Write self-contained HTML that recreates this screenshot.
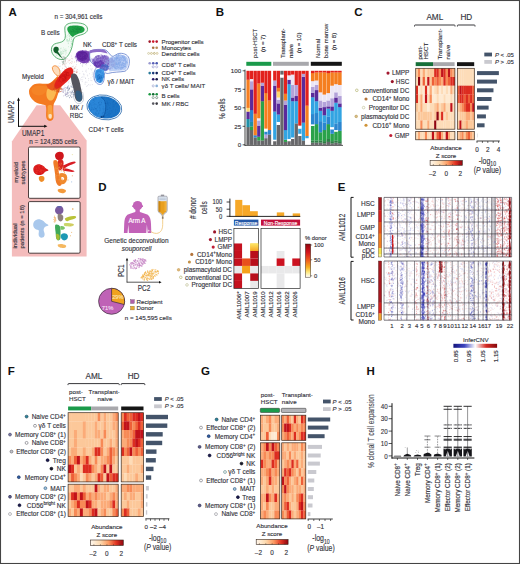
<!DOCTYPE html>
<html lang="en"><head><meta charset="utf-8"><title>Figure</title>
<style>
html,body{margin:0;padding:0;background:#fff;}
body{width:520px;height:564px;overflow:hidden;}
svg{display:block;font-family:"Liberation Sans", sans-serif;}
</style></head><body>
<svg width="520" height="564" viewBox="0 0 520 564">
<rect x="0.00" y="0.00" width="520.00" height="564.00" fill="#fff"/>
<path d="M36.6 105.2 L60.2 105.2 L86.6 140.6 L86.6 256.4 L11.9 256.4 L11.9 141.6 Z" fill="#f4bcbc"/>
<g>
<path d="M74.2 78.3h.01M74.5 68.1h.01M65.0 69.6h.01M92.6 76.6h.01M92.1 74.8h.01M84.0 74.3h.01M60.2 79.5h.01M85.4 78.0h.01M63.1 59.4h.01M65.7 66.7h.01M82.7 71.4h.01M85.5 64.5h.01M82.7 76.9h.01M70.9 87.2h.01M85.1 84.4h.01M69.4 63.6h.01M72.7 70.7h.01M87.3 75.0h.01M71.9 61.3h.01M71.4 84.7h.01M66.5 74.9h.01M83.1 57.5h.01M78.6 85.6h.01M57.7 69.3h.01M76.5 62.4h.01M85.5 71.2h.01M61.3 79.7h.01M86.9 82.3h.01M95.4 75.6h.01M79.5 58.4h.01M86.7 64.9h.01M72.3 58.9h.01M65.0 66.1h.01M89.5 57.2h.01M60.3 74.4h.01M95.1 77.6h.01M64.8 57.7h.01M83.1 63.4h.01M64.4 81.7h.01M92.8 73.7h.01M81.7 77.4h.01M96.0 77.7h.01M85.5 78.5h.01M62.1 82.6h.01M90.9 77.9h.01M58.3 66.8h.01M86.6 56.8h.01M75.5 83.4h.01M64.9 85.1h.01M86.2 70.2h.01M82.7 79.8h.01M79.6 84.5h.01M68.4 67.1h.01M92.2 72.3h.01M66.7 81.9h.01M95.5 67.7h.01M60.8 70.6h.01M75.7 68.3h.01M93.7 62.6h.01M91.9 60.6h.01M67.2 79.1h.01M91.9 80.7h.01M83.3 73.8h.01M80.3 79.0h.01M75.3 75.5h.01M86.6 72.0h.01M88.7 78.5h.01M98.3 74.7h.01M71.6 67.4h.01M77.8 82.6h.01M72.9 76.8h.01M90.8 57.4h.01M63.0 74.7h.01M84.0 75.0h.01M71.8 79.7h.01M82.2 65.6h.01M99.2 74.5h.01M69.7 70.8h.01M74.5 71.2h.01M56.6 68.9h.01M90.0 60.6h.01M77.1 82.9h.01M87.6 85.7h.01M59.0 68.8h.01M73.0 79.5h.01M86.2 55.5h.01M89.9 59.1h.01M85.9 57.9h.01M80.3 84.8h.01M75.7 74.4h.01M89.5 73.7h.01M76.9 87.0h.01M92.2 68.8h.01M98.2 65.1h.01M90.8 69.0h.01M79.9 80.4h.01M81.3 79.7h.01M63.2 60.0h.01M86.2 61.5h.01M66.7 58.8h.01M93.4 79.4h.01M94.4 63.5h.01M78.0 59.6h.01M86.5 86.4h.01M68.2 86.0h.01M91.6 70.0h.01M60.6 82.2h.01M76.6 64.7h.01M84.0 77.0h.01M94.3 62.9h.01M90.1 85.0h.01M95.7 70.2h.01M68.4 82.8h.01M79.8 73.6h.01M95.4 69.4h.01M57.0 69.1h.01M59.2 78.8h.01M82.7 64.7h.01M77.9 81.7h.01M79.0 85.8h.01M77.2 83.6h.01M92.3 84.6h.01M69.0 81.7h.01M59.9 63.4h.01M59.5 80.2h.01M62.0 71.9h.01M75.0 71.6h.01M69.2 74.8h.01M97.7 72.4h.01M85.1 82.9h.01M75.5 58.7h.01M70.7 83.5h.01M59.7 66.6h.01M90.9 80.3h.01M78.1 81.5h.01M80.2 59.3h.01M60.2 66.1h.01M90.5 65.7h.01M66.1 63.7h.01M59.7 70.9h.01M62.6 75.9h.01M56.9 74.4h.01M71.5 56.0h.01M88.5 68.7h.01M58.1 65.6h.01M82.4 66.4h.01M88.6 80.3h.01M87.7 75.9h.01M94.1 78.5h.01M82.4 55.3h.01M88.5 84.6h.01M73.6 66.2h.01M94.0 60.1h.01M82.1 89.2h.01M65.7 79.5h.01M98.0 71.0h.01M85.6 82.0h.01M65.3 71.0h.01M82.2 81.6h.01M77.5 69.5h.01" stroke="#8a8ab0" stroke-width="0.50" stroke-linecap="round" fill="none" opacity="0.55"/>
<path d="M65.0 65.8h.01M74.6 68.7h.01M65.9 63.0h.01M77.3 71.9h.01M71.9 58.4h.01M73.3 71.2h.01M76.8 70.2h.01M69.6 71.6h.01M63.3 72.5h.01M71.7 63.4h.01M74.5 75.7h.01M64.0 64.4h.01M71.6 69.3h.01M68.0 62.0h.01M77.0 72.3h.01M65.2 61.3h.01M76.4 72.6h.01M76.8 71.8h.01M65.5 69.7h.01M62.7 64.8h.01M69.7 71.6h.01M66.1 67.2h.01M72.5 70.6h.01M73.4 69.4h.01M68.3 73.1h.01M70.3 62.6h.01M66.6 68.0h.01M69.4 69.1h.01M70.0 69.2h.01M69.4 60.6h.01M72.0 74.4h.01M72.4 66.7h.01M72.2 62.0h.01M62.7 68.3h.01M65.5 72.4h.01M67.0 58.8h.01M66.0 75.6h.01M68.3 60.3h.01M66.1 71.3h.01M72.7 69.2h.01M76.2 71.7h.01M69.9 72.0h.01M76.3 72.6h.01M74.5 62.0h.01M69.2 72.8h.01M68.6 74.5h.01M72.9 73.6h.01M69.3 77.8h.01M75.8 66.7h.01M70.3 77.8h.01M68.3 73.6h.01M74.9 68.0h.01M64.4 69.1h.01M71.7 74.8h.01M74.1 68.2h.01M74.3 71.4h.01M71.2 68.4h.01M68.7 72.5h.01M65.0 64.3h.01M70.0 59.9h.01" stroke="#c05040" stroke-width="0.50" stroke-linecap="round" fill="none" opacity="0.6"/>
<path d="M64.8 28 C65 24 70 22.6 75 22.8 C80 23 86 23.2 87.4 28 C88.4 32 84.5 34 80.5 35 C76.5 36 74 37 73.3 40 C72.5 43.5 72.5 46.5 71 50 C69.5 54 66 59.5 62 59.6 C57 59.6 51.5 55 51.4 49.8 C51.3 46 53.5 44 56.5 43.3 C60 42.5 64 42 65 38.5 C66 35 64.6 31.5 64.8 28 Z" fill="#f4fbf5" stroke="#2a9a48" stroke-width="0.75"/>
<path d="M69.2 32.7h.01M68.2 42.9h.01M71.5 39.7h.01M69.5 33.7h.01M73.5 42.0h.01M72.5 36.0h.01M69.6 32.8h.01M71.9 44.4h.01M66.3 39.8h.01M71.2 33.2h.01M66.7 36.2h.01M68.6 33.9h.01M70.1 41.4h.01M71.6 43.6h.01M72.9 44.5h.01M67.0 37.7h.01M67.7 35.3h.01M69.8 40.0h.01M71.0 33.4h.01M67.1 39.9h.01M69.4 38.3h.01M69.8 36.0h.01M71.8 41.9h.01M69.8 36.4h.01M69.7 32.1h.01M67.5 40.2h.01M66.7 40.9h.01M70.3 33.8h.01M69.3 38.3h.01M71.2 43.2h.01M69.9 35.6h.01M69.6 39.6h.01M71.9 41.5h.01M68.4 34.1h.01M69.0 36.1h.01M67.3 39.4h.01M68.7 40.6h.01M71.4 37.8h.01M73.8 38.9h.01M72.7 40.6h.01M71.7 32.9h.01M68.0 41.3h.01M71.0 47.5h.01M70.7 45.9h.01M71.8 44.5h.01M71.4 39.1h.01M71.2 34.8h.01M72.5 35.6h.01M70.4 47.5h.01M69.4 40.1h.01M72.8 40.1h.01M67.9 41.3h.01M71.5 43.6h.01M68.5 46.7h.01M73.5 40.1h.01M70.7 37.7h.01M73.0 37.0h.01M71.8 37.5h.01M68.3 43.6h.01M73.1 40.0h.01" stroke="#7fcf96" stroke-width="0.60" stroke-linecap="round" fill="none" opacity="0.6"/>
<path d="M58.5 54.5h.01M60.8 53.1h.01M65.4 54.7h.01M59.7 56.7h.01M61.0 54.6h.01M58.4 51.9h.01M56.9 55.5h.01M65.0 49.0h.01M57.1 48.5h.01M65.1 50.7h.01M60.7 50.9h.01M60.6 48.7h.01M61.1 48.0h.01M60.7 53.1h.01M62.9 51.2h.01M57.5 52.5h.01M59.5 56.1h.01M64.0 51.6h.01M59.2 49.7h.01M57.5 50.9h.01M62.2 53.7h.01M62.5 56.6h.01M58.2 52.0h.01M66.0 49.2h.01M58.9 52.6h.01M61.6 53.4h.01M60.0 53.3h.01M61.2 54.5h.01M55.9 50.0h.01M61.0 48.8h.01M57.3 53.9h.01M58.5 54.0h.01M63.9 53.0h.01M63.1 51.6h.01M56.2 51.9h.01M62.8 50.2h.01M60.6 54.5h.01M57.8 54.0h.01M66.3 50.7h.01M61.6 51.5h.01M66.0 52.8h.01M64.3 49.9h.01M60.9 52.0h.01M56.5 55.0h.01M63.5 47.9h.01M63.9 51.6h.01M62.8 53.2h.01M56.1 51.4h.01M65.8 50.5h.01M57.8 48.5h.01M56.7 53.0h.01M66.1 53.1h.01M61.6 56.8h.01M59.0 49.8h.01M63.1 53.8h.01M57.7 48.8h.01M62.2 52.9h.01M56.5 51.4h.01M58.8 53.5h.01M60.5 51.7h.01M59.7 55.2h.01M65.7 51.0h.01M64.1 49.7h.01M61.3 54.5h.01M65.9 51.0h.01M60.7 52.7h.01M56.1 52.0h.01M58.3 53.2h.01M58.1 47.8h.01M61.2 52.9h.01" stroke="#8fd4a2" stroke-width="0.60" stroke-linecap="round" fill="none" opacity="0.55"/>
<path d="M67.3 28.5 C67.6 25.8 72 25.4 76 25.6 C80 25.8 84.2 26.4 84.6 29.2 C84.8 32 81.5 32.8 79 33.6 C76.5 34.5 74.5 35.5 73 37 C71.5 36.5 70 34.5 69 33 C67.8 31.5 67.1 30 67.3 28.5 Z" fill="#1fa045"/>
<path d="M73.6 31.2h.01M74.7 28.3h.01M77.8 27.0h.01M72.8 29.5h.01M79.8 29.2h.01M77.4 28.2h.01M77.1 32.1h.01M74.1 32.3h.01M73.0 29.5h.01M76.8 31.4h.01M72.5 27.0h.01M78.7 31.0h.01M77.6 32.4h.01M77.0 30.0h.01M80.1 30.2h.01M81.3 27.8h.01M75.2 26.5h.01M79.7 28.8h.01M78.7 32.2h.01M76.0 29.0h.01M73.8 27.9h.01M73.2 30.7h.01M76.2 29.6h.01M75.2 31.2h.01M78.4 29.2h.01M79.1 29.2h.01M72.1 31.6h.01M78.0 27.7h.01M80.6 30.1h.01M71.3 31.6h.01M77.5 31.2h.01M77.0 29.2h.01M70.7 30.9h.01M76.1 28.9h.01M77.7 29.7h.01M79.1 28.8h.01M75.9 26.7h.01M74.1 30.8h.01M81.3 28.9h.01M75.5 32.0h.01" stroke="#14853a" stroke-width="0.80" stroke-linecap="round" fill="none" opacity="0.8"/>
<path d="M53.8 48 C54.5 46.4 57.4 46.2 58.4 47.8 C59.2 49.4 58.6 50.8 57.8 51.6 C59.2 53.5 61 56 62.6 58.8 C60.8 57.2 58.6 55 57 53.4 C55.2 53.4 53.6 52 53.4 50.2 C53.3 49.2 53.4 48.6 53.8 48 Z" fill="#14602c"/>
<path d="M63.0 62.4h.01M65.4 60.6h.01M65.0 58.9h.01M63.8 60.3h.01M63.7 63.2h.01M65.6 59.5h.01M62.7 61.8h.01M62.1 61.7h.01M64.3 59.8h.01M64.1 57.2h.01M64.4 57.3h.01M62.5 59.1h.01M62.9 62.7h.01M63.6 59.4h.01M64.1 63.8h.01M63.5 61.5h.01M65.1 61.1h.01M62.5 64.0h.01M65.1 57.8h.01M63.4 61.7h.01M64.8 62.1h.01M63.1 57.9h.01M63.6 63.1h.01M62.2 58.2h.01M63.5 56.8h.01" stroke="#506a58" stroke-width="0.50" stroke-linecap="round" fill="none" opacity="0.7"/>
<path d="M75.9 56 C75.2 52 79 50.2 83.5 50.4 C88 50.6 91 52 91.3 55.5 C91.6 59 89.5 62 86 63 C81.5 64 76.6 61 75.9 56 Z" fill="#7b45b5"/>
<path d="M76.8 55.5 C76.6 52.5 80 51 83.5 51.4 C86.5 51.8 88.2 53.5 87.8 56.5 C87.4 59.5 84.5 61.3 81.5 60.8 C78.8 60.2 77 58.2 76.8 55.5 Z" fill="#5a2098"/>
<path d="M82.0 54.9h.01M86.0 53.8h.01M78.8 55.3h.01M83.2 53.9h.01M83.6 60.5h.01M88.1 62.4h.01M79.2 55.1h.01M76.8 61.2h.01M79.4 56.8h.01M86.0 51.7h.01M86.2 56.9h.01M75.9 58.0h.01M87.9 51.4h.01M88.0 58.0h.01M86.2 59.1h.01M89.9 56.1h.01M88.2 55.2h.01M87.3 53.5h.01M83.0 63.2h.01M86.1 56.2h.01M78.0 53.9h.01M84.5 61.2h.01M85.9 59.5h.01M83.3 62.4h.01M81.3 54.4h.01M88.4 57.3h.01M81.9 54.3h.01M82.0 59.9h.01M85.3 52.0h.01M86.0 57.9h.01M78.5 60.2h.01M81.9 55.4h.01M87.2 62.0h.01M79.7 59.0h.01M80.6 63.4h.01M81.1 61.9h.01M80.1 60.5h.01M89.1 51.7h.01M81.0 59.3h.01M83.0 53.9h.01M91.6 57.2h.01M76.7 59.9h.01M76.9 60.7h.01M80.2 57.7h.01M89.8 57.5h.01M78.4 51.8h.01M89.2 59.9h.01M79.3 60.6h.01M86.3 60.0h.01M75.4 56.1h.01M88.1 60.1h.01M86.3 50.5h.01M84.5 59.4h.01M91.4 54.6h.01M81.5 57.2h.01M88.2 55.0h.01M89.0 53.9h.01M85.0 54.5h.01M84.4 53.8h.01M77.0 60.6h.01M85.2 54.4h.01M84.6 61.3h.01M78.3 56.5h.01M86.5 59.4h.01M82.2 50.5h.01M89.7 58.3h.01M83.6 55.6h.01M85.0 55.0h.01M78.4 54.0h.01M80.2 54.2h.01M77.8 59.6h.01M77.3 59.6h.01M78.2 58.5h.01M90.1 57.8h.01M79.4 57.2h.01M84.1 50.8h.01M80.0 57.8h.01M80.8 57.4h.01M87.4 60.3h.01M88.2 59.5h.01M81.8 56.9h.01M81.9 55.5h.01M82.7 50.9h.01M81.5 56.9h.01M78.3 56.9h.01M86.5 56.2h.01M88.8 51.5h.01M82.6 50.7h.01M86.4 63.5h.01M75.2 57.3h.01M86.5 55.6h.01M85.5 50.4h.01M88.1 58.7h.01M83.6 54.2h.01M87.0 54.8h.01M84.8 54.6h.01M75.3 56.9h.01M84.6 60.5h.01M78.7 56.9h.01M87.0 57.7h.01M87.9 62.7h.01M80.1 51.0h.01M87.2 62.4h.01M88.1 60.4h.01M80.2 53.8h.01M87.9 53.3h.01M76.5 53.8h.01M90.2 61.3h.01M79.8 53.8h.01M84.8 53.6h.01M89.9 56.7h.01M78.8 61.7h.01M80.2 58.0h.01M83.4 55.5h.01M85.3 53.8h.01M78.1 51.7h.01M77.6 54.1h.01M83.4 57.3h.01M86.7 57.6h.01M79.3 53.9h.01M75.5 56.5h.01M86.2 59.5h.01M82.8 56.1h.01M88.6 57.1h.01M87.5 59.6h.01M84.5 62.3h.01M80.2 55.3h.01M79.3 53.6h.01M88.9 62.1h.01M83.6 59.7h.01" stroke="#6a35a8" stroke-width="0.64" stroke-linecap="round" fill="none" opacity="0.8"/>
<path d="M90.3 51 C94 49.2 101 49 105 49.8 C108 50.5 109.5 55 112 56.3 C114.5 57 116 53.5 120 53.3 C124.5 53.2 128.8 55 129.3 60 C129.8 65 128 70 125 71.2 C120 72.3 113 71.8 108.5 73.4 C106.5 74 105.5 72.5 104.6 72.8 C104.2 76 104.8 80.5 102.5 83.4 C100.5 85.5 96.5 84.3 95 81 C93.5 77.5 93.6 72.5 95 69.8 C96 68 97.2 67.5 96.3 66 C94.5 64.5 91.5 63.5 90.5 61 C89.5 58 89.2 53.5 90.3 51 Z" fill="#fbfbff" stroke="#5a78c8" stroke-width="0.75"/>
<path d="M91.5 58 C93 60 97 58.6 100 57 C103 55.6 106 54 108.5 56.5 C110.5 59 110.5 64 109.5 68 C108.5 71 105 72 101.5 70 C98 68.5 97.5 66.5 95.5 65 C93 63.5 91 61 91.5 58 Z" fill="#a594dc"/>
<path d="M109 58 C111 57.5 114.5 58 117 55.5 C120 54 125 54.5 127.4 57.5 C129 61 128.4 67 125.5 69.8 C121 71.2 113 70.8 109.5 71.4 C108.5 68 108.4 62 109 58 Z" fill="#bccff4"/>
<ellipse cx="95" cy="55.2" rx="3.8" ry="2.4" fill="#fff"/>
<path d="M89.5 50.6 C93 49.2 100 49 104.5 49.9 C106 50.6 107 52 107.6 53.6 C104 52.2 100.5 51.8 97 52 C94 52.2 91.5 52.8 89.5 53.6 Z" fill="#8f6cc8"/>
<path d="M106.6 64.4h.01M106.2 57.3h.01M97.4 63.4h.01M107.8 61.9h.01M96.3 60.0h.01M97.5 58.1h.01M107.7 59.4h.01M101.1 67.7h.01M107.0 62.8h.01M97.6 63.3h.01M108.0 63.6h.01M107.3 61.9h.01M104.0 60.6h.01M103.1 66.3h.01M94.2 61.3h.01M102.4 59.0h.01M99.3 64.8h.01M108.6 63.3h.01M102.5 56.1h.01M108.8 61.7h.01M100.8 57.1h.01M100.7 57.1h.01M101.4 63.6h.01M101.2 62.8h.01M97.2 66.3h.01M98.4 55.9h.01M100.0 58.2h.01M95.7 60.1h.01M102.5 56.9h.01M100.3 66.7h.01M104.9 60.8h.01M101.8 61.0h.01M100.7 64.7h.01M100.7 55.2h.01M100.9 57.8h.01M104.6 59.0h.01M101.6 67.7h.01M96.2 57.5h.01M96.7 56.0h.01M93.4 62.6h.01M98.5 55.8h.01M94.3 63.6h.01M96.7 60.0h.01M102.6 66.5h.01M108.2 64.4h.01M101.9 62.3h.01M107.4 65.4h.01M99.2 63.5h.01M102.7 61.7h.01M98.6 56.7h.01M98.6 56.2h.01M107.0 63.5h.01M96.0 65.9h.01M104.4 55.9h.01M108.2 63.9h.01M108.1 58.3h.01M104.0 63.3h.01M102.2 62.3h.01M105.4 56.7h.01M95.9 57.1h.01M97.9 58.9h.01M103.2 62.7h.01M101.2 58.6h.01M98.7 65.3h.01M105.3 61.9h.01M99.5 66.9h.01M97.7 64.2h.01M106.9 60.5h.01M105.0 57.4h.01M106.4 62.3h.01M94.1 63.7h.01M96.9 66.0h.01M97.2 60.8h.01M102.7 60.0h.01M102.5 59.1h.01M104.8 61.5h.01M101.6 55.1h.01M107.0 61.6h.01M93.4 61.8h.01M103.4 65.7h.01M96.6 66.4h.01M100.5 67.8h.01M100.2 64.4h.01M99.1 57.1h.01M106.2 64.8h.01M107.6 64.3h.01M98.5 56.0h.01M97.5 58.7h.01M96.7 63.9h.01M102.9 60.3h.01M102.0 60.8h.01M102.2 64.7h.01M105.9 58.8h.01M95.2 65.7h.01M101.6 65.9h.01M93.8 60.4h.01M101.1 56.3h.01M98.2 64.5h.01M105.4 66.4h.01M97.2 56.7h.01M103.7 65.3h.01M101.9 56.6h.01M105.1 64.6h.01M104.1 59.4h.01M102.7 64.8h.01M98.7 55.8h.01M102.9 63.6h.01M101.1 65.2h.01M97.6 61.1h.01M99.3 64.0h.01M108.2 60.6h.01M107.7 65.3h.01M105.2 63.9h.01M108.5 60.9h.01M100.4 57.2h.01M103.3 66.4h.01M104.0 63.3h.01M99.8 62.3h.01M94.9 64.9h.01M98.9 57.2h.01M97.1 58.2h.01M105.2 65.4h.01M95.0 64.7h.01M105.7 59.2h.01M94.4 59.0h.01M97.4 63.0h.01M99.6 55.5h.01M102.1 56.1h.01M105.2 57.2h.01M97.4 58.1h.01M98.4 66.3h.01M105.5 63.9h.01M102.5 56.1h.01M98.1 59.1h.01M95.9 63.5h.01M97.1 58.6h.01M97.3 55.9h.01M103.8 66.3h.01M101.9 57.5h.01M92.6 61.9h.01M107.1 62.6h.01M105.0 66.4h.01M106.7 59.8h.01M106.2 64.4h.01M94.0 60.1h.01M94.2 61.1h.01M103.9 57.4h.01M94.0 64.9h.01M102.7 66.7h.01M95.2 65.0h.01M107.1 66.0h.01M99.8 62.7h.01M100.2 65.6h.01M106.5 61.9h.01M94.8 64.1h.01M98.4 64.2h.01M102.2 67.0h.01M106.7 59.8h.01M102.5 67.2h.01M98.0 63.4h.01M106.2 65.7h.01M103.5 56.7h.01M94.7 62.4h.01M102.3 67.8h.01M96.9 65.6h.01M104.2 56.2h.01M96.5 62.2h.01M98.1 60.8h.01M103.5 58.2h.01M103.6 58.8h.01M98.0 63.8h.01M97.7 62.8h.01M108.2 61.6h.01M100.2 64.7h.01M99.1 65.8h.01M94.9 63.8h.01M98.2 58.2h.01M108.1 58.9h.01M108.2 63.6h.01M107.2 58.3h.01M105.9 66.1h.01M100.3 60.9h.01M109.3 62.0h.01M98.6 58.8h.01M103.6 63.0h.01M101.8 67.2h.01M99.1 63.6h.01M107.2 58.2h.01M105.0 66.8h.01M95.2 57.9h.01M97.1 56.1h.01M102.8 55.7h.01M103.3 66.6h.01M93.8 60.4h.01M93.6 63.8h.01M96.9 60.4h.01M101.3 63.9h.01M98.9 61.6h.01M97.8 62.0h.01M95.0 61.7h.01M93.3 60.0h.01M108.8 61.7h.01M94.8 62.5h.01M97.0 56.4h.01M97.1 64.5h.01M103.3 61.1h.01M96.6 57.6h.01M107.5 62.4h.01M97.6 55.8h.01M96.9 67.1h.01M95.1 61.2h.01M102.3 60.8h.01M99.7 56.5h.01M96.8 66.6h.01M97.1 64.8h.01M93.6 60.6h.01M102.4 65.7h.01M95.4 63.8h.01M103.1 58.4h.01M103.5 57.9h.01M96.6 61.4h.01M92.6 61.2h.01M96.7 56.7h.01M98.7 64.7h.01M99.0 66.2h.01M96.0 57.2h.01M108.0 62.9h.01M105.7 58.3h.01M105.4 62.6h.01M104.7 61.6h.01M106.8 59.1h.01M96.9 56.7h.01M106.6 58.8h.01M96.0 58.1h.01M98.8 56.8h.01M99.4 58.8h.01M98.1 57.7h.01M101.2 59.4h.01M101.7 62.6h.01M102.2 55.4h.01M98.1 58.2h.01M104.3 56.3h.01M97.0 60.2h.01M99.2 65.5h.01M98.7 65.4h.01M95.8 56.6h.01M107.0 63.1h.01M103.8 62.0h.01M103.4 56.9h.01M106.0 59.4h.01M106.3 61.9h.01M94.1 58.1h.01M106.8 61.0h.01M98.7 62.6h.01M98.6 59.1h.01M101.6 62.2h.01M108.0 61.7h.01M107.0 65.9h.01M107.7 64.7h.01M101.8 62.1h.01M100.2 58.4h.01M100.6 58.7h.01M108.1 63.3h.01M99.2 55.6h.01M100.7 59.6h.01M96.1 57.5h.01M93.0 63.0h.01M100.8 67.9h.01M100.8 60.8h.01M107.8 62.0h.01M102.0 59.8h.01M98.3 66.6h.01M105.0 66.7h.01M98.9 61.6h.01M96.7 65.1h.01M94.5 63.5h.01M105.7 66.1h.01M96.5 65.5h.01M97.2 58.4h.01M95.3 65.3h.01M108.1 59.5h.01M96.8 60.1h.01M108.8 63.9h.01M98.8 55.8h.01M97.7 65.9h.01M108.7 60.7h.01M97.2 59.4h.01M93.8 64.2h.01M96.0 65.3h.01M94.5 57.8h.01M102.6 58.3h.01M105.4 61.5h.01M95.2 63.8h.01M104.2 55.9h.01M108.5 63.1h.01M104.0 55.9h.01M97.0 60.0h.01M105.5 56.8h.01M97.8 55.8h.01M99.6 63.1h.01M93.8 59.6h.01M103.3 66.9h.01M104.7 60.2h.01M95.5 58.2h.01M97.2 62.1h.01M100.8 67.1h.01M102.5 57.2h.01M107.5 64.6h.01M101.6 58.4h.01M93.9 58.5h.01M105.6 58.4h.01M94.5 62.2h.01M102.4 64.1h.01M104.0 66.4h.01M96.8 65.2h.01M96.0 64.2h.01M102.1 62.6h.01M106.2 61.4h.01M106.3 64.7h.01M101.8 59.0h.01M96.9 59.3h.01M99.8 61.4h.01M109.3 62.9h.01M105.0 58.1h.01M97.0 60.1h.01M102.0 57.3h.01M108.0 59.6h.01M104.5 55.7h.01M101.0 62.8h.01M102.1 64.1h.01M102.7 62.2h.01M93.6 59.4h.01M93.0 63.1h.01M102.8 60.6h.01M96.6 59.1h.01M107.1 65.9h.01M100.7 66.4h.01M95.7 56.6h.01M98.4 57.9h.01M97.8 62.3h.01M109.3 60.1h.01M101.3 62.8h.01M100.8 65.4h.01M107.6 58.0h.01M102.0 60.3h.01M102.6 56.2h.01M95.9 56.4h.01M104.0 62.3h.01M101.3 55.2h.01M98.9 58.3h.01M94.8 58.4h.01M104.8 63.8h.01M100.9 63.8h.01M97.5 61.8h.01M101.2 64.0h.01M100.6 60.8h.01M100.2 58.7h.01M109.0 62.9h.01M102.5 67.7h.01M106.4 56.9h.01M104.6 64.8h.01M107.7 65.1h.01M104.7 57.2h.01M96.3 62.6h.01M103.6 57.5h.01M98.8 59.7h.01M101.4 63.0h.01M99.6 56.8h.01M105.9 66.3h.01M100.4 65.6h.01M103.5 64.3h.01M103.6 58.3h.01M103.9 65.5h.01M97.6 67.1h.01M107.3 65.7h.01M108.5 63.7h.01M99.1 58.9h.01M96.5 62.0h.01M100.8 64.4h.01M95.4 66.4h.01M109.2 61.4h.01M104.7 63.5h.01M102.6 60.6h.01M100.3 58.0h.01M102.1 61.4h.01M102.7 57.9h.01M101.2 61.7h.01M104.0 57.4h.01M103.2 65.4h.01M104.4 59.9h.01M98.2 60.5h.01M104.2 66.7h.01M100.1 58.7h.01M103.2 62.4h.01M96.4 58.6h.01M100.4 64.4h.01M95.6 58.0h.01M103.4 56.9h.01M101.6 63.1h.01M100.4 57.4h.01M100.6 60.0h.01M102.8 58.0h.01M105.3 56.4h.01M99.9 61.5h.01M106.0 59.1h.01M104.0 59.1h.01M104.0 67.0h.01M98.7 63.4h.01M96.5 65.1h.01M107.1 61.6h.01M95.2 63.1h.01M106.2 65.3h.01M104.2 56.0h.01M97.9 66.4h.01M95.6 65.3h.01M108.4 63.8h.01M106.7 60.2h.01M94.8 61.1h.01M99.8 61.3h.01M104.9 60.9h.01" stroke="#7a5ac0" stroke-width="0.66" stroke-linecap="round" fill="none" opacity="0.85"/>
<path d="M99.7 65.1h.01M99.0 67.3h.01M100.5 64.2h.01M98.3 62.5h.01M102.8 64.3h.01M95.8 62.8h.01M98.5 62.9h.01M101.9 61.8h.01M100.7 64.4h.01M95.5 64.1h.01M98.7 65.2h.01M97.5 64.7h.01M95.1 62.2h.01M101.3 66.2h.01M99.0 62.5h.01M101.2 60.9h.01M96.5 65.5h.01M100.9 61.8h.01M95.2 66.1h.01M99.5 61.9h.01M99.2 66.1h.01M94.4 65.4h.01M100.6 60.8h.01M100.8 61.0h.01M102.4 64.9h.01M103.7 63.1h.01M99.0 66.3h.01M97.0 62.4h.01M97.7 63.8h.01M95.8 65.0h.01M100.9 64.2h.01M103.3 63.4h.01M102.7 62.9h.01M100.7 60.8h.01M99.7 63.6h.01M97.4 62.6h.01M97.9 62.3h.01M94.4 63.1h.01M97.2 62.8h.01M95.7 63.7h.01M101.6 63.4h.01M97.6 66.7h.01M101.8 65.9h.01M102.4 63.3h.01M98.6 66.4h.01M97.1 63.7h.01M100.3 64.9h.01M98.1 66.2h.01M98.4 65.7h.01M102.1 65.4h.01M101.1 61.6h.01M95.4 62.8h.01M100.3 66.9h.01M95.4 64.6h.01M96.4 62.4h.01M98.1 65.6h.01M99.6 66.5h.01M96.2 65.8h.01M102.0 64.2h.01M100.6 62.7h.01M95.7 63.1h.01M97.9 67.5h.01M97.8 67.0h.01M99.7 64.8h.01M101.3 62.3h.01M101.9 64.9h.01M95.0 65.1h.01M100.8 65.1h.01M103.2 63.2h.01M100.6 65.7h.01M96.5 66.4h.01M95.6 61.8h.01M100.6 61.7h.01M98.7 60.9h.01M99.2 61.5h.01M99.9 61.0h.01M100.5 63.3h.01M99.2 63.8h.01M99.4 61.3h.01M94.1 64.0h.01M96.1 63.0h.01M100.0 60.7h.01M96.6 62.6h.01M95.8 64.7h.01M98.5 62.1h.01M96.1 65.7h.01M96.9 65.4h.01M100.1 60.8h.01M95.7 64.0h.01M100.1 65.8h.01M101.3 66.2h.01M97.7 63.5h.01M101.5 63.0h.01M101.5 61.3h.01M101.2 63.6h.01M94.7 65.5h.01M100.1 64.1h.01M95.8 63.0h.01M102.9 62.5h.01M94.1 63.1h.01M95.4 63.7h.01M97.8 61.9h.01M96.6 66.2h.01M96.1 66.8h.01M97.4 61.7h.01M101.5 65.3h.01M96.0 65.6h.01M94.8 62.5h.01M102.4 63.4h.01M95.3 65.0h.01M101.9 63.9h.01M94.6 63.4h.01M100.3 65.8h.01M103.5 63.6h.01M97.3 63.9h.01M102.3 62.2h.01M101.1 60.8h.01M101.5 62.5h.01M100.5 65.6h.01M95.5 63.8h.01M99.8 65.4h.01M96.3 62.0h.01M96.0 66.9h.01M98.3 63.4h.01M95.2 65.7h.01M97.5 66.8h.01M101.8 64.0h.01M101.1 61.7h.01M97.9 62.6h.01M95.3 64.0h.01M98.6 66.9h.01M94.1 63.3h.01M96.1 63.0h.01M100.4 65.0h.01M99.1 62.8h.01M100.7 64.9h.01M94.5 63.5h.01M95.6 61.9h.01M99.5 64.2h.01M99.4 62.0h.01M98.4 61.9h.01M100.3 65.6h.01M102.9 66.0h.01M96.4 62.9h.01M96.0 64.7h.01M103.4 65.1h.01M94.7 62.2h.01M95.3 65.0h.01M99.0 64.8h.01M103.2 62.6h.01M97.1 67.1h.01M100.1 62.2h.01M95.1 61.9h.01M94.1 64.1h.01M99.1 66.2h.01M98.5 62.3h.01M97.3 67.1h.01M94.6 64.3h.01M99.1 65.5h.01M97.6 65.2h.01" stroke="#6438b0" stroke-width="0.66" stroke-linecap="round" fill="none" opacity="0.9"/>
<path d="M123.5 61.3h.01M116.3 61.0h.01M113.8 61.0h.01M117.2 63.1h.01M124.5 66.8h.01M116.5 65.0h.01M120.6 65.7h.01M119.1 63.4h.01M116.5 58.2h.01M123.0 67.2h.01M122.7 64.1h.01M120.5 59.7h.01M111.7 64.4h.01M120.1 59.2h.01M114.6 67.1h.01M113.0 67.1h.01M121.2 69.1h.01M114.9 61.9h.01M116.1 62.8h.01M117.8 58.3h.01M124.3 58.6h.01M116.2 64.7h.01M116.0 59.8h.01M121.1 60.1h.01M112.8 61.5h.01M118.0 68.5h.01M113.8 66.0h.01M114.7 60.3h.01M117.1 63.4h.01M122.5 68.2h.01M116.0 67.5h.01M123.9 65.6h.01M115.1 66.1h.01M118.4 63.8h.01M117.5 65.3h.01M124.1 66.5h.01M117.9 66.7h.01M125.3 58.4h.01M124.8 57.3h.01M122.0 64.9h.01M125.9 63.1h.01M116.4 58.2h.01M113.1 65.2h.01M117.7 58.5h.01M121.9 58.3h.01M116.5 59.7h.01M125.1 66.7h.01M118.3 55.7h.01M120.6 62.4h.01M121.0 64.8h.01M117.3 66.4h.01M123.6 63.0h.01M116.7 59.6h.01M122.4 57.2h.01M118.1 58.3h.01M112.5 64.5h.01M118.8 62.2h.01M122.8 56.3h.01M118.6 63.5h.01M123.0 57.4h.01M123.0 63.1h.01M124.8 66.3h.01M121.0 68.9h.01M119.0 59.8h.01M117.2 57.6h.01M118.9 55.2h.01M118.5 64.2h.01M124.2 60.4h.01M125.4 59.4h.01M118.4 55.2h.01M115.0 58.4h.01M125.7 64.1h.01M113.5 64.3h.01M121.7 60.8h.01M119.1 60.4h.01M116.8 55.6h.01M118.6 67.5h.01M125.7 60.9h.01M114.9 61.0h.01M123.7 63.6h.01M115.8 63.8h.01M117.8 64.6h.01M117.1 56.1h.01M119.3 65.7h.01M113.4 61.5h.01M123.6 60.3h.01M116.6 68.7h.01M123.0 66.4h.01M115.2 67.9h.01M111.9 60.0h.01M122.4 67.4h.01M114.3 59.0h.01M119.8 55.2h.01M122.4 64.7h.01M116.5 64.6h.01M123.2 63.5h.01M121.3 67.9h.01M116.3 62.8h.01M116.4 66.6h.01M116.7 64.3h.01M119.8 62.3h.01M126.4 61.7h.01M125.2 65.2h.01M125.3 61.3h.01M123.6 65.3h.01M115.6 63.3h.01M118.3 61.8h.01M125.0 59.1h.01M113.3 56.8h.01M116.6 58.9h.01M119.1 64.8h.01M126.4 63.1h.01M121.5 58.5h.01M121.7 67.5h.01M123.6 56.0h.01M122.7 67.8h.01M122.5 56.3h.01M117.3 64.9h.01M121.2 58.2h.01M114.7 66.1h.01M113.7 67.0h.01M119.1 63.5h.01M112.8 59.6h.01M122.0 56.3h.01M125.8 57.9h.01M113.0 62.2h.01M121.6 65.4h.01M116.9 61.0h.01M117.7 59.2h.01M111.2 64.6h.01M120.4 62.8h.01M115.6 63.2h.01M118.9 61.6h.01M123.2 56.2h.01M120.3 57.2h.01M117.6 68.0h.01M113.5 61.6h.01M116.0 66.2h.01M115.1 56.1h.01M121.8 60.3h.01M117.4 66.8h.01M114.4 60.3h.01M119.8 64.1h.01M116.4 66.6h.01M127.0 60.7h.01M124.6 56.5h.01M125.5 60.6h.01M119.8 60.3h.01M116.0 56.8h.01M117.1 67.4h.01M124.6 60.5h.01M116.2 58.7h.01M114.6 67.9h.01M122.6 62.6h.01M116.5 57.5h.01M124.9 65.1h.01M114.5 66.1h.01M113.6 64.7h.01M114.1 60.1h.01M121.7 64.1h.01M123.8 58.5h.01M125.0 66.5h.01M118.9 64.3h.01M114.8 61.3h.01M112.7 62.4h.01M119.9 67.6h.01M123.6 65.5h.01M117.0 60.9h.01M117.1 63.1h.01M111.7 64.6h.01M112.2 60.0h.01M119.1 59.5h.01M126.2 61.6h.01M125.2 66.1h.01M116.3 63.9h.01M125.2 60.6h.01M119.5 59.3h.01M119.3 60.2h.01M119.4 66.6h.01M125.5 62.6h.01M120.1 66.0h.01M117.5 57.3h.01M124.1 58.2h.01M123.4 57.9h.01M125.9 58.5h.01M122.6 67.6h.01M115.0 67.5h.01M115.7 55.8h.01M122.7 65.2h.01M118.3 54.7h.01M118.7 60.5h.01M116.9 60.6h.01M111.7 60.0h.01M125.2 66.7h.01M117.1 58.6h.01M121.0 66.7h.01M122.4 57.1h.01M119.9 62.7h.01M124.8 66.3h.01M121.5 67.1h.01M117.2 68.0h.01M116.6 63.9h.01M123.4 58.1h.01M116.2 55.7h.01M119.9 61.7h.01M117.2 64.4h.01M111.1 61.9h.01M119.5 60.7h.01M122.2 68.2h.01M116.7 57.8h.01M115.7 62.5h.01M122.0 58.1h.01M123.6 57.8h.01M123.3 64.0h.01M120.7 68.9h.01M117.5 61.2h.01M121.5 65.9h.01M112.7 63.1h.01M115.1 64.9h.01M125.5 62.2h.01M118.4 62.9h.01M110.8 63.9h.01M122.1 62.8h.01M116.9 58.6h.01M118.1 67.2h.01M118.5 67.6h.01M110.8 60.7h.01M120.6 61.9h.01M112.1 59.6h.01M124.2 57.3h.01M114.5 57.6h.01M116.1 65.0h.01M121.2 55.3h.01M125.5 59.7h.01M116.5 68.2h.01M118.6 56.7h.01M115.7 58.7h.01M113.9 60.5h.01M123.6 63.6h.01M115.2 68.7h.01M113.9 62.5h.01M119.2 65.6h.01M117.2 64.2h.01M126.9 62.3h.01M113.6 63.5h.01M114.8 60.3h.01M120.1 63.7h.01M117.5 65.9h.01M118.1 56.5h.01M123.6 60.3h.01M124.7 59.3h.01M122.1 63.5h.01M111.6 58.4h.01M114.3 67.2h.01M111.9 65.0h.01M124.4 64.2h.01M122.6 59.7h.01M118.9 63.1h.01M121.3 65.3h.01M117.9 58.6h.01M115.9 64.0h.01M112.7 57.8h.01M116.7 59.3h.01M118.2 54.7h.01M117.1 60.7h.01M121.9 55.5h.01M117.3 64.3h.01M121.4 67.1h.01M123.8 57.8h.01M122.5 60.4h.01M115.6 67.8h.01M115.8 58.2h.01M116.9 58.1h.01M124.1 63.7h.01M125.5 63.7h.01M116.0 66.5h.01M115.5 59.8h.01M118.0 62.2h.01M124.7 59.5h.01M121.0 61.9h.01M113.5 57.8h.01M117.8 64.0h.01M120.8 64.4h.01M119.3 59.8h.01M121.2 57.5h.01M112.7 60.6h.01M112.5 59.9h.01M115.1 59.4h.01M118.8 58.2h.01M117.2 55.6h.01M119.8 57.9h.01M120.2 54.7h.01M114.7 63.1h.01M110.8 60.9h.01M119.5 62.5h.01M112.2 62.9h.01M119.8 57.5h.01M123.1 61.8h.01M119.1 59.8h.01M122.1 62.5h.01M124.6 64.0h.01M115.6 60.9h.01M123.8 60.3h.01M121.1 64.5h.01M118.4 54.8h.01M119.8 63.1h.01M119.7 58.4h.01M125.0 61.4h.01M115.7 58.7h.01M120.8 57.2h.01M115.4 68.4h.01M124.7 66.0h.01M125.3 64.4h.01M112.6 66.0h.01M124.9 64.1h.01M112.1 65.9h.01M125.3 60.0h.01M119.7 65.7h.01M118.6 66.9h.01M119.4 65.4h.01M119.4 56.0h.01M116.5 69.1h.01M120.3 67.5h.01M123.4 67.8h.01M122.0 59.2h.01M119.1 55.2h.01M118.0 66.2h.01M111.0 62.6h.01M122.7 67.3h.01M114.3 59.1h.01M112.0 58.6h.01M121.0 68.8h.01M114.2 67.1h.01M121.4 59.6h.01M124.6 56.4h.01M118.6 63.1h.01M125.4 66.8h.01M127.1 62.4h.01M123.3 67.2h.01M121.9 63.8h.01M118.0 59.9h.01M114.7 68.1h.01M117.3 55.1h.01M120.5 61.8h.01M119.7 68.6h.01M118.4 60.6h.01M114.9 61.9h.01M116.5 63.0h.01M127.4 62.9h.01M115.8 68.4h.01M123.3 65.6h.01M122.7 65.7h.01M122.0 67.6h.01M123.4 67.2h.01M116.2 62.0h.01M115.4 66.2h.01M123.4 59.8h.01M120.8 69.2h.01M124.4 57.7h.01M118.5 65.1h.01M118.8 64.0h.01M124.8 63.4h.01M113.7 65.1h.01M118.4 62.6h.01M116.4 56.4h.01M112.9 60.5h.01M115.9 55.1h.01M124.1 57.5h.01M115.1 64.5h.01M111.7 65.6h.01M115.0 65.0h.01M116.3 63.5h.01M119.6 62.0h.01M112.6 57.5h.01M118.8 67.9h.01M116.0 64.6h.01M119.9 64.4h.01M123.2 56.5h.01M120.6 61.1h.01M117.3 58.0h.01M115.2 57.6h.01M115.6 68.8h.01M126.3 62.0h.01M122.7 57.7h.01M111.9 57.9h.01M119.7 67.9h.01M118.8 57.4h.01M117.7 57.4h.01M112.4 61.0h.01M116.9 58.2h.01M114.7 58.0h.01M120.1 67.8h.01M118.2 69.1h.01M111.9 63.1h.01M113.2 61.3h.01M119.6 64.8h.01M124.5 59.6h.01M112.9 61.2h.01M120.6 58.6h.01M122.6 68.0h.01M112.4 63.5h.01M122.8 55.7h.01M120.2 60.8h.01M113.3 66.6h.01M120.2 59.6h.01M121.4 65.1h.01M123.1 64.7h.01M121.0 56.9h.01M116.6 62.7h.01M112.3 66.6h.01M117.1 57.3h.01M111.5 62.9h.01M119.2 59.1h.01M116.8 57.9h.01M114.9 61.5h.01M115.6 65.2h.01M118.2 62.7h.01M121.0 67.4h.01M122.4 63.1h.01M118.1 58.1h.01" stroke="#86aaea" stroke-width="0.64" stroke-linecap="round" fill="none" opacity="0.85"/>
<path d="M108.9 66.1h.01M110.8 61.9h.01M107.0 59.3h.01M111.0 67.2h.01M111.0 58.9h.01M109.3 64.4h.01M107.2 64.8h.01M109.4 60.3h.01M106.6 66.1h.01M111.1 60.2h.01M107.1 66.5h.01M111.9 62.3h.01M114.2 62.6h.01M107.2 67.0h.01M109.4 64.9h.01M110.1 59.8h.01M106.5 62.8h.01M113.5 60.5h.01M113.8 64.2h.01M106.7 64.5h.01M111.7 60.2h.01M105.3 64.4h.01M106.7 65.1h.01M105.5 63.1h.01M107.9 59.0h.01M109.2 64.2h.01M108.4 59.5h.01M110.5 58.3h.01M111.7 65.4h.01M114.0 66.0h.01M111.2 64.6h.01M110.1 59.0h.01M113.9 65.2h.01M109.2 59.5h.01M113.9 65.2h.01M106.7 65.8h.01M114.5 63.4h.01M111.3 61.9h.01M108.2 67.2h.01M115.0 63.7h.01M109.6 66.5h.01M109.0 66.3h.01M112.4 60.0h.01M106.8 63.2h.01M112.6 64.5h.01M113.0 59.5h.01M111.6 61.1h.01M110.3 64.8h.01M107.0 62.7h.01M106.6 64.4h.01M107.4 61.7h.01M110.7 61.0h.01M113.3 61.3h.01M112.7 64.6h.01M106.9 62.7h.01M107.4 62.1h.01M109.3 68.8h.01M108.9 68.4h.01M111.2 59.1h.01M105.4 65.1h.01M105.6 65.4h.01M113.1 64.9h.01M109.3 62.5h.01M110.9 62.3h.01M108.3 62.1h.01M113.3 61.4h.01M111.1 59.5h.01M108.1 59.1h.01M109.4 66.1h.01M111.0 61.6h.01M112.0 62.2h.01M111.2 64.6h.01M111.0 57.8h.01M106.5 66.0h.01M109.8 69.2h.01M109.2 61.3h.01M113.9 65.2h.01M114.4 64.9h.01M109.3 66.3h.01M107.5 61.8h.01M108.2 62.6h.01M112.4 61.7h.01M111.1 61.5h.01M111.5 57.8h.01M109.3 64.2h.01M107.1 66.8h.01M110.6 67.9h.01M112.8 65.8h.01M109.6 59.6h.01M109.3 61.7h.01M110.8 61.7h.01M114.4 60.7h.01M113.4 61.9h.01M109.3 66.9h.01M110.0 59.3h.01M111.4 62.7h.01M105.4 64.0h.01M107.0 61.0h.01M111.6 64.7h.01M109.4 69.1h.01M111.3 61.1h.01M110.8 63.0h.01M106.0 60.1h.01M107.3 68.3h.01M109.4 62.4h.01M108.3 67.0h.01M110.1 68.7h.01M111.9 68.3h.01M109.6 65.0h.01M108.6 62.8h.01M105.8 61.8h.01M107.2 61.2h.01M113.5 64.4h.01M113.3 66.3h.01M112.6 66.9h.01M108.2 66.4h.01M108.9 61.4h.01M112.3 68.6h.01M107.7 68.3h.01M112.4 60.5h.01M110.9 65.0h.01M111.2 62.1h.01M106.3 63.6h.01M112.5 66.3h.01M111.9 67.3h.01M107.0 63.3h.01M111.0 67.1h.01M110.5 65.5h.01M110.3 69.1h.01M105.3 63.4h.01M114.8 64.1h.01M105.6 63.9h.01M106.2 61.4h.01M110.6 68.7h.01M111.5 66.0h.01M113.1 64.2h.01M107.3 63.1h.01M111.1 62.4h.01M107.9 62.1h.01M106.3 60.5h.01M109.7 62.0h.01M110.1 68.1h.01M111.0 63.4h.01M106.9 60.1h.01M111.2 60.3h.01M111.3 59.7h.01M110.5 63.2h.01M113.0 62.1h.01M108.8 64.5h.01M110.1 68.6h.01M109.2 61.4h.01M109.0 65.4h.01M110.7 66.2h.01M107.6 68.7h.01M114.4 63.4h.01M106.5 64.0h.01M110.9 57.9h.01M110.0 58.7h.01M111.2 68.0h.01M112.5 59.1h.01M113.5 66.3h.01M108.8 65.5h.01M114.0 62.4h.01M109.9 61.3h.01M112.3 58.4h.01M113.6 60.6h.01M112.2 58.8h.01M107.2 61.4h.01M112.0 58.8h.01M111.9 61.1h.01" stroke="#94a4e4" stroke-width="0.64" stroke-linecap="round" fill="none" opacity="0.8"/>
<path d="M107.3 66.9h.01M105.8 67.1h.01M108.0 66.9h.01M104.5 70.7h.01M104.7 69.0h.01M102.6 67.9h.01M100.7 67.7h.01M103.2 64.8h.01M101.7 69.4h.01M105.4 64.7h.01M107.9 66.4h.01M103.5 68.1h.01M102.4 64.9h.01M102.9 69.8h.01M106.3 64.8h.01M107.3 67.6h.01M105.8 67.6h.01M105.5 65.4h.01M102.4 66.1h.01M103.6 68.9h.01M102.3 70.1h.01M102.9 66.2h.01M106.3 68.5h.01M103.7 65.3h.01M102.6 64.8h.01M106.9 69.5h.01M108.0 68.3h.01M105.3 69.2h.01M106.8 66.9h.01M105.1 70.8h.01M101.6 65.4h.01M102.3 69.0h.01M107.2 66.8h.01M106.2 67.4h.01M105.3 66.3h.01M104.4 67.5h.01M106.3 70.5h.01M101.0 68.4h.01M104.5 69.6h.01M106.9 69.0h.01M106.4 65.6h.01M101.7 69.9h.01M107.1 65.7h.01M107.3 68.8h.01M100.8 68.7h.01M102.4 69.7h.01M102.8 65.9h.01M101.2 67.1h.01M106.9 66.1h.01M101.9 70.1h.01M107.9 68.6h.01M103.3 65.1h.01M101.2 68.5h.01M107.1 65.6h.01M104.5 66.8h.01M103.8 68.7h.01M108.1 66.5h.01M106.4 69.6h.01M103.7 67.1h.01M101.8 69.4h.01M103.2 66.1h.01M104.7 65.6h.01M102.0 66.9h.01M107.7 67.1h.01M105.6 64.8h.01M101.6 69.8h.01M103.7 64.7h.01M104.2 68.9h.01M101.3 66.1h.01M105.1 65.5h.01M106.3 69.4h.01M105.7 66.5h.01M104.4 66.1h.01M104.1 68.2h.01M103.8 69.6h.01M108.3 66.8h.01M105.4 69.3h.01M106.2 67.0h.01M103.4 69.6h.01M106.1 68.6h.01M102.5 68.8h.01M106.5 67.1h.01M105.6 70.7h.01M101.0 68.5h.01M102.2 65.2h.01M103.9 68.8h.01M104.6 65.1h.01M101.4 66.5h.01M104.5 65.7h.01M102.0 70.0h.01" stroke="#3c62c4" stroke-width="0.66" stroke-linecap="round" fill="none" opacity="0.85"/>
<path d="M95.6 70.5 C97.5 68.6 102 68.6 104 70.2 C104.6 73 104.3 78 102.4 81.8 C100.6 84 97.4 83 96 80.2 C94.8 77.5 94.6 73 95.6 70.5 Z" fill="#4a9fe8"/>
<path d="M97.4 75.4h.01M98.1 73.6h.01M99.7 74.7h.01M101.1 71.7h.01M97.1 81.0h.01M99.4 79.2h.01M102.4 78.0h.01M99.7 70.6h.01M96.4 79.0h.01M101.4 78.3h.01M97.1 71.0h.01M97.3 72.0h.01M100.0 72.0h.01M103.0 73.9h.01M98.2 79.4h.01M100.5 72.4h.01M101.1 81.6h.01M96.6 75.1h.01M97.7 70.6h.01M101.2 78.8h.01M102.1 77.7h.01M95.7 75.9h.01M98.0 71.7h.01M97.0 78.8h.01M99.0 81.9h.01M100.5 70.2h.01M101.6 80.3h.01M99.7 71.4h.01M102.8 72.3h.01M99.4 70.1h.01M97.3 71.1h.01M102.0 80.0h.01M98.7 71.1h.01M99.4 77.7h.01M96.6 72.4h.01M99.3 79.0h.01M99.8 78.0h.01M97.7 70.3h.01M100.4 72.3h.01M99.2 74.3h.01M100.9 72.9h.01M102.9 76.1h.01M101.0 78.6h.01M102.2 77.6h.01M96.0 74.0h.01M103.3 77.5h.01M101.1 78.0h.01M97.9 73.2h.01M98.1 80.3h.01M100.4 81.7h.01M100.6 81.8h.01M100.7 71.6h.01M103.2 77.1h.01M102.5 76.8h.01M98.7 76.8h.01M97.2 72.0h.01M97.3 73.9h.01M96.4 75.6h.01M100.2 82.0h.01M103.4 75.8h.01M101.9 75.1h.01M100.7 75.9h.01M98.1 76.3h.01M96.3 77.5h.01M98.9 71.8h.01M98.6 78.4h.01M97.8 78.0h.01M100.8 81.2h.01M96.8 75.6h.01M100.7 81.2h.01M100.3 79.2h.01M96.3 74.0h.01M103.2 75.1h.01M103.4 74.0h.01M99.0 70.6h.01M101.4 77.1h.01M103.5 76.5h.01M99.0 70.9h.01M99.4 79.9h.01M101.3 80.4h.01M101.9 75.8h.01M101.3 76.7h.01M97.2 80.9h.01M100.6 71.9h.01M100.7 77.3h.01M101.7 80.7h.01M95.5 77.2h.01M102.8 72.9h.01M95.8 76.9h.01M100.6 77.5h.01M96.8 74.2h.01M100.1 79.2h.01M103.6 76.8h.01M98.6 69.9h.01M102.4 75.5h.01M99.3 72.0h.01M101.1 70.5h.01M99.9 76.5h.01M100.3 80.8h.01M99.3 76.4h.01M101.4 71.0h.01M98.7 76.3h.01M102.0 72.9h.01M101.8 77.6h.01M96.8 71.7h.01M96.3 76.5h.01M100.2 79.1h.01M101.8 73.8h.01M102.2 79.0h.01M100.9 78.1h.01M96.5 77.3h.01M97.3 71.9h.01M98.6 76.6h.01M99.4 74.5h.01M97.0 76.8h.01M97.9 71.1h.01M99.8 81.2h.01M98.6 71.8h.01M102.1 80.8h.01M98.7 75.1h.01M99.9 82.4h.01M100.0 80.0h.01M100.5 70.3h.01M97.2 71.8h.01M100.8 76.5h.01M103.3 75.1h.01M100.5 76.3h.01M99.8 82.3h.01M100.3 81.2h.01M102.6 73.8h.01" stroke="#2f86dc" stroke-width="0.64" stroke-linecap="round" fill="none" opacity="0.9"/>
<path d="M100.6 77.1h.01M99.7 78.4h.01M99.5 76.9h.01M101.6 77.5h.01M100.4 80.9h.01M100.4 80.1h.01M101.2 79.9h.01M101.3 75.9h.01M101.8 78.0h.01M97.4 76.9h.01M97.5 78.0h.01M97.6 76.2h.01M100.0 78.4h.01M98.2 77.5h.01M99.3 78.2h.01M99.5 77.5h.01M100.6 75.2h.01M98.7 78.3h.01M98.8 76.7h.01M98.8 78.5h.01M101.3 77.6h.01M99.0 78.9h.01M99.2 74.8h.01M100.0 77.1h.01M98.6 79.4h.01M99.6 76.7h.01M97.6 75.9h.01M99.5 77.7h.01M100.3 78.5h.01M98.8 75.5h.01M97.8 77.7h.01M97.9 79.5h.01M98.1 75.3h.01M99.3 74.9h.01M101.5 76.3h.01M99.4 77.4h.01M98.5 75.1h.01M97.4 79.4h.01M100.5 81.1h.01M97.5 79.1h.01" stroke="#1a6ac0" stroke-width="0.64" stroke-linecap="round" fill="none" opacity="0.9"/>
<path d="M31 87 C32.5 84.6 36 83.4 40 83.6 C44 83.8 47.5 84.2 50 83 C53 81.2 55 78.5 57.5 76 L63 84 C61 87 58.5 91.5 57.5 95.5 C56.6 99 55 101.5 53.8 104 C53 107 53.3 112 53.6 116 C53.8 119 52.5 120.8 50 121 C47.5 120.8 46.3 119 46.1 116 C46 112.5 46.8 108 45.6 105.2 C44 104.2 38.5 104.2 34.5 101.4 C30.5 98.5 28.8 94.5 29 91 C29.2 89.4 30 88 31 87 Z" fill="#f47a20"/>
<path d="M31.5 90 C31.8 87 35.5 85.6 40 85.8 C44 86 47 86.5 49.5 85.8 C48.5 89.5 46 93 42.2 94.8 C37.5 96.5 31.6 94.5 31.5 90 Z" fill="#f58426"/>
<path d="M47.5 89 C50 87 54 86.6 56 88.5 C57 91 55.5 95 54 98 C52.8 100.5 50.5 101.2 48.8 100 C47 98.5 46.2 96 46.4 93.5 C46.5 91.8 46.8 90 47.5 89 Z" fill="#fbb950"/>
<path d="M46 84.6 C49.5 84.4 52.5 82.5 55 79.5 L59 85.5 C56 87.5 52 87.4 48.5 86.6 Z" fill="#e8601a"/>
<path d="M47.6 106 C48.6 104.8 51.6 104.8 52.2 106.2 C52.4 110 52.6 114 52.4 117.4 C52 119.6 48.4 119.6 47.6 117.6 C47.2 114 47.8 109.5 47.6 106 Z" fill="#f9a03c"/>
<path d="M48.6 114.5 C49.4 113.6 51.4 113.8 51.8 115 C52 116.8 51.6 118.4 50.2 118.8 C48.8 118.6 48.2 116.4 48.6 114.5 Z" fill="#fde0c0"/>
<path d="M52.4 67.4 C53 65.4 55.8 65.2 57.6 66.8 C59.4 68.6 60.4 71.5 60 74.6 C59.4 76.4 57.4 76.2 56 74.8 C54.2 73 52 70 52.4 67.4 Z" fill="#fddcbc" stroke="#f08228" stroke-width="0.8"/>
<path d="M46.5 85 C50 84.6 53 82.4 55.6 79.4 L61.5 85.6 C59 88.6 55.5 90.6 52 90.4 C49.5 90 47 88 46.5 85 Z" fill="#ea5a1c"/>
<path d="M70.2 67.2 C72.8 67.8 74 70.6 73 73.4 C71.6 77 68.4 80.4 64.8 83.4 C62.2 85.6 59.6 88.2 57.2 88.8 C54.8 89 53.8 86.6 54.6 84 C55.8 80.2 58.4 76.6 61.2 73.4 C63.8 70.4 67 67.4 70.2 67.2 Z" fill="#e3211c"/>
<path d="M65.4 78.4h.01M63.6 79.8h.01M67.7 75.2h.01M67.7 72.7h.01M66.9 72.1h.01M64.3 72.3h.01M62.7 75.6h.01M65.7 78.6h.01M66.5 74.8h.01M65.9 71.8h.01M64.0 81.0h.01M62.3 73.9h.01M63.2 74.2h.01M68.9 74.8h.01M64.4 80.4h.01M63.0 80.8h.01M65.7 74.8h.01M59.7 80.6h.01M58.8 81.1h.01M61.5 82.3h.01M59.9 76.5h.01M66.5 75.7h.01M65.3 80.4h.01M66.6 74.6h.01M60.5 75.6h.01M67.0 77.0h.01M60.5 76.7h.01M61.7 74.9h.01M65.3 78.2h.01M68.4 73.2h.01M65.9 77.6h.01M67.4 72.6h.01M59.5 79.3h.01M59.4 79.2h.01M64.2 78.0h.01M64.7 76.6h.01M63.6 78.9h.01M67.8 75.5h.01M67.6 72.5h.01M65.6 79.8h.01M65.4 77.0h.01M64.5 79.6h.01M61.2 76.7h.01M63.0 76.4h.01M66.0 73.7h.01M64.0 76.2h.01M64.0 74.8h.01M64.9 72.5h.01M61.6 77.1h.01M66.2 74.9h.01M65.0 74.8h.01M60.3 77.5h.01M62.0 77.2h.01M65.6 76.6h.01M66.8 73.7h.01M60.3 77.6h.01M64.9 77.4h.01M68.7 72.6h.01M69.1 75.4h.01M62.9 81.4h.01M68.5 75.8h.01M65.5 78.5h.01M62.3 78.5h.01M66.4 79.2h.01M64.9 79.2h.01M63.0 75.6h.01M65.9 77.3h.01M62.8 80.3h.01M60.5 77.8h.01M64.3 75.8h.01M59.7 77.4h.01M64.5 77.3h.01M62.8 78.9h.01M60.6 81.6h.01M65.9 76.0h.01M62.1 79.2h.01M66.1 78.2h.01M65.4 76.5h.01M63.2 80.5h.01M66.6 72.8h.01M66.6 75.4h.01M61.9 75.3h.01M65.4 71.8h.01M64.3 75.3h.01M66.7 73.0h.01M65.2 77.9h.01M64.6 74.6h.01M66.8 75.4h.01M66.1 73.2h.01M63.1 76.5h.01" stroke="#c81414" stroke-width="0.80" stroke-linecap="round" fill="none" opacity="0.9"/>
<path d="M55.6 89.6h.01M59.0 91.7h.01M57.0 89.9h.01M61.1 88.8h.01M58.2 89.3h.01M56.2 86.9h.01M61.0 89.4h.01M57.8 86.4h.01M58.3 91.5h.01M55.1 87.3h.01M60.5 91.5h.01M61.6 88.0h.01M59.7 87.3h.01M59.6 88.1h.01M58.5 91.7h.01M59.0 88.4h.01M58.2 89.6h.01M56.4 89.5h.01M59.4 91.8h.01M54.2 87.3h.01M55.0 90.7h.01M62.4 89.3h.01M58.3 91.4h.01M53.6 88.8h.01M53.5 89.2h.01M56.5 87.9h.01M59.0 87.6h.01M61.0 89.0h.01M58.7 92.4h.01M56.7 91.0h.01M56.0 91.4h.01M60.7 89.3h.01M60.1 91.7h.01M61.5 89.0h.01M57.9 91.4h.01M54.5 87.9h.01M59.4 90.3h.01M61.2 91.4h.01M59.0 90.0h.01M54.6 88.6h.01M58.8 88.5h.01M58.2 90.4h.01M55.4 87.8h.01M54.4 90.8h.01M55.8 86.2h.01M60.2 88.5h.01M60.7 88.2h.01M62.1 90.1h.01M58.5 89.3h.01M57.4 90.8h.01" stroke="#c8481c" stroke-width="0.60" stroke-linecap="round" fill="none" opacity="0.8"/>
<path d="M71.2 75 C72.4 73 75.4 73.2 77 75.4 C79 78.5 80 82.5 80.6 86.5 C81.4 90.5 82.8 95 82.4 98.8 C81.8 102 78 102.6 76 100 C74.4 97.5 74.6 93.5 73.8 90 C72.8 86 70.2 79 71.2 75 Z" fill="#55555e"/>
<path d="M76 91 C77.8 89.6 81 91 81.8 94 C82.6 97 82.4 100 80.6 101.4 C78.6 102.2 76.6 100.6 76 98 C75.4 95.5 75.2 93 76 91 Z" fill="#345d80"/>
<path d="M73.6 92 C73 96 74 101 76.6 103 C79.4 104.6 82.8 103 83.4 100 C83.8 97 83.2 94 82.6 92" fill="none" stroke="#8a9ab0" stroke-width="0.45"/>
<path d="M75.0 90.7h.01M66.5 94.3h.01M72.9 87.3h.01M67.8 88.2h.01M72.0 94.1h.01M67.7 87.8h.01M71.6 86.2h.01M72.3 91.3h.01M74.6 94.8h.01M67.9 90.8h.01M69.0 88.9h.01M70.3 95.9h.01M65.5 91.2h.01M74.2 94.5h.01M67.3 88.9h.01M67.7 86.9h.01M73.8 92.3h.01M68.0 87.1h.01M68.6 89.8h.01M74.7 90.5h.01M70.4 96.2h.01M72.4 91.2h.01M65.5 95.4h.01M72.1 90.2h.01M69.7 88.1h.01M67.5 87.1h.01M71.8 94.2h.01M70.6 95.3h.01M72.0 92.5h.01M67.0 94.3h.01M73.7 94.3h.01M73.9 90.3h.01M67.2 96.3h.01M67.9 93.0h.01M69.3 92.1h.01M69.0 89.7h.01M66.3 96.7h.01M70.5 86.1h.01M67.3 88.0h.01M68.5 85.9h.01M71.6 97.4h.01M69.1 95.1h.01M71.9 87.5h.01M73.0 87.1h.01M67.9 90.5h.01M74.0 92.4h.01M69.6 88.6h.01M70.3 92.2h.01M72.1 96.8h.01M72.6 92.1h.01M69.6 97.5h.01M70.8 91.9h.01M74.0 96.1h.01M72.1 91.5h.01M68.0 96.0h.01M68.5 95.8h.01M67.2 92.4h.01M71.5 92.6h.01M70.9 93.7h.01M66.7 88.2h.01M69.6 97.8h.01M69.6 88.2h.01M67.6 92.1h.01M73.7 89.9h.01M72.0 92.8h.01M68.8 88.2h.01M69.5 89.0h.01M71.4 86.4h.01M73.5 94.8h.01M71.7 97.1h.01" stroke="#5a6a90" stroke-width="0.56" stroke-linecap="round" fill="none" opacity="0.7"/>
<path d="M66.2 87.8h.01M65.1 93.5h.01M63.4 88.8h.01M66.1 93.7h.01M63.9 91.2h.01M63.7 90.2h.01M64.9 95.2h.01M61.7 91.1h.01M68.3 92.8h.01M65.4 94.7h.01M62.9 88.8h.01M62.1 88.9h.01M65.6 94.7h.01M63.9 89.8h.01M66.0 94.0h.01M65.5 87.5h.01M64.2 87.2h.01M65.6 89.3h.01M63.6 95.9h.01M67.9 93.3h.01M65.8 92.6h.01M63.5 91.8h.01M68.4 90.1h.01M63.3 92.5h.01M67.1 94.4h.01M62.6 91.6h.01M64.4 88.4h.01M65.2 90.4h.01M67.3 93.3h.01M63.0 92.3h.01" stroke="#7060a0" stroke-width="0.56" stroke-linecap="round" fill="none" opacity="0.6"/>
<ellipse cx="104.3" cy="107.4" rx="17.6" ry="12.3" fill="#fff" stroke="#1f62a8" stroke-width="0.75" transform="rotate(10 104.3 107.4)"/>
<ellipse cx="104.3" cy="107.4" rx="16.3" ry="11.0" fill="#1b74c6" transform="rotate(10 104.3 107.4)"/>
<path d="M89.2 104.5 C89.4 99 95 95.8 100.5 96.8 C104.5 97.6 106 101 106 106.5 C106 112 104.5 117 100.5 117.6 C94.5 118 89 111.5 89.2 104.5 Z" fill="#2a86d8"/>
<path d="M100.8 97.4 C103.6 98 105.6 101 105.8 106 C106 111.5 104.6 115.6 102 117.6" fill="none" stroke="#0f58a6" stroke-width="0.9"/>
<path d="M101.5 102.6h.01M98.8 113.0h.01M102.6 98.2h.01M96.4 111.1h.01M118.3 105.4h.01M101.0 104.5h.01M92.2 107.6h.01M103.4 109.2h.01M119.0 108.7h.01M110.6 113.7h.01M98.8 102.6h.01M115.7 113.1h.01M106.8 101.0h.01M112.0 112.1h.01M115.8 115.1h.01M111.8 110.5h.01M105.6 103.8h.01M107.2 109.6h.01M108.9 114.7h.01M108.1 104.3h.01M109.1 116.3h.01M95.9 108.7h.01M109.1 111.8h.01M109.5 107.7h.01M102.0 116.0h.01M116.6 103.3h.01M89.3 106.6h.01M98.4 103.0h.01M91.4 107.1h.01M104.4 103.7h.01M107.9 117.6h.01M114.1 115.0h.01M99.5 111.0h.01M102.8 114.3h.01M110.2 108.2h.01M110.4 103.8h.01M109.1 116.2h.01M100.1 110.5h.01M91.5 109.8h.01M112.9 102.9h.01M117.5 110.3h.01M94.0 99.5h.01M112.9 107.1h.01M113.6 101.3h.01M102.3 113.4h.01M97.2 110.6h.01M100.2 109.1h.01M104.7 117.3h.01M93.3 109.9h.01M115.4 103.4h.01M103.1 117.2h.01M111.0 98.7h.01M104.0 98.4h.01M108.1 103.2h.01M99.9 101.3h.01M107.8 104.8h.01M96.0 104.5h.01M109.1 102.7h.01M113.5 101.0h.01M108.9 105.5h.01M117.1 106.2h.01M100.1 99.1h.01M117.4 112.5h.01M94.8 103.7h.01M95.8 113.8h.01M108.8 98.6h.01M105.3 113.5h.01M103.8 110.6h.01M102.9 108.7h.01M107.2 103.1h.01M107.7 109.2h.01M104.7 102.8h.01M94.6 107.3h.01M110.7 98.8h.01M98.5 114.1h.01M113.3 104.5h.01M115.8 104.1h.01M97.4 115.3h.01M100.1 105.2h.01M93.3 100.5h.01M93.9 104.8h.01M91.1 110.0h.01M101.5 102.8h.01M97.5 111.0h.01M117.0 107.3h.01M113.5 116.0h.01M115.5 111.1h.01M91.9 108.9h.01M99.9 108.0h.01M90.8 103.7h.01M107.5 101.9h.01M105.1 116.4h.01M107.4 103.3h.01M116.8 102.6h.01M95.3 108.5h.01M102.3 97.3h.01M105.9 113.2h.01M96.8 114.0h.01M107.5 115.1h.01M91.8 105.2h.01M112.3 116.8h.01M115.7 109.4h.01M106.8 103.5h.01M114.6 105.0h.01M106.8 98.1h.01M93.5 113.2h.01M104.7 109.0h.01M89.8 104.8h.01M117.4 103.7h.01M89.7 104.2h.01M99.2 105.1h.01M96.1 99.1h.01M93.2 109.2h.01M102.9 112.6h.01M94.1 109.2h.01M99.6 107.2h.01M113.2 109.1h.01M103.0 98.3h.01M104.0 112.6h.01M98.0 105.9h.01M93.7 99.6h.01M106.5 115.4h.01M103.4 98.3h.01M102.7 98.6h.01M100.7 116.3h.01M107.6 106.9h.01M114.2 106.7h.01M107.5 109.4h.01M109.3 100.0h.01M109.9 113.9h.01M95.8 98.0h.01M96.1 113.8h.01M103.7 112.0h.01M108.5 113.8h.01M98.8 102.6h.01M107.4 112.1h.01M109.7 110.7h.01M98.8 113.3h.01M107.5 114.6h.01M89.7 108.7h.01M89.4 105.7h.01M97.5 107.1h.01M99.8 104.5h.01M105.9 110.1h.01M101.4 97.1h.01M96.2 109.6h.01M95.8 108.7h.01M101.8 100.9h.01M111.2 116.5h.01M103.3 106.9h.01M113.1 101.7h.01M95.8 112.5h.01M113.3 105.8h.01M96.3 108.4h.01M93.1 102.6h.01M104.6 97.3h.01M109.1 113.2h.01M113.6 101.5h.01M94.5 101.1h.01M94.9 114.4h.01" stroke="#155fae" stroke-width="0.60" stroke-linecap="round" fill="none" opacity="0.5"/>
<path d="M101.3 116.4h.01M102.8 116.9h.01M103.9 116.1h.01M103.6 116.7h.01M101.1 116.7h.01M101.3 117.3h.01M101.6 117.2h.01M103.9 116.3h.01M101.4 116.7h.01M101.3 117.1h.01M102.7 116.1h.01M101.6 117.1h.01" stroke="#0a3a78" stroke-width="0.60" stroke-linecap="round" fill="none" opacity="0.9"/>
</g>
<text x="78.50" y="19.00" font-size="6.3" text-anchor="middle" fill="#34343c" stroke="#34343c" stroke-width="0.14">n = 304,961 cells</text>
<text x="41.00" y="34.80" font-size="6.3" fill="#34343c" stroke="#34343c" stroke-width="0.14">B cells</text>
<text x="83.00" y="47.20" font-size="6.3" fill="#34343c" stroke="#34343c" stroke-width="0.14">NK</text>
<text x="102.00" y="47.20" font-size="6.3" fill="#34343c" stroke="#34343c" stroke-width="0.14">CD8<tspan dy="-2.3" font-size="4.6">+</tspan><tspan dy="2.3"> T cells</tspan></text>
<text x="22.00" y="79.20" font-size="6.3" fill="#34343c" stroke="#34343c" stroke-width="0.14">Myeloid</text>
<text x="107.50" y="83.60" font-size="6.3" fill="#34343c" stroke="#34343c" stroke-width="0.14">γδ / MAIT</text>
<text x="76.50" y="109.80" font-size="6.3" text-anchor="middle" fill="#34343c" stroke="#34343c" stroke-width="0.14">MK /</text>
<text x="76.50" y="118.10" font-size="6.3" text-anchor="middle" fill="#34343c" stroke="#34343c" stroke-width="0.14">RBC</text>
<text x="88.60" y="132.40" font-size="6.3" fill="#34343c" stroke="#34343c" stroke-width="0.14">CD4<tspan dy="-2.3" font-size="4.6">+</tspan><tspan dy="2.3"> T cells</tspan></text>
<line x1="18.50" y1="126.80" x2="18.50" y2="99.60" stroke="#111" stroke-width="1.0"/>
<path d="M18.5 97.6 L17.0 100.8 L20.0 100.8 Z" fill="#111"/>
<line x1="18.00" y1="126.30" x2="45.40" y2="126.30" stroke="#111" stroke-width="1.0"/>
<path d="M47.4 126.3 L44.2 124.8 L44.2 127.8 Z" fill="#111"/>
<text x="0.00" y="0.00" font-size="8.8" text-anchor="middle" fill="#34343c" stroke="#34343c" stroke-width="0.14" transform="translate(14.40 112.00) rotate(-90) scale(0.73 1)">UMAP2</text>
<text x="0.00" y="0.00" font-size="8.8" fill="#34343c" stroke="#34343c" stroke-width="0.14" transform="translate(21.90 136.10) scale(0.74 1)">UMAP1</text>
<text x="53.20" y="143.60" font-size="6.3" text-anchor="middle" fill="#34343c" stroke="#34343c" stroke-width="0.14">n = 124,855 cells</text>
<rect x="28.50" y="147.00" width="51.60" height="51.30" fill="#fff" stroke="#3a2c2c" stroke-width="0.9" rx="1.2"/>
<rect x="28.50" y="201.60" width="51.60" height="51.60" fill="#fff" stroke="#3a2c2c" stroke-width="0.9" rx="1.2"/>
<text x="0.00" y="0.00" font-size="6.0" text-anchor="middle" fill="#34343c" stroke="#34343c" stroke-width="0.14" transform="translate(18.00 172.50) rotate(-90)">myeloid</text>
<text x="0.00" y="0.00" font-size="6.0" text-anchor="middle" fill="#34343c" stroke="#34343c" stroke-width="0.14" transform="translate(24.80 172.50) rotate(-90)">subtypes</text>
<text x="0.00" y="0.00" font-size="6.0" fill="#34343c" stroke="#34343c" stroke-width="0.14" transform="translate(16.80 248.50) rotate(-90)">individual</text>
<text x="0.00" y="0.00" font-size="6.0" fill="#34343c" stroke="#34343c" stroke-width="0.14" transform="translate(23.80 248.50) rotate(-90)">patients (n = 18)</text>
<path d="M33.3 169.5 C33.3 166 36.8 164 40.2 164.4 C43.2 164.8 44.6 167.4 46.4 168.8 C47.6 169.4 48.6 169.6 48.4 170.6 C47 171.4 45.4 171.4 44.4 172.4 C43 174.6 39.8 175.6 37 174.8 C34.6 174 33.3 171.8 33.3 169.5 Z" fill="#d8191c"/>
<path d="M36.1 172.8h.01M36.7 168.9h.01M37.0 173.0h.01M41.9 172.7h.01M41.9 169.8h.01M44.1 171.0h.01M41.1 171.2h.01M42.1 170.3h.01M39.0 165.7h.01M44.0 167.2h.01M34.5 168.1h.01M44.0 171.8h.01M37.3 170.3h.01M39.4 165.3h.01M38.2 170.4h.01M42.8 166.7h.01M35.0 167.0h.01M40.8 169.8h.01M40.1 170.0h.01M38.4 166.0h.01M41.2 170.7h.01M41.3 172.7h.01M37.0 165.6h.01M36.0 172.9h.01M36.3 170.6h.01M39.4 171.7h.01M44.9 168.8h.01M38.9 167.7h.01M40.4 171.1h.01M36.7 172.6h.01M43.2 170.7h.01M39.1 168.8h.01M35.0 171.0h.01M36.2 168.1h.01M42.6 167.1h.01M37.7 171.9h.01M44.3 168.0h.01M43.0 167.8h.01M40.9 171.0h.01M36.1 172.0h.01" stroke="#ee3a2a" stroke-width="0.90" stroke-linecap="round" fill="none" opacity="0.8"/>
<path d="M38.9 177.2 C39.6 175.6 42.8 175.4 44.2 177 C45 179.2 44 181.6 41.8 182 C39.6 181.8 38.4 179.2 38.9 177.2 Z" fill="#ef8c26"/>
<path d="M55.2 154.6 C56 151.6 60.4 150.8 62.6 152.6 C64.4 154.6 64.2 157.6 62.4 159.4 C60.4 160.8 57 160.4 55.8 158.4 C55 157.2 54.9 155.8 55.2 154.6 Z" fill="#cf161c"/>
<path d="M58.6 159.4 C60.4 158.8 62.8 159.6 63.4 161.6 C64 164 63.2 167.4 61.6 169.6 C60 171.2 58.2 170.2 57.8 168 C57.4 165 57.6 161.4 58.6 159.4 Z" fill="#d92620"/>
<path d="M62.8 165.6 C65.4 164.4 68.6 163 71.6 162 C73.4 161.4 75.4 161.2 75.8 162.2 C75 163.6 72.6 164.2 70.4 165 C68.4 165.8 66.2 167.2 64.6 168.2 C66.6 168.4 69 169 71 169.8 C72.8 170.4 74.4 170.6 74.6 171.6 C73 172.4 70.6 172 68.4 171.6 C66.2 171.2 64 171 62.6 170.2 Z" fill="#d81c24"/>
<path d="M53.6 160.6 C55 159.4 57.4 160.2 58 162.4 C58.8 165.6 58.4 169 58.8 172.4 C59.2 175.4 60.6 178 61.6 181 C62.4 183.6 61.6 185.8 59.6 186 C57.4 185.8 56 183.2 55.6 180 C55.2 176 55 172 54.2 168 C53.8 165.4 52.8 162.6 53.6 160.6 Z" fill="#ef7b28"/>
<path d="M59.4 173.6 C61.8 172.4 65.4 173.2 66.8 175.4 C67.8 177.8 67 181 65 183.2 C63 185 60.4 184.4 59.8 182 C59.2 179.4 58.8 176 59.4 173.6 Z" fill="#f08a2e"/>
<path d="M61.2 177.4 C62.4 176.6 64 177.2 64.2 178.6 C64 180 62.6 180.6 61.6 179.8 Z" fill="#fff"/>
<path d="M57.8 189.6 C59.4 188.4 63.4 188.6 65.6 190 C66.6 191.6 65 193.2 62.2 193.2 C59.4 193.2 57.2 191.6 57.8 189.6 Z" fill="#f39a3c"/>
<path d="M64.5 172.3h.01M60.8 165.0h.01M64.5 172.3h.01M56.5 176.2h.01M56.1 168.4h.01M55.9 177.3h.01M64.6 169.3h.01M57.9 168.3h.01M58.1 175.6h.01M63.7 166.9h.01M61.1 163.2h.01M64.1 171.5h.01M58.2 179.9h.01M59.7 179.8h.01M62.5 179.8h.01M57.4 172.4h.01M61.3 170.7h.01M63.9 168.3h.01M62.6 179.0h.01M55.7 167.8h.01M57.2 168.6h.01M61.3 170.8h.01M60.3 168.8h.01M59.7 175.3h.01M62.3 167.2h.01M59.6 167.0h.01M59.5 164.0h.01M62.9 176.0h.01M59.6 167.4h.01M58.5 167.7h.01M56.7 179.0h.01M64.7 168.5h.01M56.6 175.4h.01M61.6 163.9h.01M55.5 174.5h.01M56.0 177.7h.01M58.3 172.6h.01M60.0 168.2h.01M59.5 169.9h.01M63.7 171.5h.01" stroke="#f6a04a" stroke-width="0.80" stroke-linecap="round" fill="none" opacity="0.8"/>
<path d="M72.3 175.8h.01M68.0 180.0h.01" stroke="#e89040" stroke-width="1.00" stroke-linecap="round" fill="none" opacity="0.9"/>
<path d="M72.4 154.6h.01" stroke="#ece4b0" stroke-width="1.40" stroke-linecap="round" fill="none" opacity="0.9"/>
<path d="M71.7 181.9h.01" stroke="#80a8d8" stroke-width="0.90" stroke-linecap="round" fill="none" opacity="0.9"/>
<path d="M33.2 224.4 C33.4 221 36.8 219 40.2 219.4 C43.2 219.8 44.6 222.4 46.4 223.8 C47.6 224.4 48.6 224.6 48.4 225.6 C47 226.4 45.4 226.4 44.4 227.4 C43.2 229 43.6 230.6 44.2 232.2 C45.2 234.6 44.6 237 42.6 237.6 C40.2 238 38.6 236.6 38.6 234.2 C38.6 232.6 39.4 231 38.4 230 C35.4 229.6 33 227.4 33.2 224.4 Z" fill="#a9c8ec"/>
<path d="M55.2 209.2 C56 206 60.4 205.2 62.4 207 C64 209 63.8 212 62 213.6 C59.8 214.8 56.6 214.4 55.6 212.4 C55 211.4 54.9 210.2 55.2 209.2 Z" fill="#7a5a9e"/>
<path d="M56.6 206.8 C58 205.6 60.6 205.6 62 206.8 C60.6 208 58 208 56.6 206.8 Z" fill="#5f62ac"/>
<path d="M57.8 214 C59.8 213.4 62.6 214.2 63.2 216.6 C63.6 219 62.6 221.4 60.6 221.6 C58.6 221.2 57.6 219 57.6 217 Z" fill="#8e807c"/>
<path d="M54.8 217.8h.01M54.2 217.4h.01M54.8 222.1h.01M55.7 219.5h.01M55.9 220.6h.01M55.0 218.6h.01M53.9 219.5h.01M54.6 216.2h.01M54.1 221.7h.01M55.0 220.2h.01M55.0 217.9h.01M55.2 221.2h.01M54.5 220.2h.01M55.7 218.0h.01" stroke="#f0a040" stroke-width="0.90" stroke-linecap="round" fill="none" opacity="0.9"/>
<path d="M64.8 218.6 C67.2 216.6 71 215.8 74.4 216 C76.6 216.2 76.8 217.6 75 218.6 C72.4 219.6 69.8 219.8 68 221 C66.6 221.6 65 220.6 64.8 218.6 Z" fill="#b9c338"/>
<path d="M63.8 223.6 C66.4 222.8 70.4 223 73.6 224 C74.6 225 73.4 226.2 71 226.4 C68.4 226.6 65.4 226.4 64 225.6 Z" fill="#cbd66a"/>
<path d="M70.5 225.4h.01M72.0 224.4h.01" stroke="#f0a848" stroke-width="1.00" stroke-linecap="round" fill="none" opacity="0.9"/>
<path d="M55.2 225 C56.8 224 59.4 224.8 60.2 227 C60.8 230 60.4 233 60.6 236 C60.8 238.6 60 240.4 58.2 240.4 C56.4 240 55.8 237.6 55.8 235 C55.8 231.4 54.6 228 55.2 225 Z" fill="#3fa95a"/>
<path d="M56.2 234 C57.6 233.4 59.4 234.4 59.6 236.4 C59.8 238.6 59 240.2 57.6 240.2 C56.2 239.6 55.8 236.4 56.2 234 Z" fill="#a4ba34"/>
<path d="M60.2 226.4 C62 225.4 64.4 226.2 65 228 C64.6 229.8 62.2 230.2 60.6 229.4 Z" fill="#7cc466"/>
<path d="M61.2 234.6 C63.2 232.6 66.8 233 67.8 235.6 C68.4 238.2 66.6 240.4 64 240.4 C61.6 240.2 60.2 237.4 61.2 234.6 Z" fill="#1c98b4"/>
<path d="M57.8 244.6 C59.6 243.4 63.6 243.8 66 245.4 C66.8 247 65 248 62.4 248 C59.6 248 57.2 246.6 57.8 244.6 Z" fill="#f5b860"/>
<path d="M70.6 235.8h.01M71.7 232.4h.01" stroke="#e8a040" stroke-width="0.90" stroke-linecap="round" fill="none" opacity="0.9"/>
<path d="M72.8 209.0h.01" stroke="#e0922e" stroke-width="1.40" stroke-linecap="round" fill="none" opacity="0.9"/>
<circle cx="149.70" cy="41.60" r="1.30" fill="#a01828"/>
<circle cx="153.20" cy="41.60" r="1.30" fill="#cf1a2c"/>
<circle cx="156.70" cy="41.60" r="1.30" fill="#b8142a"/>
<text x="161.60" y="43.80" font-size="6.1" fill="#34343c" stroke="#34343c" stroke-width="0.14">Progenitor cells</text>
<circle cx="153.20" cy="47.80" r="1.30" fill="#a87040"/>
<circle cx="156.70" cy="47.80" r="1.30" fill="#b98a54"/>
<text x="161.60" y="50.00" font-size="6.1" fill="#34343c" stroke="#34343c" stroke-width="0.14">Monocytes</text>
<circle cx="148.60" cy="53.40" r="0.95" fill="#fff" stroke="#c8c090" stroke-width="0.7"/>
<circle cx="151.40" cy="53.40" r="0.95" fill="#fff" stroke="#c0b070" stroke-width="0.7"/>
<circle cx="154.30" cy="53.40" r="0.95" fill="#fff" stroke="#b0a060" stroke-width="0.7"/>
<circle cx="157.10" cy="53.40" r="0.95" fill="#fff" stroke="#c8b880" stroke-width="0.7"/>
<text x="161.60" y="55.60" font-size="6.1" fill="#34343c" stroke="#34343c" stroke-width="0.14">Dendritic cells</text>
<circle cx="149.70" cy="63.30" r="1.30" fill="#9a9ad0"/>
<circle cx="153.20" cy="63.30" r="1.30" fill="#5a60b8"/>
<circle cx="156.70" cy="63.30" r="1.30" fill="#4a58b0"/>
<circle cx="153.20" cy="66.80" r="1.05" fill="#fff" stroke="#9a9ad0" stroke-width="0.7"/>
<circle cx="156.70" cy="66.80" r="1.05" fill="#fff" stroke="#a8a8d8" stroke-width="0.7"/>
<text x="161.60" y="67.40" font-size="6.1" fill="#34343c" stroke="#34343c" stroke-width="0.14">CD8<tspan dy="-2.3" font-size="4.6">+</tspan><tspan dy="2.3"> T cells</tspan></text>
<circle cx="149.70" cy="73.10" r="1.30" fill="#2a7a9a"/>
<circle cx="153.20" cy="73.10" r="1.30" fill="#1a3a7a"/>
<circle cx="156.70" cy="73.10" r="1.30" fill="#10205a"/>
<text x="161.60" y="75.30" font-size="6.1" fill="#34343c" stroke="#34343c" stroke-width="0.14">CD4<tspan dy="-2.3" font-size="4.6">+</tspan><tspan dy="2.3"> T cells</tspan></text>
<circle cx="153.20" cy="79.20" r="1.30" fill="#2a1a6a"/>
<circle cx="156.70" cy="79.20" r="1.30" fill="#1a1a4a"/>
<text x="161.60" y="81.40" font-size="6.1" fill="#34343c" stroke="#34343c" stroke-width="0.14">NK cells</text>
<circle cx="153.20" cy="85.90" r="1.05" fill="#fff" stroke="#a0a8d0" stroke-width="0.7"/>
<circle cx="156.70" cy="85.90" r="1.30" fill="#8ab0d8"/>
<text x="161.60" y="88.10" font-size="6.1" fill="#34343c" stroke="#34343c" stroke-width="0.14">γδ T cells/ MAIT</text>
<circle cx="149.70" cy="94.20" r="1.30" fill="#1a9a40"/>
<circle cx="153.20" cy="94.20" r="1.30" fill="#106a30"/>
<circle cx="156.70" cy="94.20" r="1.30" fill="#1a9040"/>
<circle cx="153.20" cy="97.60" r="1.05" fill="#fff" stroke="#6a8a78" stroke-width="0.7"/>
<circle cx="156.70" cy="97.60" r="1.05" fill="#fff" stroke="#5a7a68" stroke-width="0.7"/>
<text x="161.60" y="97.80" font-size="6.1" fill="#34343c" stroke="#34343c" stroke-width="0.14">B cells</text>
<circle cx="153.20" cy="103.60" r="1.30" fill="#5a5a62"/>
<circle cx="156.70" cy="103.60" r="1.30" fill="#3a3a42"/>
<text x="161.60" y="105.80" font-size="6.1" fill="#34343c" stroke="#34343c" stroke-width="0.14">MK / RBC</text>
<rect x="246.45" y="127.04" width="3.27" height="17.86" fill="#67676a"/>
<rect x="246.45" y="118.90" width="3.27" height="8.24" fill="#1f8fa8"/>
<rect x="246.45" y="111.50" width="3.27" height="7.50" fill="#5b2a9a"/>
<rect x="246.45" y="107.80" width="3.27" height="3.80" fill="#fdd66e"/>
<rect x="246.45" y="79.68" width="3.27" height="28.22" fill="#f57e20"/>
<rect x="246.45" y="70.80" width="3.27" height="8.98" fill="#e2211c"/>
<rect x="250.02" y="130.00" width="3.27" height="14.90" fill="#67676a"/>
<rect x="250.02" y="126.30" width="3.27" height="3.80" fill="#2aa24a"/>
<rect x="250.02" y="121.86" width="3.27" height="4.54" fill="#1f8fa8"/>
<rect x="250.02" y="110.02" width="3.27" height="11.94" fill="#2b86cf"/>
<rect x="250.02" y="89.30" width="3.27" height="20.82" fill="#5b2a9a"/>
<rect x="250.02" y="81.16" width="3.27" height="8.24" fill="#b3a2d9"/>
<rect x="250.02" y="78.94" width="3.27" height="2.32" fill="#ebe6f5"/>
<rect x="250.02" y="70.80" width="3.27" height="8.24" fill="#e2211c"/>
<rect x="253.59" y="137.40" width="3.27" height="7.50" fill="#67676a"/>
<rect x="253.59" y="135.18" width="3.27" height="2.32" fill="#2b86cf"/>
<rect x="253.59" y="113.72" width="3.27" height="21.56" fill="#f57e20"/>
<rect x="253.59" y="70.80" width="3.27" height="43.02" fill="#e2211c"/>
<rect x="257.16" y="140.36" width="3.27" height="4.54" fill="#67676a"/>
<rect x="257.16" y="136.66" width="3.27" height="3.80" fill="#2aa24a"/>
<rect x="257.16" y="125.56" width="3.27" height="11.20" fill="#5b2a9a"/>
<rect x="257.16" y="120.38" width="3.27" height="5.28" fill="#b3a2d9"/>
<rect x="257.16" y="118.16" width="3.27" height="2.32" fill="#ebe6f5"/>
<rect x="257.16" y="83.38" width="3.27" height="34.88" fill="#f57e20"/>
<rect x="257.16" y="70.80" width="3.27" height="12.68" fill="#e2211c"/>
<rect x="260.74" y="140.36" width="3.27" height="4.54" fill="#67676a"/>
<rect x="260.74" y="101.14" width="3.27" height="39.32" fill="#2aa24a"/>
<rect x="260.74" y="85.60" width="3.27" height="15.64" fill="#5b2a9a"/>
<rect x="260.74" y="82.64" width="3.27" height="3.06" fill="#b3a2d9"/>
<rect x="260.74" y="70.80" width="3.27" height="11.94" fill="#e2211c"/>
<rect x="264.31" y="138.14" width="3.27" height="6.76" fill="#67676a"/>
<rect x="264.31" y="134.44" width="3.27" height="3.80" fill="#b3a2d9"/>
<rect x="264.31" y="131.48" width="3.27" height="3.06" fill="#2b86cf"/>
<rect x="264.31" y="128.52" width="3.27" height="3.06" fill="#ffffff"/>
<rect x="264.31" y="93.00" width="3.27" height="35.62" fill="#f57e20"/>
<rect x="264.31" y="70.80" width="3.27" height="22.30" fill="#e2211c"/>
<rect x="267.88" y="134.44" width="3.27" height="10.46" fill="#67676a"/>
<rect x="267.88" y="130.00" width="3.27" height="4.54" fill="#2b86cf"/>
<rect x="267.88" y="100.40" width="3.27" height="29.70" fill="#f57e20"/>
<rect x="267.88" y="70.80" width="3.27" height="29.70" fill="#e2211c"/>
<rect x="273.15" y="141.10" width="3.28" height="3.80" fill="#67676a"/>
<rect x="273.15" y="139.62" width="3.28" height="1.58" fill="#ffffff"/>
<rect x="273.15" y="111.50" width="3.28" height="28.22" fill="#32a4e2"/>
<rect x="273.15" y="85.60" width="3.28" height="26.00" fill="#5b2a9a"/>
<rect x="273.15" y="80.42" width="3.28" height="5.28" fill="#b3a2d9"/>
<rect x="273.15" y="70.80" width="3.28" height="9.72" fill="#e2211c"/>
<rect x="276.73" y="124.82" width="3.28" height="20.08" fill="#67676a"/>
<rect x="276.73" y="121.86" width="3.28" height="3.06" fill="#ffffff"/>
<rect x="276.73" y="114.46" width="3.28" height="7.50" fill="#32a4e2"/>
<rect x="276.73" y="103.36" width="3.28" height="11.20" fill="#5b2a9a"/>
<rect x="276.73" y="99.66" width="3.28" height="3.80" fill="#b3a2d9"/>
<rect x="276.73" y="97.44" width="3.28" height="2.32" fill="#ebe6f5"/>
<rect x="276.73" y="91.52" width="3.28" height="6.02" fill="#fdd66e"/>
<rect x="276.73" y="87.82" width="3.28" height="3.80" fill="#f57e20"/>
<rect x="276.73" y="70.80" width="3.28" height="17.12" fill="#e2211c"/>
<rect x="280.31" y="77.46" width="3.28" height="67.44" fill="#67676a"/>
<rect x="280.31" y="74.50" width="3.28" height="3.06" fill="#ffffff"/>
<rect x="280.31" y="70.80" width="3.28" height="3.80" fill="#67676a"/>
<rect x="283.89" y="141.84" width="3.28" height="3.06" fill="#67676a"/>
<rect x="283.89" y="139.62" width="3.28" height="2.32" fill="#2aa24a"/>
<rect x="283.89" y="130.00" width="3.28" height="9.72" fill="#32a4e2"/>
<rect x="283.89" y="104.84" width="3.28" height="25.26" fill="#5b2a9a"/>
<rect x="283.89" y="100.40" width="3.28" height="4.54" fill="#b3a2d9"/>
<rect x="283.89" y="93.74" width="3.28" height="6.76" fill="#f57e20"/>
<rect x="283.89" y="70.80" width="3.28" height="23.04" fill="#e2211c"/>
<rect x="287.47" y="141.10" width="3.28" height="3.80" fill="#67676a"/>
<rect x="287.47" y="138.88" width="3.28" height="2.32" fill="#ffffff"/>
<rect x="287.47" y="84.12" width="3.28" height="54.86" fill="#32a4e2"/>
<rect x="287.47" y="79.68" width="3.28" height="4.54" fill="#5b2a9a"/>
<rect x="287.47" y="75.24" width="3.28" height="4.54" fill="#ebe6f5"/>
<rect x="287.47" y="70.80" width="3.28" height="4.54" fill="#e2211c"/>
<rect x="291.05" y="138.88" width="3.28" height="6.02" fill="#67676a"/>
<rect x="291.05" y="137.40" width="3.28" height="1.58" fill="#ffffff"/>
<rect x="291.05" y="101.14" width="3.28" height="36.36" fill="#32a4e2"/>
<rect x="291.05" y="97.44" width="3.28" height="3.80" fill="#5b2a9a"/>
<rect x="291.05" y="84.86" width="3.28" height="12.68" fill="#b3a2d9"/>
<rect x="291.05" y="74.50" width="3.28" height="10.46" fill="#ebe6f5"/>
<rect x="291.05" y="70.80" width="3.28" height="3.80" fill="#e2211c"/>
<rect x="294.63" y="123.34" width="3.28" height="21.56" fill="#67676a"/>
<rect x="294.63" y="101.14" width="3.28" height="22.30" fill="#32a4e2"/>
<rect x="294.63" y="95.96" width="3.28" height="5.28" fill="#5b2a9a"/>
<rect x="294.63" y="84.86" width="3.28" height="11.20" fill="#b3a2d9"/>
<rect x="294.63" y="70.80" width="3.28" height="14.16" fill="#e2211c"/>
<rect x="298.21" y="135.92" width="3.28" height="8.98" fill="#67676a"/>
<rect x="298.21" y="133.70" width="3.28" height="2.32" fill="#ffffff"/>
<rect x="298.21" y="128.52" width="3.28" height="5.28" fill="#32a4e2"/>
<rect x="298.21" y="125.56" width="3.28" height="3.06" fill="#ffffff"/>
<rect x="298.21" y="70.80" width="3.28" height="54.86" fill="#e2211c"/>
<rect x="301.79" y="140.36" width="3.28" height="4.54" fill="#67676a"/>
<rect x="301.79" y="122.60" width="3.28" height="17.86" fill="#32a4e2"/>
<rect x="301.79" y="76.72" width="3.28" height="45.98" fill="#5b2a9a"/>
<rect x="301.79" y="73.76" width="3.28" height="3.06" fill="#b3a2d9"/>
<rect x="301.79" y="70.80" width="3.28" height="3.06" fill="#e2211c"/>
<rect x="305.37" y="138.14" width="3.28" height="6.76" fill="#ffffff"/>
<rect x="305.37" y="135.92" width="3.28" height="2.32" fill="#32a4e2"/>
<rect x="305.37" y="105.58" width="3.28" height="30.44" fill="#f57e20"/>
<rect x="305.37" y="70.80" width="3.28" height="34.88" fill="#e2211c"/>
<rect x="310.95" y="142.60" width="3.58" height="2.30" fill="#67676a"/>
<rect x="310.95" y="140.40" width="3.58" height="2.30" fill="#2f7e46"/>
<rect x="310.95" y="125.75" width="3.58" height="14.75" fill="#2aa24a"/>
<rect x="310.95" y="124.29" width="3.58" height="1.57" fill="#ffffff"/>
<rect x="310.95" y="114.03" width="3.58" height="10.36" fill="#2b86cf"/>
<rect x="310.95" y="97.18" width="3.58" height="16.95" fill="#32a4e2"/>
<rect x="310.95" y="92.78" width="3.58" height="4.50" fill="#5b2a9a"/>
<rect x="310.95" y="86.92" width="3.58" height="5.96" fill="#b3a2d9"/>
<rect x="310.95" y="81.06" width="3.58" height="5.96" fill="#ebe6f5"/>
<rect x="310.95" y="73.00" width="3.58" height="8.16" fill="#f57e20"/>
<rect x="310.95" y="70.80" width="3.58" height="2.30" fill="#e2211c"/>
<rect x="314.82" y="142.58" width="3.58" height="2.32" fill="#67676a"/>
<rect x="314.82" y="140.36" width="3.58" height="2.32" fill="#2f7e46"/>
<rect x="314.82" y="124.08" width="3.58" height="16.38" fill="#2aa24a"/>
<rect x="314.82" y="112.98" width="3.58" height="11.20" fill="#2b86cf"/>
<rect x="314.82" y="101.14" width="3.58" height="11.94" fill="#32a4e2"/>
<rect x="314.82" y="90.04" width="3.58" height="11.20" fill="#5b2a9a"/>
<rect x="314.82" y="84.86" width="3.58" height="5.28" fill="#b3a2d9"/>
<rect x="314.82" y="80.42" width="3.58" height="4.54" fill="#ebe6f5"/>
<rect x="314.82" y="72.28" width="3.58" height="8.24" fill="#f57e20"/>
<rect x="314.82" y="70.80" width="3.58" height="1.58" fill="#e2211c"/>
<rect x="318.70" y="142.58" width="3.58" height="2.32" fill="#67676a"/>
<rect x="318.70" y="140.36" width="3.58" height="2.32" fill="#2f7e46"/>
<rect x="318.70" y="132.22" width="3.58" height="8.24" fill="#2aa24a"/>
<rect x="318.70" y="121.12" width="3.58" height="11.20" fill="#2b86cf"/>
<rect x="318.70" y="110.76" width="3.58" height="10.46" fill="#32a4e2"/>
<rect x="318.70" y="107.80" width="3.58" height="3.06" fill="#5b2a9a"/>
<rect x="318.70" y="100.40" width="3.58" height="7.50" fill="#b3a2d9"/>
<rect x="318.70" y="92.26" width="3.58" height="8.24" fill="#ebe6f5"/>
<rect x="318.70" y="72.28" width="3.58" height="20.08" fill="#f57e20"/>
<rect x="318.70" y="70.80" width="3.58" height="1.58" fill="#e2211c"/>
<rect x="322.57" y="143.32" width="3.58" height="1.58" fill="#67676a"/>
<rect x="322.57" y="141.10" width="3.58" height="2.32" fill="#2f7e46"/>
<rect x="322.57" y="130.00" width="3.58" height="11.20" fill="#2aa24a"/>
<rect x="322.57" y="122.60" width="3.58" height="7.50" fill="#2b86cf"/>
<rect x="322.57" y="115.20" width="3.58" height="7.50" fill="#32a4e2"/>
<rect x="322.57" y="107.06" width="3.58" height="8.24" fill="#5b2a9a"/>
<rect x="322.57" y="101.88" width="3.58" height="5.28" fill="#b3a2d9"/>
<rect x="322.57" y="94.48" width="3.58" height="7.50" fill="#ebe6f5"/>
<rect x="322.57" y="72.28" width="3.58" height="22.30" fill="#f57e20"/>
<rect x="322.57" y="70.80" width="3.58" height="1.58" fill="#e2211c"/>
<rect x="326.45" y="141.84" width="3.58" height="3.06" fill="#67676a"/>
<rect x="326.45" y="138.88" width="3.58" height="3.06" fill="#2f7e46"/>
<rect x="326.45" y="124.08" width="3.58" height="14.90" fill="#2aa24a"/>
<rect x="326.45" y="116.68" width="3.58" height="7.50" fill="#2b86cf"/>
<rect x="326.45" y="108.54" width="3.58" height="8.24" fill="#32a4e2"/>
<rect x="326.45" y="106.32" width="3.58" height="2.32" fill="#5b2a9a"/>
<rect x="326.45" y="100.40" width="3.58" height="6.02" fill="#b3a2d9"/>
<rect x="326.45" y="93.00" width="3.58" height="7.50" fill="#ebe6f5"/>
<rect x="326.45" y="73.02" width="3.58" height="20.08" fill="#f57e20"/>
<rect x="326.45" y="70.80" width="3.58" height="2.32" fill="#e2211c"/>
<rect x="330.32" y="143.32" width="3.58" height="1.58" fill="#67676a"/>
<rect x="330.32" y="141.10" width="3.58" height="2.32" fill="#2f7e46"/>
<rect x="330.32" y="133.70" width="3.58" height="7.50" fill="#2aa24a"/>
<rect x="330.32" y="129.26" width="3.58" height="4.54" fill="#2b86cf"/>
<rect x="330.32" y="127.04" width="3.58" height="2.32" fill="#ffffff"/>
<rect x="330.32" y="110.76" width="3.58" height="16.38" fill="#32a4e2"/>
<rect x="330.32" y="106.32" width="3.58" height="4.54" fill="#5b2a9a"/>
<rect x="330.32" y="98.18" width="3.58" height="8.24" fill="#b3a2d9"/>
<rect x="330.32" y="85.60" width="3.58" height="12.68" fill="#ebe6f5"/>
<rect x="330.32" y="72.28" width="3.58" height="13.42" fill="#f57e20"/>
<rect x="330.32" y="70.80" width="3.58" height="1.58" fill="#e2211c"/>
<rect x="334.20" y="142.58" width="3.58" height="2.32" fill="#67676a"/>
<rect x="334.20" y="140.36" width="3.58" height="2.32" fill="#2f7e46"/>
<rect x="334.20" y="131.48" width="3.58" height="8.98" fill="#2aa24a"/>
<rect x="334.20" y="130.00" width="3.58" height="1.58" fill="#ffffff"/>
<rect x="334.20" y="123.34" width="3.58" height="6.76" fill="#2b86cf"/>
<rect x="334.20" y="102.62" width="3.58" height="20.82" fill="#32a4e2"/>
<rect x="334.20" y="97.44" width="3.58" height="5.28" fill="#5b2a9a"/>
<rect x="334.20" y="92.26" width="3.58" height="5.28" fill="#b3a2d9"/>
<rect x="334.20" y="84.12" width="3.58" height="8.24" fill="#ebe6f5"/>
<rect x="334.20" y="72.28" width="3.58" height="11.94" fill="#f57e20"/>
<rect x="334.20" y="70.80" width="3.58" height="1.58" fill="#e2211c"/>
<rect x="338.07" y="143.32" width="3.58" height="1.58" fill="#67676a"/>
<rect x="338.07" y="141.10" width="3.58" height="2.32" fill="#2f7e46"/>
<rect x="338.07" y="130.74" width="3.58" height="10.46" fill="#2aa24a"/>
<rect x="338.07" y="121.86" width="3.58" height="8.98" fill="#2b86cf"/>
<rect x="338.07" y="107.06" width="3.58" height="14.90" fill="#32a4e2"/>
<rect x="338.07" y="103.36" width="3.58" height="3.80" fill="#5b2a9a"/>
<rect x="338.07" y="95.96" width="3.58" height="7.50" fill="#b3a2d9"/>
<rect x="338.07" y="84.86" width="3.58" height="11.20" fill="#ebe6f5"/>
<rect x="338.07" y="72.28" width="3.58" height="12.68" fill="#f57e20"/>
<rect x="338.07" y="70.80" width="3.58" height="1.58" fill="#e2211c"/>
<rect x="246.30" y="61.80" width="25.00" height="4.00" fill="#1a9a4a"/>
<rect x="273.00" y="61.80" width="35.80" height="4.00" fill="#a8a8ac"/>
<rect x="310.80" y="61.80" width="31.00" height="4.00" fill="#151515"/>
<line x1="245.00" y1="69.60" x2="245.00" y2="145.60" stroke="#111" stroke-width="0.8"/>
<line x1="244.60" y1="145.40" x2="343.00" y2="145.40" stroke="#111" stroke-width="0.7"/>
<line x1="242.60" y1="144.80" x2="245.00" y2="144.80" stroke="#111" stroke-width="0.7"/>
<text x="241.20" y="147.00" font-size="6.2" text-anchor="end" fill="#34343c" stroke="#34343c" stroke-width="0.14">0</text>
<line x1="242.60" y1="126.30" x2="245.00" y2="126.30" stroke="#111" stroke-width="0.7"/>
<text x="241.20" y="128.50" font-size="6.2" text-anchor="end" fill="#34343c" stroke="#34343c" stroke-width="0.14">25</text>
<line x1="242.60" y1="107.80" x2="245.00" y2="107.80" stroke="#111" stroke-width="0.7"/>
<text x="241.20" y="110.00" font-size="6.2" text-anchor="end" fill="#34343c" stroke="#34343c" stroke-width="0.14">50</text>
<line x1="242.60" y1="89.30" x2="245.00" y2="89.30" stroke="#111" stroke-width="0.7"/>
<text x="241.20" y="91.50" font-size="6.2" text-anchor="end" fill="#34343c" stroke="#34343c" stroke-width="0.14">75</text>
<line x1="242.60" y1="70.80" x2="245.00" y2="70.80" stroke="#111" stroke-width="0.7"/>
<text x="241.20" y="73.00" font-size="6.2" text-anchor="end" fill="#34343c" stroke="#34343c" stroke-width="0.14">100</text>
<text x="0.00" y="0.00" font-size="8.4" text-anchor="middle" fill="#34343c" stroke="#34343c" stroke-width="0.14" transform="translate(225.00 108.80) rotate(-90) scale(0.79 1)">% cells</text>
<text x="0.00" y="0.00" font-size="5.9" fill="#34343c" stroke="#34343c" stroke-width="0.14" transform="translate(257.00 58.00) rotate(-90)">post-HSCT</text>
<text x="0.00" y="0.00" font-size="5.9" text-anchor="middle" fill="#34343c" stroke="#34343c" stroke-width="0.14" transform="translate(265.20 43.30) rotate(-90)">(n = 7)</text>
<text x="0.00" y="0.00" font-size="5.9" fill="#34343c" stroke="#34343c" stroke-width="0.14" transform="translate(285.00 58.00) rotate(-90)">Transplant-</text>
<text x="0.00" y="0.00" font-size="5.9" fill="#34343c" stroke="#34343c" stroke-width="0.14" transform="translate(293.20 58.00) rotate(-90)">naive</text>
<text x="0.00" y="0.00" font-size="5.9" text-anchor="middle" fill="#34343c" stroke="#34343c" stroke-width="0.14" transform="translate(301.20 42.80) rotate(-90)">(n = 10)</text>
<text x="0.00" y="0.00" font-size="5.9" fill="#34343c" stroke="#34343c" stroke-width="0.14" transform="translate(319.60 58.00) rotate(-90)">Normal</text>
<text x="0.00" y="0.00" font-size="5.9" fill="#34343c" stroke="#34343c" stroke-width="0.14" transform="translate(327.80 58.00) rotate(-90)">bone marrow</text>
<text x="0.00" y="0.00" font-size="5.9" text-anchor="middle" fill="#34343c" stroke="#34343c" stroke-width="0.14" transform="translate(336.40 41.50) rotate(-90)">(n = 8)</text>
<text x="434.80" y="19.60" font-size="8.2" text-anchor="middle" fill="#34343c" stroke="#34343c" stroke-width="0.14">AML</text>
<text x="466.30" y="19.60" font-size="8.2" text-anchor="middle" fill="#34343c" stroke="#34343c" stroke-width="0.14">HD</text>
<path d="M414.5 26.5 L414.5 25.7 Q414.5 25.0 415.2 25.0 L454.3 25.0 Q455.0 25.0 455.0 25.7 L455.0 26.5" fill="none" stroke="#2c2c30" stroke-width="0.95"/>
<path d="M457.4 26.5 L457.4 25.7 Q457.4 25.0 458.1 25.0 L474.3 25.0 Q475.0 25.0 475.0 25.7 L475.0 26.5" fill="none" stroke="#2c2c30" stroke-width="0.95"/>
<text x="0.00" y="0.00" font-size="6.2" fill="#34343c" stroke="#34343c" stroke-width="0.14" transform="translate(421.80 59.60) rotate(-90)">post-</text>
<text x="0.00" y="0.00" font-size="6.2" fill="#34343c" stroke="#34343c" stroke-width="0.14" transform="translate(428.40 59.60) rotate(-90)">HSCT</text>
<text x="0.00" y="0.00" font-size="6.2" fill="#34343c" stroke="#34343c" stroke-width="0.14" transform="translate(441.80 59.60) rotate(-90)">Transplant-</text>
<text x="0.00" y="0.00" font-size="6.2" fill="#34343c" stroke="#34343c" stroke-width="0.14" transform="translate(449.50 59.60) rotate(-90)">naive</text>
<rect x="415.70" y="62.20" width="17.30" height="3.90" fill="#16703a"/>
<rect x="433.00" y="62.20" width="21.60" height="3.90" fill="#a8a8ac"/>
<rect x="457.00" y="62.20" width="17.20" height="3.90" fill="#151515"/>
<rect x="415.70" y="68.30" width="2.46" height="8.85" fill="#fcc89a"/>
<rect x="418.01" y="68.30" width="2.46" height="8.85" fill="#f78a56"/>
<rect x="420.31" y="68.30" width="2.46" height="8.85" fill="#fddcb8"/>
<rect x="422.62" y="68.30" width="2.46" height="8.85" fill="#fbab78"/>
<rect x="424.92" y="68.30" width="2.46" height="8.85" fill="#fddcb8"/>
<rect x="427.23" y="68.30" width="2.46" height="8.85" fill="#fcc89a"/>
<rect x="429.54" y="68.30" width="2.46" height="8.85" fill="#fcc89a"/>
<rect x="431.84" y="68.30" width="2.46" height="8.85" fill="#fcc89a"/>
<rect x="434.15" y="68.30" width="2.46" height="8.85" fill="#dc2c20"/>
<rect x="436.45" y="68.30" width="2.46" height="8.85" fill="#dc2c20"/>
<rect x="438.76" y="68.30" width="2.46" height="8.85" fill="#f78a56"/>
<rect x="441.06" y="68.30" width="2.46" height="8.85" fill="#c1121a"/>
<rect x="443.37" y="68.30" width="2.46" height="8.85" fill="#dc2c20"/>
<rect x="445.68" y="68.30" width="2.46" height="8.85" fill="#f78a56"/>
<rect x="447.98" y="68.30" width="2.46" height="8.85" fill="#c1121a"/>
<rect x="450.29" y="68.30" width="2.46" height="8.85" fill="#f78a56"/>
<rect x="452.59" y="68.30" width="2.46" height="8.85" fill="#fbab78"/>
<rect x="415.70" y="77.00" width="2.46" height="8.85" fill="#fddcb8"/>
<rect x="418.01" y="77.00" width="2.46" height="8.85" fill="#8f0510"/>
<rect x="420.31" y="77.00" width="2.46" height="8.85" fill="#fddcb8"/>
<rect x="422.62" y="77.00" width="2.46" height="8.85" fill="#ee5f38"/>
<rect x="424.92" y="77.00" width="2.46" height="8.85" fill="#fddcb8"/>
<rect x="427.23" y="77.00" width="2.46" height="8.85" fill="#c1121a"/>
<rect x="429.54" y="77.00" width="2.46" height="8.85" fill="#fcc89a"/>
<rect x="431.84" y="77.00" width="2.46" height="8.85" fill="#ee5f38"/>
<rect x="434.15" y="77.00" width="2.46" height="8.85" fill="#f78a56"/>
<rect x="436.45" y="77.00" width="2.46" height="8.85" fill="#ee5f38"/>
<rect x="438.76" y="77.00" width="2.46" height="8.85" fill="#f78a56"/>
<rect x="441.06" y="77.00" width="2.46" height="8.85" fill="#fbab78"/>
<rect x="443.37" y="77.00" width="2.46" height="8.85" fill="#dc2c20"/>
<rect x="445.68" y="77.00" width="2.46" height="8.85" fill="#f78a56"/>
<rect x="447.98" y="77.00" width="2.46" height="8.85" fill="#ee5f38"/>
<rect x="450.29" y="77.00" width="2.46" height="8.85" fill="#dc2c20"/>
<rect x="452.59" y="77.00" width="2.46" height="8.85" fill="#dc2c20"/>
<rect x="415.70" y="85.70" width="2.46" height="8.85" fill="#dc2c20"/>
<rect x="418.01" y="85.70" width="2.46" height="8.85" fill="#feead2"/>
<rect x="420.31" y="85.70" width="2.46" height="8.85" fill="#fddcb8"/>
<rect x="422.62" y="85.70" width="2.46" height="8.85" fill="#feead2"/>
<rect x="424.92" y="85.70" width="2.46" height="8.85" fill="#dc2c20"/>
<rect x="427.23" y="85.70" width="2.46" height="8.85" fill="#feead2"/>
<rect x="429.54" y="85.70" width="2.46" height="8.85" fill="#fbab78"/>
<rect x="431.84" y="85.70" width="2.46" height="8.85" fill="#feead2"/>
<rect x="434.15" y="85.70" width="2.46" height="8.85" fill="#fddcb8"/>
<rect x="436.45" y="85.70" width="2.46" height="8.85" fill="#fcc89a"/>
<rect x="438.76" y="85.70" width="2.46" height="8.85" fill="#feead2"/>
<rect x="441.06" y="85.70" width="2.46" height="8.85" fill="#fddcb8"/>
<rect x="443.37" y="85.70" width="2.46" height="8.85" fill="#feead2"/>
<rect x="445.68" y="85.70" width="2.46" height="8.85" fill="#fddcb8"/>
<rect x="447.98" y="85.70" width="2.46" height="8.85" fill="#feead2"/>
<rect x="450.29" y="85.70" width="2.46" height="8.85" fill="#fbab78"/>
<rect x="452.59" y="85.70" width="2.46" height="8.85" fill="#fddcb8"/>
<rect x="415.70" y="94.40" width="2.46" height="8.85" fill="#dc2c20"/>
<rect x="418.01" y="94.40" width="2.46" height="8.85" fill="#fddcb8"/>
<rect x="420.31" y="94.40" width="2.46" height="8.85" fill="#fbab78"/>
<rect x="422.62" y="94.40" width="2.46" height="8.85" fill="#feead2"/>
<rect x="424.92" y="94.40" width="2.46" height="8.85" fill="#c1121a"/>
<rect x="427.23" y="94.40" width="2.46" height="8.85" fill="#fddcb8"/>
<rect x="429.54" y="94.40" width="2.46" height="8.85" fill="#f78a56"/>
<rect x="431.84" y="94.40" width="2.46" height="8.85" fill="#feead2"/>
<rect x="434.15" y="94.40" width="2.46" height="8.85" fill="#feead2"/>
<rect x="436.45" y="94.40" width="2.46" height="8.85" fill="#fddcb8"/>
<rect x="438.76" y="94.40" width="2.46" height="8.85" fill="#feead2"/>
<rect x="441.06" y="94.40" width="2.46" height="8.85" fill="#feead2"/>
<rect x="443.37" y="94.40" width="2.46" height="8.85" fill="#fddcb8"/>
<rect x="445.68" y="94.40" width="2.46" height="8.85" fill="#feead2"/>
<rect x="447.98" y="94.40" width="2.46" height="8.85" fill="#feead2"/>
<rect x="450.29" y="94.40" width="2.46" height="8.85" fill="#fddcb8"/>
<rect x="452.59" y="94.40" width="2.46" height="8.85" fill="#feead2"/>
<rect x="415.70" y="103.10" width="2.46" height="8.85" fill="#fcc89a"/>
<rect x="418.01" y="103.10" width="2.46" height="8.85" fill="#fddcb8"/>
<rect x="420.31" y="103.10" width="2.46" height="8.85" fill="#fbab78"/>
<rect x="422.62" y="103.10" width="2.46" height="8.85" fill="#fddcb8"/>
<rect x="424.92" y="103.10" width="2.46" height="8.85" fill="#fddcb8"/>
<rect x="427.23" y="103.10" width="2.46" height="8.85" fill="#feead2"/>
<rect x="429.54" y="103.10" width="2.46" height="8.85" fill="#fddcb8"/>
<rect x="431.84" y="103.10" width="2.46" height="8.85" fill="#fddcb8"/>
<rect x="434.15" y="103.10" width="2.46" height="8.85" fill="#fcc89a"/>
<rect x="436.45" y="103.10" width="2.46" height="8.85" fill="#fbab78"/>
<rect x="438.76" y="103.10" width="2.46" height="8.85" fill="#fddcb8"/>
<rect x="441.06" y="103.10" width="2.46" height="8.85" fill="#fcc89a"/>
<rect x="443.37" y="103.10" width="2.46" height="8.85" fill="#fbab78"/>
<rect x="445.68" y="103.10" width="2.46" height="8.85" fill="#fddcb8"/>
<rect x="447.98" y="103.10" width="2.46" height="8.85" fill="#fddcb8"/>
<rect x="450.29" y="103.10" width="2.46" height="8.85" fill="#c1121a"/>
<rect x="452.59" y="103.10" width="2.46" height="8.85" fill="#fddcb8"/>
<rect x="415.70" y="111.80" width="2.46" height="8.85" fill="#fddcb8"/>
<rect x="418.01" y="111.80" width="2.46" height="8.85" fill="#fcc89a"/>
<rect x="420.31" y="111.80" width="2.46" height="8.85" fill="#fcc89a"/>
<rect x="422.62" y="111.80" width="2.46" height="8.85" fill="#fcc89a"/>
<rect x="424.92" y="111.80" width="2.46" height="8.85" fill="#fcc89a"/>
<rect x="427.23" y="111.80" width="2.46" height="8.85" fill="#fcc89a"/>
<rect x="429.54" y="111.80" width="2.46" height="8.85" fill="#fcc89a"/>
<rect x="431.84" y="111.80" width="2.46" height="8.85" fill="#fddcb8"/>
<rect x="434.15" y="111.80" width="2.46" height="8.85" fill="#fcc89a"/>
<rect x="436.45" y="111.80" width="2.46" height="8.85" fill="#8f0510"/>
<rect x="438.76" y="111.80" width="2.46" height="8.85" fill="#fcc89a"/>
<rect x="441.06" y="111.80" width="2.46" height="8.85" fill="#dc2c20"/>
<rect x="443.37" y="111.80" width="2.46" height="8.85" fill="#fddcb8"/>
<rect x="445.68" y="111.80" width="2.46" height="8.85" fill="#fcc89a"/>
<rect x="447.98" y="111.80" width="2.46" height="8.85" fill="#fddcb8"/>
<rect x="450.29" y="111.80" width="2.46" height="8.85" fill="#fddcb8"/>
<rect x="452.59" y="111.80" width="2.46" height="8.85" fill="#fddcb8"/>
<rect x="415.70" y="120.50" width="2.46" height="8.85" fill="#fddcb8"/>
<rect x="418.01" y="120.50" width="2.46" height="8.85" fill="#fddcb8"/>
<rect x="420.31" y="120.50" width="2.46" height="8.85" fill="#f78a56"/>
<rect x="422.62" y="120.50" width="2.46" height="8.85" fill="#fddcb8"/>
<rect x="424.92" y="120.50" width="2.46" height="8.85" fill="#fddcb8"/>
<rect x="427.23" y="120.50" width="2.46" height="8.85" fill="#fbab78"/>
<rect x="429.54" y="120.50" width="2.46" height="8.85" fill="#fddcb8"/>
<rect x="431.84" y="120.50" width="2.46" height="8.85" fill="#fddcb8"/>
<rect x="434.15" y="120.50" width="2.46" height="8.85" fill="#8f0510"/>
<rect x="436.45" y="120.50" width="2.46" height="8.85" fill="#fddcb8"/>
<rect x="438.76" y="120.50" width="2.46" height="8.85" fill="#fddcb8"/>
<rect x="441.06" y="120.50" width="2.46" height="8.85" fill="#fddcb8"/>
<rect x="443.37" y="120.50" width="2.46" height="8.85" fill="#fddcb8"/>
<rect x="445.68" y="120.50" width="2.46" height="8.85" fill="#fddcb8"/>
<rect x="447.98" y="120.50" width="2.46" height="8.85" fill="#fddcb8"/>
<rect x="450.29" y="120.50" width="2.46" height="8.85" fill="#fddcb8"/>
<rect x="452.59" y="120.50" width="2.46" height="8.85" fill="#fddcb8"/>
<rect x="415.70" y="68.30" width="39.20" height="60.90" fill="none" stroke="#3a2a20" stroke-width="0.7"/>
<rect x="415.70" y="131.40" width="2.46" height="8.55" fill="#fddcb8"/>
<rect x="418.01" y="131.40" width="2.46" height="8.55" fill="#fbab78"/>
<rect x="420.31" y="131.40" width="2.46" height="8.55" fill="#fddcb8"/>
<rect x="422.62" y="131.40" width="2.46" height="8.55" fill="#fddcb8"/>
<rect x="424.92" y="131.40" width="2.46" height="8.55" fill="#f78a56"/>
<rect x="427.23" y="131.40" width="2.46" height="8.55" fill="#fddcb8"/>
<rect x="429.54" y="131.40" width="2.46" height="8.55" fill="#fddcb8"/>
<rect x="431.84" y="131.40" width="2.46" height="8.55" fill="#c1121a"/>
<rect x="434.15" y="131.40" width="2.46" height="8.55" fill="#fcc89a"/>
<rect x="436.45" y="131.40" width="2.46" height="8.55" fill="#ee5f38"/>
<rect x="438.76" y="131.40" width="2.46" height="8.55" fill="#dc2c20"/>
<rect x="441.06" y="131.40" width="2.46" height="8.55" fill="#fbab78"/>
<rect x="443.37" y="131.40" width="2.46" height="8.55" fill="#fddcb8"/>
<rect x="445.68" y="131.40" width="2.46" height="8.55" fill="#c1121a"/>
<rect x="447.98" y="131.40" width="2.46" height="8.55" fill="#fbab78"/>
<rect x="450.29" y="131.40" width="2.46" height="8.55" fill="#fddcb8"/>
<rect x="452.59" y="131.40" width="2.46" height="8.55" fill="#fddcb8"/>
<rect x="415.70" y="131.40" width="39.20" height="8.40" fill="none" stroke="#3a2a20" stroke-width="0.7"/>
<rect x="457.30" y="68.30" width="2.27" height="8.85" fill="#fddcb8"/>
<rect x="459.43" y="68.30" width="2.27" height="8.85" fill="#fddcb8"/>
<rect x="461.55" y="68.30" width="2.27" height="8.85" fill="#fddcb8"/>
<rect x="463.68" y="68.30" width="2.27" height="8.85" fill="#fddcb8"/>
<rect x="465.80" y="68.30" width="2.27" height="8.85" fill="#fddcb8"/>
<rect x="467.93" y="68.30" width="2.27" height="8.85" fill="#fddcb8"/>
<rect x="470.05" y="68.30" width="2.27" height="8.85" fill="#fddcb8"/>
<rect x="472.18" y="68.30" width="2.27" height="8.85" fill="#fddcb8"/>
<rect x="457.30" y="77.00" width="2.27" height="8.85" fill="#fddcb8"/>
<rect x="459.43" y="77.00" width="2.27" height="8.85" fill="#fddcb8"/>
<rect x="461.55" y="77.00" width="2.27" height="8.85" fill="#fddcb8"/>
<rect x="463.68" y="77.00" width="2.27" height="8.85" fill="#fddcb8"/>
<rect x="465.80" y="77.00" width="2.27" height="8.85" fill="#fddcb8"/>
<rect x="467.93" y="77.00" width="2.27" height="8.85" fill="#fddcb8"/>
<rect x="470.05" y="77.00" width="2.27" height="8.85" fill="#fddcb8"/>
<rect x="472.18" y="77.00" width="2.27" height="8.85" fill="#fddcb8"/>
<rect x="457.30" y="85.70" width="2.27" height="8.85" fill="#ee5f38"/>
<rect x="459.43" y="85.70" width="2.27" height="8.85" fill="#c1121a"/>
<rect x="461.55" y="85.70" width="2.27" height="8.85" fill="#dc2c20"/>
<rect x="463.68" y="85.70" width="2.27" height="8.85" fill="#dc2c20"/>
<rect x="465.80" y="85.70" width="2.27" height="8.85" fill="#dc2c20"/>
<rect x="467.93" y="85.70" width="2.27" height="8.85" fill="#dc2c20"/>
<rect x="470.05" y="85.70" width="2.27" height="8.85" fill="#dc2c20"/>
<rect x="472.18" y="85.70" width="2.27" height="8.85" fill="#ee5f38"/>
<rect x="457.30" y="94.40" width="2.27" height="8.85" fill="#ee5f38"/>
<rect x="459.43" y="94.40" width="2.27" height="8.85" fill="#dc2c20"/>
<rect x="461.55" y="94.40" width="2.27" height="8.85" fill="#dc2c20"/>
<rect x="463.68" y="94.40" width="2.27" height="8.85" fill="#ee5f38"/>
<rect x="465.80" y="94.40" width="2.27" height="8.85" fill="#dc2c20"/>
<rect x="467.93" y="94.40" width="2.27" height="8.85" fill="#ee5f38"/>
<rect x="470.05" y="94.40" width="2.27" height="8.85" fill="#dc2c20"/>
<rect x="472.18" y="94.40" width="2.27" height="8.85" fill="#ee5f38"/>
<rect x="457.30" y="103.10" width="2.27" height="8.85" fill="#fcc89a"/>
<rect x="459.43" y="103.10" width="2.27" height="8.85" fill="#fbab78"/>
<rect x="461.55" y="103.10" width="2.27" height="8.85" fill="#f78a56"/>
<rect x="463.68" y="103.10" width="2.27" height="8.85" fill="#ee5f38"/>
<rect x="465.80" y="103.10" width="2.27" height="8.85" fill="#dc2c20"/>
<rect x="467.93" y="103.10" width="2.27" height="8.85" fill="#dc2c20"/>
<rect x="470.05" y="103.10" width="2.27" height="8.85" fill="#f78a56"/>
<rect x="472.18" y="103.10" width="2.27" height="8.85" fill="#c1121a"/>
<rect x="457.30" y="111.80" width="2.27" height="8.85" fill="#fddcb8"/>
<rect x="459.43" y="111.80" width="2.27" height="8.85" fill="#fcc89a"/>
<rect x="461.55" y="111.80" width="2.27" height="8.85" fill="#fcc89a"/>
<rect x="463.68" y="111.80" width="2.27" height="8.85" fill="#fcc89a"/>
<rect x="465.80" y="111.80" width="2.27" height="8.85" fill="#fbab78"/>
<rect x="467.93" y="111.80" width="2.27" height="8.85" fill="#fbab78"/>
<rect x="470.05" y="111.80" width="2.27" height="8.85" fill="#fcc89a"/>
<rect x="472.18" y="111.80" width="2.27" height="8.85" fill="#fbab78"/>
<rect x="457.30" y="120.50" width="2.27" height="8.85" fill="#fcc89a"/>
<rect x="459.43" y="120.50" width="2.27" height="8.85" fill="#c1121a"/>
<rect x="461.55" y="120.50" width="2.27" height="8.85" fill="#fcc89a"/>
<rect x="463.68" y="120.50" width="2.27" height="8.85" fill="#fcc89a"/>
<rect x="465.80" y="120.50" width="2.27" height="8.85" fill="#fbab78"/>
<rect x="467.93" y="120.50" width="2.27" height="8.85" fill="#fcc89a"/>
<rect x="470.05" y="120.50" width="2.27" height="8.85" fill="#fcc89a"/>
<rect x="472.18" y="120.50" width="2.27" height="8.85" fill="#fcc89a"/>
<rect x="457.30" y="68.30" width="17.00" height="60.90" fill="none" stroke="#3a2a20" stroke-width="0.7"/>
<rect x="457.30" y="131.40" width="2.27" height="8.55" fill="#fcc89a"/>
<rect x="459.43" y="131.40" width="2.27" height="8.55" fill="#fbab78"/>
<rect x="461.55" y="131.40" width="2.27" height="8.55" fill="#f78a56"/>
<rect x="463.68" y="131.40" width="2.27" height="8.55" fill="#fcc89a"/>
<rect x="465.80" y="131.40" width="2.27" height="8.55" fill="#f78a56"/>
<rect x="467.93" y="131.40" width="2.27" height="8.55" fill="#ee5f38"/>
<rect x="470.05" y="131.40" width="2.27" height="8.55" fill="#fbab78"/>
<rect x="472.18" y="131.40" width="2.27" height="8.55" fill="#fcc89a"/>
<rect x="457.30" y="131.40" width="17.00" height="8.40" fill="none" stroke="#3a2a20" stroke-width="0.7"/>
<text x="409.30" y="75.40" font-size="6.4" text-anchor="end" fill="#34343c" stroke="#34343c" stroke-width="0.14">LMPP</text>
<circle cx="388.00" cy="73.10" r="1.55" fill="#a3182f"/>
<text x="409.30" y="83.90" font-size="6.4" text-anchor="end" fill="#34343c" stroke="#34343c" stroke-width="0.14">HSC</text>
<circle cx="392.30" cy="81.60" r="1.55" fill="#9a1428"/>
<text x="409.30" y="92.60" font-size="6.4" text-anchor="end" fill="#34343c" stroke="#34343c" stroke-width="0.14">conventional DC</text>
<circle cx="356.80" cy="90.30" r="1.30" fill="#fff" stroke="#a8a85a" stroke-width="0.6"/>
<text x="409.30" y="101.30" font-size="6.4" text-anchor="end" fill="#34343c" stroke="#34343c" stroke-width="0.14">CD14<tspan dy="-2.3" font-size="4.6">+</tspan><tspan dy="2.3"> Mono</tspan></text>
<circle cx="366.00" cy="99.00" r="1.55" fill="#b5743a"/>
<text x="409.30" y="109.90" font-size="6.4" text-anchor="end" fill="#34343c" stroke="#34343c" stroke-width="0.14">Progenitor DC</text>
<circle cx="363.60" cy="107.60" r="1.30" fill="#fff" stroke="#b8b88a" stroke-width="0.6"/>
<text x="409.30" y="118.70" font-size="6.4" text-anchor="end" fill="#34343c" stroke="#34343c" stroke-width="0.14">plasmacytoid DC</text>
<circle cx="356.20" cy="116.40" r="1.30" fill="#d8c088" stroke="#b89a58" stroke-width="0.6"/>
<text x="409.30" y="127.60" font-size="6.4" text-anchor="end" fill="#34343c" stroke="#34343c" stroke-width="0.14">CD16<tspan dy="-2.3" font-size="4.6">+</tspan><tspan dy="2.3"> Mono</tspan></text>
<circle cx="366.00" cy="125.30" r="1.55" fill="#cf9338"/>
<text x="409.30" y="137.80" font-size="6.4" text-anchor="end" fill="#34343c" stroke="#34343c" stroke-width="0.14">GMP</text>
<circle cx="390.80" cy="135.50" r="1.55" fill="#c01f36"/>
<rect x="477.00" y="71.10" width="21.87" height="4.00" fill="#44546a"/>
<rect x="477.00" y="79.60" width="19.98" height="4.00" fill="#44546a"/>
<rect x="477.00" y="88.30" width="16.47" height="4.00" fill="#44546a"/>
<rect x="477.00" y="97.00" width="14.58" height="4.00" fill="#44546a"/>
<rect x="477.00" y="105.60" width="11.61" height="4.00" fill="#44546a"/>
<rect x="477.00" y="114.40" width="8.91" height="4.00" fill="#44546a"/>
<rect x="477.00" y="123.30" width="7.56" height="4.00" fill="#44546a"/>
<rect x="477.00" y="133.50" width="0.50" height="4.00" fill="#c9c9cf"/>
<line x1="476.60" y1="141.00" x2="499.80" y2="141.00" stroke="#111" stroke-width="0.8"/>
<line x1="477.00" y1="141.00" x2="477.00" y2="143.00" stroke="#111" stroke-width="0.6"/>
<line x1="482.40" y1="141.00" x2="482.40" y2="143.00" stroke="#111" stroke-width="0.6"/>
<line x1="487.80" y1="141.00" x2="487.80" y2="143.00" stroke="#111" stroke-width="0.6"/>
<line x1="493.20" y1="141.00" x2="493.20" y2="143.00" stroke="#111" stroke-width="0.6"/>
<line x1="498.60" y1="141.00" x2="498.60" y2="143.00" stroke="#111" stroke-width="0.6"/>
<text x="477.00" y="152.30" font-size="6.4" text-anchor="middle" fill="#34343c" stroke="#34343c" stroke-width="0.14">0</text>
<text x="487.80" y="152.30" font-size="6.4" text-anchor="middle" fill="#34343c" stroke="#34343c" stroke-width="0.14">2</text>
<text x="498.60" y="152.30" font-size="6.4" text-anchor="middle" fill="#34343c" stroke="#34343c" stroke-width="0.14">4</text>
<text x="0.00" y="0.00" font-size="9.2" text-anchor="middle" fill="#34343c" stroke="#34343c" stroke-width="0.14" transform="translate(487.40 164.00) scale(0.76 1)">-log<tspan dy="2.2" font-size="6.8">10</tspan></text>
<text x="0.00" y="0.00" font-size="9.0" text-anchor="middle" fill="#34343c" stroke="#34343c" stroke-width="0.14" transform="translate(487.40 172.80) scale(0.76 1)">(<tspan font-style="italic">P</tspan> value)</text>
<rect x="484.30" y="52.60" width="7.70" height="3.80" fill="#44546a"/>
<rect x="484.30" y="60.00" width="7.70" height="3.80" fill="#c9c9cf"/>
<text x="495.00" y="56.60" font-size="5.9" fill="#34343c" stroke="#34343c" stroke-width="0.14"><tspan font-style="italic">P</tspan> &lt; .05</text>
<text x="495.00" y="64.00" font-size="5.9" fill="#34343c" stroke="#34343c" stroke-width="0.14"><tspan font-style="italic">P</tspan> &gt; .05</text>
<text x="446.00" y="150.00" font-size="6.2" text-anchor="middle" fill="#34343c" stroke="#34343c" stroke-width="0.14">Abundance</text>
<text x="446.00" y="157.90" font-size="6.2" text-anchor="middle" fill="#34343c" stroke="#34343c" stroke-width="0.14">Z score</text>
<defs><linearGradient id="zg430" x1="0" x2="1" y1="0" y2="0"><stop offset="0" stop-color="#fff7ec"/><stop offset="0.3" stop-color="#fdd9ae"/><stop offset="0.55" stop-color="#fc9a62"/><stop offset="0.78" stop-color="#e23523"/><stop offset="1" stop-color="#8f0510"/></linearGradient></defs>
<rect x="430.10" y="160.50" width="32.20" height="4.80" fill="url(#zg430)" stroke="#3a2a20" stroke-width="0.6"/>
<line x1="433.32" y1="164.10" x2="433.32" y2="165.30" stroke="#3a2a20" stroke-width="0.5"/>
<line x1="439.76" y1="164.10" x2="439.76" y2="165.30" stroke="#3a2a20" stroke-width="0.5"/>
<line x1="446.20" y1="164.10" x2="446.20" y2="165.30" stroke="#3a2a20" stroke-width="0.5"/>
<line x1="452.64" y1="164.10" x2="452.64" y2="165.30" stroke="#3a2a20" stroke-width="0.5"/>
<line x1="459.08" y1="164.10" x2="459.08" y2="165.30" stroke="#3a2a20" stroke-width="0.5"/>
<text x="432.60" y="176.00" font-size="6.4" text-anchor="middle" fill="#34343c" stroke="#34343c" stroke-width="0.14">–2</text>
<text x="446.40" y="176.00" font-size="6.4" text-anchor="middle" fill="#34343c" stroke="#34343c" stroke-width="0.14">0</text>
<text x="460.20" y="176.00" font-size="6.4" text-anchor="middle" fill="#34343c" stroke="#34343c" stroke-width="0.14">2</text>
<circle cx="137.60" cy="205.70" r="4.75" fill="#c262b8"/>
<circle cx="133.00" cy="206.20" r="0.90" fill="#c262b8"/>
<circle cx="142.20" cy="206.20" r="0.90" fill="#c262b8"/>
<path d="M135.5 209.4 L139.7 209.4 L139.9 212.0 C141.5 212.9 145.6 213.4 147.8 214.8 C150.2 216.6 150.8 220 151.0 224 L151.3 232.9 L147.7 232.9 L146.9 224.4 L146.3 232.9 L128.9 232.9 L128.3 224.4 L127.5 232.9 L123.9 232.9 L124.2 224 C124.4 220 125.0 216.6 127.4 214.8 C129.6 213.4 133.7 212.9 135.3 212.0 Z" fill="#c262b8"/>
<text x="137.00" y="222.60" font-size="6.3" text-anchor="middle" fill="#fff" stroke="#fff" stroke-width="0.14">Arm A</text>
<rect x="160.80" y="194.60" width="3.40" height="1.80" fill="#9a9aa2"/>
<path d="M158.0 197.2 Q158.0 196.2 159 196.2 L166.2 196.2 Q167.2 196.2 167.2 197.2 L167.2 210.4 Q167.2 212.6 164.4 213.6 L163.4 215.4 L161.8 215.4 L160.8 213.6 Q158.0 212.6 158.0 210.4 Z" fill="#dfe7f2" stroke="#7a7a86" stroke-width="0.55"/>
<path d="M158.6 201.2 L166.6 201.2 L166.6 210.2 Q166.6 212.2 164.2 213.0 L163.2 214.8 L162.0 214.8 L161.0 213.0 Q158.6 212.2 158.6 210.2 Z" fill="#e9a01f"/>
<rect x="158.60" y="201.20" width="1.80" height="10.40" fill="#c98612"/>
<rect x="164.60" y="201.20" width="1.20" height="10.00" fill="#f3b540"/>
<line x1="159.40" y1="198.20" x2="165.80" y2="198.20" stroke="#8a9ab0" stroke-width="0.4"/>
<line x1="159.40" y1="199.60" x2="165.80" y2="199.60" stroke="#8a9ab0" stroke-width="0.4"/>
<path d="M162.7 215.4 L162.7 224.5 C162.7 229 161 233.2 156.4 233.4 C153.8 233.4 152 232.4 150.6 231.2" fill="none" stroke="#efc06a" stroke-width="0.75"/>
<rect x="161.90" y="216.40" width="1.60" height="2.40" fill="#8a7a6a"/>
<circle cx="148.60" cy="230.60" r="0.90" fill="#e8c8e0"/>
<text x="136.40" y="243.30" font-size="6.5" text-anchor="middle" fill="#34343c" stroke="#34343c" stroke-width="0.14">Genetic deconvolution</text>
<text x="136.60" y="251.00" font-size="6.5" text-anchor="middle" font-style="italic" fill="#34343c" stroke="#34343c" stroke-width="0.14">souporcell</text>
<line x1="127.00" y1="282.40" x2="127.00" y2="259.60" stroke="#111" stroke-width="0.7"/>
<path d="M127 257.8 L125.8 260.4 L128.2 260.4 Z" fill="#111"/>
<line x1="126.70" y1="282.20" x2="159.80" y2="282.20" stroke="#111" stroke-width="0.7"/>
<path d="M161.6 282.2 L159 281 L159 283.4 Z" fill="#111"/>
<text x="0.00" y="0.00" font-size="9.0" text-anchor="middle" fill="#34343c" stroke="#34343c" stroke-width="0.14" transform="translate(124.00 270.80) rotate(-90) scale(0.72 1)">PC1</text>
<text x="0.00" y="0.00" font-size="9.0" text-anchor="middle" fill="#34343c" stroke="#34343c" stroke-width="0.14" transform="translate(144.00 291.40) scale(0.72 1)">PC2</text>
<path d="M132.0 266.9h.01M142.1 260.2h.01M131.1 266.0h.01M141.1 265.4h.01M131.4 262.9h.01M141.9 263.4h.01M144.8 263.1h.01M136.7 263.0h.01M145.6 259.9h.01M132.8 262.3h.01M138.3 263.8h.01M135.5 264.2h.01M139.9 265.0h.01M143.4 261.9h.01M131.0 267.9h.01M130.8 265.8h.01M130.8 266.3h.01M133.6 265.9h.01M145.9 260.2h.01M140.2 259.1h.01M136.8 266.1h.01M137.5 264.9h.01M137.1 260.7h.01M139.7 260.2h.01M144.6 259.6h.01M141.4 262.1h.01M141.8 260.1h.01M142.7 261.2h.01M144.1 262.7h.01M137.5 261.1h.01M142.2 263.2h.01M144.4 259.9h.01M141.2 263.8h.01M139.5 263.6h.01M137.9 261.5h.01M132.0 264.6h.01M141.6 266.0h.01M143.2 264.3h.01M142.4 263.8h.01M139.5 265.4h.01M144.7 260.0h.01M136.5 268.4h.01M139.9 265.7h.01M140.6 259.3h.01M145.3 263.4h.01M139.4 265.3h.01M137.3 260.9h.01M137.4 265.0h.01M143.7 263.2h.01M139.2 266.8h.01M134.5 267.2h.01M142.9 260.6h.01M129.9 264.6h.01M139.6 264.6h.01M143.1 259.0h.01M138.4 265.5h.01M135.4 259.7h.01M141.9 266.5h.01M141.5 259.4h.01M135.5 265.2h.01M146.0 261.4h.01M139.5 267.0h.01M138.8 267.6h.01M133.4 263.8h.01M142.1 265.6h.01M141.6 263.0h.01M129.8 265.0h.01M133.7 263.4h.01M140.5 261.3h.01M142.0 262.1h.01M135.8 264.7h.01M140.8 265.0h.01M134.6 264.0h.01M133.7 268.7h.01M144.2 260.5h.01M134.1 261.5h.01M138.8 263.8h.01M145.7 260.9h.01M133.5 260.6h.01M144.4 261.4h.01M130.7 266.8h.01M135.6 268.9h.01M143.7 262.8h.01M135.3 259.8h.01M135.6 260.3h.01M138.2 258.8h.01M134.6 268.1h.01M143.0 258.7h.01M131.9 268.1h.01M140.8 259.5h.01M133.2 263.2h.01M131.3 264.2h.01M144.1 262.9h.01M145.4 260.3h.01M135.8 261.2h.01M135.7 260.6h.01M131.0 267.9h.01M144.6 263.0h.01M144.2 261.7h.01M133.7 265.4h.01M134.6 261.5h.01M130.5 263.3h.01M137.7 264.1h.01M136.8 267.8h.01M139.3 264.9h.01M142.5 259.4h.01M130.8 268.0h.01M135.7 268.0h.01M140.4 265.6h.01M138.8 258.7h.01M140.7 260.3h.01M133.0 264.0h.01M142.4 264.3h.01M140.3 258.6h.01M134.0 260.3h.01M137.7 265.6h.01M133.7 266.0h.01M139.9 265.8h.01M132.6 263.1h.01M136.0 268.4h.01M143.1 261.0h.01M139.1 263.4h.01M138.5 262.5h.01M134.7 261.1h.01M136.3 268.2h.01M140.7 262.6h.01M136.4 264.3h.01M138.8 261.0h.01M139.0 263.9h.01M132.9 263.1h.01M132.0 262.9h.01M138.9 258.5h.01M135.4 262.4h.01M134.2 265.3h.01M143.4 261.5h.01M136.1 262.2h.01M137.9 266.4h.01M134.5 261.5h.01M131.2 263.3h.01M132.7 268.3h.01M139.4 262.1h.01M143.5 259.5h.01M142.3 264.2h.01M130.8 263.0h.01M134.0 267.7h.01M142.0 258.8h.01M142.5 260.5h.01M134.8 262.9h.01M134.8 260.3h.01M132.0 262.6h.01" stroke="#c27ac0" stroke-width="1.0" stroke-linecap="round" fill="none" opacity="0.7"/>
<path d="M153.2 278.3h.01M158.1 271.0h.01M141.5 277.2h.01M147.5 280.3h.01M152.0 271.6h.01M155.3 274.4h.01M141.7 276.8h.01M148.1 275.7h.01M150.0 273.6h.01M150.0 272.8h.01M146.9 280.0h.01M152.3 275.5h.01M141.9 277.6h.01M152.3 270.3h.01M155.1 271.6h.01M151.9 273.6h.01M152.0 277.7h.01M149.2 279.4h.01M144.5 274.2h.01M152.2 270.7h.01M148.5 278.4h.01M153.0 269.6h.01M153.3 278.1h.01M155.7 271.8h.01M145.7 275.5h.01M143.2 276.8h.01M148.2 275.0h.01M155.6 271.9h.01M144.1 279.9h.01M143.4 276.1h.01M148.3 274.3h.01M143.8 276.5h.01M157.4 270.6h.01M150.1 278.3h.01M154.5 275.5h.01M151.4 269.8h.01M144.8 277.4h.01M153.4 277.3h.01M152.2 273.1h.01M149.6 274.2h.01M151.9 276.4h.01M146.7 273.4h.01M146.4 279.5h.01M156.6 274.9h.01M155.1 275.4h.01M150.4 277.0h.01M143.6 276.8h.01M146.3 278.6h.01M146.0 276.1h.01M153.0 277.6h.01M144.4 274.2h.01M152.6 270.5h.01M151.6 272.2h.01M147.5 271.2h.01M153.1 271.9h.01M147.8 280.3h.01M153.1 278.7h.01M151.7 272.9h.01M151.6 278.6h.01M150.0 276.5h.01M151.5 271.3h.01M149.8 273.2h.01M144.4 279.5h.01M153.7 273.6h.01M144.5 272.5h.01M152.4 273.5h.01M141.8 278.0h.01M142.2 277.9h.01M150.9 275.7h.01M151.2 275.0h.01M143.1 276.4h.01M146.2 275.5h.01M151.9 276.2h.01M152.9 269.4h.01M151.8 273.4h.01M158.3 273.4h.01M142.4 278.9h.01M147.9 278.8h.01M143.7 277.0h.01M148.7 275.0h.01M145.6 272.1h.01M153.2 276.7h.01M148.1 272.3h.01M151.5 276.2h.01M148.5 275.4h.01M154.9 270.0h.01M145.7 272.0h.01M144.9 274.5h.01M143.7 275.2h.01M157.4 271.4h.01M150.9 279.4h.01M147.8 271.2h.01M150.8 271.5h.01M155.2 269.8h.01M145.5 272.4h.01M149.0 272.0h.01M148.7 274.0h.01M147.3 278.9h.01M155.0 273.1h.01M144.0 274.1h.01M152.3 278.9h.01M146.1 273.8h.01M144.9 273.6h.01M143.9 276.6h.01M156.7 272.1h.01M145.8 272.2h.01M150.9 274.4h.01M142.8 274.8h.01M150.5 277.9h.01M153.6 274.1h.01M148.0 276.8h.01M151.2 279.3h.01M143.2 276.4h.01M155.9 271.7h.01M156.7 272.0h.01M150.0 273.5h.01M142.4 275.3h.01M158.3 272.9h.01M153.9 276.3h.01M153.7 276.5h.01M147.7 275.0h.01M154.7 271.9h.01M142.6 277.1h.01M147.1 278.0h.01M144.7 273.7h.01M149.5 279.3h.01M149.5 275.6h.01M150.0 275.9h.01M155.2 276.5h.01M144.2 280.3h.01M149.2 274.0h.01M158.1 271.2h.01M157.9 273.9h.01M144.6 278.5h.01M153.8 272.9h.01M140.8 277.8h.01M147.4 272.4h.01M157.4 271.3h.01M146.8 275.0h.01M144.5 274.6h.01M150.6 275.7h.01M146.4 276.0h.01M143.3 279.0h.01M145.5 277.4h.01M144.0 275.6h.01M149.5 271.3h.01M158.3 271.5h.01M148.3 273.0h.01M157.1 275.2h.01M149.7 271.0h.01M147.4 278.0h.01M145.7 273.0h.01M142.9 275.4h.01M148.9 273.0h.01M151.4 279.4h.01M156.0 270.0h.01M151.8 274.4h.01M150.0 278.2h.01M147.2 274.8h.01M147.2 275.6h.01M156.6 274.4h.01M142.4 276.6h.01M146.2 278.9h.01M151.9 277.0h.01M147.7 271.0h.01M152.6 274.6h.01M150.8 270.7h.01M149.3 272.8h.01M146.0 277.6h.01M150.6 271.7h.01" stroke="#f2ae3a" stroke-width="1.0" stroke-linecap="round" fill="none" opacity="0.7"/>
<circle cx="111.60" cy="301.30" r="13.00" fill="#bf62b6" stroke="#3a2a3a" stroke-width="0.7"/>
<path d="M111.6 301.3 L111.6 288.3 A13.0 13.0 0 0 1 124.19 304.53 Z" fill="#f0a21f" stroke="#3a2a3a" stroke-width="0.7"/>
<text x="117.80" y="299.00" font-size="5.6" text-anchor="middle" fill="#fbe3b0" stroke="#fbe3b0" stroke-width="0.14">29%</text>
<text x="107.60" y="309.80" font-size="5.8" text-anchor="middle" fill="#f3dff0" stroke="#f3dff0" stroke-width="0.14">71%</text>
<rect x="130.60" y="299.80" width="3.60" height="3.60" fill="#b060a8" stroke="#6a3a6a" stroke-width="0.4"/>
<rect x="130.60" y="306.30" width="3.60" height="3.60" fill="#e9a935" stroke="#8a6a2a" stroke-width="0.4"/>
<text x="136.60" y="303.60" font-size="6.2" fill="#34343c" stroke="#34343c" stroke-width="0.14">Recipient</text>
<text x="136.60" y="310.20" font-size="6.2" fill="#34343c" stroke="#34343c" stroke-width="0.14">Donor</text>
<text x="124.80" y="320.40" font-size="6.2" fill="#34343c" stroke="#34343c" stroke-width="0.14">n = 145,595 cells</text>
<rect x="235.20" y="199.90" width="7.10" height="16.50" fill="#f6a828"/>
<rect x="242.30" y="205.20" width="7.70" height="11.20" fill="#f6a828"/>
<rect x="250.00" y="211.20" width="7.80" height="5.20" fill="#f6a828"/>
<rect x="276.80" y="212.40" width="7.40" height="4.00" fill="#f6a828"/>
<rect x="292.70" y="213.40" width="7.40" height="3.00" fill="#f6a828"/>
<line x1="229.90" y1="198.60" x2="229.90" y2="216.80" stroke="#111" stroke-width="0.9"/>
<line x1="229.50" y1="216.40" x2="300.30" y2="216.40" stroke="#111" stroke-width="0.9"/>
<line x1="226.60" y1="202.00" x2="229.90" y2="202.00" stroke="#111" stroke-width="0.8"/>
<text x="0.00" y="0.00" font-size="6.8" text-anchor="end" fill="#34343c" stroke="#34343c" stroke-width="0.14" transform="translate(222.20 204.40) scale(0.86 1)">100</text>
<line x1="226.60" y1="209.20" x2="229.90" y2="209.20" stroke="#111" stroke-width="0.8"/>
<text x="0.00" y="0.00" font-size="6.8" text-anchor="end" fill="#34343c" stroke="#34343c" stroke-width="0.14" transform="translate(222.20 211.60) scale(0.86 1)">50</text>
<line x1="226.60" y1="216.30" x2="229.90" y2="216.30" stroke="#111" stroke-width="0.8"/>
<text x="0.00" y="0.00" font-size="6.8" text-anchor="end" fill="#34343c" stroke="#34343c" stroke-width="0.14" transform="translate(222.20 218.70) scale(0.86 1)">0</text>
<text x="0.00" y="0.00" font-size="8.6" text-anchor="middle" fill="#34343c" stroke="#34343c" stroke-width="0.14" transform="translate(196.40 208.00) rotate(-90) scale(0.76 1)"># donor</text>
<text x="0.00" y="0.00" font-size="8.6" text-anchor="middle" fill="#34343c" stroke="#34343c" stroke-width="0.14" transform="translate(206.60 207.80) rotate(-90) scale(0.76 1)">cells</text>
<rect x="233.90" y="219.60" width="24.50" height="6.00" fill="#2458a8"/>
<rect x="261.00" y="219.60" width="39.10" height="6.00" fill="#c4103c"/>
<text x="246.10" y="224.60" font-size="5.0" text-anchor="middle" fill="#fff" stroke="#fff" stroke-width="0.14">Response</text>
<text x="280.50" y="224.60" font-size="5.0" text-anchor="middle" fill="#fff" stroke="#fff" stroke-width="0.14">Non-Response</text>
<rect x="233.90" y="228.50" width="24.50" height="59.90" fill="#fff"/>
<rect x="233.90" y="243.47" width="8.17" height="7.49" fill="#c5121f"/>
<rect x="250.23" y="243.47" width="8.17" height="7.49" fill="#fac63a"/>
<rect x="233.90" y="250.96" width="8.17" height="7.49" fill="#c5121f"/>
<rect x="250.23" y="250.96" width="8.17" height="7.49" fill="#b80f1c"/>
<rect x="233.90" y="258.45" width="8.17" height="7.49" fill="#c5121f"/>
<rect x="242.07" y="258.45" width="8.17" height="7.49" fill="#e8501c"/>
<rect x="250.23" y="258.45" width="8.17" height="7.49" fill="#b80f1c"/>
<rect x="233.90" y="265.94" width="8.17" height="7.49" fill="#e9e9ea"/>
<rect x="242.07" y="265.94" width="8.17" height="7.49" fill="#f5a11a"/>
<rect x="250.23" y="265.94" width="8.17" height="7.49" fill="#e9e9ea"/>
<rect x="233.90" y="273.42" width="8.17" height="7.49" fill="#c5121f"/>
<rect x="250.23" y="273.42" width="8.17" height="7.49" fill="#b80f1c"/>
<rect x="233.90" y="280.91" width="8.17" height="7.49" fill="#c5121f"/>
<rect x="250.23" y="280.91" width="8.17" height="7.49" fill="#e9e9ea"/>
<rect x="233.90" y="228.50" width="24.50" height="59.90" fill="none" stroke="#2a2a2a" stroke-width="0.7"/>
<rect x="261.00" y="228.50" width="39.10" height="59.90" fill="#fff"/>
<rect x="276.64" y="250.96" width="7.82" height="7.49" fill="#e9e9ea"/>
<rect x="276.64" y="258.45" width="7.82" height="7.49" fill="#cc1220"/>
<rect x="292.28" y="258.45" width="7.82" height="7.49" fill="#cc1220"/>
<rect x="261.00" y="265.94" width="7.82" height="7.49" fill="#e9e9ea"/>
<rect x="268.82" y="265.94" width="7.82" height="7.49" fill="#e9e9ea"/>
<rect x="276.64" y="265.94" width="7.82" height="7.49" fill="#e9e9ea"/>
<rect x="284.46" y="265.94" width="7.82" height="7.49" fill="#e9e9ea"/>
<rect x="292.28" y="265.94" width="7.82" height="7.49" fill="#e9e9ea"/>
<rect x="276.64" y="273.42" width="7.82" height="7.49" fill="#e9e9ea"/>
<rect x="276.64" y="280.91" width="7.82" height="7.49" fill="#e9e9ea"/>
<rect x="261.00" y="228.50" width="39.10" height="59.90" fill="none" stroke="#2a2a2a" stroke-width="0.7"/>
<defs><linearGradient id="gy3" x1="0" x2="0" y1="0" y2="1"><stop offset="0" stop-color="#fde866"/><stop offset="1" stop-color="#f6a524"/></linearGradient></defs>
<rect x="250.20" y="243.50" width="8.20" height="7.50" fill="url(#gy3)"/>
<text x="232.00" y="234.20" font-size="6.4" text-anchor="end" fill="#34343c" stroke="#34343c" stroke-width="0.14">HSC</text>
<circle cx="214.60" cy="231.90" r="1.55" fill="#9a1428"/>
<text x="232.00" y="241.90" font-size="6.4" text-anchor="end" fill="#34343c" stroke="#34343c" stroke-width="0.14">LMPP</text>
<circle cx="210.40" cy="239.60" r="1.55" fill="#a3182f"/>
<text x="232.00" y="249.40" font-size="6.4" text-anchor="end" fill="#34343c" stroke="#34343c" stroke-width="0.14">GMP</text>
<circle cx="213.20" cy="247.10" r="1.55" fill="#c01f36"/>
<text x="232.00" y="256.70" font-size="6.4" text-anchor="end" fill="#34343c" stroke="#34343c" stroke-width="0.14">CD14<tspan dy="-2.3" font-size="4.6">+</tspan><tspan dy="2.3">Mono</tspan></text>
<circle cx="191.80" cy="254.40" r="1.55" fill="#b5743a"/>
<text x="232.00" y="264.30" font-size="6.4" text-anchor="end" fill="#34343c" stroke="#34343c" stroke-width="0.14">CD16<tspan dy="-2.3" font-size="4.6">+</tspan><tspan dy="2.3"> Mono</tspan></text>
<circle cx="189.40" cy="262.00" r="1.55" fill="#c49148"/>
<text x="232.00" y="272.10" font-size="6.4" text-anchor="end" fill="#34343c" stroke="#34343c" stroke-width="0.14">plasmacytoid DC</text>
<circle cx="178.60" cy="269.80" r="1.30" fill="#e0b878" stroke="#c49a50" stroke-width="0.6"/>
<text x="232.00" y="279.60" font-size="6.4" text-anchor="end" fill="#34343c" stroke="#34343c" stroke-width="0.14">conventional DC</text>
<circle cx="180.80" cy="277.30" r="1.30" fill="#fff" stroke="#a8a85a" stroke-width="0.6"/>
<text x="232.00" y="287.20" font-size="6.4" text-anchor="end" fill="#34343c" stroke="#34343c" stroke-width="0.14">Progenitor DC</text>
<circle cx="187.00" cy="284.90" r="1.30" fill="#fff" stroke="#b8b88a" stroke-width="0.6"/>
<text x="0.00" y="0.00" font-size="6.1" text-anchor="end" fill="#34343c" stroke="#34343c" stroke-width="0.14" transform="translate(241.40 291.40) rotate(-90)">AML1006*</text>
<text x="0.00" y="0.00" font-size="6.1" text-anchor="end" fill="#34343c" stroke="#34343c" stroke-width="0.14" transform="translate(248.90 291.40) rotate(-90)">AML1007</text>
<text x="0.00" y="0.00" font-size="6.1" text-anchor="end" fill="#34343c" stroke="#34343c" stroke-width="0.14" transform="translate(256.70 291.40) rotate(-90)">AML1019</text>
<text x="0.00" y="0.00" font-size="6.1" text-anchor="end" fill="#34343c" stroke="#34343c" stroke-width="0.14" transform="translate(265.20 291.40) rotate(-90)">AML1010</text>
<text x="0.00" y="0.00" font-size="6.1" text-anchor="end" fill="#34343c" stroke="#34343c" stroke-width="0.14" transform="translate(273.00 291.40) rotate(-90)">AML1012</text>
<text x="0.00" y="0.00" font-size="6.1" text-anchor="end" fill="#34343c" stroke="#34343c" stroke-width="0.14" transform="translate(281.00 291.40) rotate(-90)">AML1016</text>
<text x="0.00" y="0.00" font-size="6.1" text-anchor="end" fill="#34343c" stroke="#34343c" stroke-width="0.14" transform="translate(289.00 291.40) rotate(-90)">AML1022</text>
<text x="0.00" y="0.00" font-size="6.1" text-anchor="end" fill="#34343c" stroke="#34343c" stroke-width="0.14" transform="translate(296.90 291.40) rotate(-90)">AML1026</text>
<defs><linearGradient id="dg" x1="0" x2="0" y1="0" y2="1"><stop offset="0" stop-color="#8f0510"/><stop offset="0.25" stop-color="#d4141c"/><stop offset="0.5" stop-color="#f0601c"/><stop offset="0.7" stop-color="#f8b020"/><stop offset="0.85" stop-color="#fde880"/><stop offset="1" stop-color="#ffffff"/></linearGradient></defs>
<rect x="305.40" y="244.00" width="5.30" height="33.20" fill="url(#dg)" stroke="#3a2a20" stroke-width="0.5"/>
<line x1="310.70" y1="245.00" x2="312.20" y2="245.00" stroke="#111" stroke-width="0.5"/>
<text x="314.00" y="247.20" font-size="5.8" fill="#34343c" stroke="#34343c" stroke-width="0.14">100</text>
<line x1="310.70" y1="259.80" x2="312.20" y2="259.80" stroke="#111" stroke-width="0.5"/>
<text x="314.00" y="262.00" font-size="5.8" fill="#34343c" stroke="#34343c" stroke-width="0.14">50</text>
<line x1="310.70" y1="275.80" x2="312.20" y2="275.80" stroke="#111" stroke-width="0.5"/>
<text x="314.00" y="278.00" font-size="5.8" fill="#34343c" stroke="#34343c" stroke-width="0.14">0</text>
<text x="305.00" y="239.60" font-size="5.8" fill="#34343c" stroke="#34343c" stroke-width="0.14">% donor</text>
<rect x="384.00" y="197.40" width="127.60" height="59.60" fill="#fff"/>
<rect x="491.70" y="197.40" width="3.50" height="59.60" fill="#cfcfd4"/>
<path d="M463.5 241.6v1.4M504.3 241.5v1.5M387.7 225.2v1.5M466.8 251.1v0.5M443.9 212.1v1.1M457.2 198.2v0.7M419.7 252.0v1.3M404.4 244.9v0.6M462.8 205.0v0.4M495.2 209.9v0.7M509.4 249.4v0.7M506.7 229.5v1.2M410.1 253.5v1.2M507.3 250.7v0.8M430.1 207.3v0.6M392.3 215.4v1.1M384.4 237.8v0.8M423.6 246.2v1.0M424.3 226.1v1.2M391.3 255.5v0.4M479.7 247.8v0.4M484.5 219.2v1.1M385.2 200.2v0.6M505.9 209.1v1.3M502.6 253.5v0.8M429.3 228.7v1.3M397.8 242.0v1.4M493.7 199.6v1.5M395.6 217.7v1.1M501.1 217.7v1.5M453.6 216.0v0.8M406.6 202.1v0.6M471.9 256.8v0.2M390.2 256.2v0.8M435.8 211.5v1.1M489.4 224.6v0.9M391.1 252.0v0.4M447.0 247.4v0.6M477.4 254.0v1.2M484.6 203.8v0.9M403.0 247.7v0.8M441.8 257.0v0.0M508.5 224.4v1.0M477.1 226.0v0.7M435.5 206.1v0.9M510.1 254.6v1.2M447.7 217.6v0.5M418.7 244.0v1.4M430.1 244.2v1.3M472.6 237.0v1.3M430.4 239.4v0.7M446.0 243.3v1.2M421.5 253.8v1.2M458.1 198.1v1.1M416.0 237.4v1.0M488.2 236.0v1.4M428.4 235.8v1.3M489.7 218.3v1.4M495.0 238.4v1.6M506.1 228.3v1.0M405.2 247.3v1.5M444.9 238.6v1.3M477.2 207.6v1.3M458.1 237.1v0.9M463.6 243.6v1.2M475.9 199.0v0.6M440.3 236.1v0.7M471.5 235.0v0.5M444.2 210.9v0.5M401.0 216.3v0.6M408.7 199.5v1.0M432.5 233.9v1.1M414.3 251.2v0.4M435.7 214.0v0.9M398.7 246.9v0.8M388.6 234.0v0.5M453.6 217.6v1.1M506.3 246.2v0.9M487.7 235.7v0.8M402.1 232.9v1.1M506.1 255.1v1.1M428.8 250.7v0.4M397.8 231.1v1.1M402.0 234.9v1.5M432.0 223.1v0.7M421.2 255.4v0.9M506.6 251.9v1.1M417.2 255.9v1.0M437.0 216.4v1.6M446.7 214.5v1.0M399.6 234.5v0.9M421.4 244.0v1.4M385.7 229.1v0.7M503.3 244.0v0.7M418.2 206.6v1.6M421.4 233.6v1.0M466.3 233.4v1.3M399.1 242.7v0.8M452.1 217.4v0.8M451.6 225.1v0.8M479.1 232.6v0.4M416.2 224.6v1.5M497.3 229.9v0.4M483.3 222.9v1.1M474.4 235.1v1.0M500.3 220.4v0.9M492.7 209.1v0.8M489.9 201.3v1.4M472.6 223.2v0.7M483.6 251.7v0.6M445.0 230.1v1.0M426.2 206.6v1.1M487.6 201.5v0.7M488.6 244.6v1.2M387.3 240.5v1.6M511.4 239.2v0.5M491.4 210.5v1.2M505.5 239.9v0.6M421.3 252.1v0.6M461.9 222.1v0.6M463.4 200.0v0.5M432.4 201.7v0.5M457.4 241.6v1.5M401.1 223.1v0.8M460.6 226.6v1.5M431.7 200.7v1.2M403.3 235.0v1.0M500.2 230.5v1.1M417.6 230.3v0.7M479.8 228.2v0.6M413.9 219.5v1.3M406.9 239.9v1.2M394.9 237.2v0.5M399.9 232.8v0.7M495.9 226.0v0.8M485.6 199.2v1.3M390.8 206.4v1.5M470.9 210.7v0.5M508.1 237.0v1.4M401.8 234.6v0.8M414.0 217.3v1.1M428.5 220.4v0.6M490.0 236.0v1.4M439.3 248.2v1.0M459.6 231.6v1.3M434.5 203.2v0.4M409.8 199.8v1.5M445.4 242.7v0.4M444.0 250.4v1.1M438.7 225.1v0.5M403.7 206.9v0.8M433.2 249.9v0.6M416.4 213.9v0.6M420.6 211.4v1.0M388.1 252.5v0.8M503.7 238.4v1.2M444.2 253.7v0.5M469.3 214.7v1.2M477.1 207.1v0.6M387.2 211.1v0.5M435.2 255.4v0.8M423.8 225.3v0.7M477.4 240.2v0.6M414.7 237.5v1.5M466.4 223.1v1.6M384.8 201.0v1.3M436.3 200.1v1.1M510.3 228.3v0.8M396.0 201.6v1.5M446.7 253.2v0.5M415.1 200.4v0.9M391.7 212.6v0.9M423.0 200.5v0.4M508.0 208.1v1.0M435.3 229.1v0.5M424.1 203.8v1.1M501.6 233.1v1.4M411.4 198.4v1.0M446.1 231.5v0.9M463.8 240.6v1.5M423.3 224.2v1.4M412.6 204.3v0.8M395.2 243.4v1.4M423.9 205.1v0.5M415.2 202.4v0.9M457.6 212.0v0.5M473.4 200.3v0.6M420.5 219.7v0.5M437.7 216.1v1.3M455.0 250.8v1.2M480.9 231.7v0.9M488.2 236.5v1.5M476.9 239.2v0.7M487.6 220.2v0.6M392.4 207.5v0.7M470.2 214.4v0.5M481.5 230.6v0.4M390.5 205.2v0.8M493.7 254.0v1.1M413.5 223.0v0.8M426.2 198.1v1.1M489.5 240.7v0.5M451.7 207.6v1.3M440.9 253.3v1.4M399.1 216.3v1.5M442.8 223.3v0.9M481.9 253.2v1.0M507.7 232.9v0.5M487.9 222.4v0.5M508.8 199.4v1.1M445.5 250.0v0.9M411.5 213.9v0.6M455.8 218.7v1.3M414.8 218.4v0.7M509.4 247.5v1.4M462.9 221.3v0.6M490.1 226.6v0.4M405.6 203.3v1.3M498.9 209.3v1.4M425.4 238.1v1.4M463.5 245.1v0.9M385.3 227.9v1.1M407.6 220.6v0.8M387.5 216.0v0.9M444.8 239.3v0.9M509.4 246.0v1.5M472.4 237.3v1.0M485.9 219.0v1.1M470.7 228.5v0.7M393.9 202.6v0.8M458.1 242.7v1.3M423.1 252.8v0.7M475.4 201.7v1.3M469.5 254.4v1.5M471.7 247.4v1.3M462.0 209.8v1.0M498.3 211.6v1.6M453.4 220.8v0.4M433.8 208.0v1.2M498.8 251.6v1.1M433.3 203.9v1.2M454.6 240.0v0.8M497.2 210.1v0.8M418.2 234.5v1.5M405.4 235.1v1.3M412.7 201.1v1.1M489.9 249.8v1.3M437.2 222.8v1.0M499.4 215.4v0.7M461.2 255.0v0.6M387.9 204.3v1.1M461.0 208.4v0.6M459.9 235.9v1.2M477.0 201.1v1.0M490.5 254.4v0.8M492.5 235.9v1.5M413.2 238.9v1.4M444.8 203.4v0.6M404.0 202.9v0.6M462.6 203.7v1.3M477.9 246.1v1.4M475.0 252.5v1.5M463.8 254.9v0.5M397.1 201.2v0.6M431.8 224.7v1.2M478.8 202.4v0.9M453.3 219.8v0.5M460.2 219.7v1.2M447.2 254.8v1.5M393.2 242.7v1.3M421.8 204.4v1.0M429.2 241.3v1.5M432.8 214.7v1.0M472.9 244.4v1.1M421.8 217.5v1.4M450.3 200.4v0.9M414.3 237.1v0.5M418.6 203.1v1.0M509.6 229.7v0.9M503.2 202.9v0.8M487.5 197.7v1.3M430.1 198.4v0.7M442.5 220.2v1.0M390.8 210.4v1.6M440.5 225.5v0.5M419.6 254.3v1.2M448.8 200.6v0.9M483.3 223.3v1.1M499.1 235.8v1.2M388.6 198.8v1.3M436.7 249.5v1.4M500.8 220.0v1.6M480.5 250.6v0.6M483.6 222.6v1.6M510.9 210.3v0.9M418.6 225.4v0.7M469.0 204.8v0.6M442.4 201.8v0.9M498.5 250.2v0.6M386.4 246.8v1.6M460.4 205.5v0.7M501.4 253.3v0.4M407.6 223.0v0.7M480.2 219.6v1.3M403.4 228.3v1.6M473.6 202.8v0.5M466.1 219.7v0.8M445.0 232.1v1.6M414.7 231.3v0.7M453.6 241.0v0.6M445.4 239.5v0.4M482.4 222.4v1.0M461.9 244.7v0.5M447.9 199.7v0.9M428.1 198.7v0.8M441.4 236.4v1.5M431.3 229.0v1.3M503.6 254.0v1.6M422.5 207.3v1.5M393.9 224.1v1.3M451.5 220.6v1.5M422.2 230.3v1.4M401.6 218.3v1.0M456.2 209.8v0.9M391.6 202.6v0.8M402.3 255.1v0.7M419.2 244.1v1.3M417.4 246.8v1.2M433.6 234.9v0.7M417.6 249.6v0.9M498.5 207.9v0.6M390.6 241.5v1.1M385.2 200.0v1.4M447.1 249.3v0.4M459.1 204.4v1.3M462.0 233.9v0.7M505.1 204.0v0.5M471.3 202.9v0.5M442.7 236.1v1.5M476.0 201.5v1.2M491.6 204.6v1.3M417.0 215.2v0.4M480.7 228.1v1.5M443.4 206.7v0.7M417.6 253.8v0.6M395.3 218.4v0.5M438.3 234.4v1.2M406.3 205.7v1.0M471.7 224.1v1.1M500.4 206.0v0.7M447.0 229.4v1.5M454.9 236.9v0.9M484.1 247.2v0.8M397.8 212.8v0.8M497.5 213.2v1.2M465.7 254.4v0.5M482.2 217.5v0.5M464.6 247.7v1.1M390.4 255.3v0.9M465.2 240.5v0.7M436.1 217.0v0.5M392.2 240.1v0.9M495.0 201.1v0.8M407.0 253.6v1.3M498.4 227.6v0.5M437.1 210.9v0.4M456.1 214.7v0.5M449.3 253.0v1.5M443.5 203.5v1.3M398.6 229.4v0.5M510.0 229.7v0.9M418.7 230.2v1.6M438.6 209.9v1.0M501.2 220.2v1.2M501.2 216.8v1.4M451.5 205.7v0.5M503.8 225.2v0.9M501.1 231.6v1.0M420.3 241.8v0.7M444.0 242.6v1.1M401.1 209.5v1.2M477.0 203.5v1.6M401.0 207.4v0.5M441.0 234.3v1.4M404.8 239.0v0.5M458.1 212.4v0.8M390.7 240.3v0.5M481.5 217.5v1.1M465.5 226.5v1.4M501.3 214.2v0.8M495.9 205.3v0.9M436.9 255.6v0.6M467.6 242.5v1.3M384.1 253.6v0.8M492.9 236.8v0.9M490.9 237.7v0.8M477.4 227.5v1.3M462.4 244.8v0.6M447.1 197.5v1.3M482.4 247.3v0.5M452.3 225.9v0.5M409.8 255.5v1.4M414.4 246.8v1.2M433.1 235.8v0.7M418.9 198.0v1.2M458.2 241.7v1.0M439.5 215.7v1.3M431.6 233.0v1.3M440.7 238.3v0.5M417.2 247.5v0.6M391.3 198.3v1.3M397.6 224.7v0.9M486.5 225.8v1.0M387.2 244.8v1.3M463.6 247.2v1.1M475.4 248.1v1.1M386.6 250.1v1.6M409.7 201.3v0.8M396.8 219.4v0.5M412.1 197.6v0.9M422.3 240.8v0.9M405.2 254.2v1.5M471.9 210.3v0.9M441.5 221.8v0.4M442.1 243.2v1.2M493.8 238.1v1.3M495.1 252.1v1.4M437.1 236.7v1.2M496.6 239.9v0.9M408.3 216.9v0.7M471.0 243.3v0.6M452.1 247.5v0.8M396.1 233.5v0.8M402.4 214.6v0.4M403.0 222.8v0.5M384.8 230.2v1.5M490.4 216.8v1.5M394.2 206.4v0.4M391.5 233.3v1.3M445.0 245.3v0.9M501.2 233.6v1.0M405.8 222.8v0.9M489.0 211.1v0.8M488.2 201.6v1.0M412.0 237.0v1.1M396.0 240.9v0.9M424.9 248.5v1.3M423.5 237.8v0.5M450.2 202.3v1.2M500.9 235.3v0.4M449.5 225.4v0.9M403.3 214.0v0.9M393.1 237.6v0.7M421.0 202.8v0.8M502.8 214.8v0.5M428.1 253.7v0.5M427.7 209.9v1.2M442.9 203.3v1.4M425.9 238.3v0.9M495.2 200.9v0.7M420.4 213.2v1.4M448.1 218.1v1.0M491.9 231.4v0.9M467.8 234.1v0.9M438.4 205.2v0.9M496.2 215.6v0.8M461.0 232.6v0.6M440.9 241.1v0.4M397.9 242.4v1.5M392.6 202.3v1.2M420.3 236.5v0.4M442.3 207.0v0.8M472.5 227.8v1.4M491.4 234.3v1.4M406.6 225.7v0.8M463.7 204.0v1.5M431.3 244.1v1.5M504.0 220.7v1.4M511.2 205.2v1.3M476.8 224.7v0.7M406.1 221.9v1.5M435.3 212.6v1.1M439.8 234.0v0.9M420.5 199.5v1.4M468.1 211.9v1.0M458.1 227.4v1.5M483.4 215.7v0.8M462.1 207.1v1.5M389.8 227.2v0.7M451.1 200.1v0.7M510.2 244.4v0.7M442.2 199.3v0.5M408.5 256.1v0.8M415.6 201.3v0.5M511.0 241.5v1.5M490.6 244.0v0.7M405.6 213.5v0.5M406.4 240.3v1.0M385.3 215.6v1.4M492.6 240.9v1.3M500.3 230.6v0.9M457.1 214.2v0.4M417.2 224.7v0.5M394.3 212.1v0.8M506.1 226.4v1.4M479.0 232.7v0.8M434.1 216.3v1.2M493.1 244.5v0.8M403.1 197.9v1.1M413.1 197.7v0.8M413.1 209.6v1.2M458.6 214.2v1.3M410.3 252.3v0.5M459.5 239.4v1.3M446.2 249.3v1.2M472.1 202.1v0.6M443.4 229.9v0.5M478.6 218.1v1.0M450.6 247.4v0.8M455.4 233.5v1.2M423.8 214.0v1.0M460.7 235.8v0.6M440.9 230.8v0.6M397.0 252.8v0.4M447.6 215.0v0.4M418.4 207.0v0.9M500.1 202.1v0.8M472.7 234.6v0.4M413.2 214.2v1.5M440.4 212.8v1.0M445.9 206.3v1.2M476.0 225.8v1.0M482.3 254.4v1.1M389.7 227.5v1.2M426.2 238.2v0.8M462.7 234.0v1.2M502.1 239.6v1.3M473.9 211.1v1.1M463.2 201.0v1.3M412.9 226.7v1.0M476.2 243.0v1.0M503.9 223.8v1.1M510.5 216.7v1.3M506.0 202.4v1.3M467.2 229.6v1.3M493.7 206.1v1.0M462.5 239.1v1.6M486.5 246.8v0.5M438.4 251.8v1.5M480.5 217.3v1.3M451.8 237.2v1.2M494.4 240.0v1.6M447.0 226.8v1.2M455.7 200.3v1.6M424.7 227.2v0.5M408.3 252.8v0.7M422.1 245.8v0.7M469.2 231.3v1.5M444.8 217.0v0.7M430.4 197.4v0.5M403.0 216.1v1.3M504.2 218.5v0.7M421.4 234.9v1.0M399.0 228.6v0.7M402.4 244.2v0.5M440.1 243.1v1.1M495.5 216.3v1.5M389.6 250.8v0.9M384.4 212.9v1.6M475.4 241.3v1.4M384.8 215.7v1.0M500.0 251.5v0.6M510.0 230.4v0.8M394.6 222.8v1.0M441.9 215.9v1.5M444.7 215.7v1.3M415.2 222.6v0.5M414.4 256.8v0.2M450.8 237.5v1.2M450.5 219.3v0.6M387.8 204.6v0.9M385.3 237.6v0.8M413.8 216.1v1.0M410.7 248.2v1.0M392.8 202.5v1.5M457.8 214.8v1.3M389.9 250.4v1.5M468.8 200.4v0.9M490.8 232.8v0.7M413.9 201.2v1.0M407.1 224.0v1.5M498.9 226.7v1.3M401.1 253.9v1.4M445.6 250.2v0.8M509.1 216.6v1.5M490.8 253.1v1.3M393.4 214.1v1.2M499.9 238.0v0.4M428.4 218.0v0.6M412.7 228.2v0.8M418.1 222.0v1.5M460.1 242.2v1.5M387.9 249.9v0.5M409.0 241.5v1.3M462.4 225.8v1.3M438.6 209.0v0.7M398.4 199.6v1.5M505.2 218.2v0.9M419.6 244.0v1.0M405.7 250.1v1.5M389.9 224.8v0.7M465.5 218.8v0.8M422.6 233.6v1.0M446.2 238.0v1.0M504.8 223.5v1.4M502.7 234.5v1.1M484.8 239.8v0.6M437.2 206.8v0.4M471.7 217.0v0.7M387.3 198.7v1.2M429.7 223.4v1.2M499.8 239.2v0.7M510.2 208.3v1.1M466.2 214.5v1.5M461.8 239.7v0.6M490.2 214.5v1.1M478.0 216.6v0.7M426.2 255.7v1.2M444.1 230.9v1.2M417.4 201.9v0.5M458.3 233.1v1.6M463.2 248.2v1.6M447.3 222.5v1.0M431.4 242.7v1.1M399.6 254.3v1.0M479.5 230.0v1.1M457.5 204.2v0.6M477.3 218.2v0.6M488.1 242.0v1.3M433.4 205.2v1.3M411.5 237.2v1.2M418.9 197.5v1.1M484.8 232.5v1.6M413.2 241.0v0.9M458.0 215.4v0.7M454.0 233.6v1.5M461.1 227.2v1.2M464.1 221.7v0.7M471.1 220.5v0.4M405.7 218.8v1.2M467.7 226.6v1.4M425.7 218.3v1.3M470.7 222.8v1.5M387.4 229.4v1.4M496.2 208.9v1.4M452.0 253.1v0.8M468.8 235.7v1.6M427.3 220.6v0.5M471.2 201.6v1.4M402.6 208.8v1.5M447.6 242.4v0.8M414.9 219.4v1.6M408.5 251.3v1.5M470.8 213.2v1.3M499.5 232.7v0.7M461.8 254.4v1.1M403.1 209.5v1.2M390.1 197.5v0.8M416.8 226.8v0.5M455.4 237.7v0.8M458.2 228.8v1.3M457.5 235.4v1.1M489.0 203.2v0.5M494.5 247.1v0.4M498.1 233.7v1.4M473.5 219.8v0.5M481.6 239.7v1.0M418.6 219.1v1.5M443.1 209.9v1.6M508.8 207.9v0.6M477.1 220.5v1.0M471.3 213.7v1.1M410.0 210.6v1.1M438.6 250.7v0.6M500.9 213.0v0.8M397.6 216.2v1.6M430.2 247.2v1.6M472.8 208.4v0.9M405.3 212.3v0.8M405.2 237.9v1.0M421.1 212.6v0.6M398.6 223.5v0.5M450.7 212.6v1.3M418.1 248.4v1.5M502.6 211.0v1.5M444.2 250.1v1.0M453.0 212.8v1.3M430.9 250.1v1.2M438.7 199.3v0.7M437.2 219.5v1.1M384.7 225.3v1.5M505.6 238.4v1.2M460.9 257.0v0.0M442.7 226.9v1.5M454.4 233.1v0.8M468.8 226.5v1.5M511.6 256.8v0.2M389.6 201.7v0.8M489.5 230.7v0.7M396.8 212.3v0.6M402.3 241.8v0.6M405.3 234.3v0.6M490.3 236.2v1.5M476.6 240.9v0.7M437.9 220.0v0.9M500.4 223.4v1.4M464.5 202.3v0.7M457.7 244.4v0.7M415.9 219.9v1.0M437.6 252.5v1.1M419.5 217.9v1.0M404.5 220.8v0.5M467.8 249.1v1.5M460.2 220.3v1.1M454.9 207.9v1.0M447.4 209.2v0.9M490.7 235.6v0.8M414.4 235.0v1.1M422.0 225.5v0.9M464.0 249.7v0.8M452.7 230.9v1.2M415.1 212.1v1.5M402.5 238.0v0.7M446.7 224.3v0.7M406.5 254.5v0.4M402.2 241.4v0.8M408.9 243.7v1.6M410.5 239.5v0.9M511.3 233.0v1.5M468.6 205.2v0.9M474.0 206.5v0.5M510.4 252.5v1.2M392.1 239.2v1.6M483.8 240.0v0.9M464.7 252.6v1.0M393.5 206.1v1.5M474.5 253.1v0.6M397.4 238.1v0.9M443.1 211.3v1.3M483.7 240.7v0.9M446.6 221.0v1.0M425.6 225.3v1.6M486.3 205.5v1.2M488.6 217.9v1.5M504.0 201.6v1.2M432.6 225.2v1.1M493.7 235.0v1.5M415.7 244.9v0.9M407.3 245.3v1.1M412.8 250.7v1.0M470.0 256.1v0.8M453.4 230.0v0.7M452.1 255.0v1.2M417.9 238.1v1.1M431.0 237.4v0.9M483.7 220.5v1.4M421.9 207.6v0.8M400.0 249.5v1.6M437.1 211.7v1.5M492.6 212.0v0.8M447.5 205.3v0.7M434.7 204.5v0.6M461.2 215.3v1.5M506.7 237.3v0.7M480.9 217.6v1.4M438.1 238.6v1.3M473.6 242.3v0.8M403.4 219.4v1.6M388.7 214.2v0.8M440.2 249.3v0.6M397.3 198.5v0.8M476.7 224.4v1.2M449.4 218.9v0.9M389.2 254.1v1.3M396.4 209.5v1.3M448.8 242.0v1.3M402.6 246.4v0.6M401.6 241.9v1.4M422.6 220.4v1.3M421.5 223.9v1.6M400.5 253.6v1.5M511.2 212.0v0.6M439.8 207.6v1.5M456.9 247.6v1.0M447.6 254.4v0.6M412.8 248.4v1.1M483.8 256.7v0.3M461.8 242.2v1.0M411.9 216.8v1.5M451.2 199.3v1.2" stroke="#d87878" stroke-width="0.45" fill="none" opacity="0.5"/>
<path d="M510.8 234.7v1.0M442.2 235.0v1.1M446.3 251.2v1.5M483.8 240.6v1.3M409.2 226.6v0.7M410.1 254.0v0.7M488.0 247.1v0.9M387.1 208.0v1.2M474.5 218.5v1.1M404.8 236.6v1.3M483.9 230.9v1.1M384.3 213.3v0.9M393.2 201.8v1.5M471.2 230.9v1.2M494.9 235.2v0.9M434.1 255.2v1.5M403.4 246.2v1.2M427.8 238.8v0.7M479.1 230.7v1.1M391.2 251.2v1.5M481.1 214.9v1.3M398.9 230.0v0.8M444.1 214.7v0.5M439.5 211.6v0.6M426.3 204.8v0.4M508.3 200.7v1.5M437.6 204.6v0.9M448.7 200.7v1.1M384.9 215.2v1.3M491.8 208.0v0.9M504.9 216.2v0.5M415.5 249.0v0.8M468.9 253.3v1.1M409.2 226.1v0.8M445.2 234.1v1.6M471.9 227.7v1.4M448.7 208.9v1.2M418.5 210.1v0.9M445.9 199.3v0.8M506.6 227.8v0.8M442.3 239.0v1.0M435.7 232.0v0.7M471.1 222.7v1.2M428.4 235.5v0.6M445.9 226.7v0.4M400.1 224.8v1.3M487.5 247.7v1.4M507.4 209.1v0.6M401.7 244.6v0.6M424.4 205.7v1.5M410.7 211.4v1.1M473.7 199.7v1.1M451.6 230.4v1.0M485.8 246.4v1.4M426.2 199.9v1.0M387.4 235.3v1.0M479.3 247.1v1.3M472.5 217.2v1.3M465.6 210.5v1.4M444.3 229.1v0.6M490.1 225.6v1.3M491.5 228.3v1.1M443.1 211.6v1.4M501.5 199.5v0.4M444.0 202.2v0.9M427.6 211.8v1.3M458.2 252.3v0.6M432.5 234.2v1.3M438.6 208.5v0.9M456.5 255.1v1.2M491.8 247.1v0.9M448.6 247.1v1.3M435.0 208.6v1.3M421.3 213.2v0.7M471.6 235.9v1.5M459.2 226.2v1.5M401.7 232.5v1.6M426.5 206.5v0.5M387.5 241.0v0.9M488.7 247.2v0.4M423.1 213.1v0.7M387.7 212.6v0.8M441.7 229.1v1.6M397.8 205.4v1.5M420.7 229.5v0.8M498.2 253.1v1.1M396.0 219.5v1.2M456.2 214.1v0.9M391.9 221.5v1.4M433.4 225.2v0.6M474.9 222.2v0.9M482.7 215.1v0.5M465.9 241.4v0.5M428.0 250.2v1.0M436.0 205.2v0.7M458.9 251.9v1.2M507.6 221.7v0.5M427.5 219.2v0.5M394.4 251.7v1.5M401.0 202.3v1.6M405.3 215.4v0.7M410.6 199.3v1.0M483.0 201.6v1.0M400.9 244.3v1.5M495.6 229.2v0.6M475.5 201.6v1.3M422.2 250.6v0.7M478.4 226.9v0.7M446.7 223.1v0.6M453.7 229.1v1.2M427.3 234.0v0.6M450.6 211.7v1.3M408.4 214.7v0.5M422.2 229.7v0.7M399.4 250.6v0.8M411.6 221.2v1.4M479.3 251.2v1.1M426.7 227.3v0.5M471.1 247.4v1.5M490.0 236.0v1.4M421.2 230.9v0.6M503.5 227.9v0.6M509.6 234.4v0.7M491.9 234.7v1.1M496.0 216.2v0.7M456.8 209.5v1.2M444.9 209.3v0.5M404.7 231.7v1.5M485.7 248.0v1.1M486.2 217.1v0.8M499.3 212.8v1.1M456.4 200.5v1.1M485.7 250.4v0.9M498.7 199.7v1.5M470.9 245.7v0.9M459.0 246.6v0.7M407.4 242.3v1.5M413.0 230.0v1.0M423.7 247.6v0.7M483.5 222.0v0.6M506.8 206.2v0.5M387.8 218.3v0.4M403.8 253.5v0.7M475.3 210.1v0.4M384.9 204.7v1.5M442.3 212.3v0.5M465.9 216.2v0.6M439.8 239.8v0.8M455.6 208.6v1.1M389.4 252.4v1.5M457.5 225.6v0.9M479.6 231.9v1.3M440.5 221.2v1.3M407.1 217.8v0.7M410.3 248.9v0.8M478.0 200.3v1.5M443.8 241.7v0.5M461.0 245.8v0.7M395.9 220.2v1.3M481.2 201.2v0.8M500.8 214.6v0.5M494.8 246.3v0.9M472.9 242.2v1.4M408.1 240.9v1.5M484.6 228.5v0.9M509.0 256.6v0.4M448.6 250.6v1.4M448.4 205.3v1.1M401.2 217.4v1.1M448.0 235.8v1.4M505.0 215.9v1.5M425.2 218.2v1.3M508.5 227.6v1.4M489.4 216.2v1.1M503.7 198.6v0.5M495.3 231.1v0.9M485.2 223.9v0.6M428.7 242.7v1.2M447.2 198.1v1.6M394.1 214.0v1.3M503.7 238.4v0.9M479.2 237.2v1.1M484.2 230.3v1.0M417.0 243.7v0.5M396.1 234.9v0.5M495.6 208.9v1.0M417.2 226.1v1.1M409.1 229.8v1.6M403.1 210.4v0.6M397.6 198.1v1.6M506.9 199.7v1.4M457.9 209.8v1.5M398.8 235.6v1.2M473.2 211.5v0.6M464.5 214.9v1.1M478.4 199.3v1.3M508.9 221.4v1.1M426.1 249.9v0.7M396.7 227.4v0.9M456.7 209.6v1.5M452.2 220.6v1.3M388.9 252.3v1.4M416.8 224.4v0.4M485.2 255.4v1.1M508.8 225.5v1.4M491.7 252.6v1.0M448.9 199.5v1.5M395.2 232.0v1.1M406.2 218.3v0.8M385.2 221.2v0.9M475.6 239.1v1.5M495.1 212.7v1.1M472.4 244.4v0.6M426.4 234.0v0.8M500.8 222.1v1.2M392.7 250.9v1.6M507.1 217.7v1.4M509.5 203.8v0.5M468.8 256.3v0.4M490.9 236.7v1.0M402.2 227.6v1.0M409.7 251.0v1.3M405.2 234.4v1.1M503.7 255.9v1.1M390.9 222.5v0.6M479.8 202.3v1.4M462.6 235.7v1.5M494.9 241.0v1.2M453.8 228.3v0.4M409.0 238.5v0.9M441.5 247.8v0.9M476.9 245.3v1.4M413.9 233.6v1.0M458.9 202.5v0.6M415.3 244.1v1.3M432.9 233.5v0.9M452.6 213.3v0.8M506.2 250.1v0.5M399.2 248.9v0.9M465.7 233.3v1.1M499.6 206.6v1.4M417.2 201.9v0.8M449.7 245.2v1.1M507.8 208.7v0.9M457.2 232.6v1.2M448.6 203.4v1.3M485.4 201.6v1.4M384.7 238.2v1.1M421.9 202.7v0.7M463.8 229.2v1.4M405.9 234.4v0.8M389.4 208.6v0.5M404.3 199.7v1.6M429.9 242.5v0.9M449.2 212.4v1.5M411.0 254.6v1.3M494.2 203.2v1.6M467.3 231.9v1.1M440.8 254.2v1.6M505.5 205.8v1.0M473.4 208.3v1.5M480.0 204.6v0.8M470.9 249.9v1.6M419.2 247.2v1.1M430.2 211.7v0.5M388.4 223.0v0.5M410.0 216.6v0.6M409.7 212.7v1.6M438.1 234.2v1.0M506.5 246.6v1.5M495.2 241.4v1.5M426.4 233.6v0.8M502.1 213.4v1.6M414.2 217.7v1.3M457.0 210.2v0.6M495.8 209.8v1.0M490.8 226.4v1.0M404.9 253.2v1.1M469.2 220.8v1.3M432.3 208.0v0.8M481.2 248.9v1.0M468.2 253.1v1.2M508.5 212.5v1.4M479.8 231.4v1.1M405.4 198.4v0.4M497.7 221.1v1.1M440.5 249.8v1.3M431.7 235.5v0.7M504.3 206.9v1.5M452.4 206.2v1.6M409.4 237.8v0.7M401.1 244.6v1.5M497.8 237.5v1.2M404.1 256.9v0.1M465.5 198.9v0.8M450.7 225.6v0.9M432.8 198.5v1.2M429.3 204.1v0.8M469.5 241.7v0.9M398.8 234.7v1.1M445.7 255.2v0.8M450.7 199.2v0.6M408.8 208.5v0.6M397.8 252.2v1.1M446.5 230.9v0.7M494.6 241.3v0.9M386.8 197.4v0.4M476.6 199.2v0.9M450.1 219.5v0.8M503.9 254.3v1.3M452.5 254.1v1.2M413.5 205.8v0.6M397.2 220.6v1.1M410.6 202.3v0.8M442.4 249.8v1.5M488.9 212.9v1.4M419.8 232.3v1.0M413.7 229.6v0.7M485.6 211.4v1.3M408.0 197.9v0.9M496.5 235.3v0.7M448.5 217.1v1.2M420.8 207.4v1.6M389.0 205.5v0.8M426.4 230.4v1.0M403.8 246.9v1.3M407.3 207.5v0.5M449.3 235.3v1.3M414.4 249.0v1.5M444.4 204.5v0.6M475.8 201.4v1.1M475.4 198.6v0.6M414.7 223.5v1.4M485.9 220.6v0.4M453.0 209.0v0.7M502.9 214.6v0.9M469.8 253.0v0.5M459.3 236.9v0.6M397.0 217.3v0.8M473.1 255.1v1.2M438.8 256.8v0.2M440.1 225.4v1.0M397.4 235.8v1.3M444.7 232.2v1.5M463.4 238.5v1.5M477.7 224.7v1.5M504.8 202.2v1.6M405.3 249.8v1.2M483.6 218.0v0.7M406.5 204.6v0.5M405.6 246.3v1.0M493.6 256.2v0.8M406.5 250.8v0.5M449.6 247.8v0.5M418.2 236.2v0.5M494.4 242.0v1.1M483.2 205.7v1.4M452.7 220.3v1.4M442.3 200.0v1.2M388.6 230.9v0.7M436.5 222.4v1.2M465.4 218.4v0.7M483.3 201.3v1.1M476.8 234.9v0.4M394.5 235.7v1.3M464.8 256.1v0.9M438.4 254.4v0.7M398.2 220.7v0.4M456.4 229.2v0.6M461.9 225.4v1.2M484.9 245.0v1.2M396.7 231.6v1.2M408.9 219.5v1.0M418.6 202.3v0.7M436.8 243.5v1.6M491.9 250.6v1.6M449.3 234.3v0.4M476.0 247.2v0.8M461.8 203.1v1.5M438.7 224.7v0.7M495.1 254.2v0.9M450.7 214.5v1.2M463.1 247.8v0.4M448.3 255.2v0.4M463.8 219.8v0.5M422.3 254.8v0.7M444.6 249.0v0.5M386.8 233.3v1.1M388.8 247.4v1.3M460.0 211.9v1.5M412.1 257.0v0.0M500.0 229.9v1.1M504.1 223.5v0.8M507.4 256.7v0.3M493.6 242.8v0.7M413.8 200.9v1.4M394.3 247.3v1.4M509.9 204.1v1.4M394.6 204.0v1.4M401.9 241.3v1.6M445.6 222.6v1.5M465.2 256.1v0.9M440.9 200.1v1.5M480.3 205.7v1.2M418.4 223.6v0.6M394.6 225.3v1.3M474.7 248.1v1.5M479.1 212.3v1.3M477.7 204.3v0.4M500.3 207.7v1.4M504.8 222.4v1.0M393.3 202.0v1.4M463.5 212.8v0.6M393.8 243.0v0.7M390.9 246.5v0.8M405.6 231.1v0.8M451.1 224.7v1.0M418.0 227.3v1.5M410.9 222.4v1.0M441.5 217.8v1.2M503.1 206.3v0.9M509.1 197.5v1.2M430.9 227.5v1.3M416.7 201.3v1.2M510.0 224.5v1.5M449.6 237.9v1.2M481.9 236.2v1.2M474.9 212.4v1.5M461.8 227.3v1.2M428.0 211.7v1.5M411.0 218.7v1.1M447.3 202.9v0.7M481.8 205.6v1.0M398.0 202.0v1.6M440.1 225.3v0.5M404.5 228.1v1.5M503.7 221.2v1.0M412.2 247.1v0.6M423.1 208.8v1.3M494.7 223.7v0.8M501.0 203.3v1.3M424.6 251.5v0.7M495.2 248.1v0.8M410.1 235.1v0.5M457.6 215.8v1.2M397.4 238.5v0.7M457.4 240.5v0.6M425.5 240.0v1.2M497.8 199.1v0.9M428.6 250.1v1.0M425.9 206.9v0.9M427.3 198.7v1.2M497.4 221.6v0.9M496.2 254.3v1.6M479.2 208.3v0.8M427.3 245.2v1.3M488.4 206.6v0.7M510.7 217.7v1.1M438.5 240.2v0.4M487.0 251.6v1.2M428.9 238.7v0.7M482.2 245.0v1.1M480.0 238.7v1.3M499.2 242.7v1.5M474.9 202.4v0.6M500.2 202.7v1.4M475.6 205.7v1.5M475.4 210.3v0.8M470.8 234.6v1.1M492.9 216.4v1.4M507.1 248.1v0.9M415.3 227.2v0.9M469.1 202.7v0.8M395.7 204.7v0.8M453.0 244.6v0.8M497.2 227.0v1.5M426.7 216.7v0.6M484.8 232.7v1.5M447.3 243.0v0.6M502.8 201.8v0.6M510.3 201.6v1.5M510.8 201.2v0.9M485.2 255.2v1.0M499.8 222.7v1.3M392.8 236.5v0.7M476.2 214.2v0.4M441.3 211.2v1.0M384.9 223.2v0.7M430.0 233.8v1.3M445.5 222.9v0.7M461.7 241.6v0.7M400.1 239.3v0.7M480.5 230.5v0.5M427.8 253.0v1.4M467.2 256.8v0.2M484.1 249.4v1.0M498.0 214.4v1.5M509.2 246.2v1.6M471.0 237.9v0.5M476.6 202.6v1.5M486.8 249.6v1.3M419.5 233.3v1.0M495.9 233.0v0.9M475.6 243.8v1.2M431.3 237.1v1.1M397.5 213.6v0.6M449.4 204.1v1.3M459.4 205.6v1.2M484.2 199.4v1.3M444.5 251.0v1.5M462.9 244.8v0.6M478.2 239.1v1.3M441.6 211.4v0.9M405.3 236.8v1.2M463.2 244.3v0.7M461.4 244.9v1.2M406.4 214.4v0.8M423.9 238.2v0.9M410.5 253.9v1.1M500.1 223.1v0.5M393.0 251.8v0.4M393.6 233.0v0.9M389.0 217.7v1.1M405.0 219.7v0.7M448.5 250.3v1.1M480.4 246.1v0.4M396.7 246.2v1.0M437.1 248.8v0.7M445.2 245.1v1.3M392.6 212.9v1.4M462.3 221.0v1.5M451.3 249.9v0.7M462.3 220.0v0.4M468.0 228.1v0.8M424.3 222.2v1.2M507.4 240.8v1.5M422.8 198.9v0.6M491.2 203.4v1.3M510.4 244.3v1.0M410.0 247.5v0.6M384.8 225.9v1.5M511.1 228.0v0.4M443.4 223.5v1.2M432.1 221.6v1.4M485.7 212.3v1.1M389.7 227.4v0.4M464.5 220.5v1.5M448.6 207.3v1.3M433.9 230.5v1.3M435.2 228.9v0.5M423.4 201.7v1.0M445.5 210.0v0.8M385.3 253.9v1.4M423.8 256.4v0.6M449.0 215.7v1.2M489.8 244.4v0.9M495.4 210.3v1.4M509.1 199.9v0.6M470.4 237.6v0.6M386.7 252.7v1.6M500.3 201.2v1.3M440.8 219.4v0.8M474.6 221.1v0.6M388.1 200.3v0.9M476.5 231.7v1.6M497.0 250.7v1.0M449.8 238.8v1.2M406.2 230.0v0.9M447.1 226.5v1.0M461.3 216.0v0.6M511.2 242.2v0.7M489.6 244.2v0.8M420.3 209.1v0.4M415.7 251.7v1.6M464.6 255.5v0.5M453.8 255.2v0.7M386.9 252.9v1.1M503.3 202.3v1.4M458.6 249.0v0.8M387.6 235.1v0.8M404.0 206.6v0.5M461.5 243.7v0.5M408.4 246.5v0.7M459.1 208.6v1.4M458.3 202.7v0.8M469.5 211.6v0.6M434.6 198.7v0.5M398.6 215.3v1.4M498.1 220.9v1.3M489.2 255.5v0.7M473.4 250.8v1.3M389.4 247.1v1.3M460.3 199.8v0.5M385.0 230.4v1.1M396.9 247.2v0.9M401.7 232.3v0.7M411.4 210.0v1.3M396.6 211.5v0.6M469.0 237.8v0.9M403.7 198.6v1.5M460.9 201.0v1.2M490.4 209.5v1.5M405.5 223.6v0.9M506.9 226.0v1.3M476.1 214.2v1.0M442.8 217.2v0.6M404.9 256.3v0.7M404.5 256.6v0.4M480.9 225.3v1.0M438.3 199.4v1.0M416.4 252.2v1.2M419.9 247.3v1.1M465.1 241.3v1.3M411.6 249.1v1.3M480.9 241.7v0.7M509.2 240.7v1.5M420.3 215.7v1.5M511.3 239.0v0.6M420.8 229.7v0.4M427.1 231.2v1.5M472.0 250.6v0.6M495.3 210.4v0.7M467.9 212.0v0.4M473.5 201.2v1.2M397.2 227.6v1.5M437.4 209.6v1.5M501.0 225.7v1.3M415.2 198.6v0.7M460.1 244.1v0.6M402.0 215.1v0.7M428.8 242.1v0.8M479.0 236.3v1.5M459.1 255.4v0.8M453.7 209.3v0.6M428.8 248.3v1.5M442.3 218.4v0.8M456.2 224.8v1.6M471.8 218.9v1.1M443.3 254.6v0.6M486.6 214.3v0.9M389.2 212.3v0.8M417.7 235.2v0.5M423.0 229.8v1.0M458.8 207.7v0.7M482.2 256.4v0.6M394.9 249.9v1.6M435.4 254.8v1.1M499.1 199.9v0.4M491.1 225.2v0.5M482.7 197.5v0.6" stroke="#7878cc" stroke-width="0.45" fill="none" opacity="0.5"/>
<path d="M390.9 228.0v1.1M389.7 232.9v0.7M390.3 211.3v1.3M391.9 252.0v1.2M391.3 232.5v0.9M391.6 220.9v0.4M390.4 204.2v1.6M391.5 243.5v1.6M391.0 240.2v0.7M392.2 232.8v1.3M390.2 212.5v0.7M390.4 216.5v1.0M390.5 200.8v1.6M391.3 218.7v1.5M391.4 208.6v0.7M390.7 197.6v0.7M390.1 207.7v1.0M390.2 235.7v1.3M390.5 202.6v0.6M389.8 240.6v0.9M390.7 243.4v1.3M389.8 222.7v1.5M390.6 246.5v0.8M390.2 218.0v1.1M391.5 214.7v0.5M390.9 236.2v1.0M390.3 219.3v1.1M391.1 206.9v1.0M391.6 227.0v0.9M391.8 216.2v1.4M391.1 254.9v0.8M392.0 222.5v1.2M389.6 250.3v0.7M391.0 227.3v1.0M389.9 208.8v0.7M391.3 212.0v0.9M390.7 253.8v1.1M391.6 216.2v0.5M390.3 231.4v0.5M390.2 233.5v1.4M389.9 218.5v0.9M390.5 212.9v1.3M391.0 227.8v0.8M390.0 255.4v0.4M390.4 245.2v1.6M390.7 232.3v1.3M391.7 224.3v1.4M391.7 239.0v0.6M391.1 198.0v0.8M390.5 208.6v1.1M389.5 249.2v1.3M390.4 211.0v0.7M390.3 231.0v0.8M390.8 234.6v0.7M390.4 238.3v1.5M391.6 252.6v0.6M390.5 220.8v0.7M390.8 218.9v1.1M391.2 242.1v0.9M392.1 241.6v1.4M390.4 218.6v1.3M390.3 237.3v1.2M391.1 200.3v1.3M391.2 253.8v0.9M390.9 252.9v0.9M389.9 215.4v0.7M391.3 236.5v0.8M391.7 250.8v1.3M391.1 205.4v1.0M390.6 246.4v1.6M390.7 236.6v1.3M390.5 237.7v1.4M391.3 241.2v0.6M392.7 238.5v0.7M391.0 207.7v0.5M391.2 256.3v0.6M390.0 218.9v0.7M391.8 240.8v1.0M389.9 213.4v0.9M392.0 233.4v1.0M391.8 249.3v0.6M390.7 212.6v1.2M390.7 227.9v1.4M391.1 219.9v0.8M391.7 237.7v0.8M389.9 202.0v1.2M391.8 226.9v0.9M390.5 205.1v1.3M391.2 216.7v0.7M391.3 239.0v1.1M392.1 198.9v0.9M390.6 241.8v0.9M391.3 247.7v1.0M391.1 200.9v0.8M392.6 219.0v0.5M390.6 253.6v1.5M390.5 199.8v0.6M390.4 211.1v0.8M389.9 256.1v0.9M390.2 255.2v1.2M391.9 222.4v1.5M390.0 251.2v0.5M390.4 203.9v0.5M390.6 240.1v0.8M390.3 226.4v0.8M390.5 252.6v1.3M392.0 253.2v0.9M391.4 205.0v0.5M390.3 230.1v1.2M390.8 223.3v1.1M390.1 228.2v0.7M390.4 213.6v1.2M391.3 200.5v0.9M390.9 253.5v1.5M391.2 201.7v1.4M392.1 201.5v1.5M390.6 217.8v0.5M391.5 218.7v0.7M391.9 247.1v1.3M391.2 229.8v0.5M390.4 224.9v1.5M391.2 209.0v1.0M390.2 201.6v1.5M391.2 250.7v0.7M391.6 248.6v0.8M390.3 200.8v1.6M390.8 210.6v0.8M391.2 247.0v1.6M390.9 204.4v1.6M391.4 225.7v0.6M390.7 234.8v1.0M391.9 243.5v0.9M391.7 233.5v0.5M390.0 216.3v0.7M392.1 239.2v1.2M389.8 205.6v0.4M391.8 214.6v1.6M391.4 203.1v1.1M390.8 245.8v1.4M391.5 225.9v1.0M391.8 242.0v1.5M391.7 246.3v1.4M391.6 202.7v0.7M392.7 229.9v1.3M390.3 240.0v0.9M390.1 200.0v0.7M389.9 221.5v1.1M390.4 248.2v1.1M390.2 203.6v0.8M391.1 255.5v1.0" stroke="#4a4cc0" stroke-width="0.55" fill="none" opacity="0.7"/>
<path d="M392.5 239.0v2.4M392.8 239.3v2.6M392.4 249.3v2.2M392.7 253.8v0.2M392.6 234.8v2.2M392.8 246.5v2.0M392.8 237.0v1.9M392.8 244.2v2.9M392.6 240.7v1.8M392.9 250.0v2.8M392.6 244.5v1.6M392.5 237.4v2.6M392.7 248.8v3.3M392.7 246.2v3.3M392.4 235.0v2.6M392.7 249.1v3.1M392.8 235.4v3.0M392.6 253.7v0.3M392.7 247.8v3.3M392.7 240.4v2.7M392.6 252.4v1.6M392.6 237.9v3.0M392.7 251.5v1.9M392.5 239.4v1.6M392.8 246.4v2.5M392.6 245.1v2.0M392.9 243.2v2.2M392.9 245.0v1.6M392.7 240.8v2.0M392.6 235.3v3.0M392.6 243.7v3.2M392.5 242.4v2.6M392.8 243.7v2.2M392.6 235.6v3.4" stroke="#c8181c" stroke-width="0.7" fill="none" opacity="0.95"/>
<path d="M393.2 197.7v1.5M392.2 200.6v1.5M392.7 216.0v0.4M392.9 217.7v0.6M392.9 200.5v1.2M392.7 212.4v1.3M393.2 218.3v1.4M393.2 218.3v1.2M393.0 209.1v1.1M392.4 217.6v0.6M392.7 203.2v0.5M393.5 217.0v1.6M392.9 209.9v1.1M392.9 213.4v1.1M392.6 206.3v1.0M392.8 221.7v0.3M392.4 212.6v1.2M392.3 200.1v0.7" stroke="#c8181c" stroke-width="0.5" fill="none" opacity="0.6"/>
<path d="M399.2 223.0v0.8M405.1 203.0v0.5M403.8 201.1v0.5M399.7 220.7v1.0M402.5 242.1v1.5M399.7 224.3v0.9M399.1 230.7v1.4M399.4 207.0v0.5M400.9 257.0v0.0M398.5 255.2v0.7M401.3 232.9v1.6M404.9 218.0v1.6M402.5 246.2v0.8M402.9 240.6v1.6M404.7 233.1v0.5M403.6 204.8v1.5M405.6 249.0v0.5M402.6 235.2v1.3M404.8 205.0v0.6M397.5 256.0v1.0M402.6 249.2v0.6M400.3 236.2v0.8M403.8 221.6v1.1M402.2 220.0v1.6M404.5 214.3v1.1M402.6 211.2v0.6M401.1 232.5v1.4M402.2 227.1v1.0M397.8 216.1v1.3M403.0 202.4v1.5M405.0 248.2v1.3M400.3 213.1v0.8M401.0 200.6v0.6M403.3 247.8v0.5M399.0 211.8v1.4M401.5 214.9v1.1M403.7 231.7v1.1M404.3 230.2v1.2M401.1 249.1v1.5M402.3 234.0v1.5M398.5 218.1v0.8M402.5 243.7v1.1M402.3 243.8v0.8M403.2 243.2v1.0M403.9 198.4v1.1M403.7 238.8v0.5M401.9 235.3v1.3M405.6 204.1v0.7M403.2 199.9v0.9M397.9 235.1v1.2M398.4 206.1v0.8M400.1 226.6v1.1M400.3 198.7v0.5M404.8 208.7v1.5M401.1 207.5v1.1M398.1 212.0v1.1M400.6 202.3v1.2M399.6 254.7v0.6M398.9 214.3v1.4M404.9 245.5v0.7M400.9 229.6v1.0M405.4 243.6v1.0M398.7 256.8v0.2M404.5 242.2v1.3M405.5 242.2v1.1M402.1 233.8v0.5M402.7 203.3v1.4M398.4 214.1v1.3M398.8 208.8v1.0M405.5 255.6v0.5" stroke="#2a2ea8" stroke-width="0.45" fill="none" opacity="0.5"/>
<path d="M410.2 244.8v1.2M409.6 247.3v1.0M407.5 219.5v1.4M410.5 231.9v0.5M410.9 217.3v1.6M409.7 200.3v1.0M409.5 237.9v0.9M408.5 210.5v0.5M408.0 230.5v0.8M408.6 203.4v0.6M410.3 233.5v0.6M408.6 211.8v0.5M410.4 223.1v0.6M409.4 223.6v1.6M409.4 221.8v1.1M409.6 217.7v0.4M409.0 250.9v1.6M408.3 233.8v1.3M409.5 233.2v1.3M409.0 244.2v1.1M409.4 246.5v0.7M407.3 256.1v0.9M410.3 202.6v1.0M410.1 206.1v0.9M408.5 216.1v0.5M410.8 197.5v1.5M408.2 201.7v0.5M410.7 229.3v1.2M410.3 249.7v1.6M409.1 219.7v1.1M411.0 244.8v1.4M410.4 233.6v0.8M410.3 234.6v0.4M410.5 216.9v1.4M407.3 204.3v1.0M407.9 211.8v1.2M411.2 254.5v1.3M409.2 209.8v1.4M408.7 251.9v0.6M407.9 243.1v1.4M411.1 227.7v0.9M409.5 216.8v0.5M407.2 244.2v0.4M409.1 232.0v0.8M411.2 220.5v0.7M408.1 199.1v0.9M410.5 227.8v1.0M411.3 202.8v0.6M409.8 204.4v0.8M410.2 229.8v1.0M408.3 200.8v0.9M410.2 236.7v0.4M408.1 255.5v1.5M407.2 216.3v0.8M409.9 237.0v1.0M409.7 199.9v1.3M410.4 221.3v0.8M408.1 200.2v0.7M411.8 207.4v1.4M409.3 198.7v0.6" stroke="#2a2ea8" stroke-width="0.45" fill="none" opacity="0.5"/>
<rect x="420.80" y="197.40" width="3.20" height="59.60" fill="#9a9cdc" opacity="0.4"/>
<path d="M421.9 246.0v2.1M422.7 243.5v1.8M421.0 245.4v1.9M420.7 257.0v0.0M421.3 242.1v1.0M422.7 224.5v1.7M421.2 225.3v2.3M421.2 208.3v2.2M420.9 251.4v2.1M421.5 249.1v1.5M422.6 226.4v1.7M423.2 238.4v2.3M422.8 211.8v1.4M422.4 218.4v0.8M422.5 230.1v1.3M422.9 247.7v0.8M422.1 244.8v1.2M421.5 252.8v1.1M423.4 238.0v2.0M423.9 223.7v2.3M423.7 245.3v2.3M421.4 206.5v2.1M423.0 213.6v1.4M423.4 213.6v1.0M422.0 218.6v1.1M422.5 203.5v0.9M421.6 239.1v2.3M421.9 239.6v2.0M421.2 256.5v0.5M424.5 238.3v1.4M423.8 220.8v1.5M421.2 206.7v2.3M421.9 210.3v2.0M421.0 253.8v2.2M421.9 235.9v0.9M422.4 223.0v1.5M423.7 204.7v1.7M421.7 236.1v1.2M422.0 241.1v1.7M422.2 252.1v2.3M422.2 236.8v1.9M422.6 241.5v1.3M420.9 233.2v1.2M423.2 204.2v1.9M421.7 247.4v1.5M424.3 210.2v0.8M420.9 202.8v1.5M422.0 219.7v1.6M421.5 238.8v1.2M421.7 241.2v1.6M421.2 251.2v2.4M421.7 198.2v1.9M421.0 211.4v1.5M422.0 222.3v1.5M423.0 224.1v0.9M421.9 217.2v1.2M421.9 214.8v1.3M422.6 225.0v1.5M421.5 225.6v1.5M421.3 228.1v1.8M420.7 245.5v2.2M424.4 205.9v1.2M421.0 224.2v2.1M421.1 233.2v0.8M424.3 220.0v2.1M422.0 209.6v1.8M421.7 248.2v1.0M421.6 208.1v1.7M422.3 237.8v1.2M422.1 228.5v1.6M422.2 243.8v1.3M421.4 253.9v1.4M422.7 253.5v1.9M423.0 216.7v1.0M421.8 205.5v1.4M421.0 246.0v1.8M423.5 207.7v1.6M422.0 240.3v2.4M422.1 247.1v1.9M422.8 205.1v1.6M423.2 229.7v1.0M422.0 256.0v1.0M421.6 253.6v1.5M422.1 236.2v2.1M422.7 247.2v1.9M421.3 217.9v1.6M421.2 237.6v1.5M421.9 246.7v2.2M423.0 207.3v1.4M423.6 242.6v0.8M422.9 248.3v1.7M422.2 229.4v2.3M421.0 241.5v1.6M424.1 225.7v2.1M422.9 218.4v1.9M422.5 252.6v1.9M423.3 255.8v1.2M423.8 215.1v2.1M423.2 240.0v1.7M423.1 216.8v1.7M421.6 214.6v1.1M421.7 254.3v2.3M422.7 230.3v2.1M422.7 232.3v2.4M421.8 207.6v2.0M423.1 211.4v1.2M422.8 217.3v2.2M422.0 212.7v1.2M423.8 218.5v1.9M421.0 234.1v2.0M422.0 238.5v1.1M421.9 246.6v0.9M422.7 246.4v1.4M423.3 220.6v1.0M422.0 216.2v0.8M421.6 212.4v1.1M422.8 247.3v1.6M422.7 252.1v1.7M421.1 239.1v1.1M422.4 212.8v1.8M421.7 223.3v2.1M421.4 205.8v1.0M421.5 217.1v2.3M420.9 215.0v1.2M421.6 199.1v0.9M421.3 204.0v1.4M423.8 235.6v1.7M422.5 213.1v1.0M423.2 215.0v1.5M421.9 229.8v2.2M421.6 202.2v2.2M422.2 245.7v1.9M422.7 226.7v1.9M424.1 199.4v1.6M422.7 244.9v1.5M420.7 212.2v2.2M424.0 228.7v2.3M421.2 198.2v2.2M422.5 222.9v1.8M422.9 213.2v1.1M422.9 223.6v2.0M421.3 236.4v2.3M421.9 201.5v1.9M422.6 216.6v0.9M421.1 251.9v1.3M422.1 218.2v2.3M422.1 219.7v1.1M421.8 239.7v1.9M422.0 227.7v1.2M422.3 228.0v1.2M424.0 234.5v2.1M423.1 234.8v0.9M423.0 199.2v1.3M422.3 202.5v1.4M421.9 226.1v2.4M421.3 225.6v2.3M422.0 248.4v1.1M421.4 209.4v2.2M421.7 236.9v2.3M423.1 230.4v2.3M421.9 234.3v1.2M421.1 249.7v1.2M423.5 218.1v1.0M421.6 244.4v1.9M422.6 207.4v1.1M421.8 227.8v2.0M422.0 226.3v1.5M422.6 246.3v2.4M421.6 209.1v0.8M422.2 198.9v1.1M422.3 246.8v2.2M423.2 248.0v1.8M424.5 213.8v1.4M422.1 255.9v1.1M421.9 245.2v0.9M422.9 255.6v1.1M422.6 225.2v2.2M421.1 212.0v1.9M422.5 234.4v1.9M423.8 244.8v1.5M421.4 251.6v1.8M420.9 200.8v1.6M423.4 207.3v2.0M421.5 241.9v1.0M423.0 210.8v0.8M423.2 248.1v2.3M423.0 254.7v0.9M422.1 243.0v1.4M422.2 240.9v1.4M422.3 229.2v0.9M421.4 256.3v0.7M423.0 239.0v2.0M422.3 204.2v1.3M422.2 210.5v1.1M422.0 253.8v2.3M422.8 199.1v1.9M422.0 247.4v1.3M422.7 198.1v1.2M422.5 256.7v0.3M421.8 246.3v2.1M422.4 206.2v2.2M420.9 202.2v1.4M423.7 213.3v2.4M421.7 236.8v0.9M421.5 251.4v0.9M422.1 228.9v1.2M422.0 207.9v2.1M421.9 231.5v1.5M422.6 233.5v1.3M422.4 248.9v1.2M423.9 198.7v1.6M420.9 224.1v1.8M422.5 249.8v1.5M422.2 219.4v1.9M422.1 199.3v0.9M422.7 256.1v0.9M422.1 251.6v1.1M421.4 206.4v1.1M422.1 222.0v1.5M422.4 236.3v2.0M422.7 247.6v2.4M421.8 253.2v1.3M422.2 248.2v1.7M421.7 214.9v1.1M422.8 204.8v2.2M422.2 249.6v0.8M422.3 247.2v1.0M422.7 206.5v1.5M422.0 247.6v1.5M422.4 252.1v2.0M422.2 253.0v1.1M423.0 209.4v1.9M423.1 236.7v2.3M422.3 255.4v1.6M423.4 212.1v2.2M420.9 216.3v2.0M422.7 256.5v0.5M421.6 207.0v1.7M421.9 212.7v2.2M422.4 220.4v2.2M423.1 230.6v1.0M422.9 231.5v1.8M422.4 229.9v1.9M422.0 254.8v2.2M423.3 246.7v1.2M424.5 197.4v0.9M422.0 213.0v2.2M421.1 212.3v1.0M422.5 234.6v2.2M421.7 198.8v1.3M420.9 254.4v2.3M421.3 247.5v1.1M422.1 256.6v0.4M421.7 235.3v2.3M421.5 224.4v1.6M421.3 224.4v1.5M423.8 211.2v2.3M423.8 222.0v1.1M422.1 200.7v1.0M421.4 251.4v1.2M421.4 252.0v2.3M422.7 213.0v1.6M421.0 246.5v1.5M423.1 240.1v1.1M420.7 234.4v0.9M422.5 208.5v1.4M422.6 210.1v1.4M421.8 208.5v2.4M422.5 207.9v2.4M421.3 247.2v1.0M422.9 251.4v1.5M422.9 245.0v1.4M422.7 248.6v2.2M423.1 241.7v2.0M421.3 249.6v2.3M424.6 256.3v0.7M422.9 235.5v2.2M422.4 247.4v1.2M421.9 239.9v1.3M422.7 203.3v1.5M421.7 218.5v1.0M424.6 237.5v2.1M421.9 235.0v1.4M421.7 198.7v2.1M422.4 231.2v1.7M420.9 244.4v1.9M422.8 242.4v2.1M423.2 227.7v1.2M420.6 243.2v1.4M422.6 252.6v0.9M422.5 252.8v1.6M423.1 226.7v1.5M422.0 212.3v1.8M421.7 204.2v2.0M423.1 198.6v2.0M422.3 226.8v2.2M422.5 225.4v0.9M421.3 256.9v0.1M423.3 230.8v0.9M420.7 235.0v1.8" stroke="#3a3eb4" stroke-width="0.55" fill="none" opacity="0.7"/>
<path d="M427.6 221.1v1.2M426.1 252.8v1.0M426.3 217.1v0.7M428.3 222.4v0.4M428.4 248.3v1.3M426.3 251.1v0.6M427.1 254.7v0.7M426.8 205.9v1.0M426.0 227.6v1.5M425.6 212.3v0.4M426.8 231.2v1.5M427.6 246.7v1.1M428.1 239.4v1.3M427.6 199.6v0.7M425.9 253.6v1.5M426.5 241.3v0.9M426.9 207.7v1.1M426.0 231.7v0.7M427.6 237.4v1.3M427.7 200.3v0.4M427.5 221.2v0.8M427.6 209.7v1.3M426.4 224.3v1.0M426.3 220.2v1.2M426.9 201.2v0.4M427.2 246.0v1.1M426.4 229.5v1.1M426.5 213.4v0.5M427.8 239.2v1.1M427.5 205.9v0.9M428.0 255.9v0.9M427.6 231.1v1.1M426.9 224.2v0.7M428.0 223.9v1.1M426.2 251.2v1.0M428.1 243.6v1.5M427.7 253.2v0.9M425.8 203.2v0.5M427.7 211.5v0.6M427.0 209.0v0.5M426.0 243.2v1.4M426.5 220.4v0.8M426.1 222.1v1.5M427.6 231.4v0.8M427.9 227.8v0.6M426.2 219.5v1.0M428.0 198.0v0.6M425.7 214.7v0.8M426.9 249.0v0.6M428.8 207.1v0.7M427.1 200.8v1.5M427.4 220.3v1.2M428.7 241.8v1.0M425.5 226.4v0.6M425.7 200.3v1.6M429.0 209.8v1.3M425.5 220.3v1.1M428.6 207.5v1.0M427.8 233.2v0.4M428.2 203.6v1.5M426.6 200.6v0.7M426.7 253.3v0.7M428.1 200.5v1.0M425.7 208.9v0.4M427.7 199.1v0.6M426.2 217.5v1.3M427.3 219.8v0.9M426.2 219.7v0.8M426.5 243.1v0.5M426.9 256.8v0.2M426.0 209.4v0.6M426.9 201.4v0.7M427.9 240.5v0.4M427.6 243.2v0.8M428.0 218.8v0.4M426.9 245.6v0.8M426.9 237.9v0.5M427.0 205.9v0.4M426.5 219.9v0.4M428.3 256.5v0.5" stroke="#c8181c" stroke-width="0.5" fill="none" opacity="0.6"/>
<path d="M456.6 238.8v0.6M462.6 247.0v1.2M443.4 225.5v1.6M440.9 255.7v1.2M444.0 209.3v1.3M457.5 227.7v0.6M444.2 236.2v1.5M449.0 231.9v1.1M456.5 225.5v0.5M430.5 214.0v1.2M450.5 253.2v1.5M439.2 247.6v1.2M458.5 242.1v1.0M459.2 248.9v0.6M462.8 238.1v0.5M428.2 217.9v1.3M442.6 256.1v0.4M451.8 227.8v1.1M449.1 212.8v0.8M434.4 221.5v1.0M432.6 252.3v1.1M431.0 214.2v0.5M452.1 219.7v0.9M440.7 205.7v1.4M431.8 209.2v1.1M462.2 200.4v1.1M454.4 238.4v1.3M450.2 252.9v1.2M438.0 240.7v0.6M443.7 206.8v0.4M451.2 248.0v0.8M434.7 238.0v1.2M449.7 235.6v0.4M444.3 254.0v0.8M461.9 210.8v0.6M435.4 226.4v1.4M455.8 245.5v1.1M461.6 248.3v0.7M433.0 198.4v0.8M433.9 229.4v0.7M449.8 202.3v0.7M439.4 245.7v1.1M462.7 240.2v1.5M445.5 210.3v0.6M463.1 240.2v1.1M456.9 244.8v0.4M433.2 201.8v0.9M432.8 240.0v0.9M456.0 238.5v0.8M461.5 224.6v0.4M442.6 202.8v0.7M455.1 198.5v1.5M461.0 226.6v1.2M453.6 226.5v0.6M459.8 240.5v0.8M464.5 241.2v0.5M434.0 249.4v1.3M440.6 210.9v0.9M439.1 227.8v0.6M432.8 200.3v1.3M446.8 205.1v0.9M436.2 217.2v1.3M441.2 243.6v1.0M453.2 255.9v1.0M463.7 209.0v1.2M454.3 198.9v1.3M443.3 231.1v1.2M457.5 200.2v1.0M462.5 234.3v0.9M441.9 216.5v0.5M430.6 256.7v0.3M455.4 211.7v1.1M439.0 241.4v1.6M458.9 243.1v1.0M451.7 233.0v0.8M459.6 210.4v0.9M434.5 237.5v0.5M455.3 223.9v1.4M454.7 253.5v1.1M430.7 241.2v0.9M430.8 205.6v0.9M454.3 253.3v0.8M463.5 244.1v0.8M443.2 252.3v0.5M464.6 198.9v1.4M447.4 244.9v1.4M450.1 244.8v1.1M445.2 244.0v0.9M443.9 218.3v1.1M458.4 234.4v0.4M430.4 228.9v1.1M432.1 204.1v0.5M438.7 211.4v1.2M450.5 204.0v0.8M446.2 235.8v0.9M441.8 198.9v0.5M454.3 247.0v1.3M447.6 243.6v0.6M457.4 200.9v1.1M446.0 221.3v1.3M456.4 232.2v1.1M430.2 202.9v0.4M442.8 214.6v0.6M437.4 201.6v0.5M446.7 252.2v1.2M455.5 199.1v1.0M463.7 249.6v0.5M439.3 212.8v0.6M434.0 211.5v0.5M440.5 254.4v1.5M456.7 249.7v0.7M448.6 213.8v0.8M429.6 239.8v0.9M435.6 228.3v0.8M435.5 255.8v1.2M434.2 206.1v1.4M464.7 207.5v1.1M440.3 207.5v1.2M439.0 235.2v1.1M449.5 222.5v0.5M463.4 199.9v0.6M443.1 252.8v1.1M440.2 202.5v0.7M451.3 256.4v0.6M462.0 254.5v0.7M430.5 236.9v0.4M446.9 246.2v0.7M436.4 211.2v1.1M450.6 213.8v1.4M446.5 223.8v0.4M444.9 218.0v0.6M460.1 247.8v0.7M435.4 243.1v1.0M461.7 253.0v1.2M440.4 228.5v1.1M459.4 214.9v0.9M441.4 243.9v0.8M442.4 198.9v1.4M434.0 255.0v0.5M428.5 217.3v0.8M461.5 254.1v0.6M443.9 212.2v1.1M435.7 213.6v1.0M458.3 254.5v1.1M455.2 210.6v0.9M446.2 211.3v0.6M428.5 232.8v1.1M443.7 236.6v1.3M437.6 235.5v1.3M436.7 246.1v0.6M437.2 213.4v1.1M441.3 225.7v1.4M433.4 237.4v0.5M430.1 251.0v0.7M456.4 255.1v1.2M458.9 255.6v1.3M459.0 241.3v1.4M439.9 240.2v1.3M458.7 202.9v0.8M461.9 243.6v1.3M445.2 248.7v0.8M434.0 204.6v1.1M428.9 254.4v0.5M433.8 239.1v0.4M452.9 223.5v1.2M457.7 218.2v1.3M446.7 249.4v0.6M447.1 255.0v1.1M446.8 209.7v0.8M433.7 221.8v1.0" stroke="#c8181c" stroke-width="0.45" fill="none" opacity="0.5"/>
<path d="M449.0 233.1v1.1M449.1 221.2v0.5M449.4 249.2v0.5M449.3 203.5v0.5M449.7 229.8v1.4M449.3 247.4v0.7M448.0 224.3v1.1M449.3 198.9v0.4M448.8 223.9v0.7M449.3 231.3v0.6M449.7 249.3v1.0M450.0 218.6v1.0M449.4 215.9v1.6M448.5 216.2v0.5M449.7 238.7v0.7M449.0 256.7v0.3M450.7 216.2v1.6M448.8 203.3v0.8M448.1 231.1v0.5M449.1 234.2v0.8M449.2 254.0v1.6M448.4 234.4v1.0M448.6 243.0v1.1M449.3 240.6v0.8M448.0 224.2v0.7M449.2 226.0v1.1M448.8 205.8v1.0M448.7 250.3v0.7M449.3 238.1v0.7M448.6 197.5v1.6M449.4 249.2v0.5M448.5 232.2v1.1M449.0 222.0v1.1M449.1 222.2v1.0M449.4 235.6v1.1M449.3 216.1v1.3M449.1 216.7v0.4M449.0 230.9v1.6M449.0 229.3v1.4M448.8 242.9v1.4" stroke="#c8181c" stroke-width="0.5" fill="none" opacity="0.6"/>
<path d="M457.3 229.5v0.5M457.8 246.4v0.5M456.4 215.3v0.5M457.1 226.4v0.4M457.4 207.8v1.0M456.9 228.6v1.5M457.2 240.7v0.8M458.3 238.5v1.6M458.0 225.7v0.4M456.7 215.2v0.7M457.3 241.1v1.3M456.6 223.1v1.2M457.4 228.1v1.4M456.3 239.2v1.1M457.7 218.2v1.5M456.1 224.8v1.2M455.5 200.7v1.4M457.3 206.4v1.5M457.0 214.1v0.5M457.0 236.2v1.2M457.6 224.7v0.6M457.4 222.8v1.6M457.0 236.5v0.8M457.3 232.0v0.4M456.8 227.8v1.5M456.1 251.8v1.5M458.3 201.0v1.3M457.0 253.4v1.6M456.9 253.2v1.1M458.3 234.1v0.9M456.7 244.8v1.2M457.4 218.8v1.2M457.0 207.5v1.4M456.6 205.3v0.6M457.1 239.0v1.5M456.6 229.1v1.0M457.3 243.7v0.8M458.4 229.8v1.4M456.5 228.5v1.4M457.2 242.0v0.6" stroke="#c8181c" stroke-width="0.5" fill="none" opacity="0.6"/>
<path d="M477.7 248.5v1.2M490.3 238.5v0.9M470.2 222.2v1.2M474.3 226.7v0.4M486.5 202.1v1.0M471.8 234.5v0.5M468.4 231.1v1.1M467.1 235.8v1.3M483.3 226.7v0.5M478.5 222.4v0.9M466.4 200.8v1.1M478.6 231.1v0.6M471.3 200.7v1.3M472.0 211.9v1.4M468.3 224.9v1.5M487.5 201.0v0.8M472.2 234.9v1.4M479.2 244.3v0.6M469.6 228.7v1.1M479.0 210.2v1.6M486.0 231.4v1.3M483.9 231.5v0.8M481.9 239.6v0.7M466.0 229.2v0.8M486.9 251.6v0.4M489.7 220.8v1.5M466.9 232.6v1.5M465.9 200.8v1.6M474.4 236.1v1.2M471.7 199.7v0.7M488.4 208.4v0.7M488.8 228.4v1.1M472.5 207.4v1.1M486.2 209.0v1.1M478.8 234.1v0.8M483.9 208.1v1.4M486.5 219.2v0.7M477.3 237.7v1.2M481.3 242.4v1.0M476.5 197.6v0.6M479.2 246.0v1.5M479.5 231.2v0.8M486.1 216.1v1.3M475.2 204.5v1.0M470.8 197.6v1.1M480.0 217.4v1.5M486.9 253.3v0.8M488.1 221.1v0.8M471.7 249.1v0.7M474.9 243.7v0.5M488.7 235.0v1.1M475.8 209.6v1.5M471.0 228.9v0.7M469.5 228.4v1.3M467.8 205.3v1.1M469.3 233.2v0.8M467.4 245.0v0.7M489.1 246.7v1.1M489.3 215.8v1.3M475.4 218.8v0.9M486.8 207.3v1.2M488.3 238.7v1.4M480.5 241.4v0.7M487.4 217.5v1.4M482.0 245.2v1.5M478.2 213.8v0.7M481.6 247.1v0.7M473.6 238.6v1.0M466.6 234.4v0.5M482.6 198.7v0.9M479.4 209.6v0.9M469.4 249.8v1.6M489.9 247.6v1.1M488.4 256.7v0.3M466.5 236.9v0.9M480.9 217.9v1.0M477.7 198.9v1.4M468.2 209.8v1.3M468.6 226.8v1.6M479.7 225.0v0.5M484.2 250.7v1.3M472.0 234.6v1.5M471.2 246.9v1.6M485.7 210.6v1.3M485.9 230.1v0.5M487.2 245.8v0.9M471.6 225.9v1.5M489.2 255.3v1.3M479.6 206.1v0.9M468.9 233.7v1.5M486.5 255.7v0.5M468.4 240.3v0.8M467.1 207.9v0.9M475.5 248.5v1.2M489.5 220.6v1.4M489.8 253.3v1.1M467.0 239.5v1.1M485.3 247.9v1.1M479.6 235.1v1.0M470.8 198.9v1.4M489.2 199.3v1.1M482.5 237.9v1.4M477.7 215.2v1.1M489.7 208.5v0.7M466.4 216.9v1.5M467.4 210.1v0.8M482.0 212.0v1.2M470.1 210.3v1.4M488.1 254.1v0.6M473.3 206.9v0.6M486.2 221.7v0.8M487.4 222.5v1.5M471.8 219.5v1.1M482.9 248.6v1.3M469.0 219.0v1.3M489.8 219.5v1.3M471.0 253.7v0.8M489.4 229.3v1.5M469.9 256.7v0.3M467.4 220.8v0.9M487.4 246.7v0.8M481.6 199.8v0.8M484.1 216.8v0.9M465.2 216.2v1.4M480.5 207.3v1.0M471.0 252.1v0.5M472.1 212.6v1.5M482.7 245.9v1.5M468.1 222.7v0.5M484.4 225.0v1.4" stroke="#2a2ea8" stroke-width="0.45" fill="none" opacity="0.5"/>
<path d="M470.8 240.5v0.6M470.2 210.2v0.7M472.0 233.0v1.2M473.2 212.3v1.2M472.6 255.8v1.0M470.7 202.5v1.4M473.5 238.3v1.3M472.4 230.2v0.8M470.8 216.6v1.2M471.9 201.1v0.4M472.0 219.5v0.9M470.7 218.3v0.7M470.9 231.1v1.5M473.3 239.7v0.8M470.7 205.0v1.1M471.3 249.3v0.5M470.4 231.2v1.4M472.1 231.2v0.7M473.5 246.5v1.6M471.4 232.4v1.5M472.7 236.8v1.6M471.9 242.7v0.7M471.4 216.4v1.1M472.2 224.2v1.3M470.7 230.4v0.6M470.9 209.6v0.5M472.8 205.7v1.2M472.4 247.4v0.9M471.6 252.4v1.2M469.8 213.1v1.5M471.6 213.8v0.6M470.5 217.2v0.6M472.5 227.8v1.4M471.7 230.1v0.5M471.8 240.1v0.9M472.0 239.5v1.5M471.1 210.1v1.4M472.1 244.6v1.5M472.2 211.0v1.0M471.3 244.4v0.9M472.0 225.1v0.8M471.4 243.4v0.8M472.4 229.2v1.6M471.6 207.4v0.8M471.2 247.2v1.2M472.6 234.3v0.9M472.6 243.0v1.0M472.8 234.9v0.5M473.0 216.4v0.4M470.5 204.6v0.6M473.7 252.0v0.9M473.2 251.5v1.3M471.6 201.4v1.3M472.9 210.8v0.9M473.1 222.3v1.3M473.3 207.0v1.2M472.6 216.2v1.6M472.7 221.0v0.9M471.4 206.1v1.5M473.6 254.9v0.7" stroke="#2a2ea8" stroke-width="0.5" fill="none" opacity="0.6"/>
<path d="M500.4 205.1v1.1M497.3 252.3v0.5M500.3 214.6v0.5M496.1 246.3v1.4M496.5 224.6v0.5M497.0 255.4v1.6M499.2 212.9v0.7M501.4 228.5v0.7M499.6 226.3v1.3M501.4 253.2v1.1M502.9 209.3v0.6M497.9 228.3v1.1M498.8 220.3v1.4M500.9 217.6v0.4M497.2 229.8v1.6M496.6 214.0v1.2M497.4 251.0v1.3M498.2 221.4v0.4M497.5 238.4v0.8M498.0 232.2v0.7M496.2 243.1v0.4M498.8 221.5v0.6M497.0 200.6v0.9M498.3 249.2v1.1M498.3 217.3v0.8M499.2 248.5v1.5M496.5 252.1v0.6M502.8 215.7v0.5M498.9 215.2v1.5M499.1 221.9v0.9M501.8 222.7v1.6M501.4 205.0v0.5M497.9 205.9v1.4M497.5 242.0v1.5M499.2 217.9v1.1M503.0 217.9v0.9M500.8 250.8v1.3M497.5 205.9v1.5M496.9 238.4v0.6M502.2 206.9v1.6M499.2 215.0v0.4M498.4 236.1v0.5M496.8 239.5v0.7M500.2 200.0v0.9M497.8 239.9v0.5M498.0 246.0v1.0M498.8 212.9v1.0M496.9 217.2v0.4M501.4 236.2v0.4M497.5 241.1v0.8M498.5 243.4v0.6M500.1 199.5v0.5M497.6 254.4v1.6M500.6 254.0v1.1M496.2 203.2v0.7M498.7 218.9v0.5M500.9 247.3v1.0M500.5 201.9v1.0M501.5 219.7v0.7M500.7 245.5v0.9M499.5 204.7v1.3M497.9 208.3v0.7M498.9 246.3v0.9M497.0 224.8v0.6M499.9 254.7v0.7M502.5 245.9v0.4M496.7 232.2v1.0M498.0 204.6v1.1M502.5 232.1v0.8M498.6 205.8v0.6M499.3 241.8v0.4M502.2 211.3v0.7M502.1 217.1v0.9M496.3 215.0v0.8M497.0 254.8v1.4M498.0 199.5v0.4M502.3 213.0v0.5M499.4 230.1v0.4M500.6 206.9v1.4M501.6 238.8v0.8M502.9 210.8v0.6M501.5 200.3v0.9M499.8 220.1v1.0M499.4 218.2v0.6M502.4 252.0v1.1M498.1 204.5v1.0M496.2 223.5v0.5M502.7 229.8v1.4M498.1 251.2v0.7M501.4 235.0v0.9M500.0 239.5v1.5M497.5 232.1v0.5M497.5 200.9v1.5M502.1 202.2v0.9M498.1 239.5v1.6M497.9 204.6v0.7M498.5 200.3v1.1M501.7 201.4v1.5M502.3 230.4v0.8M498.3 212.6v0.9M501.3 224.5v0.8M497.5 246.1v1.3M501.2 233.9v0.9M502.4 228.1v0.6M497.9 212.2v1.0M500.5 212.6v1.2M501.9 255.8v1.2M496.0 229.9v1.4M496.5 249.0v1.1M502.9 245.0v1.4M500.7 244.0v0.6M501.7 251.3v1.0M497.1 243.9v1.0M498.5 235.1v0.4M500.6 235.1v0.5M497.7 253.1v1.2M502.7 223.2v0.8M497.9 255.9v1.1M496.8 221.9v0.9M498.2 251.0v1.1M499.3 250.4v1.4M502.4 212.3v1.4M498.7 252.9v0.9M497.8 229.1v0.8M500.5 207.9v1.4M497.3 233.0v1.4M497.8 222.8v1.2M500.6 211.0v0.5M502.7 245.6v1.4M498.9 221.4v0.4M500.5 246.1v1.6M501.1 228.2v0.9M498.8 229.5v0.6M501.1 233.0v0.5M499.9 198.3v0.5M496.6 225.2v1.0M496.4 221.1v1.0M500.5 199.7v1.4M501.1 202.6v0.8M498.4 240.8v0.7M500.1 229.2v1.4M500.2 214.1v1.5M502.1 216.0v1.1M501.4 219.6v1.1M496.9 247.0v0.9M502.5 214.5v0.7M498.3 220.1v0.8M500.7 244.0v1.2M502.2 212.1v0.8M502.8 252.3v1.4M498.3 200.5v1.2M501.0 199.2v1.4M497.9 223.4v0.4M496.5 198.0v1.1M498.7 217.8v1.1M502.2 209.0v0.9M497.5 234.9v0.6M498.3 219.5v0.6M498.0 239.4v0.5M500.4 206.1v0.4M499.8 236.3v0.9M497.5 198.4v1.4M496.9 205.3v0.8M498.3 209.0v1.3M498.0 201.6v1.0M497.6 205.4v1.2M497.6 256.9v0.1M497.6 217.8v1.2M497.6 217.9v1.3M502.7 235.6v0.6M497.8 210.4v0.5M501.6 249.4v1.1M498.2 247.3v1.0M501.0 220.1v1.2M496.8 243.2v0.4M498.9 209.7v1.1M501.3 251.7v1.4M501.0 245.4v1.4M497.5 222.7v1.0M502.3 247.3v1.6M499.6 256.8v0.2M497.2 220.5v1.5M498.8 224.5v0.6M498.4 242.8v1.4M496.9 203.7v0.9M496.2 205.0v0.4M501.2 233.8v1.6M498.9 241.5v0.6M496.3 233.9v0.5M498.3 241.9v0.7M500.7 256.1v0.9M497.8 205.9v0.6M499.9 215.3v1.5M500.5 221.8v1.2M502.5 223.1v1.1M502.1 248.9v0.9M497.2 255.8v1.0M502.4 252.1v1.6M499.5 233.1v0.7M499.9 252.5v1.2M496.5 209.2v1.5M498.1 232.6v0.7M502.3 248.0v0.8M501.1 235.6v0.5M498.0 235.3v1.3M499.8 233.4v0.7M497.6 233.7v0.9M496.2 243.1v1.5M502.7 234.7v0.9M500.1 224.9v1.2M499.1 203.6v1.4M498.3 237.9v0.8M497.2 202.4v1.3M498.1 221.4v0.7M499.9 217.5v0.6M501.0 217.1v1.2M499.1 224.5v0.6M502.6 215.7v0.8M501.7 225.0v0.7M498.4 215.1v1.1M502.5 229.6v1.5M497.5 244.2v1.2M500.3 197.4v1.5M496.3 238.0v0.5M496.0 205.3v0.8M497.1 225.0v0.7M498.7 208.5v1.4M501.0 250.0v0.9M498.5 201.5v1.1M500.5 231.4v1.4" stroke="#c8181c" stroke-width="0.5" fill="none" opacity="0.65"/>
<path d="M508.2 238.4v0.9M504.0 231.3v1.5M505.3 256.4v0.6M508.3 218.9v1.4M511.0 205.9v0.5M505.0 230.7v0.9M509.0 245.1v0.4M508.8 235.4v0.7M508.8 202.4v0.8M507.7 203.1v1.2M505.7 239.0v0.5M507.9 204.1v0.9M504.3 223.5v1.3M504.4 216.7v1.3M505.3 213.8v1.1M504.6 198.0v1.3M505.8 212.4v1.4M510.3 220.7v1.0M507.7 246.5v0.6M504.5 248.6v1.2M508.6 216.5v0.6M509.6 244.2v1.4M504.0 249.2v0.9M508.7 238.6v1.3M507.1 210.6v1.3M503.5 243.6v0.8M507.0 223.7v1.3M508.5 208.6v1.5M509.1 215.4v1.5M503.9 227.8v1.5M504.6 248.2v1.5M507.2 245.5v1.2M509.4 235.7v0.8M510.3 202.3v1.5M510.2 222.2v0.7M506.1 211.1v0.7M507.1 232.4v1.3M507.6 229.3v1.2M506.3 247.3v1.6M508.2 208.9v0.9M506.2 254.7v0.8M505.8 209.5v1.2M510.2 235.3v0.6M508.8 255.8v1.2M507.8 214.8v0.7M508.1 227.7v1.1M508.9 206.1v0.9M508.0 256.1v0.9M508.0 228.1v1.1M509.3 235.8v1.3M506.5 232.0v1.2M507.5 218.5v1.1M510.7 246.1v0.7M504.6 237.3v0.8M510.7 198.2v1.4M504.5 241.4v1.2M504.9 225.1v1.6M504.3 229.5v0.8M507.5 200.8v1.3M504.7 238.9v0.6M506.8 245.2v0.8M510.3 237.2v0.8M504.8 218.2v1.3M504.5 236.2v0.9M506.2 247.8v1.2M504.6 252.5v1.2M506.8 239.4v1.3M510.5 219.1v0.5M504.2 229.7v0.8M504.6 211.3v1.3M508.8 205.1v1.0M507.2 211.4v1.2M509.1 245.0v1.2M506.5 216.7v1.5M507.5 252.4v1.5M507.3 199.4v0.6M504.8 227.1v1.1M503.5 200.6v0.5M510.9 256.5v0.5M506.9 228.0v0.6M504.3 243.4v1.3M504.5 203.8v1.3M506.1 253.1v1.3M504.8 228.0v0.4M505.0 220.4v1.3M510.4 247.8v1.1M504.2 217.5v0.8M508.4 238.0v0.4M505.9 229.9v0.9M508.9 255.0v0.7M508.9 200.8v0.8M509.1 232.8v1.0M507.9 235.4v1.3M507.8 220.9v0.8M509.9 250.4v0.7M506.7 240.0v1.4M509.3 232.6v0.9M503.3 207.0v1.3M509.2 235.1v1.5M504.3 202.4v1.4M506.6 232.4v1.0M509.7 213.8v1.1M510.4 233.0v1.4M503.3 234.2v0.9M504.1 255.7v1.3M506.5 215.5v1.1M506.5 203.2v1.5M505.8 198.9v1.2M506.2 211.3v1.2M504.0 198.8v1.3M504.1 217.8v1.3M510.1 248.6v0.8M510.2 229.3v1.2M503.0 226.8v1.2M503.4 201.9v1.0M507.8 223.4v0.9M510.8 210.7v1.4M503.1 231.6v0.8M503.5 227.7v1.0M506.7 236.1v1.5M505.5 233.9v0.8M508.1 252.5v1.2M509.0 200.1v0.7M509.8 228.3v0.6M506.7 255.2v1.3M503.5 253.1v1.6M504.5 230.2v1.4M507.7 250.0v1.4M506.3 209.4v0.7M506.0 226.6v1.0M507.7 234.4v0.8M505.3 243.2v0.6M504.8 253.4v1.5M507.9 243.5v0.9M507.5 238.8v0.7M509.6 211.8v1.5M503.1 240.7v1.1M511.0 212.9v0.7M506.4 198.3v0.7M503.9 228.2v1.3M505.3 235.8v0.6M504.4 237.7v0.5M509.7 243.0v1.4M507.6 242.9v0.8M507.7 205.2v0.8M505.2 249.8v0.8M508.7 212.8v1.6M503.9 245.3v0.9M505.9 229.0v0.8M506.9 210.2v1.2M505.8 202.0v1.2M508.1 238.0v0.9M504.6 218.3v0.8M506.6 253.9v1.0M508.8 234.7v0.4M504.3 210.7v0.7M503.2 208.0v0.9M508.4 205.2v1.0M504.7 222.9v1.3M508.5 218.3v1.5M503.7 219.1v0.5M503.5 219.7v0.8M506.5 255.1v0.9M504.7 221.1v1.5M510.0 223.1v0.9M507.3 237.2v0.5M504.1 226.8v1.1M509.2 248.9v1.4M503.8 249.8v0.6M506.1 254.7v0.7M508.7 256.3v0.4M505.1 221.5v1.3M507.4 246.2v1.1M509.1 221.1v0.5M510.3 204.3v1.2M507.6 224.6v0.8M507.3 249.8v0.5M507.8 253.5v1.3M510.9 207.4v0.9M503.6 251.8v0.9M510.1 250.1v0.7M508.6 221.9v1.2M503.1 253.1v1.4M510.7 230.6v1.4M509.2 197.9v0.6M508.6 252.1v0.4M506.2 254.7v1.1M509.9 231.0v1.0M509.9 255.0v0.7M504.7 217.9v1.1" stroke="#c8181c" stroke-width="0.5" fill="none" opacity="0.6"/>
<path d="M510.1 236.0v1.8M510.0 226.7v2.1M509.1 230.0v2.5M509.4 214.6v1.7M509.1 225.0v2.2M510.1 246.6v1.1M510.2 212.2v1.8M510.0 228.3v1.7M509.4 211.0v1.2M510.4 207.5v2.5M509.3 227.8v2.2M509.3 245.0v1.3M510.1 232.8v1.6M509.1 208.2v1.6M509.6 224.6v1.9M509.8 201.3v1.9M509.7 256.5v0.5M509.4 223.0v2.0M510.1 207.5v1.3M509.6 229.1v2.3M509.9 198.7v1.9M509.9 251.3v1.4M510.2 242.8v2.0M509.7 204.4v3.0M509.8 211.5v2.5M509.6 246.8v2.5M509.5 255.6v1.4M509.5 224.0v1.9M509.8 198.4v1.8M510.1 208.8v2.2M509.7 237.1v1.3M510.1 215.9v2.5M509.7 215.0v1.1M509.8 249.3v2.8M510.1 227.0v2.3M509.8 242.1v1.3M509.8 209.8v1.6M509.4 231.6v2.7M509.9 233.6v2.6M509.2 251.7v1.2M509.8 224.9v2.1M509.3 202.3v2.4M510.0 248.4v2.1M510.3 220.9v1.4M508.9 200.6v1.6M509.6 255.7v1.3M509.4 201.6v1.9M510.1 226.8v1.1M509.3 250.8v1.6M509.8 197.6v2.8M509.9 247.1v1.2M509.7 240.7v2.3M510.0 215.1v2.1M509.6 221.9v1.6M509.8 228.5v2.7M509.8 243.1v1.2M509.2 203.8v2.3M509.6 206.5v2.1M509.2 237.6v1.1M509.6 212.9v2.1M509.6 203.3v2.0M509.9 219.0v1.6M509.4 253.7v1.6M510.2 215.7v3.0M509.8 210.2v2.7M510.2 230.1v2.7M509.9 201.7v1.9M509.7 256.2v0.8M509.0 237.8v1.5M510.2 233.0v2.4M510.7 213.7v2.6M509.9 235.6v1.2M509.6 235.8v1.6M509.7 252.5v1.7M509.8 219.7v2.7M510.3 225.6v1.1M509.6 197.4v2.4M509.4 200.3v2.0M510.0 229.8v1.3M509.6 255.7v1.3M509.9 256.8v0.2M510.2 202.7v1.9M509.9 231.2v2.7M510.5 237.5v1.1M509.8 253.1v1.8M509.9 250.5v1.2M509.7 239.0v1.2M509.2 200.1v1.6M509.7 211.0v1.6M510.8 235.9v1.1M509.9 220.8v2.2M509.8 252.5v2.2M510.1 252.9v1.5M510.1 205.9v1.1M509.7 218.5v1.6M510.6 226.0v1.2M509.4 224.1v2.1M509.8 211.2v2.8M509.7 216.9v2.6M510.5 244.9v2.0M510.0 216.0v1.7M509.2 235.7v1.2M510.1 245.5v2.3M509.6 218.5v2.6M510.1 219.7v2.6M509.4 241.3v1.6M509.4 229.0v1.8M509.2 215.6v1.6M509.5 211.5v2.0M509.9 254.8v1.4M510.0 229.9v1.3M509.4 235.2v2.7M509.7 225.5v2.5M509.9 220.1v2.3M510.3 208.5v1.2M510.0 201.6v1.0M509.6 236.6v2.5M510.4 247.4v2.5M509.6 254.1v2.9M510.5 222.4v2.2M510.0 243.8v1.3M509.8 216.2v1.7M509.7 230.8v1.9M510.4 247.2v2.8M509.8 218.4v2.8M509.5 211.9v2.6M509.7 206.0v2.4M510.3 236.6v2.2M510.0 203.3v2.5M509.8 212.1v1.8M509.5 243.4v1.5M510.3 251.6v1.5M509.2 220.5v1.6M510.1 221.7v1.9M509.7 204.4v1.5M509.6 202.2v1.3M509.7 231.1v1.1M509.9 224.1v1.0M509.3 202.6v2.4M510.1 254.9v1.6M510.4 219.0v2.6M509.5 243.9v2.9M509.2 253.8v2.1M509.2 219.2v1.6M509.4 230.1v1.9M509.7 249.7v1.2M510.2 225.4v2.3M509.3 248.1v2.8M509.5 250.0v2.4M509.9 202.7v2.1M509.5 239.3v1.6M510.3 229.0v2.2M510.1 218.6v2.9M510.4 210.3v1.3M510.1 215.1v2.3M509.1 227.9v1.8M509.6 223.2v1.7M509.5 211.8v2.1M510.4 200.1v2.6M509.7 245.2v1.6M509.8 236.9v1.5M510.4 227.1v1.5M510.0 227.3v1.8M509.4 210.5v1.6M509.8 213.2v1.9M510.2 247.3v2.7M509.9 247.6v1.3M510.2 234.1v1.6M510.1 232.4v2.6M509.9 231.7v1.6M509.4 206.3v1.6M510.6 223.8v1.8M509.6 215.7v1.8M510.2 256.2v0.8M510.1 223.1v1.4M509.6 203.0v1.2M510.8 215.4v2.4M509.6 241.1v1.4M509.5 239.8v2.5M510.0 237.7v1.6M509.7 250.6v2.7M509.6 248.6v2.0M509.7 246.4v1.9M509.0 222.1v2.9M509.7 219.4v2.0M509.4 242.6v1.7M509.5 211.5v2.3M510.0 219.9v2.0M510.1 255.8v1.2M509.7 240.6v1.9M510.0 207.0v2.0M510.5 210.4v1.7M509.0 248.9v2.5M510.8 210.5v1.3M510.2 236.8v2.3M509.5 230.3v2.3M509.7 201.4v1.3M509.5 219.8v2.9M509.8 211.9v1.1M510.1 200.9v2.6" stroke="#8a0a10" stroke-width="0.6" fill="none" opacity="0.85"/>
<line x1="384.00" y1="197.40" x2="384.00" y2="257.00" stroke="#26222c" stroke-width="0.55"/>
<line x1="397.50" y1="197.40" x2="397.50" y2="257.00" stroke="#26222c" stroke-width="0.55"/>
<line x1="406.90" y1="197.40" x2="406.90" y2="257.00" stroke="#26222c" stroke-width="0.55"/>
<line x1="414.50" y1="197.40" x2="414.50" y2="257.00" stroke="#26222c" stroke-width="0.55"/>
<line x1="420.40" y1="197.40" x2="420.40" y2="257.00" stroke="#26222c" stroke-width="0.55"/>
<line x1="427.90" y1="197.40" x2="427.90" y2="257.00" stroke="#26222c" stroke-width="0.55"/>
<line x1="435.20" y1="197.40" x2="435.20" y2="257.00" stroke="#26222c" stroke-width="0.55"/>
<line x1="440.60" y1="197.40" x2="440.60" y2="257.00" stroke="#26222c" stroke-width="0.55"/>
<line x1="446.00" y1="197.40" x2="446.00" y2="257.00" stroke="#26222c" stroke-width="0.55"/>
<line x1="452.20" y1="197.40" x2="452.20" y2="257.00" stroke="#26222c" stroke-width="0.55"/>
<line x1="458.10" y1="197.40" x2="458.10" y2="257.00" stroke="#26222c" stroke-width="0.55"/>
<line x1="464.30" y1="197.40" x2="464.30" y2="257.00" stroke="#26222c" stroke-width="0.55"/>
<line x1="468.90" y1="197.40" x2="468.90" y2="257.00" stroke="#26222c" stroke-width="0.55"/>
<line x1="474.20" y1="197.40" x2="474.20" y2="257.00" stroke="#26222c" stroke-width="0.55"/>
<line x1="478.30" y1="197.40" x2="478.30" y2="257.00" stroke="#26222c" stroke-width="0.55"/>
<line x1="483.10" y1="197.40" x2="483.10" y2="257.00" stroke="#26222c" stroke-width="0.55"/>
<line x1="487.20" y1="197.40" x2="487.20" y2="257.00" stroke="#26222c" stroke-width="0.55"/>
<line x1="491.70" y1="197.40" x2="491.70" y2="257.00" stroke="#26222c" stroke-width="0.55"/>
<line x1="495.20" y1="197.40" x2="495.20" y2="257.00" stroke="#26222c" stroke-width="0.55"/>
<line x1="502.50" y1="197.40" x2="502.50" y2="257.00" stroke="#26222c" stroke-width="0.55"/>
<line x1="511.60" y1="197.40" x2="511.60" y2="257.00" stroke="#26222c" stroke-width="0.55"/>
<line x1="384.00" y1="197.40" x2="511.60" y2="197.40" stroke="#26222c" stroke-width="0.6"/>
<line x1="384.00" y1="210.10" x2="511.60" y2="210.10" stroke="#26222c" stroke-width="0.6"/>
<line x1="384.00" y1="222.00" x2="511.60" y2="222.00" stroke="#26222c" stroke-width="0.6"/>
<line x1="384.00" y1="233.90" x2="511.60" y2="233.90" stroke="#26222c" stroke-width="0.6"/>
<line x1="384.00" y1="248.10" x2="511.60" y2="248.10" stroke="#26222c" stroke-width="0.6"/>
<line x1="384.00" y1="254.00" x2="511.60" y2="254.00" stroke="#26222c" stroke-width="0.6"/>
<line x1="384.00" y1="257.00" x2="511.60" y2="257.00" stroke="#26222c" stroke-width="0.6"/>
<rect x="378.40" y="197.40" width="3.30" height="12.70" fill="#a5161f"/>
<rect x="378.40" y="210.10" width="3.30" height="11.90" fill="#d31f1f"/>
<rect x="378.40" y="222.00" width="3.30" height="11.90" fill="#e4511b"/>
<rect x="378.40" y="233.90" width="3.30" height="14.20" fill="#f07d21"/>
<rect x="378.40" y="248.10" width="3.30" height="5.90" fill="#f4e04a"/>
<rect x="378.40" y="254.00" width="3.30" height="3.00" fill="#f6f08c"/>
<rect x="378.40" y="197.40" width="3.30" height="59.60" fill="none" stroke="#3a2a20" stroke-width="0.35"/>
<rect x="384.00" y="261.00" width="127.60" height="59.20" fill="#fff"/>
<path d="M474.0 300.7v1.6M409.7 313.8v0.5M438.0 295.4v1.4M400.0 303.1v0.9M478.8 313.0v1.1M507.8 317.5v1.5M486.4 263.6v0.8M455.5 277.3v0.6M496.4 302.3v1.1M511.3 299.2v1.2M473.3 273.0v0.5M389.2 272.9v1.3M469.9 302.5v0.5M402.4 289.6v0.7M465.6 308.7v0.5M487.3 296.0v0.8M414.0 279.7v0.7M424.4 262.4v0.8M497.8 288.6v0.5M450.9 306.3v1.1M443.2 295.5v0.7M499.1 270.6v1.1M506.4 269.3v0.7M458.5 284.1v0.7M461.0 274.4v1.3M443.1 294.4v0.7M484.2 292.1v0.6M428.2 264.9v1.3M470.8 308.2v0.5M503.6 301.0v1.3M453.4 301.7v1.1M394.3 315.1v0.8M426.6 301.6v0.9M442.2 284.1v1.0M506.7 266.2v0.5M413.0 304.3v0.9M496.8 290.5v1.4M439.5 319.5v0.7M503.4 299.9v1.5M493.3 299.4v1.3M471.5 317.8v0.8M488.8 311.0v1.5M488.1 311.2v1.2M431.1 297.7v0.8M393.9 293.9v0.6M422.1 315.1v1.0M436.7 306.1v1.1M446.7 301.8v1.4M507.7 290.1v0.4M461.5 279.6v1.5M418.0 308.5v0.7M407.0 269.0v1.3M469.6 304.5v0.5M436.6 307.0v0.9M503.2 317.0v1.4M416.6 293.8v0.5M459.9 278.0v0.8M397.9 280.8v0.7M420.4 271.2v0.9M498.2 292.5v1.0M490.3 309.9v1.1M418.2 318.4v1.6M492.6 291.3v1.5M423.9 303.1v1.1M443.4 310.4v1.1M459.3 311.7v0.8M411.4 293.7v1.5M442.5 299.3v1.6M501.2 308.7v1.3M406.2 318.2v1.2M441.9 275.9v1.2M473.4 287.4v1.1M436.0 295.5v0.5M494.8 275.9v0.8M459.2 300.1v0.9M506.6 281.6v0.8M499.1 271.4v0.8M453.4 305.3v0.6M420.6 289.1v0.8M449.2 316.9v0.5M442.3 298.1v1.0M398.5 263.2v0.5M396.9 314.1v0.6M467.3 283.9v1.2M504.6 315.5v0.8M468.2 289.9v1.6M485.5 317.2v0.7M404.0 310.9v1.6M428.0 304.9v0.5M414.8 316.8v1.2M506.0 271.9v0.6M416.8 271.0v0.4M502.8 267.8v1.6M465.3 315.8v0.9M470.7 295.5v1.3M465.4 280.1v0.7M412.4 267.5v0.7M481.4 273.7v0.6M449.2 276.2v0.4M474.7 281.3v1.0M403.3 302.9v1.4M414.7 291.7v0.6M475.8 291.2v1.0M426.7 286.1v0.9M405.7 290.5v1.2M468.3 317.7v0.6M496.6 288.0v1.4M396.5 301.6v0.7M424.7 301.9v1.0M437.2 271.1v1.0M403.2 309.7v0.7M444.9 310.6v1.2M477.5 270.2v1.5M447.5 261.8v1.6M444.5 295.1v0.9M500.8 305.7v1.5M452.1 292.0v1.4M401.0 302.8v1.4M487.3 281.5v0.6M493.6 296.3v1.4M440.3 315.0v0.4M457.1 303.0v0.6M471.7 264.2v1.4M464.7 318.3v1.4M435.6 275.4v0.8M443.7 285.0v1.0M484.5 268.3v0.8M399.2 310.9v1.2M422.5 304.1v1.2M389.5 313.9v0.9M468.3 301.2v1.6M451.7 278.7v0.5M416.7 273.9v1.2M391.7 307.2v0.7M405.9 294.5v1.2M404.9 289.7v0.7M466.7 290.8v1.3M426.3 267.5v1.1M481.4 280.9v0.8M477.6 309.3v1.2M415.1 316.5v1.0M430.6 300.9v1.4M434.1 273.6v1.4M389.3 268.3v1.3M487.8 271.4v0.5M486.5 311.4v0.8M453.1 316.1v1.1M470.0 309.3v1.0M445.5 302.5v0.5M491.4 312.5v1.1M422.5 299.3v1.5M462.6 307.7v1.6M420.8 276.6v1.3M501.9 268.1v0.6M490.2 281.5v0.4M425.8 273.2v1.2M430.1 276.5v1.1M476.9 298.9v1.2M401.2 316.2v1.0M452.0 316.9v0.7M416.2 303.5v1.2M429.8 280.6v1.0M384.5 282.4v1.4M400.2 311.2v1.5M431.0 294.9v0.8M444.2 288.1v0.9M494.4 285.5v0.6M504.8 288.4v1.3M429.1 276.5v0.9M446.6 270.6v1.1M483.3 304.9v0.6M509.7 289.8v0.9M481.0 283.4v0.8M505.9 271.1v0.5M491.7 303.7v0.8M477.7 281.4v1.1M473.9 319.6v0.6M451.6 267.0v1.0M395.1 294.9v1.5M470.4 290.5v1.2M401.4 302.0v1.1M469.5 294.1v1.6M493.5 291.7v1.1M469.1 318.3v1.5M403.0 283.3v0.9M455.7 293.8v0.6M395.1 273.4v1.3M502.2 290.9v1.6M411.2 272.5v1.6M485.7 268.3v1.0M419.7 290.0v1.4M506.9 274.6v1.3M499.9 300.1v1.1M473.9 287.3v1.1M454.8 309.3v0.6M497.8 304.8v1.4M405.4 270.9v1.1M420.6 306.7v0.7M487.8 308.0v1.6M492.2 289.6v0.5M449.9 306.5v1.5M400.5 291.1v0.4M486.8 279.9v1.5M511.3 284.9v0.7M430.2 310.5v0.7M441.8 268.0v1.0M434.1 269.4v1.5M467.5 293.9v0.6M430.5 300.7v1.4M391.4 307.5v0.8M485.1 298.6v0.6M426.3 290.7v1.1M476.7 306.3v1.5M502.2 294.0v1.5M479.5 299.9v0.6M455.7 294.5v0.7M503.2 262.4v1.0M392.2 313.9v0.9M443.2 271.9v0.7M441.7 318.9v1.3M424.5 313.6v1.2M405.9 285.2v1.6M466.2 307.8v1.3M433.7 293.4v0.4M485.7 271.5v1.1M460.0 309.4v1.0M399.2 298.7v0.8M480.8 270.1v1.1M437.1 296.6v1.5M416.6 271.2v1.3M422.1 261.0v1.4M420.3 272.7v0.5M496.1 264.0v1.3M471.1 287.2v0.6M489.2 308.2v1.0M510.0 295.9v1.4M465.1 272.4v1.1M498.2 317.3v0.6M475.1 291.8v1.2M436.6 312.3v0.9M476.0 282.1v0.9M459.9 316.1v0.9M395.3 277.0v0.7M509.8 285.7v0.7M432.8 261.1v1.1M467.0 270.6v0.6M467.3 263.0v0.4M482.9 264.3v1.4M423.9 293.4v1.0M503.6 295.4v0.6M483.9 273.6v1.6M421.6 281.3v0.9M467.7 280.4v0.6M422.0 309.1v0.8M488.1 272.6v0.6M473.2 272.2v1.5M491.7 293.7v0.9M397.1 290.0v1.3M414.6 307.0v0.7M390.5 318.1v1.4M487.2 313.1v1.5M440.1 290.6v1.1M435.7 285.5v0.5M397.0 316.6v1.1M479.0 306.0v0.9M418.6 308.5v1.1M481.8 271.5v0.5M431.0 290.1v1.4M405.0 266.9v1.0M394.2 304.4v1.3M451.9 269.0v0.7M470.3 287.5v1.1M397.2 264.1v1.2M446.6 319.0v1.2M389.3 294.3v0.7M444.4 300.8v0.5M510.9 297.6v1.0M442.7 305.8v1.0M407.2 280.4v1.6M509.7 297.0v1.5M429.4 281.3v0.8M499.7 315.5v1.2M390.0 276.3v1.0M473.9 316.2v1.4M457.3 291.3v1.3M396.2 278.9v0.7M466.5 290.0v0.9M496.8 316.0v1.5M442.5 276.4v0.7M463.3 290.4v1.1M444.9 291.1v0.5M447.6 300.2v1.5M420.2 297.6v1.1M440.5 302.0v1.5M398.6 301.1v0.5M386.2 308.6v0.4M413.1 299.7v1.1M483.5 297.3v0.7M395.9 266.7v0.8M421.7 319.0v0.9M480.2 319.2v1.0M473.6 286.4v0.9M456.2 263.7v1.1M439.3 273.4v0.9M475.6 309.0v1.5M439.0 274.3v1.3M498.2 312.7v0.9M406.5 317.8v0.6M392.3 306.8v0.5M483.3 310.1v0.9M487.3 299.3v0.9M385.8 290.8v1.0M498.0 281.7v0.9M459.8 280.4v1.2M389.1 307.8v1.3M396.9 271.8v0.9M478.3 273.1v0.8M478.4 297.8v1.2M404.4 318.9v0.5M425.1 268.2v1.4M451.7 267.8v0.5M456.3 309.4v0.9M496.5 294.8v1.0M509.0 300.2v0.8M511.3 297.5v0.9M400.5 265.7v0.5M496.9 319.2v1.0M475.3 302.9v0.7M433.4 312.9v0.6M390.7 296.7v0.9M429.6 290.9v0.9M474.0 303.4v0.8M489.8 269.3v1.2M445.6 317.6v0.5M430.7 304.3v1.4M459.5 273.4v1.2M509.5 298.3v0.5M411.4 284.2v0.5M431.6 291.6v1.5M478.5 262.9v1.5M445.9 293.8v1.1M494.5 265.0v0.4M392.3 279.7v1.6M384.5 294.4v1.4M480.6 312.3v0.8M485.0 310.5v1.3M507.0 319.0v0.7M400.5 316.8v0.6M452.0 284.2v0.7M397.3 318.8v0.5M420.5 283.8v0.4M422.6 291.0v0.4M457.0 277.8v1.2M385.9 262.7v1.5M418.1 304.1v1.0M436.5 261.7v0.9M482.9 272.6v0.5M397.1 287.1v0.5M503.4 286.6v1.4M414.2 291.0v1.6M388.7 296.8v0.5M448.3 280.4v1.6M492.4 308.7v1.0M410.1 295.4v1.4M503.3 297.4v1.3M385.8 291.7v0.9M487.4 316.4v1.0M388.3 311.8v0.9M498.5 299.8v0.5M422.0 272.7v0.6M385.4 263.5v0.5M506.3 294.9v0.6M499.4 267.4v0.5M426.2 271.4v1.3M400.7 275.5v1.4M488.0 271.2v0.4M461.5 301.6v1.2M433.5 281.8v1.5M502.4 316.0v0.7M398.7 282.3v1.6M443.9 314.0v1.4M450.9 296.5v1.5M462.7 303.4v1.4M495.4 296.6v0.5M429.5 303.3v0.8M441.0 294.3v1.2M407.6 283.5v1.1M399.3 280.0v0.5M462.3 290.6v0.7M430.8 281.9v1.2M440.7 278.7v1.2M439.9 268.3v1.2M437.2 277.3v1.2M488.8 270.8v0.7M466.3 263.2v0.8M445.8 310.6v0.4M425.2 306.5v1.6M503.2 273.1v1.2M495.4 267.8v0.7M469.9 267.6v0.9M463.2 283.1v1.1M405.4 283.8v1.1M384.9 295.2v1.5M461.9 270.6v1.5M484.1 292.4v0.9M449.1 316.3v0.6M466.9 295.0v1.6M489.6 318.2v1.1M423.7 318.6v0.9M451.8 302.9v1.5M486.4 277.7v1.5M500.6 286.2v1.5M490.4 294.1v0.5M464.2 272.7v1.3M407.7 280.7v1.0M392.2 271.1v1.4M436.4 273.6v1.5M464.7 319.0v1.2M493.9 301.6v1.1M395.9 287.8v0.8M455.0 272.4v1.6M415.3 300.8v0.6M500.7 300.6v0.8M499.0 300.9v0.7M483.0 280.3v0.7M428.9 300.7v0.9M386.8 279.7v1.2M497.0 261.1v1.1M392.5 275.9v0.7M399.7 277.8v1.4M418.1 284.8v1.0M477.9 317.4v1.3M421.1 309.9v1.0M486.9 279.4v1.1M462.7 280.5v0.6M510.8 285.0v0.9M473.3 275.5v0.7M431.6 275.2v1.4M424.9 300.1v0.9M455.5 298.7v1.3M392.6 294.9v1.2M425.8 274.3v0.9M498.2 293.4v0.7M492.4 319.6v0.4M454.2 278.7v0.5M408.9 263.2v0.5M427.5 318.1v0.9M485.3 269.1v0.5M425.3 309.6v1.0M510.8 277.7v0.5M411.0 283.3v1.4M495.7 264.5v0.7M485.7 263.4v1.4M393.1 291.7v0.5M425.2 277.8v1.4M394.3 274.8v1.0M394.8 261.1v1.3M394.3 298.2v1.5M485.6 300.9v1.3M440.9 318.7v1.0M484.1 312.2v1.0M477.6 303.2v1.1M453.0 263.0v0.4M485.3 261.2v1.1M462.0 277.7v1.4M457.8 261.4v0.5M399.9 279.6v0.6M495.5 293.5v0.7M511.4 276.0v0.8M439.6 284.7v1.0M438.1 267.2v0.5M404.4 264.0v0.9M446.9 311.3v0.4M474.3 303.7v1.5M508.7 279.7v0.6M506.0 306.2v1.1M448.3 303.9v1.2M499.6 266.4v1.0M417.0 300.4v0.5M470.6 309.7v0.7M498.3 303.5v0.7M450.1 301.2v0.9M500.4 320.1v0.1M481.7 300.7v1.0M414.0 289.1v1.5M491.3 292.1v1.4M409.7 300.3v1.2M433.4 292.0v1.1M457.4 300.8v1.6M408.7 306.4v0.7M481.5 267.7v1.4M396.1 317.2v1.2M447.2 308.7v0.5M403.9 265.8v0.5M433.8 283.5v1.5M392.5 270.5v0.5M465.9 282.3v0.7M494.3 299.5v0.6M404.2 307.7v1.5M497.2 294.1v1.0M397.1 285.2v0.7M433.3 297.4v0.8M503.4 310.7v0.5M463.0 266.4v0.9M510.5 302.0v0.9M418.9 287.8v0.8M505.6 314.0v1.2M426.5 280.7v0.4M440.9 265.3v0.5M446.5 262.2v1.3M471.2 288.1v0.5M509.3 285.6v1.1M420.8 318.1v0.8M456.3 284.4v1.0M488.3 276.8v1.0M461.1 286.7v1.3M403.6 262.9v1.1M394.1 264.3v1.4M439.4 271.0v0.9M408.6 305.4v1.3M493.4 261.4v1.0M430.7 318.0v1.1M492.6 262.7v1.4M478.9 318.8v1.0M480.0 273.7v0.5M391.3 268.1v0.6M453.8 303.1v0.5M407.1 301.3v1.5M460.6 298.0v1.2M457.2 311.1v0.4M452.6 294.3v1.5M503.3 281.9v0.4M434.6 304.6v1.5M396.2 305.3v0.7M432.6 276.0v1.2M445.1 309.6v1.4M392.4 273.0v1.2M386.4 271.9v1.5M489.7 275.1v1.2M426.9 318.2v1.4M397.8 291.4v0.6M435.6 320.1v0.1M436.0 293.9v0.8M392.8 282.2v1.1M490.9 294.9v1.4M402.3 318.9v0.7M490.5 269.6v1.3M500.2 305.9v1.3M440.6 273.2v0.9M487.4 311.9v1.0M419.4 295.5v0.4M473.9 298.6v0.5M499.9 309.3v0.6M482.6 303.4v0.6M511.0 287.3v1.3M415.0 297.6v1.4M503.9 317.0v1.2M479.1 295.8v0.8M470.4 294.0v0.5M464.4 280.6v1.1M475.7 296.7v1.2M471.0 262.1v0.6M510.5 278.3v1.2M495.5 288.1v0.6M401.6 267.2v0.6M420.3 293.5v1.2M442.5 287.8v0.8M462.7 264.1v1.4M507.1 298.5v0.7M415.6 315.8v0.5M439.0 297.9v0.7M440.0 262.9v1.1M412.8 273.0v0.6M430.6 289.9v0.5M394.1 261.6v0.5M431.4 261.6v0.5M503.1 299.5v0.6M435.2 261.7v1.4M485.9 261.2v1.3M408.8 314.5v1.1M441.4 281.7v1.4M435.8 279.1v1.3M426.2 299.8v1.0M501.2 285.6v1.3M466.0 266.4v0.9M451.4 273.0v1.4M414.2 263.7v1.5M498.1 283.6v1.3M423.0 263.4v0.7M426.6 267.8v0.7M410.5 275.2v0.5M420.6 300.3v1.0M433.4 263.2v0.5M393.6 290.7v1.0M456.6 277.3v1.1M497.2 295.8v1.4M421.3 273.4v1.5M489.3 290.9v0.7M464.6 262.7v1.2M413.0 307.7v1.6M387.8 303.1v0.7M487.2 318.7v1.0M470.3 283.2v1.5M446.9 304.1v0.7M478.2 265.3v1.0M405.2 303.3v0.5M511.4 282.7v0.7M392.6 278.0v1.1M494.5 307.9v0.6M466.4 305.2v1.0M444.2 294.3v1.0M510.8 300.3v1.4M439.4 289.7v0.4M398.2 274.1v0.7M441.3 276.8v1.4M386.1 277.3v1.2M503.2 287.9v0.5M422.7 319.3v0.9M497.5 319.3v0.8M429.7 283.3v0.5M389.1 314.4v1.4M440.5 313.6v0.5M507.7 272.6v1.5M508.5 267.9v0.5M466.0 288.1v0.4M459.1 282.2v1.5M403.3 307.5v1.4M420.3 305.5v0.8M434.2 314.1v1.4M511.0 298.5v1.5M429.5 262.2v0.6M505.9 291.1v0.4M404.4 286.0v1.6M387.6 284.4v0.6M427.0 270.8v1.6M506.1 261.4v1.5M498.9 287.4v0.9M490.9 290.7v1.3M475.4 307.0v1.3M461.7 263.4v1.6M480.8 298.1v1.0M509.7 261.3v0.9M483.5 310.9v1.5M474.8 288.2v0.4M429.9 294.3v0.8M485.5 281.8v0.5M445.1 271.7v1.1M456.3 270.5v1.2M487.9 297.3v0.8M386.7 300.2v0.7M416.4 288.9v1.2M502.7 290.3v1.2M487.0 311.9v1.2M477.5 309.6v1.3M472.4 305.3v1.5M486.1 300.5v1.4M390.3 288.7v1.3M410.0 271.9v1.0M467.4 273.0v1.3M495.1 297.8v1.5M466.4 317.2v0.9M490.3 296.5v1.0M489.8 302.9v1.1M440.1 263.7v1.3M494.6 282.8v1.5M452.6 298.7v0.4M434.1 319.1v0.7M444.9 297.7v0.4M404.0 301.1v0.4M403.3 292.5v1.3M508.4 262.8v1.5M432.1 293.2v0.9M509.1 267.3v1.0M491.2 309.6v1.0M479.2 318.1v1.2M497.7 302.7v0.8M396.0 269.9v1.4M502.7 315.1v1.0M510.2 273.6v0.6M456.5 283.5v0.7M393.7 271.5v0.5M453.2 268.5v1.0M440.6 305.4v0.4M406.9 282.4v0.8M442.1 312.5v1.1M392.5 273.6v0.6M417.3 296.4v1.1M468.9 262.1v0.8M428.1 300.0v1.1M389.5 283.5v1.2M487.6 311.4v1.1M457.3 301.9v0.9M428.8 305.1v1.0M385.5 267.7v0.6M415.1 315.9v1.6M385.1 283.0v1.4M469.3 289.8v0.7M438.2 277.5v1.3M462.5 263.4v1.1M448.1 275.7v1.1M511.6 314.8v1.2M470.8 282.9v1.2M458.5 274.2v1.0M409.2 274.5v1.3M504.3 286.3v0.8M485.3 304.5v1.4M500.0 290.9v1.6M494.7 271.3v0.9M507.6 319.4v0.8M414.7 303.4v1.1M504.2 263.9v0.8M400.6 289.0v1.4M447.0 287.7v1.1M461.8 297.2v1.5M484.5 285.3v1.2M418.5 308.6v1.6M495.9 303.5v1.1M468.7 316.8v1.2M497.5 301.3v0.7M418.8 274.8v1.4M470.7 319.2v1.0M499.8 265.3v0.7M480.2 267.8v0.5M461.6 318.6v1.5M447.0 310.7v1.6M419.7 311.3v0.7M458.2 287.4v1.4M493.8 299.1v0.6M441.4 304.1v0.6M483.3 316.2v1.5M403.5 266.1v0.8M439.1 315.4v0.8M419.3 319.8v0.4M485.1 301.9v0.5M416.7 308.2v0.8M472.5 264.5v0.9M499.2 286.2v0.8M424.4 270.3v0.6M387.8 289.8v0.9M440.6 288.4v1.3M467.4 276.5v1.5M399.3 285.7v0.4M409.1 268.0v1.0M439.1 318.4v0.9M450.5 272.9v1.0M456.5 300.3v0.9M388.5 318.3v1.5M469.4 293.1v0.7M426.0 303.6v1.0M498.3 264.4v1.3" stroke="#d87878" stroke-width="0.45" fill="none" opacity="0.5"/>
<path d="M489.4 294.9v0.8M443.4 280.2v1.6M442.2 281.5v0.5M504.1 280.5v1.2M490.5 314.8v0.7M482.4 318.4v1.1M409.9 275.5v1.5M460.1 287.3v0.9M488.8 310.9v0.5M439.6 275.3v1.5M421.9 266.1v0.5M486.4 269.1v0.6M478.4 299.3v1.4M405.4 285.8v1.0M487.6 305.3v1.4M448.2 262.1v0.7M483.8 276.9v0.7M487.3 288.0v0.9M462.4 269.4v0.9M503.4 315.7v1.1M485.4 269.5v0.7M385.6 313.5v1.1M392.3 304.0v0.6M425.6 262.1v0.7M463.0 286.1v1.0M431.1 312.0v0.5M401.1 291.6v1.3M447.5 300.9v0.6M483.7 319.5v0.7M409.3 290.4v1.5M505.6 274.4v1.0M423.0 296.1v1.2M419.6 262.2v0.9M496.3 319.4v0.8M455.3 281.8v1.2M410.0 301.5v0.4M471.8 267.7v0.9M406.1 313.3v0.6M394.5 267.2v1.4M455.9 301.0v1.3M404.8 277.1v1.0M432.6 309.6v1.1M453.8 277.0v1.5M406.8 285.9v0.9M443.8 289.6v0.6M388.9 319.8v0.4M427.6 299.5v1.2M451.3 312.2v0.7M435.0 285.8v1.0M411.2 270.9v1.4M441.3 293.6v0.7M398.7 286.3v0.6M461.0 283.2v1.5M397.3 273.0v1.3M440.2 283.1v1.1M497.7 265.9v0.6M472.0 261.7v0.5M465.3 289.2v0.9M389.1 291.9v1.4M497.3 293.7v0.6M505.1 310.1v1.4M479.5 280.3v1.4M446.8 293.9v1.5M455.0 275.5v0.5M408.2 291.3v1.2M409.4 273.0v0.8M509.1 318.1v0.7M444.8 301.8v0.9M461.3 263.1v1.1M498.3 276.8v0.5M437.6 280.0v0.7M453.5 281.9v1.4M501.5 298.7v1.0M486.6 283.8v0.8M429.7 268.2v1.0M407.2 316.4v1.3M401.3 265.7v1.5M479.9 295.9v1.6M391.8 264.4v0.6M468.4 300.8v1.5M408.9 314.6v0.7M414.4 279.8v0.8M387.2 261.9v0.5M437.4 308.0v1.3M466.9 270.2v0.7M412.3 311.4v0.8M401.4 275.3v1.0M393.7 267.1v1.1M502.8 313.4v1.0M508.6 316.2v1.1M464.1 269.5v1.1M399.2 268.8v1.6M505.6 301.2v0.7M402.0 293.7v1.6M403.5 261.3v1.5M479.2 270.6v0.9M415.4 319.9v0.3M468.5 262.8v0.5M406.0 278.2v0.5M457.3 265.9v0.9M469.4 295.5v0.8M476.4 295.3v0.7M485.7 299.1v0.9M450.2 274.9v1.6M388.5 314.8v1.0M427.8 319.4v0.5M486.7 277.9v0.7M460.3 289.7v0.5M413.7 286.4v1.4M418.4 276.4v0.9M440.4 295.8v0.7M389.2 319.4v0.4M393.6 269.4v0.7M496.5 261.3v0.8M439.5 270.3v1.4M420.7 276.1v0.4M482.8 289.4v1.1M426.6 278.7v0.7M428.1 297.2v0.5M507.8 294.9v0.8M412.5 308.7v1.3M509.5 287.7v0.6M504.2 278.5v1.6M468.4 266.6v0.9M479.0 265.4v1.2M399.3 261.7v0.5M471.2 277.6v1.3M460.8 275.0v1.5M477.8 263.4v1.4M498.9 270.7v1.0M482.7 308.2v1.0M471.4 288.9v0.7M396.1 315.4v1.0M456.5 307.0v1.2M428.0 272.0v1.4M451.6 284.3v1.2M500.9 274.8v0.8M450.7 308.6v0.9M503.7 310.9v1.2M493.4 291.2v0.5M454.0 305.2v1.0M505.5 275.9v1.4M465.8 303.7v1.4M386.4 284.4v1.2M468.2 283.6v1.0M449.5 272.0v0.6M424.5 314.7v1.0M442.0 315.4v1.2M464.1 270.5v1.5M388.2 282.5v0.9M483.6 319.0v0.6M473.3 300.3v0.8M390.6 274.5v0.8M446.9 267.7v1.1M426.0 303.6v1.1M438.2 271.7v0.9M437.9 305.2v0.5M425.2 277.2v0.5M492.9 296.4v1.1M458.9 306.0v1.4M476.6 307.4v0.7M422.5 295.2v1.3M441.1 318.3v0.7M392.4 316.8v0.5M405.6 296.7v1.1M473.0 285.0v1.2M503.0 276.2v0.6M485.9 275.7v1.1M502.9 306.0v1.2M410.4 264.2v0.5M445.6 279.8v0.7M445.6 291.5v1.1M449.6 287.4v0.7M416.2 269.4v1.3M505.2 300.1v0.9M472.4 281.7v1.4M451.8 300.3v1.4M387.0 285.6v1.5M389.5 281.1v1.4M490.2 279.4v1.3M492.0 289.6v0.5M412.7 309.2v0.4M500.7 277.1v1.4M430.8 291.5v0.8M456.8 300.2v1.2M472.0 290.5v0.5M491.5 315.7v0.7M488.1 281.0v0.8M503.5 279.2v1.0M400.9 267.8v0.6M436.9 262.8v0.6M501.9 279.7v1.2M441.8 268.7v1.0M396.3 313.5v0.7M393.0 303.8v1.3M474.9 266.5v1.0M508.5 277.1v1.1M406.9 271.9v1.3M412.2 313.2v0.5M454.3 277.0v1.3M477.6 298.3v0.5M392.4 290.8v0.6M400.8 267.6v0.4M501.3 277.0v1.2M411.6 292.7v0.5M412.9 269.8v0.9M433.6 291.0v1.6M390.9 300.7v1.4M409.2 319.6v0.6M453.9 279.4v0.4M482.8 271.8v1.4M508.9 264.2v1.4M388.8 294.8v1.0M484.5 282.1v1.4M489.0 319.8v0.4M450.4 301.8v0.8M408.2 306.6v1.1M400.1 261.0v1.5M464.6 283.0v1.4M471.9 281.6v1.2M461.5 264.3v0.7M486.8 270.8v1.1M495.9 269.0v1.0M493.5 309.6v0.4M404.4 279.9v0.4M385.4 279.2v0.7M400.1 298.3v0.6M509.3 281.1v0.5M507.3 303.2v0.7M483.3 305.5v1.3M472.9 267.2v1.5M454.7 270.1v0.5M494.3 301.5v0.8M460.3 263.6v1.0M414.7 301.7v1.5M441.6 262.2v0.7M504.4 265.9v1.2M499.9 282.3v1.5M397.7 266.9v0.8M492.4 316.5v0.8M493.9 283.0v0.4M385.5 318.6v0.8M386.4 301.7v1.0M430.8 319.8v0.4M468.4 267.1v0.5M393.0 272.3v1.6M480.0 287.2v0.5M420.3 297.6v1.5M487.5 269.9v0.9M419.1 286.2v0.5M452.9 271.3v0.6M436.4 276.0v0.8M501.2 290.3v1.3M444.2 281.1v0.5M511.3 302.9v1.1M412.2 278.6v1.3M472.2 269.7v0.7M396.4 277.5v1.2M473.6 299.9v1.1M398.9 308.2v0.9M501.5 268.5v1.3M411.1 295.4v1.5M452.2 271.6v1.0M393.1 271.4v1.6M388.6 291.3v0.7M491.5 273.4v1.2M432.7 283.3v1.4M430.4 300.4v1.5M459.8 307.7v1.6M420.0 267.5v0.4M509.1 283.8v1.0M395.9 297.1v0.7M414.7 307.1v0.6M464.7 264.3v1.5M413.9 278.7v1.4M456.1 292.9v0.5M504.9 276.4v1.3M486.3 304.0v0.9M483.5 271.4v1.6M403.2 270.2v1.1M445.2 316.0v0.6M388.5 316.8v1.1M423.7 267.6v1.1M389.9 303.9v1.5M409.6 278.3v1.1M498.1 283.9v1.4M391.0 307.9v1.0M412.8 294.0v1.3M385.4 306.4v0.5M384.5 276.7v1.0M462.6 294.0v0.7M497.6 305.4v1.6M453.2 266.6v1.0M404.6 273.5v0.5M500.3 307.9v1.1M452.2 288.8v1.5M486.1 284.0v1.1M442.7 312.2v1.6M497.3 312.5v0.5M438.9 317.5v1.0M498.7 288.9v1.6M475.8 315.9v1.0M420.1 303.2v1.3M451.1 317.9v0.9M409.0 270.2v1.3M387.2 299.5v1.3M506.3 287.8v1.1M422.9 265.4v0.9M489.2 282.9v1.1M455.4 302.5v0.8M425.7 263.1v1.5M430.9 274.0v1.3M485.2 288.3v0.4M440.7 296.5v1.0M400.6 293.2v0.6M491.6 316.7v0.5M407.3 300.4v0.8M446.6 311.6v0.8M497.3 265.9v1.0M461.0 285.5v1.4M410.6 273.5v0.9M440.7 319.3v0.8M414.0 281.3v1.4M404.4 268.9v1.4M486.2 311.0v1.0M510.1 267.5v1.5M486.1 311.6v1.5M502.3 265.7v1.4M469.3 303.4v0.5M463.1 310.0v0.9M398.9 267.4v1.4M406.2 317.6v1.4M437.6 269.3v0.5M448.2 282.6v1.0M435.5 284.1v1.0M397.7 281.5v1.2M451.6 279.2v0.6M400.2 290.4v0.8M466.7 288.5v0.8M486.0 270.1v1.5M456.0 280.7v1.4M393.1 280.3v1.4M394.1 319.4v0.5M403.0 283.4v0.5M461.8 268.4v1.5M421.2 281.3v0.9M479.1 274.9v0.9M447.2 285.1v0.5M495.4 304.7v1.1M403.4 264.8v1.6M432.9 281.3v0.4M471.1 312.0v0.5M430.9 281.3v1.0M510.5 263.2v0.7M455.6 288.0v1.0M426.7 317.7v1.1M488.5 268.8v1.2M449.7 313.2v1.2M442.8 286.6v0.8M482.3 291.7v1.0M401.0 296.0v1.3M493.9 265.3v1.4M449.7 284.6v1.6M436.9 264.4v1.5M470.4 261.2v0.5M421.4 267.9v0.4M449.6 284.5v0.9M482.1 283.7v1.1M391.3 271.9v0.5M469.4 313.7v1.6M450.7 289.9v0.9M386.8 297.0v0.8M473.1 289.8v1.2M482.3 290.5v0.7M391.6 279.6v0.6M387.9 274.3v0.8M486.9 287.2v1.3M510.8 308.2v0.4M403.1 303.4v0.7M499.6 274.8v1.5M502.5 269.8v1.4M398.5 283.4v1.5M436.7 311.5v0.8M510.4 262.8v1.6M499.1 294.8v1.2M415.0 281.7v1.2M403.5 281.6v1.3M511.1 292.5v0.8M464.4 289.6v1.2M471.5 281.2v1.5M442.0 282.3v0.8M408.4 292.5v0.9M406.1 313.2v0.9M432.8 267.3v0.6M406.1 273.0v1.4M460.6 319.0v1.2M425.2 314.0v1.1M494.8 261.1v0.8M421.9 277.0v1.2M428.4 261.1v0.8M434.7 280.0v0.8M414.9 316.1v0.6M400.3 291.4v1.4M441.5 279.2v0.7M458.7 308.9v0.6M390.0 291.2v0.6M476.0 304.7v0.4M505.1 288.2v1.2M501.7 313.8v0.8M473.4 283.3v1.4M419.1 273.0v0.8M468.1 308.0v0.9M498.3 282.3v0.9M473.8 289.8v0.8M488.3 283.5v1.4M384.5 295.1v0.8M398.4 285.6v0.6M477.3 283.8v0.8M422.1 294.6v0.8M450.0 299.2v1.2M471.9 319.6v0.6M507.2 288.8v0.7M458.8 290.2v0.6M407.0 275.6v0.4M503.1 263.3v1.3M418.6 290.3v1.1M425.6 319.1v0.7M402.4 310.9v0.4M493.5 276.6v1.0M427.1 280.5v1.4M471.1 306.0v1.0M457.4 309.9v0.9M480.9 295.4v0.8M503.5 304.5v1.3M434.7 293.2v0.6M488.5 278.2v0.8M420.7 263.5v1.1M427.7 268.5v1.4M444.9 278.9v0.5M444.5 283.5v1.4M488.6 272.3v0.5M503.6 290.0v1.3M501.5 302.7v1.1M384.9 278.7v0.6M402.4 262.8v1.0M463.5 311.8v0.4M480.4 296.2v1.4M479.6 277.5v0.8M391.3 294.8v1.1M429.1 311.5v0.4M499.0 289.5v0.7M510.5 262.5v0.7M397.9 265.0v1.4M389.0 292.8v1.0M414.2 299.1v0.9M460.5 310.7v0.8M411.3 284.2v1.4M508.1 272.9v1.5M404.5 265.5v1.1M412.9 290.5v0.6M487.9 307.8v1.6M489.9 281.3v0.6M439.2 304.6v1.4M503.4 314.9v0.8M498.2 277.7v1.5M449.4 273.9v1.6M413.6 269.9v1.1M466.4 296.9v1.6M452.8 287.4v1.3M459.9 273.3v1.0M436.4 285.1v1.5M458.7 266.9v0.7M430.5 279.2v1.4M444.8 312.9v0.9M421.7 262.6v1.2M455.3 304.2v1.4M449.5 299.8v1.2M480.8 290.4v0.4M446.1 295.2v1.3M451.4 281.9v0.8M435.3 270.0v0.7M461.1 267.8v0.6M484.4 306.1v1.3M436.7 275.5v0.7M486.2 295.2v1.3M429.3 285.9v0.9M446.6 288.6v0.7M452.5 268.6v1.4M391.6 286.0v0.5M458.0 302.1v1.1M485.9 265.1v1.5M387.7 273.3v1.4M489.5 311.0v0.7M398.8 302.7v1.5M426.1 288.8v0.4M451.2 303.7v1.2M391.5 301.8v1.1M421.7 314.7v0.5M389.3 283.1v1.1M483.9 282.7v1.4M458.9 301.8v1.1M507.9 290.4v0.9M433.5 288.6v1.1M417.5 303.3v1.0M424.6 274.5v1.5M438.2 318.1v0.8M447.1 307.3v1.2M428.2 318.2v0.5M429.4 273.8v1.5M411.7 290.3v0.7M498.9 312.8v1.3M416.2 304.1v0.6M458.4 317.4v0.7M438.7 304.0v0.5M443.8 313.4v1.0M486.1 278.7v1.2M425.1 295.5v0.8M451.5 270.5v0.7M469.4 271.4v1.2M488.7 267.6v1.0M489.5 302.9v1.6M401.4 312.3v1.0M495.9 273.6v0.5M469.0 264.5v0.7M406.5 264.7v1.1M469.3 311.7v1.6M460.1 291.3v1.1M509.8 301.9v1.2M434.7 285.6v1.5M482.3 313.5v1.1M461.8 275.0v0.7M396.7 261.0v0.8M403.0 300.1v0.6M459.9 282.7v1.1M408.0 302.0v0.9M487.6 266.5v1.5M391.5 301.1v1.5M454.7 271.4v1.2M425.1 291.6v1.5M423.9 318.5v1.4M395.2 293.0v0.6M438.2 279.7v0.6M414.3 301.0v1.0M492.9 299.2v0.7M402.9 308.8v0.7M451.2 280.7v1.3M461.4 313.3v0.6M484.3 285.7v0.7M424.2 282.2v0.7M470.3 293.2v1.1M406.7 319.4v0.8M409.0 298.7v0.7M487.7 278.6v1.3M391.7 293.3v1.1M405.5 275.9v1.0M436.2 273.1v1.6M491.7 307.3v1.4M447.7 296.0v1.2M483.3 283.7v1.3M487.5 307.3v0.8M448.1 283.4v1.0M510.3 291.3v1.3M405.5 291.2v0.9M415.9 261.7v0.4M414.1 312.8v0.7M494.9 263.0v1.2M459.3 286.8v0.9M501.8 297.6v1.3M509.5 293.8v0.9M439.6 318.3v1.5M467.5 281.3v0.4M504.6 265.3v0.5M478.8 314.9v1.5M462.3 268.3v1.0M450.4 296.4v0.8M483.3 292.3v1.1M501.0 298.4v0.6M504.3 305.7v0.5M484.5 269.6v0.5M466.9 310.7v0.8M501.9 278.3v1.1M451.2 282.1v1.5M422.0 271.1v1.0M493.2 261.8v1.0M437.4 277.2v0.7M480.6 315.8v1.3M505.5 303.6v1.3M421.9 278.0v1.3M446.8 305.9v1.0M446.5 304.0v1.3M442.3 276.6v1.4M455.5 316.3v0.8M397.8 265.7v1.1M394.3 268.8v0.8M486.6 284.6v0.5M504.4 305.9v1.5M454.0 273.3v0.4M457.8 302.1v0.5M419.3 297.7v0.8M385.3 261.4v1.0M493.3 293.9v1.0M419.7 299.5v0.9M394.2 304.8v0.8M395.2 307.0v1.5M473.1 297.9v1.0M485.7 275.7v0.6M431.7 288.8v0.6M499.7 280.9v1.3M477.8 306.2v0.8M489.8 291.0v1.5M460.4 268.2v0.9M489.6 317.6v1.3M401.3 312.8v1.0M504.2 320.0v0.2M489.5 265.2v1.3M424.9 291.3v1.1M400.3 262.6v0.8M469.2 298.4v1.3M491.9 298.1v0.7M450.6 280.4v0.6" stroke="#7878cc" stroke-width="0.45" fill="none" opacity="0.5"/>
<path d="M392.0 319.8v0.4M391.3 262.4v1.4M393.4 279.1v1.5M392.9 296.6v0.5M392.3 319.7v0.5M391.8 309.8v0.5M390.7 301.9v1.3M392.8 308.7v0.7M392.4 274.3v1.2M391.0 301.7v1.5M392.8 288.8v1.2M392.8 291.1v0.4M391.2 263.9v1.1M392.2 308.6v0.8M390.8 267.5v1.0M392.5 265.3v0.6M392.8 296.3v0.4M391.8 268.6v1.4M391.2 262.0v0.6M392.6 313.8v0.5M391.6 295.8v0.4M391.4 296.5v0.6M392.0 286.3v0.9M392.2 277.3v1.0M391.5 315.7v1.3M392.1 293.4v1.0M391.6 272.6v1.4M392.1 279.4v1.0M392.0 284.7v1.3M392.1 274.8v0.5M392.8 265.4v0.4M390.3 319.2v1.0M393.4 282.8v1.2M392.2 270.6v0.8M392.9 268.4v0.4M391.7 262.1v1.6M391.8 310.9v0.9M390.6 311.3v0.5M392.2 292.0v1.0M392.1 261.1v1.6M391.2 272.3v1.5M392.4 292.6v1.6M391.3 282.9v0.5M390.8 299.1v0.8M389.8 301.0v0.6M393.8 275.6v0.8M392.0 277.9v0.5M391.9 311.7v1.5M391.0 290.6v0.5M391.9 307.5v0.9M393.5 314.0v0.5M389.7 301.2v1.0M391.8 285.7v1.0M391.2 301.2v1.1M391.6 296.0v1.4M389.1 273.7v1.5M392.6 302.8v1.2M394.7 277.8v1.5M392.1 270.9v0.8M392.4 264.0v1.0M391.4 307.1v1.5M392.9 295.6v1.1M392.4 306.4v1.3M393.0 305.2v1.3M392.2 310.9v1.6M391.7 311.1v1.4M393.2 298.1v1.3M393.6 293.3v1.1M391.1 269.2v0.6M391.5 320.0v0.2M391.0 288.3v1.4M391.9 278.3v1.5M392.2 266.4v0.6M389.9 296.7v0.5M390.6 273.1v0.7M392.3 315.1v1.0M392.9 311.4v1.1M392.9 290.7v1.5M392.6 285.3v0.6M391.1 284.9v1.2M391.7 278.5v1.5M391.9 266.3v0.8M392.9 278.6v0.7M391.0 278.9v1.5M391.3 313.5v1.3M391.5 316.4v0.6M392.3 271.1v1.0M393.4 306.8v0.8M392.5 272.4v1.0M391.2 304.8v0.5" stroke="#2a2ea8" stroke-width="0.5" fill="none" opacity="0.65"/>
<path d="M390.0 282.8v1.1M388.9 272.2v1.6M389.5 282.6v1.5M389.1 291.9v0.9M388.9 299.3v0.8M389.0 304.4v1.3M388.6 311.9v1.2M390.3 309.8v1.1M389.4 291.0v0.7M389.5 319.3v0.5M389.3 276.4v0.5M388.6 261.6v1.1M388.7 272.4v1.2M389.3 303.1v1.1M388.7 264.0v0.8M389.0 314.7v0.8M389.6 296.2v0.8M389.1 293.6v0.9M389.6 279.1v0.7M389.9 294.3v1.5M390.1 289.6v1.1M389.5 292.5v1.0M390.0 299.3v1.4M389.1 263.1v0.5M388.9 266.2v1.4M389.0 319.5v0.7M390.2 309.7v0.6M389.4 275.5v1.1M389.2 277.9v0.7M389.1 280.2v1.3" stroke="#c8181c" stroke-width="0.5" fill="none" opacity="0.7"/>
<path d="M401.1 293.0v1.3M402.7 290.9v1.2M401.2 265.9v0.5M401.2 271.9v0.4M403.3 267.4v1.4M401.1 275.3v0.8M400.8 270.0v1.4M401.5 278.8v1.1M402.0 313.9v0.5M399.8 284.9v0.5M401.4 288.5v0.8M402.3 287.1v0.6M402.0 261.5v1.2M401.5 281.4v1.0M402.1 291.4v1.3M402.4 307.7v0.7M402.0 290.0v0.6M401.3 274.2v0.5M400.6 280.2v0.9M402.7 311.1v1.4M402.9 281.3v1.4M402.0 262.9v1.3M400.8 303.6v1.1M402.0 306.4v0.5M400.5 285.1v1.2M402.0 307.1v0.5M401.5 285.6v0.6M400.8 294.4v1.2M402.6 304.4v0.8M401.5 318.9v1.2M403.1 263.4v1.4M402.4 277.7v1.2M402.0 302.9v0.8M401.0 283.0v0.8M402.5 283.9v1.5M402.3 308.4v0.5M400.8 296.8v0.8M401.9 274.2v0.6M402.3 274.1v0.8M401.6 272.2v1.0M400.9 296.7v1.6M402.3 278.4v0.8M401.3 262.4v0.4M400.9 291.9v1.3M402.2 287.5v0.8M400.9 269.1v1.1M403.4 303.8v1.5M401.2 261.1v1.3M402.0 277.0v0.4M401.9 292.6v1.0M400.9 276.8v1.4M400.7 295.8v1.0M400.2 266.4v0.6M400.0 302.3v1.0M401.3 287.3v0.9M400.1 280.4v0.9M401.9 288.5v1.1M400.4 289.9v1.2M403.4 263.8v0.5M402.4 294.3v1.3M400.7 286.5v0.8M401.9 289.1v1.4M401.6 312.1v1.1M402.1 305.9v0.7M401.4 316.1v0.6M401.5 311.9v1.2M401.5 308.1v0.7M401.1 295.0v1.3M401.7 312.3v1.4M402.9 283.2v1.4M401.8 286.7v1.4M402.1 275.8v0.7M402.0 275.1v1.1M401.2 282.5v1.4M400.9 273.1v1.1M401.6 268.6v0.7M401.1 279.2v1.1M402.3 313.8v1.2M402.1 263.4v1.0M402.9 268.9v1.5M401.3 298.5v0.5M403.2 298.8v0.4M401.2 299.9v0.6M401.1 317.5v1.2M400.9 318.2v0.6M400.7 282.2v0.8M401.3 296.2v1.5M401.9 269.2v0.6M401.7 291.7v0.7M402.2 280.3v1.3M401.2 274.9v1.1M402.8 305.1v0.9M401.4 299.6v0.8M400.3 292.5v0.8M401.9 306.9v0.8M401.7 282.7v0.8M403.0 312.2v1.5M401.8 289.0v0.6M402.4 286.2v0.7M402.1 262.8v1.0M401.1 309.5v0.8M402.2 268.1v1.4M401.9 305.4v0.8M401.3 317.6v0.9M401.2 291.2v0.5M402.6 282.3v1.6M402.0 279.5v0.9M400.5 307.3v0.6M400.5 278.9v1.2M399.6 294.2v1.4M401.0 302.5v1.2M402.4 310.6v0.7M402.7 263.8v0.9M402.2 267.6v1.0M401.1 310.5v0.5M402.0 304.6v1.3M401.0 287.7v1.3M402.0 293.4v1.0M401.6 297.6v1.0M402.1 303.7v0.6" stroke="#2a2ea8" stroke-width="0.5" fill="none" opacity="0.7"/>
<path d="M415.4 301.1v1.1M415.9 294.9v1.5M416.1 302.2v1.5M417.0 283.5v0.5M416.8 266.2v0.8M415.0 296.3v1.2M416.1 292.2v1.5M416.3 269.3v0.9M416.8 312.7v0.8M416.5 309.4v0.8M416.0 282.9v1.2M417.0 302.1v0.4M416.3 293.6v0.5M416.2 296.9v0.5M417.0 287.4v0.5M416.3 261.5v0.6M417.1 273.8v0.5M417.4 309.2v0.9M415.9 302.4v1.5M416.0 294.2v1.0M416.4 313.0v1.0M416.3 267.5v1.5M417.2 269.6v1.2M416.7 287.4v1.1M417.0 278.8v0.6M416.3 300.1v0.6M416.9 273.9v0.5M416.5 311.2v0.7M417.6 287.2v0.7M416.5 289.7v0.5M416.8 306.1v1.2M416.7 270.9v1.5M417.5 263.5v1.3M418.1 298.9v1.0M416.1 288.4v0.6M417.1 306.6v0.9M415.8 309.5v0.6M417.3 286.9v1.5M416.4 294.1v0.5M416.3 295.4v0.4M416.7 280.0v1.1M416.5 279.6v0.5M417.4 287.8v0.7M416.8 318.8v1.4M416.3 263.1v1.4M415.9 289.1v1.0M416.4 275.5v0.7M416.6 307.2v1.4M416.4 305.4v1.0M417.2 295.2v0.9" stroke="#c8181c" stroke-width="0.5" fill="none" opacity="0.6"/>
<rect x="421.80" y="261.00" width="2.60" height="59.20" fill="#9a9cdc" opacity="0.3"/>
<path d="M423.5 276.3v2.1M421.7 317.4v1.2M422.8 262.0v2.1M422.8 285.0v2.3M423.0 316.6v1.7M423.2 277.5v1.8M422.8 267.7v1.4M421.8 303.6v1.3M424.3 271.4v1.7M422.9 261.7v1.7M423.2 300.5v1.4M421.4 300.5v2.4M424.9 316.5v1.4M423.7 276.9v2.0M423.7 302.0v1.3M424.1 311.8v1.4M422.7 266.1v1.8M422.6 282.2v1.6M423.5 300.3v2.3M422.7 264.5v2.0M423.1 309.8v1.2M423.8 318.4v1.8M422.8 266.6v1.9M422.7 289.5v2.2M424.8 317.9v1.0M422.8 294.3v2.3M423.4 264.1v1.2M422.8 289.3v1.6M422.6 313.5v1.0M421.5 319.0v1.0M423.3 298.5v2.0M422.7 287.3v2.4M423.8 291.6v1.6M422.9 273.6v1.4M422.3 290.4v1.7M424.0 293.8v2.2M424.0 272.9v1.3M422.3 297.5v2.4M423.2 272.9v2.0M421.8 283.0v2.3M422.8 298.1v1.2M422.6 295.3v2.4M424.9 293.3v1.3M422.8 282.1v1.5M423.2 280.0v2.2M423.2 261.5v2.1M422.2 294.3v2.3M424.4 289.0v2.2M422.4 262.1v2.2M424.5 311.1v1.3M423.9 287.0v1.6M422.9 263.7v1.0M424.1 302.3v2.2M423.2 295.3v1.1M422.7 290.2v1.6M423.9 293.1v2.3M422.7 289.5v1.2M422.5 283.1v2.2M424.5 293.2v1.4M424.9 318.4v1.0M422.2 266.6v1.0M421.8 311.0v1.1M423.0 315.9v0.8M424.4 283.4v2.1M423.1 315.7v1.3M422.2 266.8v1.8M422.2 307.9v0.9M422.8 278.9v1.1M423.1 285.2v1.8M422.3 314.8v2.0M421.8 298.4v0.9M422.7 270.5v2.0M422.1 265.8v2.0M422.1 311.3v1.2M422.2 267.1v2.3M425.7 279.6v2.3M423.6 293.3v1.2M423.7 274.7v0.9M421.9 294.7v1.1M422.1 268.0v1.6M424.5 317.0v1.7M422.4 313.5v1.7M421.4 282.7v2.3M422.8 303.0v1.5M423.5 267.7v1.7M423.4 316.3v1.8M422.6 279.1v1.6M423.9 273.4v2.0M422.2 309.4v0.9M423.5 272.9v1.7M422.6 317.8v1.8M422.9 320.1v0.1M423.5 265.8v2.2M422.7 316.1v1.1M422.4 287.6v2.4M424.0 298.9v1.9M423.2 283.8v2.2M421.8 262.2v1.0M422.2 269.8v2.2M421.9 262.7v1.1M421.3 297.2v2.3M423.8 293.0v2.4M423.2 280.2v1.6M423.0 312.4v1.5M423.4 313.1v1.2M423.9 304.0v0.8M423.6 270.1v1.0M422.8 318.6v1.0M421.8 295.4v2.2M424.0 266.6v1.6M422.2 313.7v2.1M423.2 287.1v1.7M423.9 267.1v1.8M424.0 312.7v1.1M423.0 264.1v1.3M423.7 299.2v2.2M422.7 280.2v1.2M422.5 291.2v2.3M422.4 270.4v1.8M425.0 311.6v1.2M421.7 261.6v0.9M424.2 270.7v1.2M423.7 292.9v2.2M422.8 309.8v1.7M422.3 263.3v1.6M422.8 286.0v1.5M422.7 304.4v2.3M422.6 285.0v1.7M424.0 285.8v0.8M424.1 267.3v1.5M424.6 293.1v1.8M424.4 306.2v2.2M422.5 281.5v2.2M423.3 303.4v1.8M422.6 307.2v1.4M424.0 305.5v1.0M421.9 276.7v2.3M422.2 277.6v2.3M422.3 315.0v0.9M422.5 265.3v1.1M422.9 312.0v1.7M423.2 310.4v2.0M422.6 281.2v2.2M423.0 297.5v1.9M421.7 273.8v2.4M423.5 320.1v0.1M423.5 303.6v2.1M422.2 310.1v1.3M423.6 287.5v1.0M422.9 261.6v1.6M423.6 280.6v1.1M422.4 262.4v1.8M423.2 269.6v0.8M423.4 278.4v0.8M424.6 261.5v1.5M423.4 291.1v2.1M422.4 264.6v0.9M423.7 270.9v1.3M424.6 307.5v1.3M422.8 316.8v2.3M422.3 307.1v1.8M423.1 304.4v1.5M423.0 319.1v1.1M421.8 296.7v1.3M423.3 270.4v1.2M422.3 288.0v1.1M422.6 287.8v1.6M424.3 276.7v2.3M422.8 300.5v2.0M423.5 267.9v1.6M424.4 287.1v1.2M423.9 295.0v1.3M423.7 308.9v1.8M423.4 300.8v1.9M423.1 317.8v1.4M423.5 292.7v1.5M424.0 305.4v1.1M423.2 294.4v1.9M422.0 272.7v1.8M423.5 304.1v1.4M423.0 299.9v1.1M421.7 291.0v1.8M422.7 314.6v1.3M421.9 306.6v1.0M424.5 261.4v1.1M423.1 303.5v1.3M422.2 303.9v1.0M424.6 292.9v2.0M423.6 283.3v1.3M423.9 271.4v2.3M423.2 264.5v1.3M422.8 288.2v1.9M424.4 270.9v1.0M421.8 302.9v2.1M422.6 291.3v1.9M423.1 307.5v2.0M424.5 271.1v1.4M424.6 271.2v2.4M422.2 268.5v2.2M421.9 288.0v2.0M423.1 304.0v0.9M423.3 294.2v2.3M423.0 292.4v2.1M422.3 304.9v2.2M423.6 282.7v1.5M423.3 307.1v2.4M423.1 268.1v1.0M423.2 296.2v2.2M423.0 312.9v1.5M422.5 263.0v1.4M423.4 303.9v1.0M425.6 314.8v2.2M422.4 270.5v2.2M421.9 304.3v2.0M423.9 305.9v1.8M423.1 265.7v1.1M422.6 279.0v2.2M423.0 311.5v1.7M422.9 287.1v1.3M422.4 291.0v1.3M421.6 317.0v1.4M422.1 287.1v1.1M422.5 308.9v1.8M422.8 307.6v0.9M423.2 315.7v2.0M422.4 296.4v1.8M421.7 312.2v1.1M422.1 295.1v1.9M423.8 299.7v2.4M423.9 274.8v1.6M424.0 294.3v1.7M424.6 281.1v1.9M422.8 267.2v0.8M423.4 313.3v1.2M425.3 295.3v1.4M423.0 276.6v1.2M422.2 277.7v2.1M424.4 262.0v1.2M422.2 291.8v0.8M423.4 304.6v1.3M423.5 301.0v1.3M421.9 298.5v0.9M422.7 297.0v1.4M423.0 262.4v2.4M422.2 305.5v2.3M422.8 301.4v2.1M421.6 306.4v1.6M422.0 279.8v2.2M422.2 316.5v1.3M422.4 302.5v1.8M423.9 305.8v2.3M422.9 291.7v1.2M424.3 292.0v1.4M423.2 306.9v1.1M423.4 305.6v1.3M422.5 300.7v2.2M422.6 267.8v1.0M423.2 320.0v0.2M422.4 269.8v1.4M422.9 275.4v1.8M423.6 296.2v1.9M424.2 262.5v1.4M422.4 263.8v1.4M422.9 312.5v1.9M421.6 271.7v2.0M423.5 282.1v1.4M422.6 273.2v1.0M423.2 303.3v2.3M423.7 301.2v2.1M421.9 262.2v0.8M423.9 268.1v1.1M423.5 286.7v1.7M423.9 293.1v1.0M421.9 306.7v1.2M423.1 285.3v1.3M422.5 287.8v2.2M422.0 274.4v0.8M424.4 264.1v2.3M423.3 316.6v2.4M424.5 281.4v1.0" stroke="#3a3eb4" stroke-width="0.55" fill="none" opacity="0.72"/>
<path d="M427.4 298.2v1.6M431.0 276.2v1.2M432.1 314.9v0.9M429.0 277.2v1.5M434.2 293.5v0.5M431.5 319.4v0.8M431.8 262.1v1.0M432.4 297.7v1.5M428.8 273.1v0.7M431.9 296.9v0.9M426.4 268.5v0.4M432.9 271.0v1.1M433.6 271.8v1.3M430.2 275.3v0.6M429.7 281.6v0.8M429.9 317.8v1.4M428.4 302.1v0.8M427.6 306.2v1.2M432.6 305.3v1.1M427.4 289.9v0.7M430.0 299.2v1.5M429.8 303.4v1.5M429.3 312.4v1.5M428.0 282.0v1.4M432.7 303.9v1.1M433.1 300.4v1.0M433.8 267.9v0.7M433.6 283.4v1.5M433.4 277.6v1.1M427.6 297.9v0.6M432.6 290.3v1.1M429.3 308.4v0.5M426.4 305.8v0.6M426.3 319.9v0.3M432.3 317.4v1.4M434.5 278.8v0.9M428.3 263.9v0.9M428.1 261.5v1.1M430.4 264.7v0.6M428.6 318.8v1.4M430.2 305.7v0.7M433.2 292.2v1.4M433.6 300.9v0.8M426.9 295.8v1.0M431.9 285.9v0.8M430.5 299.4v0.9M430.0 311.2v0.9M432.1 314.3v1.0M434.9 276.5v1.3M432.8 313.2v0.5M427.2 294.7v1.5M433.3 261.1v0.8M434.7 315.8v0.8M430.9 315.9v1.3M426.6 273.3v1.1M427.9 286.9v0.6M427.8 316.9v0.8M427.3 285.4v1.6M433.0 269.7v1.4M429.6 275.6v1.3M432.4 263.7v0.5M426.5 301.1v1.3M428.5 293.8v1.3M427.4 292.6v0.4M429.2 289.0v1.0M426.7 295.8v0.9M428.8 316.5v0.8M428.0 280.3v0.8M430.4 305.1v1.2M432.9 262.9v1.5M427.3 302.3v1.5M427.9 278.7v0.7M429.2 301.5v1.1M428.4 291.2v0.9M434.1 300.3v1.1M430.9 298.6v1.3M434.9 295.3v1.2M431.5 263.7v1.5M429.7 279.5v1.0M431.4 287.7v0.5M432.7 301.4v1.3M432.2 291.3v1.4M429.9 281.9v1.2M430.6 301.7v0.7M432.3 310.2v1.2M432.4 280.4v1.5M433.6 312.3v1.5M426.7 285.6v1.6M431.3 264.1v1.6M432.6 291.4v1.3M434.0 314.0v1.0M428.6 319.2v0.8M430.4 292.9v0.9M433.4 295.4v1.1M434.1 301.8v0.9M428.0 282.3v1.3M426.4 292.8v0.6M429.4 271.6v1.5M428.3 280.9v0.6M432.0 264.1v0.9M432.6 310.1v0.5M434.3 302.9v1.1M428.3 304.0v0.9M434.3 278.9v0.6M426.7 319.8v0.4M428.9 292.5v0.5M428.4 302.5v1.2M427.2 283.2v0.9M434.4 308.9v1.2M428.7 300.8v1.2M428.0 289.3v1.6M428.2 306.7v0.9M428.6 296.8v1.2M430.3 292.8v1.0M431.4 279.2v1.4M434.4 315.1v1.6M432.1 303.1v1.3M427.6 303.3v1.5M430.2 312.5v1.5M427.2 284.8v1.1M426.0 306.1v1.5M430.6 317.9v1.6M432.8 293.4v1.4M433.3 303.9v1.5M429.6 297.9v0.4M431.1 262.7v1.4M427.7 278.3v0.5M430.2 264.4v1.1M431.5 317.8v1.2M428.8 300.9v0.4" stroke="#2a2ea8" stroke-width="0.45" fill="none" opacity="0.55"/>
<path d="M428.9 270.9v1.2M430.4 319.5v0.7M433.1 296.6v0.8M435.1 306.4v1.4M430.6 295.9v0.9M428.4 285.5v0.7M429.8 283.7v0.7M435.0 263.6v1.0M436.1 297.4v1.5M436.0 314.4v1.5M428.7 290.4v0.6M429.6 294.4v0.8M434.0 265.5v1.3M434.6 294.0v1.5M432.0 268.7v1.4M428.1 271.7v1.5M433.6 267.1v0.4M428.7 307.4v1.1M436.6 262.4v0.5M428.1 300.8v1.2M428.5 303.6v0.7M431.7 295.7v0.9M431.6 279.8v0.9M429.4 281.2v1.4M429.6 316.6v1.1M434.7 301.2v0.4M434.9 295.2v1.6M431.2 298.8v0.9M430.5 319.9v0.3M434.6 265.5v0.5M428.4 296.5v0.5M430.3 268.0v0.8M435.4 297.6v0.7M433.1 303.0v0.8M435.1 301.4v1.3M431.9 284.2v0.8M434.0 295.4v1.2M430.2 289.7v1.5M431.2 297.7v1.5M433.9 288.9v1.4" stroke="#c8181c" stroke-width="0.45" fill="none" opacity="0.5"/>
<rect x="439.00" y="261.30" width="3.40" height="11.00" fill="#d24a4a" opacity="0.75"/>
<path d="M441.9 264.2v1.0M439.1 270.9v1.5M440.7 269.2v0.5M441.4 264.7v0.9M442.0 271.4v1.2M440.4 261.1v1.3M439.1 266.2v1.1M439.3 261.9v1.2M441.1 268.9v1.4M441.9 270.9v1.3M442.5 265.2v1.3M440.7 268.3v1.5M441.2 267.8v0.7M441.8 266.1v1.3M441.8 261.6v1.1M439.5 267.6v1.4M439.6 262.3v0.8M442.0 267.4v1.4M439.9 272.4v0.2M439.7 261.3v0.9M439.7 264.3v0.4M440.5 263.4v0.7M439.3 270.6v0.9M439.0 261.3v0.7M441.3 266.3v0.6M440.7 267.7v0.8M442.4 266.0v1.4M439.8 268.6v0.4M441.2 272.3v0.3M439.6 261.0v1.5M441.5 268.0v1.5M439.3 267.5v0.6M441.8 270.5v1.2M441.6 271.9v0.7M441.8 268.8v1.1M440.5 266.9v0.7M439.4 262.5v0.7M440.9 272.5v0.1M440.7 269.0v0.6M439.7 261.3v0.6M442.0 261.4v0.7M441.7 269.1v0.9M442.3 272.5v0.1M442.0 271.6v0.6M439.0 272.0v0.6M439.6 269.9v0.9M441.1 269.6v0.5M441.6 266.5v1.1M441.3 269.0v1.4M442.1 262.3v0.7M439.7 267.2v0.7M440.4 263.8v0.8M440.1 265.2v1.1M439.9 270.1v0.9M441.2 264.1v1.2M440.3 267.3v1.0M440.7 271.9v0.4M441.5 271.4v1.2M438.9 264.3v0.7M440.5 261.5v0.9" stroke="#8a0a10" stroke-width="0.5" fill="none" opacity="0.7"/>
<path d="M437.7 276.1v0.6M440.9 285.3v1.2M442.6 306.3v0.7M439.2 310.9v0.4M443.0 306.8v1.3M439.5 282.0v0.6M438.8 319.9v0.3M441.1 307.0v0.6M444.9 276.7v1.4M439.0 274.1v1.2M437.9 277.3v0.8M445.6 294.5v1.3M440.5 305.9v0.7M439.8 314.8v1.3M442.7 315.7v0.9M444.3 289.7v1.5M437.6 288.8v1.5M445.3 288.1v1.5M441.1 300.8v0.6M441.2 317.4v1.0M440.6 289.2v1.5M439.4 307.2v0.6M445.5 291.5v0.6M439.1 275.9v0.4M442.0 295.6v0.9M439.2 305.9v1.4M442.9 286.9v1.3M439.5 311.3v1.0M438.9 304.4v1.0M437.1 291.0v1.2M443.6 279.7v1.6M439.4 303.3v1.0M439.6 280.3v0.6M438.9 291.7v0.8M440.6 278.1v0.9M442.0 283.4v0.5M441.4 294.6v1.2M441.8 296.8v1.3M444.0 320.2v0.0M437.2 278.3v0.8M437.7 320.1v0.1M439.5 304.6v1.3M443.5 310.1v1.5M440.7 286.9v1.5M444.8 318.6v1.6M442.5 311.8v1.3M444.1 299.2v0.5M443.1 312.2v1.6M438.8 275.0v0.9M440.5 302.9v0.7M438.1 273.4v1.0M440.2 293.1v0.9M442.2 315.1v0.5M439.7 307.6v0.7M445.1 293.9v1.4M437.9 306.0v0.9M444.5 296.7v1.4M438.1 315.0v0.8M441.5 277.9v0.8M444.3 310.1v1.1M442.0 300.6v0.8M444.4 295.9v0.7M441.7 316.1v0.9M444.6 316.9v0.6M441.2 304.8v1.0M443.4 277.1v0.8M438.1 275.5v1.2M445.5 316.1v0.8M441.4 275.2v1.4M442.5 282.4v0.8M438.9 292.7v1.3M443.3 309.6v1.3M441.7 316.4v1.2M442.7 297.4v1.4M440.3 288.3v0.7M444.6 302.6v0.9M441.7 280.1v1.4M440.4 294.7v0.7M440.9 299.6v1.5M437.2 298.8v1.1" stroke="#c8181c" stroke-width="0.45" fill="none" opacity="0.55"/>
<path d="M427.5 265.9v1.4M427.8 307.8v0.7M427.6 264.1v1.5M428.0 283.3v0.5M427.4 302.7v0.5M427.7 301.4v1.1M428.0 304.5v0.7M428.1 317.2v0.8M426.7 314.1v0.7M427.3 313.5v0.7M427.4 262.7v0.7M427.0 320.1v0.1M428.4 269.0v0.9M427.3 286.9v1.5M427.0 261.1v0.4M427.6 262.1v0.5M428.2 316.6v0.8M427.6 315.3v1.1M427.4 316.8v0.6M427.1 315.2v1.2M427.7 317.0v0.6M427.7 309.9v0.8M426.8 310.9v0.9M427.5 281.9v0.8M427.7 272.4v0.5M428.1 286.8v0.4M427.5 304.3v1.2M426.7 292.7v0.9M427.0 262.3v1.1M427.3 286.0v1.4M427.6 299.0v1.3M427.8 265.7v1.3M427.1 298.9v1.3M428.0 289.6v0.7M427.7 280.5v0.8M428.2 263.1v0.8M428.7 312.2v1.3M427.3 291.6v0.5M427.3 312.7v0.9M427.7 276.5v1.4M427.2 268.2v1.1M428.2 300.1v0.8M427.8 300.6v1.5M428.0 304.2v0.9M427.2 296.7v1.0M427.5 276.0v0.4M427.8 287.7v1.3M427.4 319.6v0.6M427.7 274.6v0.7M427.7 276.4v1.5M427.8 313.9v0.7M428.1 317.7v1.5M426.8 300.1v1.3M427.5 289.7v1.2M427.4 306.6v0.6M427.7 318.9v1.1M427.3 298.7v0.8M427.8 298.2v1.2M427.2 292.5v1.1M428.0 310.3v1.4M428.3 318.9v1.0M427.8 268.0v1.3M427.8 316.8v0.7M427.0 292.7v1.6M427.7 266.3v1.3M428.4 270.7v0.6M427.5 306.1v1.3M427.2 262.7v1.0M427.6 273.8v1.6M427.1 311.4v0.9" stroke="#c8181c" stroke-width="0.5" fill="none" opacity="0.7"/>
<path d="M444.7 314.4v0.7M445.0 277.6v1.1M444.4 269.1v0.8M444.2 318.8v0.5M444.4 292.0v1.1M444.4 278.1v0.6M444.6 304.7v0.9M444.6 297.6v0.8M444.7 288.3v1.0M444.8 308.3v0.4M444.2 270.6v1.3M444.4 288.8v1.3M444.2 274.5v1.0M444.4 305.5v0.7M444.4 287.6v1.5M445.0 287.1v0.7M444.6 264.1v0.6M445.2 294.4v0.6M444.8 265.7v1.3M444.5 297.7v0.8M445.1 299.9v0.8M444.8 261.7v1.4M445.4 302.6v0.5M444.8 272.6v0.8M444.7 281.8v0.7M444.8 314.0v0.7M444.3 266.5v1.5M443.9 293.6v0.5M445.0 294.5v1.5M444.8 316.2v1.0M444.7 316.3v1.6M445.0 300.2v1.1M445.5 309.9v0.9M444.5 262.6v1.0M444.5 294.9v1.1M444.9 318.4v0.8M444.4 280.7v0.9M443.9 266.8v1.1M444.5 319.0v1.0M444.5 267.2v1.0M444.8 292.9v0.7M444.1 284.7v1.5M444.8 275.1v0.8M444.7 317.0v1.0M444.6 291.2v1.2M445.0 278.0v1.0M444.4 266.5v0.4M444.6 318.2v1.0M444.5 304.1v0.9M444.7 286.3v0.8" stroke="#c8181c" stroke-width="0.5" fill="none" opacity="0.65"/>
<path d="M449.7 304.7v0.9M447.0 293.9v0.7M464.0 262.2v1.4M449.1 288.3v0.5M451.3 307.7v1.3M463.4 317.8v1.6M462.3 281.1v1.6M452.2 308.4v1.0M447.8 290.8v1.6M457.1 278.7v1.3M458.6 296.0v1.1M450.8 283.0v0.8M454.5 320.1v0.1M449.6 309.2v1.1M456.0 316.6v0.7M453.3 271.4v1.3M457.0 288.5v1.0M454.7 319.5v0.7M454.6 289.9v0.8M450.5 315.0v1.5M460.0 305.3v1.1M462.8 308.8v0.9M464.7 273.6v0.5M457.5 309.7v1.5M458.4 310.7v1.4M456.6 269.5v1.2M446.2 275.9v0.9M450.6 299.7v1.5M448.2 272.4v0.5M458.7 314.9v0.7M451.5 293.4v0.9M447.7 276.1v0.4M446.4 282.7v1.0M450.1 281.4v0.5M462.2 318.3v0.9M455.0 307.1v0.7M449.4 312.0v0.9M458.1 309.3v1.0M446.6 295.3v1.2M454.1 298.1v0.9M458.4 307.3v1.5M460.9 296.8v0.5M457.1 319.7v0.5M452.8 268.9v0.6M450.6 262.2v1.0M460.0 287.9v0.9M450.8 264.4v0.9M449.7 305.3v0.5M455.1 282.2v1.5M455.8 310.3v0.5M457.7 304.6v1.0M447.5 305.9v0.8M457.4 313.2v0.8M453.3 290.6v0.7M459.1 318.2v1.4M451.4 302.0v1.5M459.2 276.1v0.7M450.3 288.6v0.8M463.2 273.4v1.0M448.2 277.3v0.6M456.7 300.9v1.5M457.5 294.6v1.5M446.9 296.3v0.8M446.3 310.9v0.6M462.1 301.8v0.6M462.1 314.2v1.4M455.6 318.4v1.2M459.3 291.1v1.0M460.5 293.9v0.8M448.0 303.0v1.4M460.5 297.0v0.6M452.3 305.6v1.3M451.4 285.4v0.7M463.3 286.9v0.8M459.3 309.2v1.1M456.4 274.0v0.7M453.2 290.9v1.1M448.2 315.5v1.4M459.2 276.1v0.8M450.8 267.0v0.7M453.8 265.3v0.8M460.0 303.4v0.6M447.5 312.8v1.3M450.7 319.5v0.7M448.9 293.1v1.0M446.7 274.0v1.3M462.3 305.2v0.9M459.3 281.3v0.5M463.5 317.7v1.4M451.4 301.3v1.4M462.9 283.6v0.8M452.1 283.6v0.6M464.4 266.3v1.2M452.4 289.4v1.5M460.0 299.8v1.2M456.3 278.2v1.0M457.4 278.1v0.9M447.1 313.5v0.5M464.9 272.4v0.9M447.8 285.9v0.7M460.0 265.9v1.1M461.2 290.9v1.4M446.5 283.4v1.3M464.5 283.5v1.0M452.3 308.2v1.4M451.5 270.6v1.3M463.4 304.1v1.0M463.2 311.8v0.6M462.3 261.7v1.1M451.7 284.5v0.6" stroke="#c8181c" stroke-width="0.45" fill="none" opacity="0.5"/>
<path d="M471.0 290.5v0.6M473.6 318.6v0.5M471.0 302.1v0.6M473.1 290.0v1.0M474.2 305.2v0.6M475.4 317.7v1.4M472.6 319.1v1.1M470.1 307.9v1.3M473.2 261.3v1.0M472.4 303.0v0.4M472.5 279.5v1.5M474.4 279.1v1.2M474.8 317.8v0.9M473.7 302.2v1.2M473.2 298.2v1.2M473.0 314.1v0.8M470.9 306.6v0.5M471.0 289.7v0.5M471.9 267.1v0.7M471.0 285.6v1.5M470.1 313.2v1.5M474.0 314.0v1.2M471.6 312.8v1.4M470.5 297.9v1.1M471.5 312.3v0.8M471.4 315.0v0.6M471.1 316.5v1.2M473.5 262.2v1.6M473.2 308.0v1.0M472.1 308.7v1.3M471.7 290.0v1.0M474.1 317.8v1.6M470.9 315.7v0.4M470.7 261.7v1.2M473.5 313.7v1.2M472.9 281.8v1.5M472.2 301.9v0.9M470.7 285.1v1.5M470.6 313.8v1.3M473.2 309.9v1.3M472.5 281.3v0.6M472.0 295.3v1.2M472.8 295.7v0.8M470.4 298.1v0.9M473.6 297.2v0.7M471.4 309.5v0.4M473.0 288.4v1.3M473.2 297.5v1.1M473.8 279.6v0.8M472.5 278.0v0.6M472.6 315.4v0.9M472.2 262.2v0.9M472.0 311.4v1.2M472.3 294.1v1.1M471.4 267.4v1.1M473.0 263.5v0.4M472.0 297.7v0.5M474.7 277.4v1.1M472.3 307.9v0.8M473.6 303.7v1.6M472.2 268.8v0.7M471.3 292.6v0.7M474.5 291.7v1.1M472.7 279.2v1.6M472.4 273.9v1.1M472.1 286.3v1.3M472.8 318.3v0.8M471.4 300.1v0.8M470.8 268.3v0.6M472.2 267.7v0.5M471.4 297.0v0.4M473.3 291.7v1.4M473.2 316.0v1.4M470.0 296.1v1.2M473.5 312.3v0.5M472.4 307.0v1.4M471.7 280.6v1.1M471.8 290.1v1.5M473.1 261.5v1.5M472.3 315.1v0.8M472.2 266.8v1.3M471.1 298.9v0.7M474.1 310.7v1.2M473.3 285.0v1.6M474.4 308.8v1.3M470.7 291.1v0.8M473.5 295.6v0.7M470.6 264.7v0.9M472.4 263.5v0.9M470.8 277.9v0.6M474.1 281.6v1.2M471.9 284.6v1.3M473.2 276.3v0.5M471.0 265.7v1.4M471.5 289.3v1.0M472.8 287.6v0.9M472.4 302.1v0.6M471.2 264.1v1.2M472.9 313.8v1.1M472.8 283.0v1.1M471.8 278.3v1.1M470.5 318.1v0.8M470.3 292.8v1.3M471.9 311.9v1.0M472.0 290.9v1.1M471.0 312.8v1.6M473.3 287.6v0.8M471.4 265.7v0.8M470.6 313.7v0.9M472.9 302.7v1.3M471.8 290.5v1.2M471.5 284.8v1.5M472.2 287.3v1.0M472.7 316.0v1.5M474.7 313.7v1.2M472.1 270.8v1.0M470.7 266.3v1.2M472.2 310.8v0.9M471.2 277.7v0.9M473.6 317.9v0.4M473.2 272.3v1.0M471.8 277.2v1.5M469.9 292.2v0.5M470.1 276.3v1.3M471.0 282.8v1.6M470.5 270.1v0.6M472.6 294.7v1.5M471.5 266.0v1.5M473.0 310.9v1.4M471.9 318.4v1.1M471.6 304.3v0.6M471.8 262.8v1.4M471.1 271.6v1.5M475.5 295.0v1.3M472.5 305.4v0.4M471.7 310.6v0.7M472.7 299.7v1.6M471.9 298.1v0.5M470.9 285.9v1.0M471.7 311.7v1.0M471.2 293.4v1.2M470.6 273.8v0.6M470.4 314.9v0.7M473.9 309.8v1.1M470.9 300.0v1.5M469.5 279.2v0.6M470.1 270.3v0.7M472.3 284.5v1.5M471.3 315.5v1.0M473.6 289.1v0.8" stroke="#2a2ea8" stroke-width="0.5" fill="none" opacity="0.65"/>
<path d="M480.8 264.6v0.7M478.7 263.6v1.5M478.4 301.5v0.6M484.8 286.4v1.6M481.8 280.3v0.6M477.1 270.9v1.4M477.3 302.6v1.0M484.3 267.3v0.6M479.2 283.4v1.5M478.5 311.6v1.2M476.5 279.2v0.9M481.3 276.1v1.3M478.2 283.4v1.0M483.4 261.5v0.5M480.7 262.9v1.4M483.3 298.2v0.5M477.1 312.9v0.6M483.8 314.8v0.9M477.2 296.3v1.6M476.6 296.3v0.7M479.9 261.7v1.6M478.8 316.3v0.7M477.9 292.6v0.9M484.5 297.2v1.6M482.4 293.2v1.2M477.0 274.3v0.8M482.4 274.7v1.2M483.0 291.9v1.1M481.4 304.6v0.5M482.9 319.9v0.3M479.8 293.9v0.8M481.4 280.0v1.3M478.2 318.1v0.6M483.6 282.6v1.3M483.1 268.3v1.1M477.0 309.6v1.1M483.6 306.7v0.6M479.6 280.3v1.5M482.4 319.9v0.3M480.4 311.0v1.5" stroke="#2a2ea8" stroke-width="0.45" fill="none" opacity="0.5"/>
<path d="M486.1 292.5v1.1M485.9 265.2v1.3M486.4 314.4v2.3M486.3 291.2v1.6M486.1 263.3v1.8M486.5 304.7v1.1M486.1 266.4v2.5M486.1 316.2v2.2M486.2 283.7v2.0M486.4 271.9v1.5M486.5 268.3v1.7M486.0 262.5v1.8M486.2 264.0v1.7M486.3 263.6v2.4M486.6 296.7v1.3M486.1 319.3v0.9M486.3 315.7v2.5M486.3 293.6v1.1M486.0 291.2v2.3M486.6 263.6v2.3M485.8 309.5v1.4M486.8 285.0v1.4M486.4 272.6v2.1M486.0 273.9v1.3M486.7 294.8v1.5M486.4 284.5v2.3M485.9 289.8v1.1M486.3 310.2v1.4M486.3 320.1v0.1M486.2 282.2v1.9M486.2 303.5v1.3M485.9 295.5v2.2M486.3 275.1v2.0M486.1 290.8v1.1M486.2 284.5v2.3M486.0 262.7v2.4M486.9 300.7v1.4M485.9 276.7v2.4M485.7 282.5v1.9M486.7 261.7v1.8M486.6 310.2v1.5M486.1 272.8v2.1M486.2 270.9v2.5M486.1 284.5v2.3M486.3 310.1v2.1M486.2 270.9v1.8M486.3 262.8v2.4M486.2 293.7v1.7M486.5 279.6v1.3M486.3 264.7v1.8M486.3 272.3v2.3M486.0 285.8v2.0M486.2 304.7v2.5M485.8 316.3v1.4M485.9 304.0v2.5M486.1 282.7v1.5M486.5 270.3v2.3M485.9 293.9v1.1M486.0 313.9v2.5M486.0 288.2v2.2M486.2 295.9v2.5M486.4 303.1v1.5M486.1 291.2v1.1M486.5 298.6v1.8M486.7 298.6v2.0M485.9 294.7v2.5M486.6 309.7v2.3M486.4 304.0v2.0M486.2 286.1v1.5M486.2 280.0v1.7M486.2 282.5v1.1M485.8 286.0v1.9M486.7 304.8v2.0M486.4 281.9v1.4M485.8 275.5v2.5M486.5 310.1v1.4M486.6 284.8v2.1M486.5 311.8v1.1M486.4 268.0v2.1M486.7 318.7v1.5M486.4 286.9v1.1M485.9 307.4v1.5M486.1 293.9v1.1M486.2 313.2v1.5M485.9 301.4v2.5M486.6 319.9v0.3M486.0 300.0v1.2M486.8 310.5v2.1M486.2 305.6v2.3M486.5 287.0v1.3M486.5 316.7v1.4M486.3 317.1v2.1M486.2 261.6v2.3M486.1 282.6v1.6M485.9 281.7v2.0M486.4 309.1v1.3M486.1 280.5v1.0M486.7 283.1v1.9M486.1 276.8v2.1M486.1 268.4v2.2M485.8 263.2v1.8M485.7 286.1v2.2M486.9 262.8v1.7M487.0 262.4v1.6M486.2 284.7v1.8M485.8 298.6v2.3M485.8 272.8v2.3M485.6 280.4v1.9M486.7 319.7v0.5M486.4 295.6v2.2M486.5 264.8v1.3M485.9 280.0v2.4M486.2 283.4v2.5M487.0 318.9v1.3M486.0 267.5v1.3M486.2 272.0v1.8M486.0 263.8v1.2M486.0 271.1v1.7M486.2 295.4v1.8M485.8 318.9v1.3" stroke="#3034a8" stroke-width="0.5" fill="none" opacity="0.8"/>
<path d="M492.1 315.5v0.8M501.2 313.1v1.4M495.4 290.3v1.1M491.4 297.9v0.9M501.8 312.9v1.4M491.1 274.7v1.6M500.9 285.6v1.6M495.0 299.8v1.0M492.5 283.9v0.8M496.3 316.7v1.4M491.4 292.3v1.0M494.8 318.0v1.5M501.1 272.7v0.8M488.4 298.5v1.3M496.7 281.7v1.4M488.4 270.4v1.1M499.6 285.6v1.4M499.9 288.6v1.3M491.4 293.3v0.7M488.6 300.3v0.6M488.9 275.9v1.2M493.7 295.6v1.1M488.4 271.7v1.5M497.1 303.4v1.0M499.1 301.4v0.9M490.6 270.1v1.5M498.6 318.8v1.2M493.4 268.6v1.5M497.2 269.2v0.5M494.5 286.8v1.1M497.3 270.0v0.8M492.0 280.1v0.5M491.5 296.9v1.4M491.0 318.9v0.6M498.0 302.4v0.7M501.0 294.4v0.8M496.2 287.7v1.4M489.6 263.4v1.2M494.2 267.3v0.4M494.4 278.7v1.2M500.2 297.9v1.0M495.1 315.2v1.3M494.3 300.2v0.9M489.5 261.7v0.5M494.7 274.9v0.9M492.7 318.0v0.9M501.7 286.7v1.1M490.9 315.2v1.1M490.0 295.6v1.2M501.0 263.5v0.9M497.0 316.2v0.7M495.8 282.8v1.4M490.9 281.3v1.5M495.9 290.2v1.1M497.3 262.8v0.6M499.4 269.1v0.9M501.7 276.4v0.8M499.5 272.2v0.8M488.2 279.5v1.6M498.9 262.1v0.9M501.4 301.7v0.8M496.8 290.1v0.8M501.9 271.4v0.7M492.2 284.2v1.0M490.4 318.9v1.0M493.1 268.6v1.2M499.7 314.7v0.6M500.6 285.6v1.0M494.0 299.0v1.4M488.2 313.8v0.8M492.5 305.3v0.5M488.2 310.2v1.0M494.3 263.9v0.9M497.1 264.7v0.7M492.1 303.5v0.4M494.2 271.6v1.5M494.6 266.3v1.1M500.5 280.7v0.6M491.0 270.9v1.3M492.8 281.5v1.5M494.5 285.7v1.3M498.8 293.7v1.1M495.1 269.4v0.6M496.8 305.3v1.5M500.5 308.0v0.6M498.0 269.9v0.5M494.5 313.9v0.8M495.8 302.7v0.7M498.8 295.4v1.4M490.3 307.4v0.5" stroke="#c8181c" stroke-width="0.45" fill="none" opacity="0.5"/>
<path d="M503.3 291.8v1.0M503.7 275.8v1.6M503.5 286.0v2.9M503.8 313.3v1.7M503.4 304.5v1.3M503.8 319.6v0.6M503.6 271.0v2.4M504.1 294.2v1.4M503.1 289.1v2.7M503.2 296.1v1.9M503.0 303.6v1.9M503.8 304.1v1.1M503.2 283.4v1.0M503.7 293.9v2.5M503.4 294.9v1.7M503.0 306.9v2.0M503.7 301.4v2.0M503.3 303.1v2.5M503.2 293.8v2.5M503.7 313.2v1.7M503.2 278.6v2.7M503.2 278.1v1.3M503.2 314.8v2.7M503.9 316.6v1.8M504.1 295.8v1.9M503.7 305.4v2.0M503.5 261.6v2.1M503.6 279.8v1.6M503.8 299.1v1.8M503.8 283.5v2.5M503.4 307.2v2.8M502.7 302.4v2.2M503.4 311.7v2.9M502.6 268.6v2.8M502.8 315.6v1.1M503.5 276.0v3.0M503.4 286.5v1.5M503.5 306.1v2.1M503.3 264.7v2.7M503.6 268.2v2.0M504.0 295.8v1.4M502.7 272.2v1.8M503.0 266.7v1.6M502.5 302.6v1.9M503.7 290.4v2.3M503.0 263.0v1.9M503.3 286.7v1.4M502.8 264.4v1.4M503.2 262.6v1.2M502.9 277.4v1.4M503.0 310.1v1.8M504.1 264.8v1.3M503.4 300.3v1.8M503.7 282.0v1.0M503.6 262.2v2.0M503.7 267.5v2.3M503.5 306.9v1.4M503.3 283.1v2.0M504.4 275.1v1.4M503.3 278.3v1.7M503.2 284.2v1.7M503.7 267.7v1.3M503.3 297.8v1.5M503.1 263.9v1.5M502.7 263.9v2.0M504.2 294.1v1.4M503.3 278.6v1.6M503.0 309.7v1.5M503.5 263.1v2.3M502.5 275.7v2.4M503.1 303.8v1.1M503.0 276.1v2.2M503.5 283.4v1.7M503.5 269.8v2.6M503.8 308.9v1.9M503.3 261.6v1.8M503.0 316.2v2.8M504.3 277.2v2.9M503.3 266.3v2.9M503.3 276.5v2.1M504.2 312.3v1.1M503.6 281.1v1.5M503.3 306.4v2.2M502.8 294.1v2.3M503.3 284.6v1.7M503.0 300.4v2.6M503.4 283.9v2.8M504.4 302.9v2.7M503.4 319.2v1.0M503.4 291.8v1.1M503.0 273.8v1.6M503.5 278.7v2.3M503.8 312.2v2.6M503.4 291.6v1.8M503.6 283.8v2.8M503.1 283.6v2.4M503.4 314.1v1.1M503.6 266.8v2.6M502.6 300.5v1.5M503.3 316.2v1.9M503.5 271.0v2.2M503.5 311.9v2.6M503.3 303.7v2.0M503.6 289.4v2.9M504.1 282.4v2.9M503.5 303.8v2.5M502.9 271.6v1.2M504.1 315.6v2.6M503.6 280.6v1.0M503.9 274.6v1.3M503.1 311.1v2.8M504.0 319.8v0.4M503.2 309.8v1.5M502.9 289.1v2.8M503.7 272.4v1.2M503.8 283.3v2.1M502.9 263.1v2.0M502.8 303.6v1.2M503.8 279.8v1.6M503.5 269.7v1.0M503.6 272.8v1.3M503.0 299.1v1.3M503.6 261.0v1.6M503.5 302.6v1.3M503.7 282.1v2.7M504.0 313.0v1.5M503.9 287.8v1.0M503.1 306.9v2.9M503.9 265.4v2.4M503.5 289.6v1.9M503.5 298.0v1.9M503.1 267.3v2.1M504.0 281.3v2.8M503.5 303.8v2.6M503.4 314.7v2.7M503.2 262.2v1.1M504.2 268.3v2.7M503.7 318.3v1.9M503.1 292.9v1.7M502.6 309.4v2.5M503.7 302.3v3.0M503.8 312.9v2.7M503.7 307.7v2.6M503.3 284.0v2.1M503.5 302.8v2.9M504.0 309.3v2.9M504.0 285.8v1.2M503.5 288.6v1.1M503.6 288.0v2.2M503.0 263.3v2.2M503.4 290.2v2.7M503.0 305.1v2.6M503.4 270.4v2.4M503.8 315.6v2.3M503.4 302.2v1.9M503.9 268.6v1.5M503.6 294.2v1.5M503.1 289.9v1.1M503.2 306.7v1.7M503.4 290.4v2.9M503.2 262.3v2.1M503.1 299.7v1.4M503.3 284.3v1.7M503.3 291.8v2.9M503.2 273.5v1.2M502.8 314.1v1.7M503.5 315.7v1.3M503.5 297.9v2.4M503.0 277.4v2.8M503.3 298.3v1.0M503.4 279.9v2.8M503.2 275.2v1.5M503.5 316.3v1.5M503.3 292.6v2.3M503.3 269.8v2.2M503.4 289.5v1.2M503.4 297.8v1.3M503.3 280.7v2.6M503.7 304.9v2.1M503.1 271.4v1.6M504.0 317.5v1.1M503.5 309.1v2.3M503.8 314.8v1.2M502.9 270.0v2.5M504.0 309.8v1.0M503.6 290.9v2.9M503.2 303.1v1.7M503.4 279.6v1.2M503.0 318.7v1.5M503.4 276.1v1.1" stroke="#8a0a10" stroke-width="0.55" fill="none" opacity="0.85"/>
<path d="M506.0 263.8v0.7M508.3 274.9v0.5M505.5 295.1v1.3M507.0 292.7v0.8M505.6 265.4v0.5M507.0 266.6v0.8M505.4 279.5v1.3M506.2 295.7v1.2M505.8 284.2v1.3M505.8 294.6v1.1M508.3 307.2v1.1M507.8 290.9v0.6M507.4 312.3v1.0M507.7 273.7v1.4M506.6 311.8v1.1M505.6 278.4v0.5M506.2 278.6v1.4M506.8 309.7v1.4M506.0 291.6v1.4M508.1 271.5v0.7M506.8 313.2v1.0M507.1 313.2v1.3M506.0 271.5v0.6M507.5 293.8v0.6M506.2 313.3v1.5M505.6 308.3v1.1M508.1 261.4v1.2M506.0 318.6v1.3M507.4 269.7v0.9M506.2 289.6v0.8M505.0 298.3v0.6M507.4 268.5v1.6M507.3 283.6v0.9M505.9 310.6v0.6M508.5 295.4v1.6M505.2 310.0v1.1M506.5 278.4v1.5M505.4 317.7v0.8M506.5 274.6v0.5M507.0 268.1v1.2M508.2 312.9v1.2M508.2 291.5v0.8M505.7 290.3v0.8M506.7 269.2v0.6M506.1 289.0v1.1M507.5 301.6v1.4M505.4 265.1v0.9M505.8 273.1v0.8M505.7 295.2v1.3M506.9 297.7v0.8M507.2 302.4v1.6M506.8 306.8v1.0M507.7 316.5v1.1M508.2 299.6v0.5M506.4 276.0v1.2M505.9 288.3v0.7M506.7 300.7v1.5M506.8 277.7v0.8M507.6 284.6v1.5M508.1 264.8v1.3" stroke="#c8181c" stroke-width="0.5" fill="none" opacity="0.6"/>
<path d="M510.1 309.3v1.2M509.7 307.8v3.0M509.2 289.8v2.6M509.1 315.0v1.5M509.7 270.2v1.4M509.5 285.2v1.3M509.2 303.5v1.8M509.9 310.9v1.6M509.9 313.9v1.7M509.6 288.7v1.6M510.0 280.2v2.9M509.7 289.5v1.7M510.0 313.3v1.8M509.7 312.0v2.5M509.5 288.2v2.7M510.7 276.8v2.1M509.9 301.4v3.0M509.0 265.4v2.6M510.0 297.7v1.4M509.9 317.9v1.3M509.5 304.8v2.4M509.2 304.7v2.7M509.7 270.4v2.5M510.4 281.4v2.2M510.1 261.6v1.4M509.7 272.1v2.8M509.6 307.2v1.0M510.1 272.9v2.7M510.0 301.5v1.7M509.7 261.3v1.7M509.7 284.2v1.6M509.2 284.8v1.0M509.0 285.3v2.6M509.7 263.6v1.9M509.5 312.1v2.9M509.8 295.1v1.6M510.0 276.5v2.5M509.8 305.1v2.9M509.1 271.1v2.8M510.2 283.8v1.8M509.7 271.5v1.4M510.2 271.5v2.3M510.3 264.0v1.9M509.6 298.9v2.1M509.6 265.3v2.2M510.0 271.1v2.8M509.9 315.0v2.6M509.8 271.8v1.5M510.6 280.2v2.2M509.2 301.9v1.1M509.7 302.5v2.8M510.3 275.9v1.7M510.1 318.4v1.8M510.1 263.6v2.4M510.1 295.3v2.3M509.4 290.0v1.2M510.4 317.2v2.3M510.0 266.6v2.7M509.9 269.6v3.0M509.3 266.2v1.8M509.1 293.3v2.0M509.9 266.0v1.2M509.9 281.4v1.9M509.5 308.4v1.9M509.6 289.7v2.1M510.3 311.7v1.1M509.4 298.4v2.9M509.7 310.6v2.2M509.3 294.7v2.8M509.5 312.1v1.4M509.7 298.7v2.9M510.2 283.3v2.1M509.1 272.5v2.5M509.8 290.1v2.6M509.6 286.8v1.2M509.1 264.1v3.0M510.1 299.3v1.3M509.4 273.5v2.8M509.4 262.4v2.4M509.3 299.0v1.6M509.8 271.0v2.5M509.7 306.8v1.3M509.6 312.9v2.8M510.0 300.5v1.3M509.9 311.6v1.6M509.7 279.1v2.7M509.8 305.1v2.1M509.9 286.1v1.5M510.0 276.8v1.3M509.5 285.9v2.8M509.2 308.9v1.8M509.9 300.7v2.3M509.3 282.8v1.9M509.8 304.0v2.3M509.6 306.6v1.3M510.1 262.8v3.0M509.9 261.1v2.9M509.9 295.9v1.6M509.7 296.7v1.8M509.3 262.9v2.4M510.0 306.4v2.2M509.6 279.4v1.7M510.1 271.7v2.6M509.6 290.2v2.0M509.9 315.6v2.4M509.4 317.8v2.4M509.8 290.8v1.8M509.4 264.7v1.3M509.9 280.7v1.1M509.2 283.8v1.8M509.7 293.4v2.4M509.7 295.2v1.6M509.1 316.8v1.8M509.2 302.8v1.5M509.6 287.2v1.8M509.6 270.8v2.3M509.1 281.8v2.8M509.7 274.6v2.4M510.1 277.5v2.0M509.6 309.8v2.2M509.3 306.8v1.5M510.3 277.9v1.0M509.1 266.6v1.9M509.6 284.1v1.8M509.7 295.8v1.8M509.3 315.9v1.3M509.8 301.2v2.0M509.7 307.9v2.4M510.3 294.0v3.0M510.3 267.0v2.7M510.1 311.6v3.0M510.2 315.8v1.2M510.3 305.8v1.1M509.8 271.8v2.4M510.0 302.1v1.8M509.8 287.7v2.4M509.5 280.6v2.7M509.8 280.1v2.4M509.3 285.7v2.0M509.7 317.3v2.9M509.3 304.8v1.9M509.8 265.9v2.1M509.9 286.1v2.3M509.8 299.7v1.7M509.7 295.5v2.4M509.9 261.6v2.2M510.2 271.6v2.5M509.0 280.7v1.5M509.6 283.5v1.5M509.4 272.8v1.6M509.7 277.6v2.5M510.3 263.4v2.1M509.5 274.3v2.2M509.6 280.5v2.4M509.8 271.2v1.0M510.1 284.1v2.2M509.9 297.7v1.5M510.1 301.2v2.2M509.9 271.3v1.1M510.1 285.0v1.2M509.9 287.5v2.8M509.6 277.2v1.7M509.4 305.8v1.5M509.6 297.9v2.3M509.7 265.6v2.2M509.9 282.4v2.0M509.8 303.3v1.1M509.5 299.4v2.9M509.0 280.0v1.7M509.5 261.0v1.5M509.9 264.5v2.5M509.3 264.6v1.4M510.3 298.1v1.4M509.7 299.5v2.4M510.2 268.7v1.4M509.6 262.8v1.6M510.5 292.8v2.1M509.4 276.6v2.0M509.6 299.3v2.5M510.0 301.0v1.7M509.5 306.1v1.7M510.1 279.9v2.2M510.2 300.1v2.3M509.3 285.7v2.1M510.2 267.5v1.0M509.3 273.9v2.5M509.4 319.7v0.5M509.8 290.3v3.0M509.8 309.3v2.0M509.4 291.6v2.1M510.5 287.4v2.3M509.5 292.0v2.5M509.9 297.8v2.2M510.1 274.1v2.4M509.6 290.5v1.1M509.8 273.8v1.1M509.2 279.6v1.0M509.1 315.9v1.1M510.1 263.3v1.2M510.1 309.9v2.1" stroke="#8a0a10" stroke-width="0.55" fill="none" opacity="0.9"/>
<line x1="384.00" y1="261.00" x2="384.00" y2="320.20" stroke="#26222c" stroke-width="0.5"/>
<line x1="397.50" y1="261.00" x2="397.50" y2="320.20" stroke="#26222c" stroke-width="0.5"/>
<line x1="406.90" y1="261.00" x2="406.90" y2="320.20" stroke="#26222c" stroke-width="0.5"/>
<line x1="414.50" y1="261.00" x2="414.50" y2="320.20" stroke="#26222c" stroke-width="0.5"/>
<line x1="420.40" y1="261.00" x2="420.40" y2="320.20" stroke="#26222c" stroke-width="0.5"/>
<line x1="427.90" y1="261.00" x2="427.90" y2="320.20" stroke="#26222c" stroke-width="0.5"/>
<line x1="435.20" y1="261.00" x2="435.20" y2="320.20" stroke="#26222c" stroke-width="0.5"/>
<line x1="440.60" y1="261.00" x2="440.60" y2="320.20" stroke="#26222c" stroke-width="0.5"/>
<line x1="446.00" y1="261.00" x2="446.00" y2="320.20" stroke="#26222c" stroke-width="0.5"/>
<line x1="452.20" y1="261.00" x2="452.20" y2="320.20" stroke="#26222c" stroke-width="0.5"/>
<line x1="458.10" y1="261.00" x2="458.10" y2="320.20" stroke="#26222c" stroke-width="0.5"/>
<line x1="464.30" y1="261.00" x2="464.30" y2="320.20" stroke="#26222c" stroke-width="0.5"/>
<line x1="468.90" y1="261.00" x2="468.90" y2="320.20" stroke="#26222c" stroke-width="0.5"/>
<line x1="474.20" y1="261.00" x2="474.20" y2="320.20" stroke="#26222c" stroke-width="0.5"/>
<line x1="478.30" y1="261.00" x2="478.30" y2="320.20" stroke="#26222c" stroke-width="0.5"/>
<line x1="483.10" y1="261.00" x2="483.10" y2="320.20" stroke="#26222c" stroke-width="0.5"/>
<line x1="487.20" y1="261.00" x2="487.20" y2="320.20" stroke="#26222c" stroke-width="0.5"/>
<line x1="502.50" y1="261.00" x2="502.50" y2="320.20" stroke="#26222c" stroke-width="0.5"/>
<line x1="511.60" y1="261.00" x2="511.60" y2="320.20" stroke="#26222c" stroke-width="0.5"/>
<line x1="384.00" y1="261.00" x2="511.60" y2="261.00" stroke="#26222c" stroke-width="0.6"/>
<line x1="384.00" y1="302.90" x2="511.60" y2="302.90" stroke="#26222c" stroke-width="0.6"/>
<line x1="384.00" y1="314.80" x2="511.60" y2="314.80" stroke="#26222c" stroke-width="0.6"/>
<line x1="384.00" y1="320.20" x2="511.60" y2="320.20" stroke="#26222c" stroke-width="0.6"/>
<rect x="378.40" y="261.00" width="3.30" height="41.90" fill="#a5161f"/>
<rect x="378.40" y="302.90" width="3.30" height="10.70" fill="#d31f1f"/>
<rect x="378.40" y="313.60" width="3.30" height="6.60" fill="#f0a030"/>
<rect x="378.40" y="261.00" width="3.30" height="59.20" fill="none" stroke="#3a2a20" stroke-width="0.35"/>
<path d="M353.6 197.4 L351.0 197.4 L351.0 257.2 L353.6 257.2" fill="none" stroke="#151515" stroke-width="1.0"/>
<path d="M353.6 261.4 L351.0 261.4 L351.0 320.0 L353.6 320.0" fill="none" stroke="#151515" stroke-width="1.0"/>
<text x="0.00" y="0.00" font-size="8.6" text-anchor="middle" fill="#34343c" stroke="#34343c" stroke-width="0.14" transform="translate(345.40 227.40) rotate(-90) scale(0.74 1)">AML1012</text>
<text x="0.00" y="0.00" font-size="8.6" text-anchor="middle" fill="#34343c" stroke="#34343c" stroke-width="0.14" transform="translate(345.40 290.80) rotate(-90) scale(0.74 1)">AML1016</text>
<text x="374.80" y="205.50" font-size="6.5" text-anchor="end" fill="#34343c" stroke="#34343c" stroke-width="0.14">HSC</text>
<text x="374.80" y="217.30" font-size="6.5" text-anchor="end" fill="#34343c" stroke="#34343c" stroke-width="0.14">LMPP</text>
<text x="374.80" y="229.60" font-size="6.5" text-anchor="end" fill="#34343c" stroke="#34343c" stroke-width="0.14">GMP</text>
<text x="374.80" y="239.20" font-size="6.5" text-anchor="end" fill="#34343c" stroke="#34343c" stroke-width="0.14">CD14<tspan dy="-2.3" font-size="4.6">+</tspan></text>
<text x="374.80" y="246.10" font-size="6.5" text-anchor="end" fill="#34343c" stroke="#34343c" stroke-width="0.14">Mono</text>
<text x="374.80" y="252.50" font-size="6.5" text-anchor="end" fill="#34343c" stroke="#34343c" stroke-width="0.14">cDC</text>
<text x="374.80" y="258.10" font-size="6.5" text-anchor="end" fill="#34343c" stroke="#34343c" stroke-width="0.14">pDC</text>
<text x="374.80" y="282.50" font-size="6.5" text-anchor="end" fill="#34343c" stroke="#34343c" stroke-width="0.14">HSC</text>
<text x="374.80" y="308.90" font-size="6.5" text-anchor="end" fill="#34343c" stroke="#34343c" stroke-width="0.14">LMPP</text>
<text x="374.80" y="317.10" font-size="6.5" text-anchor="end" fill="#34343c" stroke="#34343c" stroke-width="0.14">CD16<tspan dy="-2.3" font-size="4.6">+</tspan></text>
<text x="374.80" y="323.70" font-size="6.5" text-anchor="end" fill="#34343c" stroke="#34343c" stroke-width="0.14">Mono</text>
<text x="392.00" y="327.90" font-size="5.9" text-anchor="middle" fill="#34343c" stroke="#34343c" stroke-width="0.14">1</text>
<text x="402.20" y="327.90" font-size="5.9" text-anchor="middle" fill="#34343c" stroke="#34343c" stroke-width="0.14">2</text>
<text x="409.40" y="327.90" font-size="5.9" text-anchor="middle" fill="#34343c" stroke="#34343c" stroke-width="0.14">3</text>
<text x="416.60" y="327.90" font-size="5.9" text-anchor="middle" fill="#34343c" stroke="#34343c" stroke-width="0.14">4</text>
<text x="421.80" y="327.90" font-size="5.9" text-anchor="middle" fill="#34343c" stroke="#34343c" stroke-width="0.14">5</text>
<text x="428.40" y="327.90" font-size="5.9" text-anchor="middle" fill="#34343c" stroke="#34343c" stroke-width="0.14">6</text>
<text x="435.20" y="327.90" font-size="5.9" text-anchor="middle" fill="#34343c" stroke="#34343c" stroke-width="0.14">7</text>
<text x="440.40" y="327.90" font-size="5.9" text-anchor="middle" fill="#34343c" stroke="#34343c" stroke-width="0.14">8</text>
<text x="444.80" y="327.90" font-size="5.9" text-anchor="middle" fill="#34343c" stroke="#34343c" stroke-width="0.14">9</text>
<text x="450.40" y="327.90" font-size="5.9" text-anchor="middle" fill="#34343c" stroke="#34343c" stroke-width="0.14">10</text>
<text x="457.40" y="327.90" font-size="5.9" text-anchor="middle" fill="#34343c" stroke="#34343c" stroke-width="0.14">11</text>
<text x="464.80" y="327.90" font-size="5.9" text-anchor="middle" fill="#34343c" stroke="#34343c" stroke-width="0.14">12</text>
<text x="472.80" y="327.90" font-size="5.9" text-anchor="middle" fill="#34343c" stroke="#34343c" stroke-width="0.14">14</text>
<text x="481.20" y="327.90" font-size="5.9" text-anchor="middle" fill="#34343c" stroke="#34343c" stroke-width="0.14">16</text>
<text x="487.80" y="327.90" font-size="5.9" text-anchor="middle" fill="#34343c" stroke="#34343c" stroke-width="0.14">17</text>
<text x="499.00" y="327.90" font-size="5.9" text-anchor="middle" fill="#34343c" stroke="#34343c" stroke-width="0.14">19</text>
<text x="510.00" y="327.90" font-size="5.9" text-anchor="middle" fill="#34343c" stroke="#34343c" stroke-width="0.14">22</text>
<text x="475.80" y="341.60" font-size="6.2" text-anchor="middle" fill="#34343c" stroke="#34343c" stroke-width="0.14">InferCNV</text>
<defs><linearGradient id="cnv" x1="0" x2="1" y1="0" y2="0"><stop offset="0" stop-color="#14147c"/><stop offset="0.25" stop-color="#3c44c0"/><stop offset="0.5" stop-color="#ffffff"/><stop offset="0.75" stop-color="#d42a24"/><stop offset="1" stop-color="#86080c"/></linearGradient></defs>
<rect x="453.40" y="343.80" width="43.70" height="4.00" fill="url(#cnv)"/>
<text x="0.00" y="0.00" font-size="6.2" text-anchor="end" fill="#34343c" stroke="#34343c" stroke-width="0.14" transform="translate(458.20 350.20) rotate(-90)">0.85</text>
<text x="0.00" y="0.00" font-size="6.2" text-anchor="end" fill="#34343c" stroke="#34343c" stroke-width="0.14" transform="translate(471.00 350.20) rotate(-90)">0.95</text>
<text x="0.00" y="0.00" font-size="6.2" text-anchor="end" fill="#34343c" stroke="#34343c" stroke-width="0.14" transform="translate(484.90 350.20) rotate(-90)">1.05</text>
<text x="0.00" y="0.00" font-size="6.2" text-anchor="end" fill="#34343c" stroke="#34343c" stroke-width="0.14" transform="translate(497.70 350.20) rotate(-90)">1.15</text>
<text x="94.00" y="379.20" font-size="8.2" text-anchor="middle" fill="#34343c" stroke="#34343c" stroke-width="0.14">AML</text>
<text x="133.60" y="379.20" font-size="8.2" text-anchor="middle" fill="#34343c" stroke="#34343c" stroke-width="0.14">HD</text>
<path d="M68.0 385.1 L68.0 384.3 Q68.0 383.6 68.7 383.6 L118.5 383.6 Q119.2 383.6 119.2 384.3 L119.2 385.1" fill="none" stroke="#2c2c30" stroke-width="0.95"/>
<path d="M121.2 385.1 L121.2 384.3 Q121.2 383.6 121.9 383.6 L144.1 383.6 Q144.8 383.6 144.8 384.3 L144.8 385.1" fill="none" stroke="#2c2c30" stroke-width="0.95"/>
<text x="69.00" y="394.00" font-size="6.2" fill="#34343c" stroke="#34343c" stroke-width="0.14">post-</text>
<text x="69.00" y="400.60" font-size="6.2" fill="#34343c" stroke="#34343c" stroke-width="0.14">HSCT</text>
<text x="88.60" y="394.00" font-size="6.2" fill="#34343c" stroke="#34343c" stroke-width="0.14">Transplant-</text>
<text x="97.60" y="400.60" font-size="6.2" fill="#34343c" stroke="#34343c" stroke-width="0.14">naive</text>
<rect x="68.10" y="406.50" width="23.10" height="3.90" fill="#1a9a4a"/>
<rect x="91.20" y="406.50" width="27.00" height="3.90" fill="#a8a8ac"/>
<rect x="121.20" y="406.50" width="22.30" height="3.90" fill="#151515"/>
<rect x="68.10" y="412.70" width="3.10" height="8.80" fill="#fcc89a"/>
<rect x="71.05" y="412.70" width="3.10" height="8.80" fill="#fcc89a"/>
<rect x="73.99" y="412.70" width="3.10" height="8.80" fill="#fcc89a"/>
<rect x="76.94" y="412.70" width="3.10" height="8.80" fill="#fcc89a"/>
<rect x="79.89" y="412.70" width="3.10" height="8.80" fill="#fcc89a"/>
<rect x="82.84" y="412.70" width="3.10" height="8.80" fill="#fcc89a"/>
<rect x="85.78" y="412.70" width="3.10" height="8.80" fill="#fcc89a"/>
<rect x="88.73" y="412.70" width="3.10" height="8.80" fill="#fcc89a"/>
<rect x="91.68" y="412.70" width="3.10" height="8.80" fill="#fcc89a"/>
<rect x="94.62" y="412.70" width="3.10" height="8.80" fill="#fcc89a"/>
<rect x="97.57" y="412.70" width="3.10" height="8.80" fill="#f78a56"/>
<rect x="100.52" y="412.70" width="3.10" height="8.80" fill="#fcc89a"/>
<rect x="103.46" y="412.70" width="3.10" height="8.80" fill="#fbab78"/>
<rect x="106.41" y="412.70" width="3.10" height="8.80" fill="#fcc89a"/>
<rect x="109.36" y="412.70" width="3.10" height="8.80" fill="#fcc89a"/>
<rect x="112.31" y="412.70" width="3.10" height="8.80" fill="#fbab78"/>
<rect x="115.25" y="412.70" width="3.10" height="8.80" fill="#f78a56"/>
<rect x="68.10" y="421.35" width="3.10" height="8.80" fill="#fcc89a"/>
<rect x="71.05" y="421.35" width="3.10" height="8.80" fill="#fcc89a"/>
<rect x="73.99" y="421.35" width="3.10" height="8.80" fill="#fcc89a"/>
<rect x="76.94" y="421.35" width="3.10" height="8.80" fill="#fcc89a"/>
<rect x="79.89" y="421.35" width="3.10" height="8.80" fill="#fcc89a"/>
<rect x="82.84" y="421.35" width="3.10" height="8.80" fill="#fbab78"/>
<rect x="85.78" y="421.35" width="3.10" height="8.80" fill="#fcc89a"/>
<rect x="88.73" y="421.35" width="3.10" height="8.80" fill="#fcc89a"/>
<rect x="91.68" y="421.35" width="3.10" height="8.80" fill="#fcc89a"/>
<rect x="94.62" y="421.35" width="3.10" height="8.80" fill="#fbab78"/>
<rect x="97.57" y="421.35" width="3.10" height="8.80" fill="#fcc89a"/>
<rect x="100.52" y="421.35" width="3.10" height="8.80" fill="#fcc89a"/>
<rect x="103.46" y="421.35" width="3.10" height="8.80" fill="#fbab78"/>
<rect x="106.41" y="421.35" width="3.10" height="8.80" fill="#fcc89a"/>
<rect x="109.36" y="421.35" width="3.10" height="8.80" fill="#fcc89a"/>
<rect x="112.31" y="421.35" width="3.10" height="8.80" fill="#fbab78"/>
<rect x="115.25" y="421.35" width="3.10" height="8.80" fill="#fbab78"/>
<rect x="68.10" y="430.00" width="3.10" height="8.80" fill="#fcc89a"/>
<rect x="71.05" y="430.00" width="3.10" height="8.80" fill="#fcc89a"/>
<rect x="73.99" y="430.00" width="3.10" height="8.80" fill="#fbab78"/>
<rect x="76.94" y="430.00" width="3.10" height="8.80" fill="#fcc89a"/>
<rect x="79.89" y="430.00" width="3.10" height="8.80" fill="#fcc89a"/>
<rect x="82.84" y="430.00" width="3.10" height="8.80" fill="#fbab78"/>
<rect x="85.78" y="430.00" width="3.10" height="8.80" fill="#fcc89a"/>
<rect x="88.73" y="430.00" width="3.10" height="8.80" fill="#fcc89a"/>
<rect x="91.68" y="430.00" width="3.10" height="8.80" fill="#fcc89a"/>
<rect x="94.62" y="430.00" width="3.10" height="8.80" fill="#fbab78"/>
<rect x="97.57" y="430.00" width="3.10" height="8.80" fill="#fbab78"/>
<rect x="100.52" y="430.00" width="3.10" height="8.80" fill="#fcc89a"/>
<rect x="103.46" y="430.00" width="3.10" height="8.80" fill="#f78a56"/>
<rect x="106.41" y="430.00" width="3.10" height="8.80" fill="#fcc89a"/>
<rect x="109.36" y="430.00" width="3.10" height="8.80" fill="#fcc89a"/>
<rect x="112.31" y="430.00" width="3.10" height="8.80" fill="#fcc89a"/>
<rect x="115.25" y="430.00" width="3.10" height="8.80" fill="#fbab78"/>
<rect x="68.10" y="438.65" width="3.10" height="8.80" fill="#fcc89a"/>
<rect x="71.05" y="438.65" width="3.10" height="8.80" fill="#fcc89a"/>
<rect x="73.99" y="438.65" width="3.10" height="8.80" fill="#fbab78"/>
<rect x="76.94" y="438.65" width="3.10" height="8.80" fill="#fcc89a"/>
<rect x="79.89" y="438.65" width="3.10" height="8.80" fill="#fcc89a"/>
<rect x="82.84" y="438.65" width="3.10" height="8.80" fill="#fcc89a"/>
<rect x="85.78" y="438.65" width="3.10" height="8.80" fill="#fcc89a"/>
<rect x="88.73" y="438.65" width="3.10" height="8.80" fill="#fcc89a"/>
<rect x="91.68" y="438.65" width="3.10" height="8.80" fill="#fcc89a"/>
<rect x="94.62" y="438.65" width="3.10" height="8.80" fill="#fcc89a"/>
<rect x="97.57" y="438.65" width="3.10" height="8.80" fill="#fcc89a"/>
<rect x="100.52" y="438.65" width="3.10" height="8.80" fill="#f78a56"/>
<rect x="103.46" y="438.65" width="3.10" height="8.80" fill="#fcc89a"/>
<rect x="106.41" y="438.65" width="3.10" height="8.80" fill="#fcc89a"/>
<rect x="109.36" y="438.65" width="3.10" height="8.80" fill="#fbab78"/>
<rect x="112.31" y="438.65" width="3.10" height="8.80" fill="#fcc89a"/>
<rect x="115.25" y="438.65" width="3.10" height="8.80" fill="#fbab78"/>
<rect x="68.10" y="447.30" width="3.10" height="8.80" fill="#fcc89a"/>
<rect x="71.05" y="447.30" width="3.10" height="8.80" fill="#fbab78"/>
<rect x="73.99" y="447.30" width="3.10" height="8.80" fill="#fbab78"/>
<rect x="76.94" y="447.30" width="3.10" height="8.80" fill="#fcc89a"/>
<rect x="79.89" y="447.30" width="3.10" height="8.80" fill="#fcc89a"/>
<rect x="82.84" y="447.30" width="3.10" height="8.80" fill="#fbab78"/>
<rect x="85.78" y="447.30" width="3.10" height="8.80" fill="#fcc89a"/>
<rect x="88.73" y="447.30" width="3.10" height="8.80" fill="#fcc89a"/>
<rect x="91.68" y="447.30" width="3.10" height="8.80" fill="#fbab78"/>
<rect x="94.62" y="447.30" width="3.10" height="8.80" fill="#dc2c20"/>
<rect x="97.57" y="447.30" width="3.10" height="8.80" fill="#dc2c20"/>
<rect x="100.52" y="447.30" width="3.10" height="8.80" fill="#f78a56"/>
<rect x="103.46" y="447.30" width="3.10" height="8.80" fill="#fcc89a"/>
<rect x="106.41" y="447.30" width="3.10" height="8.80" fill="#fbab78"/>
<rect x="109.36" y="447.30" width="3.10" height="8.80" fill="#ee5f38"/>
<rect x="112.31" y="447.30" width="3.10" height="8.80" fill="#f78a56"/>
<rect x="115.25" y="447.30" width="3.10" height="8.80" fill="#fbab78"/>
<rect x="68.10" y="455.95" width="3.10" height="8.80" fill="#f78a56"/>
<rect x="71.05" y="455.95" width="3.10" height="8.80" fill="#fbab78"/>
<rect x="73.99" y="455.95" width="3.10" height="8.80" fill="#ee5f38"/>
<rect x="76.94" y="455.95" width="3.10" height="8.80" fill="#c1121a"/>
<rect x="79.89" y="455.95" width="3.10" height="8.80" fill="#fbab78"/>
<rect x="82.84" y="455.95" width="3.10" height="8.80" fill="#f78a56"/>
<rect x="85.78" y="455.95" width="3.10" height="8.80" fill="#dc2c20"/>
<rect x="88.73" y="455.95" width="3.10" height="8.80" fill="#fbab78"/>
<rect x="91.68" y="455.95" width="3.10" height="8.80" fill="#fcc89a"/>
<rect x="94.62" y="455.95" width="3.10" height="8.80" fill="#f78a56"/>
<rect x="97.57" y="455.95" width="3.10" height="8.80" fill="#fcc89a"/>
<rect x="100.52" y="455.95" width="3.10" height="8.80" fill="#fbab78"/>
<rect x="103.46" y="455.95" width="3.10" height="8.80" fill="#fbab78"/>
<rect x="106.41" y="455.95" width="3.10" height="8.80" fill="#f78a56"/>
<rect x="109.36" y="455.95" width="3.10" height="8.80" fill="#ee5f38"/>
<rect x="112.31" y="455.95" width="3.10" height="8.80" fill="#fbab78"/>
<rect x="115.25" y="455.95" width="3.10" height="8.80" fill="#fcc89a"/>
<rect x="68.10" y="464.60" width="3.10" height="8.80" fill="#c1121a"/>
<rect x="71.05" y="464.60" width="3.10" height="8.80" fill="#dc2c20"/>
<rect x="73.99" y="464.60" width="3.10" height="8.80" fill="#fcc89a"/>
<rect x="76.94" y="464.60" width="3.10" height="8.80" fill="#fbab78"/>
<rect x="79.89" y="464.60" width="3.10" height="8.80" fill="#fcc89a"/>
<rect x="82.84" y="464.60" width="3.10" height="8.80" fill="#dc2c20"/>
<rect x="85.78" y="464.60" width="3.10" height="8.80" fill="#dc2c20"/>
<rect x="88.73" y="464.60" width="3.10" height="8.80" fill="#dc2c20"/>
<rect x="91.68" y="464.60" width="3.10" height="8.80" fill="#f78a56"/>
<rect x="94.62" y="464.60" width="3.10" height="8.80" fill="#fbab78"/>
<rect x="97.57" y="464.60" width="3.10" height="8.80" fill="#fcc89a"/>
<rect x="100.52" y="464.60" width="3.10" height="8.80" fill="#f78a56"/>
<rect x="103.46" y="464.60" width="3.10" height="8.80" fill="#c1121a"/>
<rect x="106.41" y="464.60" width="3.10" height="8.80" fill="#fcc89a"/>
<rect x="109.36" y="464.60" width="3.10" height="8.80" fill="#c1121a"/>
<rect x="112.31" y="464.60" width="3.10" height="8.80" fill="#fcc89a"/>
<rect x="115.25" y="464.60" width="3.10" height="8.80" fill="#fcc89a"/>
<rect x="68.10" y="473.25" width="3.10" height="8.80" fill="#fbab78"/>
<rect x="71.05" y="473.25" width="3.10" height="8.80" fill="#ee5f38"/>
<rect x="73.99" y="473.25" width="3.10" height="8.80" fill="#f78a56"/>
<rect x="76.94" y="473.25" width="3.10" height="8.80" fill="#fbab78"/>
<rect x="79.89" y="473.25" width="3.10" height="8.80" fill="#fddcb8"/>
<rect x="82.84" y="473.25" width="3.10" height="8.80" fill="#fcc89a"/>
<rect x="85.78" y="473.25" width="3.10" height="8.80" fill="#f78a56"/>
<rect x="88.73" y="473.25" width="3.10" height="8.80" fill="#fbab78"/>
<rect x="91.68" y="473.25" width="3.10" height="8.80" fill="#fcc89a"/>
<rect x="94.62" y="473.25" width="3.10" height="8.80" fill="#fbab78"/>
<rect x="97.57" y="473.25" width="3.10" height="8.80" fill="#dc2c20"/>
<rect x="100.52" y="473.25" width="3.10" height="8.80" fill="#ee5f38"/>
<rect x="103.46" y="473.25" width="3.10" height="8.80" fill="#fcc89a"/>
<rect x="106.41" y="473.25" width="3.10" height="8.80" fill="#c1121a"/>
<rect x="109.36" y="473.25" width="3.10" height="8.80" fill="#ee5f38"/>
<rect x="112.31" y="473.25" width="3.10" height="8.80" fill="#dc2c20"/>
<rect x="115.25" y="473.25" width="3.10" height="8.80" fill="#dc2c20"/>
<rect x="68.10" y="412.70" width="50.10" height="69.20" fill="none" stroke="#3a2a20" stroke-width="0.7"/>
<rect x="121.20" y="412.70" width="2.94" height="8.80" fill="#f78a56"/>
<rect x="123.99" y="412.70" width="2.94" height="8.80" fill="#dc2c20"/>
<rect x="126.78" y="412.70" width="2.94" height="8.80" fill="#ee5f38"/>
<rect x="129.56" y="412.70" width="2.94" height="8.80" fill="#ee5f38"/>
<rect x="132.35" y="412.70" width="2.94" height="8.80" fill="#dc2c20"/>
<rect x="135.14" y="412.70" width="2.94" height="8.80" fill="#dc2c20"/>
<rect x="137.93" y="412.70" width="2.94" height="8.80" fill="#c1121a"/>
<rect x="140.71" y="412.70" width="2.94" height="8.80" fill="#dc2c20"/>
<rect x="121.20" y="421.35" width="2.94" height="8.80" fill="#ee5f38"/>
<rect x="123.99" y="421.35" width="2.94" height="8.80" fill="#c1121a"/>
<rect x="126.78" y="421.35" width="2.94" height="8.80" fill="#c1121a"/>
<rect x="129.56" y="421.35" width="2.94" height="8.80" fill="#ee5f38"/>
<rect x="132.35" y="421.35" width="2.94" height="8.80" fill="#f78a56"/>
<rect x="135.14" y="421.35" width="2.94" height="8.80" fill="#ee5f38"/>
<rect x="137.93" y="421.35" width="2.94" height="8.80" fill="#dc2c20"/>
<rect x="140.71" y="421.35" width="2.94" height="8.80" fill="#ee5f38"/>
<rect x="121.20" y="430.00" width="2.94" height="8.80" fill="#fbab78"/>
<rect x="123.99" y="430.00" width="2.94" height="8.80" fill="#f78a56"/>
<rect x="126.78" y="430.00" width="2.94" height="8.80" fill="#f78a56"/>
<rect x="129.56" y="430.00" width="2.94" height="8.80" fill="#f78a56"/>
<rect x="132.35" y="430.00" width="2.94" height="8.80" fill="#ee5f38"/>
<rect x="135.14" y="430.00" width="2.94" height="8.80" fill="#c1121a"/>
<rect x="137.93" y="430.00" width="2.94" height="8.80" fill="#c1121a"/>
<rect x="140.71" y="430.00" width="2.94" height="8.80" fill="#c1121a"/>
<rect x="121.20" y="438.65" width="2.94" height="8.80" fill="#fbab78"/>
<rect x="123.99" y="438.65" width="2.94" height="8.80" fill="#fbab78"/>
<rect x="126.78" y="438.65" width="2.94" height="8.80" fill="#f78a56"/>
<rect x="129.56" y="438.65" width="2.94" height="8.80" fill="#f78a56"/>
<rect x="132.35" y="438.65" width="2.94" height="8.80" fill="#dc2c20"/>
<rect x="135.14" y="438.65" width="2.94" height="8.80" fill="#c1121a"/>
<rect x="137.93" y="438.65" width="2.94" height="8.80" fill="#dc2c20"/>
<rect x="140.71" y="438.65" width="2.94" height="8.80" fill="#ee5f38"/>
<rect x="121.20" y="447.30" width="2.94" height="8.80" fill="#dc2c20"/>
<rect x="123.99" y="447.30" width="2.94" height="8.80" fill="#f78a56"/>
<rect x="126.78" y="447.30" width="2.94" height="8.80" fill="#ee5f38"/>
<rect x="129.56" y="447.30" width="2.94" height="8.80" fill="#c1121a"/>
<rect x="132.35" y="447.30" width="2.94" height="8.80" fill="#f78a56"/>
<rect x="135.14" y="447.30" width="2.94" height="8.80" fill="#ee5f38"/>
<rect x="137.93" y="447.30" width="2.94" height="8.80" fill="#f78a56"/>
<rect x="140.71" y="447.30" width="2.94" height="8.80" fill="#ee5f38"/>
<rect x="121.20" y="455.95" width="2.94" height="8.80" fill="#fcc89a"/>
<rect x="123.99" y="455.95" width="2.94" height="8.80" fill="#fcc89a"/>
<rect x="126.78" y="455.95" width="2.94" height="8.80" fill="#fcc89a"/>
<rect x="129.56" y="455.95" width="2.94" height="8.80" fill="#fddcb8"/>
<rect x="132.35" y="455.95" width="2.94" height="8.80" fill="#fcc89a"/>
<rect x="135.14" y="455.95" width="2.94" height="8.80" fill="#fcc89a"/>
<rect x="137.93" y="455.95" width="2.94" height="8.80" fill="#fcc89a"/>
<rect x="140.71" y="455.95" width="2.94" height="8.80" fill="#fcc89a"/>
<rect x="121.20" y="464.60" width="2.94" height="8.80" fill="#fcc89a"/>
<rect x="123.99" y="464.60" width="2.94" height="8.80" fill="#fcc89a"/>
<rect x="126.78" y="464.60" width="2.94" height="8.80" fill="#fbab78"/>
<rect x="129.56" y="464.60" width="2.94" height="8.80" fill="#fcc89a"/>
<rect x="132.35" y="464.60" width="2.94" height="8.80" fill="#fcc89a"/>
<rect x="135.14" y="464.60" width="2.94" height="8.80" fill="#fcc89a"/>
<rect x="137.93" y="464.60" width="2.94" height="8.80" fill="#fcc89a"/>
<rect x="140.71" y="464.60" width="2.94" height="8.80" fill="#fbab78"/>
<rect x="121.20" y="473.25" width="2.94" height="8.80" fill="#fcc89a"/>
<rect x="123.99" y="473.25" width="2.94" height="8.80" fill="#fddcb8"/>
<rect x="126.78" y="473.25" width="2.94" height="8.80" fill="#fcc89a"/>
<rect x="129.56" y="473.25" width="2.94" height="8.80" fill="#fcc89a"/>
<rect x="132.35" y="473.25" width="2.94" height="8.80" fill="#fcc89a"/>
<rect x="135.14" y="473.25" width="2.94" height="8.80" fill="#fbab78"/>
<rect x="137.93" y="473.25" width="2.94" height="8.80" fill="#fcc89a"/>
<rect x="140.71" y="473.25" width="2.94" height="8.80" fill="#fcc89a"/>
<rect x="121.20" y="412.70" width="22.30" height="69.20" fill="none" stroke="#3a2a20" stroke-width="0.7"/>
<rect x="68.10" y="484.20" width="3.10" height="8.23" fill="#fcc89a"/>
<rect x="71.05" y="484.20" width="3.10" height="8.23" fill="#fcc89a"/>
<rect x="73.99" y="484.20" width="3.10" height="8.23" fill="#fbab78"/>
<rect x="76.94" y="484.20" width="3.10" height="8.23" fill="#fbab78"/>
<rect x="79.89" y="484.20" width="3.10" height="8.23" fill="#fcc89a"/>
<rect x="82.84" y="484.20" width="3.10" height="8.23" fill="#fbab78"/>
<rect x="85.78" y="484.20" width="3.10" height="8.23" fill="#fcc89a"/>
<rect x="88.73" y="484.20" width="3.10" height="8.23" fill="#fcc89a"/>
<rect x="91.68" y="484.20" width="3.10" height="8.23" fill="#fcc89a"/>
<rect x="94.62" y="484.20" width="3.10" height="8.23" fill="#c1121a"/>
<rect x="97.57" y="484.20" width="3.10" height="8.23" fill="#fbab78"/>
<rect x="100.52" y="484.20" width="3.10" height="8.23" fill="#fcc89a"/>
<rect x="103.46" y="484.20" width="3.10" height="8.23" fill="#fbab78"/>
<rect x="106.41" y="484.20" width="3.10" height="8.23" fill="#fbab78"/>
<rect x="109.36" y="484.20" width="3.10" height="8.23" fill="#fcc89a"/>
<rect x="112.31" y="484.20" width="3.10" height="8.23" fill="#fcc89a"/>
<rect x="115.25" y="484.20" width="3.10" height="8.23" fill="#fbab78"/>
<rect x="68.10" y="492.27" width="3.10" height="8.23" fill="#fbab78"/>
<rect x="71.05" y="492.27" width="3.10" height="8.23" fill="#dc2c20"/>
<rect x="73.99" y="492.27" width="3.10" height="8.23" fill="#c1121a"/>
<rect x="76.94" y="492.27" width="3.10" height="8.23" fill="#f78a56"/>
<rect x="79.89" y="492.27" width="3.10" height="8.23" fill="#c1121a"/>
<rect x="82.84" y="492.27" width="3.10" height="8.23" fill="#ee5f38"/>
<rect x="85.78" y="492.27" width="3.10" height="8.23" fill="#fbab78"/>
<rect x="88.73" y="492.27" width="3.10" height="8.23" fill="#f78a56"/>
<rect x="91.68" y="492.27" width="3.10" height="8.23" fill="#fbab78"/>
<rect x="94.62" y="492.27" width="3.10" height="8.23" fill="#f78a56"/>
<rect x="97.57" y="492.27" width="3.10" height="8.23" fill="#fbab78"/>
<rect x="100.52" y="492.27" width="3.10" height="8.23" fill="#fbab78"/>
<rect x="103.46" y="492.27" width="3.10" height="8.23" fill="#fbab78"/>
<rect x="106.41" y="492.27" width="3.10" height="8.23" fill="#fcc89a"/>
<rect x="109.36" y="492.27" width="3.10" height="8.23" fill="#fbab78"/>
<rect x="112.31" y="492.27" width="3.10" height="8.23" fill="#f78a56"/>
<rect x="115.25" y="492.27" width="3.10" height="8.23" fill="#fbab78"/>
<rect x="68.10" y="500.35" width="3.10" height="8.23" fill="#fcc89a"/>
<rect x="71.05" y="500.35" width="3.10" height="8.23" fill="#fbab78"/>
<rect x="73.99" y="500.35" width="3.10" height="8.23" fill="#f78a56"/>
<rect x="76.94" y="500.35" width="3.10" height="8.23" fill="#dc2c20"/>
<rect x="79.89" y="500.35" width="3.10" height="8.23" fill="#f78a56"/>
<rect x="82.84" y="500.35" width="3.10" height="8.23" fill="#f78a56"/>
<rect x="85.78" y="500.35" width="3.10" height="8.23" fill="#c1121a"/>
<rect x="88.73" y="500.35" width="3.10" height="8.23" fill="#dc2c20"/>
<rect x="91.68" y="500.35" width="3.10" height="8.23" fill="#fbab78"/>
<rect x="94.62" y="500.35" width="3.10" height="8.23" fill="#fbab78"/>
<rect x="97.57" y="500.35" width="3.10" height="8.23" fill="#fcc89a"/>
<rect x="100.52" y="500.35" width="3.10" height="8.23" fill="#fbab78"/>
<rect x="103.46" y="500.35" width="3.10" height="8.23" fill="#fbab78"/>
<rect x="106.41" y="500.35" width="3.10" height="8.23" fill="#fbab78"/>
<rect x="109.36" y="500.35" width="3.10" height="8.23" fill="#f78a56"/>
<rect x="112.31" y="500.35" width="3.10" height="8.23" fill="#dc2c20"/>
<rect x="115.25" y="500.35" width="3.10" height="8.23" fill="#fbab78"/>
<rect x="68.10" y="508.43" width="3.10" height="8.23" fill="#fbab78"/>
<rect x="71.05" y="508.43" width="3.10" height="8.23" fill="#fcc89a"/>
<rect x="73.99" y="508.43" width="3.10" height="8.23" fill="#f78a56"/>
<rect x="76.94" y="508.43" width="3.10" height="8.23" fill="#fbab78"/>
<rect x="79.89" y="508.43" width="3.10" height="8.23" fill="#c1121a"/>
<rect x="82.84" y="508.43" width="3.10" height="8.23" fill="#fbab78"/>
<rect x="85.78" y="508.43" width="3.10" height="8.23" fill="#fbab78"/>
<rect x="88.73" y="508.43" width="3.10" height="8.23" fill="#f78a56"/>
<rect x="91.68" y="508.43" width="3.10" height="8.23" fill="#dc2c20"/>
<rect x="94.62" y="508.43" width="3.10" height="8.23" fill="#c1121a"/>
<rect x="97.57" y="508.43" width="3.10" height="8.23" fill="#fcc89a"/>
<rect x="100.52" y="508.43" width="3.10" height="8.23" fill="#fbab78"/>
<rect x="103.46" y="508.43" width="3.10" height="8.23" fill="#f78a56"/>
<rect x="106.41" y="508.43" width="3.10" height="8.23" fill="#fcc89a"/>
<rect x="109.36" y="508.43" width="3.10" height="8.23" fill="#fcc89a"/>
<rect x="112.31" y="508.43" width="3.10" height="8.23" fill="#f78a56"/>
<rect x="115.25" y="508.43" width="3.10" height="8.23" fill="#ee5f38"/>
<rect x="68.10" y="484.20" width="50.10" height="32.30" fill="none" stroke="#3a2a20" stroke-width="0.7"/>
<rect x="121.20" y="484.20" width="2.94" height="8.23" fill="#fbab78"/>
<rect x="123.99" y="484.20" width="2.94" height="8.23" fill="#fbab78"/>
<rect x="126.78" y="484.20" width="2.94" height="8.23" fill="#f78a56"/>
<rect x="129.56" y="484.20" width="2.94" height="8.23" fill="#f78a56"/>
<rect x="132.35" y="484.20" width="2.94" height="8.23" fill="#fbab78"/>
<rect x="135.14" y="484.20" width="2.94" height="8.23" fill="#fbab78"/>
<rect x="137.93" y="484.20" width="2.94" height="8.23" fill="#fbab78"/>
<rect x="140.71" y="484.20" width="2.94" height="8.23" fill="#fbab78"/>
<rect x="121.20" y="492.27" width="2.94" height="8.23" fill="#fcc89a"/>
<rect x="123.99" y="492.27" width="2.94" height="8.23" fill="#fbab78"/>
<rect x="126.78" y="492.27" width="2.94" height="8.23" fill="#fcc89a"/>
<rect x="129.56" y="492.27" width="2.94" height="8.23" fill="#fbab78"/>
<rect x="132.35" y="492.27" width="2.94" height="8.23" fill="#fbab78"/>
<rect x="135.14" y="492.27" width="2.94" height="8.23" fill="#fcc89a"/>
<rect x="137.93" y="492.27" width="2.94" height="8.23" fill="#fcc89a"/>
<rect x="140.71" y="492.27" width="2.94" height="8.23" fill="#fbab78"/>
<rect x="121.20" y="500.35" width="2.94" height="8.23" fill="#fcc89a"/>
<rect x="123.99" y="500.35" width="2.94" height="8.23" fill="#fcc89a"/>
<rect x="126.78" y="500.35" width="2.94" height="8.23" fill="#fbab78"/>
<rect x="129.56" y="500.35" width="2.94" height="8.23" fill="#fcc89a"/>
<rect x="132.35" y="500.35" width="2.94" height="8.23" fill="#fcc89a"/>
<rect x="135.14" y="500.35" width="2.94" height="8.23" fill="#fcc89a"/>
<rect x="137.93" y="500.35" width="2.94" height="8.23" fill="#fcc89a"/>
<rect x="140.71" y="500.35" width="2.94" height="8.23" fill="#fbab78"/>
<rect x="121.20" y="508.43" width="2.94" height="8.23" fill="#f78a56"/>
<rect x="123.99" y="508.43" width="2.94" height="8.23" fill="#dc2c20"/>
<rect x="126.78" y="508.43" width="2.94" height="8.23" fill="#ee5f38"/>
<rect x="129.56" y="508.43" width="2.94" height="8.23" fill="#fcc89a"/>
<rect x="132.35" y="508.43" width="2.94" height="8.23" fill="#fcc89a"/>
<rect x="135.14" y="508.43" width="2.94" height="8.23" fill="#fcc89a"/>
<rect x="137.93" y="508.43" width="2.94" height="8.23" fill="#fbab78"/>
<rect x="140.71" y="508.43" width="2.94" height="8.23" fill="#fcc89a"/>
<rect x="121.20" y="484.20" width="22.30" height="32.30" fill="none" stroke="#3a2a20" stroke-width="0.7"/>
<text x="65.80" y="418.90" font-size="6.5" text-anchor="end" fill="#34343c" stroke="#34343c" stroke-width="0.14">Naive CD4<tspan dy="-2.3" font-size="4.6">+</tspan></text>
<circle cx="26.60" cy="416.60" r="1.45" fill="#2a86a0" stroke="#1a3a4a" stroke-width="0.6"/>
<text x="65.80" y="428.10" font-size="6.5" text-anchor="end" fill="#34343c" stroke="#34343c" stroke-width="0.14">γδ T cells</text>
<circle cx="35.00" cy="425.80" r="1.45" fill="#ffffff" stroke="#6a6a72" stroke-width="0.6"/>
<text x="65.80" y="436.90" font-size="6.5" text-anchor="end" fill="#34343c" stroke="#34343c" stroke-width="0.14">Memory CD8<tspan dy="-2.3" font-size="4.6">+</tspan><tspan dy="2.3"> (1)</tspan></text>
<circle cx="10.00" cy="434.60" r="1.45" fill="#7a7aa8" stroke="#3a3a5a" stroke-width="0.6"/>
<text x="65.80" y="445.20" font-size="6.5" text-anchor="end" fill="#34343c" stroke="#34343c" stroke-width="0.14">Naive CD8<tspan dy="-2.3" font-size="4.6">+</tspan></text>
<circle cx="26.60" cy="442.90" r="1.45" fill="#ffffff" stroke="#6a6a72" stroke-width="0.6"/>
<text x="65.80" y="453.90" font-size="6.5" text-anchor="end" fill="#34343c" stroke="#34343c" stroke-width="0.14">Effector CD8<tspan dy="-2.3" font-size="4.6">+</tspan><tspan dy="2.3"> (2)</tspan></text>
<circle cx="11.50" cy="451.60" r="1.45" fill="#c4c4cc" stroke="#5a5a62" stroke-width="0.6"/>
<text x="65.80" y="462.50" font-size="6.5" text-anchor="end" fill="#34343c" stroke="#34343c" stroke-width="0.14">Treg</text>
<circle cx="47.60" cy="460.20" r="1.45" fill="#1b1b4e" stroke="#0a0a2a" stroke-width="0.6"/>
<text x="65.80" y="471.00" font-size="6.5" text-anchor="end" fill="#34343c" stroke="#34343c" stroke-width="0.14">NK</text>
<circle cx="51.40" cy="468.70" r="1.45" fill="#16162e" stroke="#000" stroke-width="0.6"/>
<text x="65.80" y="479.50" font-size="6.5" text-anchor="end" fill="#34343c" stroke="#34343c" stroke-width="0.14">Memory CD4<tspan dy="-2.3" font-size="4.6">+</tspan></text>
<circle cx="18.80" cy="477.20" r="1.45" fill="#2f62a4" stroke="#1a2a5a" stroke-width="0.6"/>
<text x="65.80" y="490.50" font-size="6.5" text-anchor="end" fill="#34343c" stroke="#34343c" stroke-width="0.14">MAIT</text>
<circle cx="45.40" cy="488.20" r="1.45" fill="#9cc4e0" stroke="#3a5a7a" stroke-width="0.6"/>
<text x="65.80" y="499.10" font-size="6.5" text-anchor="end" fill="#34343c" stroke="#34343c" stroke-width="0.14">Memory CD8<tspan dy="-2.3" font-size="4.6">+</tspan><tspan dy="2.3"> (2)</tspan></text>
<circle cx="10.00" cy="496.80" r="1.45" fill="#5c5c8e" stroke="#2a2a4a" stroke-width="0.6"/>
<text x="65.80" y="507.60" font-size="6.5" text-anchor="end" fill="#34343c" stroke="#34343c" stroke-width="0.14">CD56<tspan dy="-2.3" font-size="4.6">bright</tspan><tspan dy="2.3"> NK</tspan></text>
<circle cx="19.50" cy="505.30" r="1.45" fill="#1b1b4e" stroke="#0a0a2a" stroke-width="0.6"/>
<text x="65.80" y="516.30" font-size="6.5" text-anchor="end" fill="#34343c" stroke="#34343c" stroke-width="0.14">Effector CD8<tspan dy="-2.3" font-size="4.6">+</tspan><tspan dy="2.3"> (1)</tspan></text>
<circle cx="10.00" cy="514.00" r="1.45" fill="#ffffff" stroke="#8a8a92" stroke-width="0.6"/>
<rect x="145.90" y="414.82" width="22.10" height="4.40" fill="#44546a"/>
<rect x="145.90" y="423.48" width="21.40" height="4.40" fill="#44546a"/>
<rect x="145.90" y="432.12" width="16.80" height="4.40" fill="#44546a"/>
<rect x="145.90" y="440.77" width="16.30" height="4.40" fill="#44546a"/>
<rect x="145.90" y="449.43" width="10.60" height="4.40" fill="#44546a"/>
<rect x="145.90" y="458.07" width="9.90" height="4.40" fill="#44546a"/>
<rect x="145.90" y="466.72" width="7.60" height="4.40" fill="#44546a"/>
<rect x="145.90" y="475.38" width="5.30" height="4.40" fill="#44546a"/>
<rect x="145.90" y="486.04" width="3.00" height="4.40" fill="#c9c9cf"/>
<rect x="145.90" y="494.11" width="1.70" height="4.40" fill="#c9c9cf"/>
<rect x="145.90" y="502.19" width="1.50" height="4.40" fill="#c9c9cf"/>
<rect x="145.90" y="510.26" width="1.30" height="4.40" fill="#c9c9cf"/>
<line x1="145.40" y1="518.80" x2="169.40" y2="518.80" stroke="#111" stroke-width="0.8"/>
<line x1="146.00" y1="518.80" x2="146.00" y2="520.80" stroke="#111" stroke-width="0.6"/>
<line x1="150.50" y1="518.80" x2="150.50" y2="520.80" stroke="#111" stroke-width="0.6"/>
<line x1="155.00" y1="518.80" x2="155.00" y2="520.80" stroke="#111" stroke-width="0.6"/>
<line x1="159.50" y1="518.80" x2="159.50" y2="520.80" stroke="#111" stroke-width="0.6"/>
<line x1="164.00" y1="518.80" x2="164.00" y2="520.80" stroke="#111" stroke-width="0.6"/>
<line x1="168.50" y1="518.80" x2="168.50" y2="520.80" stroke="#111" stroke-width="0.6"/>
<text x="146.20" y="528.80" font-size="6.2" text-anchor="middle" fill="#34343c" stroke="#34343c" stroke-width="0.14">0</text>
<text x="153.40" y="528.80" font-size="6.2" text-anchor="middle" fill="#34343c" stroke="#34343c" stroke-width="0.14">–2</text>
<text x="162.40" y="528.80" font-size="6.2" text-anchor="middle" fill="#34343c" stroke="#34343c" stroke-width="0.14">–4</text>
<text x="0.00" y="0.00" font-size="9.2" text-anchor="middle" fill="#34343c" stroke="#34343c" stroke-width="0.14" transform="translate(157.60 540.60) scale(0.76 1)">-log<tspan dy="2.2" font-size="6.8">10</tspan></text>
<text x="0.00" y="0.00" font-size="9.0" text-anchor="middle" fill="#34343c" stroke="#34343c" stroke-width="0.14" transform="translate(157.60 550.40) scale(0.76 1)">(<tspan font-style="italic">P</tspan> value)</text>
<rect x="154.10" y="397.10" width="7.70" height="3.80" fill="#44546a"/>
<rect x="154.10" y="404.40" width="7.70" height="3.80" fill="#c9c9cf"/>
<text x="164.80" y="401.10" font-size="5.9" fill="#34343c" stroke="#34343c" stroke-width="0.14"><tspan font-style="italic">P</tspan> &lt; .05</text>
<text x="164.80" y="408.40" font-size="5.9" fill="#34343c" stroke="#34343c" stroke-width="0.14"><tspan font-style="italic">P</tspan> &gt; .05</text>
<text x="106.80" y="529.00" font-size="6.2" text-anchor="middle" fill="#34343c" stroke="#34343c" stroke-width="0.14">Abundance</text>
<text x="106.80" y="536.90" font-size="6.2" text-anchor="middle" fill="#34343c" stroke="#34343c" stroke-width="0.14">Z score</text>
<defs><linearGradient id="zg90" x1="0" x2="1" y1="0" y2="0"><stop offset="0" stop-color="#fff7ec"/><stop offset="0.3" stop-color="#fdd9ae"/><stop offset="0.55" stop-color="#fc9a62"/><stop offset="0.78" stop-color="#e23523"/><stop offset="1" stop-color="#8f0510"/></linearGradient></defs>
<rect x="90.60" y="540.00" width="32.70" height="5.50" fill="url(#zg90)" stroke="#3a2a20" stroke-width="0.6"/>
<line x1="93.87" y1="544.30" x2="93.87" y2="545.50" stroke="#3a2a20" stroke-width="0.5"/>
<line x1="100.41" y1="544.30" x2="100.41" y2="545.50" stroke="#3a2a20" stroke-width="0.5"/>
<line x1="106.95" y1="544.30" x2="106.95" y2="545.50" stroke="#3a2a20" stroke-width="0.5"/>
<line x1="113.49" y1="544.30" x2="113.49" y2="545.50" stroke="#3a2a20" stroke-width="0.5"/>
<line x1="120.03" y1="544.30" x2="120.03" y2="545.50" stroke="#3a2a20" stroke-width="0.5"/>
<text x="93.00" y="555.80" font-size="6.4" text-anchor="middle" fill="#34343c" stroke="#34343c" stroke-width="0.14">–2</text>
<text x="106.90" y="555.80" font-size="6.4" text-anchor="middle" fill="#34343c" stroke="#34343c" stroke-width="0.14">0</text>
<text x="121.30" y="555.80" font-size="6.4" text-anchor="middle" fill="#34343c" stroke="#34343c" stroke-width="0.14">2</text>
<text x="260.80" y="397.20" font-size="6.2" fill="#34343c" stroke="#34343c" stroke-width="0.14">post-</text>
<text x="260.80" y="403.80" font-size="6.2" fill="#34343c" stroke="#34343c" stroke-width="0.14">HSCT</text>
<text x="281.80" y="397.20" font-size="6.2" fill="#34343c" stroke="#34343c" stroke-width="0.14">Transplant-</text>
<text x="281.80" y="403.80" font-size="6.2" fill="#34343c" stroke="#34343c" stroke-width="0.14">naive</text>
<rect x="260.30" y="408.30" width="19.30" height="4.20" fill="#1a9a4a" stroke="#2a2a2a" stroke-width="0.5" rx="0.8"/>
<rect x="281.40" y="408.30" width="24.60" height="4.20" fill="#b4b4b8" stroke="#2a2a2a" stroke-width="0.5" rx="0.8"/>
<rect x="260.50" y="415.20" width="2.91" height="8.52" fill="#fbab78"/>
<rect x="263.26" y="415.20" width="2.91" height="8.52" fill="#fcc89a"/>
<rect x="266.01" y="415.20" width="2.91" height="8.52" fill="#fbab78"/>
<rect x="268.77" y="415.20" width="2.91" height="8.52" fill="#f78a56"/>
<rect x="271.53" y="415.20" width="2.91" height="8.52" fill="#fcc89a"/>
<rect x="274.29" y="415.20" width="2.91" height="8.52" fill="#fbab78"/>
<rect x="277.04" y="415.20" width="2.91" height="8.52" fill="#fbab78"/>
<rect x="260.50" y="423.57" width="2.91" height="8.52" fill="#fbab78"/>
<rect x="263.26" y="423.57" width="2.91" height="8.52" fill="#fcc89a"/>
<rect x="266.01" y="423.57" width="2.91" height="8.52" fill="#fcc89a"/>
<rect x="268.77" y="423.57" width="2.91" height="8.52" fill="#f78a56"/>
<rect x="271.53" y="423.57" width="2.91" height="8.52" fill="#fcc89a"/>
<rect x="274.29" y="423.57" width="2.91" height="8.52" fill="#fcc89a"/>
<rect x="277.04" y="423.57" width="2.91" height="8.52" fill="#fbab78"/>
<rect x="260.50" y="431.93" width="2.91" height="8.52" fill="#fcc89a"/>
<rect x="263.26" y="431.93" width="2.91" height="8.52" fill="#fcc89a"/>
<rect x="266.01" y="431.93" width="2.91" height="8.52" fill="#ee5f38"/>
<rect x="268.77" y="431.93" width="2.91" height="8.52" fill="#fddcb8"/>
<rect x="271.53" y="431.93" width="2.91" height="8.52" fill="#feead2"/>
<rect x="274.29" y="431.93" width="2.91" height="8.52" fill="#feead2"/>
<rect x="277.04" y="431.93" width="2.91" height="8.52" fill="#f78a56"/>
<rect x="260.50" y="415.20" width="19.30" height="25.10" fill="none" stroke="#3a2a20" stroke-width="0.7"/>
<rect x="281.70" y="415.20" width="2.56" height="8.52" fill="#f78a56"/>
<rect x="284.11" y="415.20" width="2.56" height="8.52" fill="#fbab78"/>
<rect x="286.52" y="415.20" width="2.56" height="8.52" fill="#ee5f38"/>
<rect x="288.93" y="415.20" width="2.56" height="8.52" fill="#fbab78"/>
<rect x="291.34" y="415.20" width="2.56" height="8.52" fill="#fcc89a"/>
<rect x="293.75" y="415.20" width="2.56" height="8.52" fill="#dc2c20"/>
<rect x="296.16" y="415.20" width="2.56" height="8.52" fill="#fbab78"/>
<rect x="298.57" y="415.20" width="2.56" height="8.52" fill="#fcc89a"/>
<rect x="300.98" y="415.20" width="2.56" height="8.52" fill="#dc2c20"/>
<rect x="303.39" y="415.20" width="2.56" height="8.52" fill="#ee5f38"/>
<rect x="281.70" y="423.57" width="2.56" height="8.52" fill="#f78a56"/>
<rect x="284.11" y="423.57" width="2.56" height="8.52" fill="#c1121a"/>
<rect x="286.52" y="423.57" width="2.56" height="8.52" fill="#c1121a"/>
<rect x="288.93" y="423.57" width="2.56" height="8.52" fill="#dc2c20"/>
<rect x="291.34" y="423.57" width="2.56" height="8.52" fill="#f78a56"/>
<rect x="293.75" y="423.57" width="2.56" height="8.52" fill="#fbab78"/>
<rect x="296.16" y="423.57" width="2.56" height="8.52" fill="#f78a56"/>
<rect x="298.57" y="423.57" width="2.56" height="8.52" fill="#fbab78"/>
<rect x="300.98" y="423.57" width="2.56" height="8.52" fill="#f78a56"/>
<rect x="303.39" y="423.57" width="2.56" height="8.52" fill="#f78a56"/>
<rect x="281.70" y="431.93" width="2.56" height="8.52" fill="#fbab78"/>
<rect x="284.11" y="431.93" width="2.56" height="8.52" fill="#f78a56"/>
<rect x="286.52" y="431.93" width="2.56" height="8.52" fill="#ee5f38"/>
<rect x="288.93" y="431.93" width="2.56" height="8.52" fill="#f78a56"/>
<rect x="291.34" y="431.93" width="2.56" height="8.52" fill="#fbab78"/>
<rect x="293.75" y="431.93" width="2.56" height="8.52" fill="#dc2c20"/>
<rect x="296.16" y="431.93" width="2.56" height="8.52" fill="#fbab78"/>
<rect x="298.57" y="431.93" width="2.56" height="8.52" fill="#f78a56"/>
<rect x="300.98" y="431.93" width="2.56" height="8.52" fill="#dc2c20"/>
<rect x="303.39" y="431.93" width="2.56" height="8.52" fill="#dc2c20"/>
<rect x="281.70" y="415.20" width="24.10" height="25.10" fill="none" stroke="#3a2a20" stroke-width="0.7"/>
<rect x="260.50" y="442.80" width="2.91" height="8.61" fill="#fbab78"/>
<rect x="263.26" y="442.80" width="2.91" height="8.61" fill="#f78a56"/>
<rect x="266.01" y="442.80" width="2.91" height="8.61" fill="#c1121a"/>
<rect x="268.77" y="442.80" width="2.91" height="8.61" fill="#f78a56"/>
<rect x="271.53" y="442.80" width="2.91" height="8.61" fill="#c1121a"/>
<rect x="274.29" y="442.80" width="2.91" height="8.61" fill="#ee5f38"/>
<rect x="277.04" y="442.80" width="2.91" height="8.61" fill="#f78a56"/>
<rect x="260.50" y="451.26" width="2.91" height="8.61" fill="#fbab78"/>
<rect x="263.26" y="451.26" width="2.91" height="8.61" fill="#f78a56"/>
<rect x="266.01" y="451.26" width="2.91" height="8.61" fill="#fbab78"/>
<rect x="268.77" y="451.26" width="2.91" height="8.61" fill="#f78a56"/>
<rect x="271.53" y="451.26" width="2.91" height="8.61" fill="#f78a56"/>
<rect x="274.29" y="451.26" width="2.91" height="8.61" fill="#dc2c20"/>
<rect x="277.04" y="451.26" width="2.91" height="8.61" fill="#dc2c20"/>
<rect x="260.50" y="459.71" width="2.91" height="8.61" fill="#dc2c20"/>
<rect x="263.26" y="459.71" width="2.91" height="8.61" fill="#f78a56"/>
<rect x="266.01" y="459.71" width="2.91" height="8.61" fill="#fbab78"/>
<rect x="268.77" y="459.71" width="2.91" height="8.61" fill="#fbab78"/>
<rect x="271.53" y="459.71" width="2.91" height="8.61" fill="#dc2c20"/>
<rect x="274.29" y="459.71" width="2.91" height="8.61" fill="#ee5f38"/>
<rect x="277.04" y="459.71" width="2.91" height="8.61" fill="#fbab78"/>
<rect x="260.50" y="468.17" width="2.91" height="8.61" fill="#fbab78"/>
<rect x="263.26" y="468.17" width="2.91" height="8.61" fill="#fbab78"/>
<rect x="266.01" y="468.17" width="2.91" height="8.61" fill="#f78a56"/>
<rect x="268.77" y="468.17" width="2.91" height="8.61" fill="#ee5f38"/>
<rect x="271.53" y="468.17" width="2.91" height="8.61" fill="#fbab78"/>
<rect x="274.29" y="468.17" width="2.91" height="8.61" fill="#f78a56"/>
<rect x="277.04" y="468.17" width="2.91" height="8.61" fill="#fbab78"/>
<rect x="260.50" y="476.62" width="2.91" height="8.61" fill="#fbab78"/>
<rect x="263.26" y="476.62" width="2.91" height="8.61" fill="#fcc89a"/>
<rect x="266.01" y="476.62" width="2.91" height="8.61" fill="#fbab78"/>
<rect x="268.77" y="476.62" width="2.91" height="8.61" fill="#dc2c20"/>
<rect x="271.53" y="476.62" width="2.91" height="8.61" fill="#fbab78"/>
<rect x="274.29" y="476.62" width="2.91" height="8.61" fill="#fbab78"/>
<rect x="277.04" y="476.62" width="2.91" height="8.61" fill="#fcc89a"/>
<rect x="260.50" y="485.08" width="2.91" height="8.61" fill="#fcc89a"/>
<rect x="263.26" y="485.08" width="2.91" height="8.61" fill="#fcc89a"/>
<rect x="266.01" y="485.08" width="2.91" height="8.61" fill="#fbab78"/>
<rect x="268.77" y="485.08" width="2.91" height="8.61" fill="#fcc89a"/>
<rect x="271.53" y="485.08" width="2.91" height="8.61" fill="#fbab78"/>
<rect x="274.29" y="485.08" width="2.91" height="8.61" fill="#fcc89a"/>
<rect x="277.04" y="485.08" width="2.91" height="8.61" fill="#fcc89a"/>
<rect x="260.50" y="493.53" width="2.91" height="8.61" fill="#fbab78"/>
<rect x="263.26" y="493.53" width="2.91" height="8.61" fill="#fbab78"/>
<rect x="266.01" y="493.53" width="2.91" height="8.61" fill="#c1121a"/>
<rect x="268.77" y="493.53" width="2.91" height="8.61" fill="#f78a56"/>
<rect x="271.53" y="493.53" width="2.91" height="8.61" fill="#fbab78"/>
<rect x="274.29" y="493.53" width="2.91" height="8.61" fill="#dc2c20"/>
<rect x="277.04" y="493.53" width="2.91" height="8.61" fill="#fbab78"/>
<rect x="260.50" y="501.99" width="2.91" height="8.61" fill="#fbab78"/>
<rect x="263.26" y="501.99" width="2.91" height="8.61" fill="#fcc89a"/>
<rect x="266.01" y="501.99" width="2.91" height="8.61" fill="#f78a56"/>
<rect x="268.77" y="501.99" width="2.91" height="8.61" fill="#fcc89a"/>
<rect x="271.53" y="501.99" width="2.91" height="8.61" fill="#fcc89a"/>
<rect x="274.29" y="501.99" width="2.91" height="8.61" fill="#fbab78"/>
<rect x="277.04" y="501.99" width="2.91" height="8.61" fill="#fbab78"/>
<rect x="260.50" y="510.44" width="2.91" height="8.61" fill="#fbab78"/>
<rect x="263.26" y="510.44" width="2.91" height="8.61" fill="#f78a56"/>
<rect x="266.01" y="510.44" width="2.91" height="8.61" fill="#fbab78"/>
<rect x="268.77" y="510.44" width="2.91" height="8.61" fill="#fcc89a"/>
<rect x="271.53" y="510.44" width="2.91" height="8.61" fill="#fcc89a"/>
<rect x="274.29" y="510.44" width="2.91" height="8.61" fill="#f78a56"/>
<rect x="277.04" y="510.44" width="2.91" height="8.61" fill="#f78a56"/>
<rect x="260.50" y="442.80" width="19.30" height="76.10" fill="none" stroke="#3a2a20" stroke-width="0.7"/>
<rect x="281.70" y="442.80" width="2.56" height="8.61" fill="#fbab78"/>
<rect x="284.11" y="442.80" width="2.56" height="8.61" fill="#fcc89a"/>
<rect x="286.52" y="442.80" width="2.56" height="8.61" fill="#fbab78"/>
<rect x="288.93" y="442.80" width="2.56" height="8.61" fill="#fcc89a"/>
<rect x="291.34" y="442.80" width="2.56" height="8.61" fill="#fbab78"/>
<rect x="293.75" y="442.80" width="2.56" height="8.61" fill="#fbab78"/>
<rect x="296.16" y="442.80" width="2.56" height="8.61" fill="#fbab78"/>
<rect x="298.57" y="442.80" width="2.56" height="8.61" fill="#fcc89a"/>
<rect x="300.98" y="442.80" width="2.56" height="8.61" fill="#f78a56"/>
<rect x="303.39" y="442.80" width="2.56" height="8.61" fill="#fbab78"/>
<rect x="281.70" y="451.26" width="2.56" height="8.61" fill="#fbab78"/>
<rect x="284.11" y="451.26" width="2.56" height="8.61" fill="#fbab78"/>
<rect x="286.52" y="451.26" width="2.56" height="8.61" fill="#fcc89a"/>
<rect x="288.93" y="451.26" width="2.56" height="8.61" fill="#f78a56"/>
<rect x="291.34" y="451.26" width="2.56" height="8.61" fill="#fcc89a"/>
<rect x="293.75" y="451.26" width="2.56" height="8.61" fill="#fbab78"/>
<rect x="296.16" y="451.26" width="2.56" height="8.61" fill="#fcc89a"/>
<rect x="298.57" y="451.26" width="2.56" height="8.61" fill="#fcc89a"/>
<rect x="300.98" y="451.26" width="2.56" height="8.61" fill="#fbab78"/>
<rect x="303.39" y="451.26" width="2.56" height="8.61" fill="#fcc89a"/>
<rect x="281.70" y="459.71" width="2.56" height="8.61" fill="#fcc89a"/>
<rect x="284.11" y="459.71" width="2.56" height="8.61" fill="#fbab78"/>
<rect x="286.52" y="459.71" width="2.56" height="8.61" fill="#f78a56"/>
<rect x="288.93" y="459.71" width="2.56" height="8.61" fill="#fbab78"/>
<rect x="291.34" y="459.71" width="2.56" height="8.61" fill="#dc2c20"/>
<rect x="293.75" y="459.71" width="2.56" height="8.61" fill="#fbab78"/>
<rect x="296.16" y="459.71" width="2.56" height="8.61" fill="#ee5f38"/>
<rect x="298.57" y="459.71" width="2.56" height="8.61" fill="#fcc89a"/>
<rect x="300.98" y="459.71" width="2.56" height="8.61" fill="#fbab78"/>
<rect x="303.39" y="459.71" width="2.56" height="8.61" fill="#fcc89a"/>
<rect x="281.70" y="468.17" width="2.56" height="8.61" fill="#fbab78"/>
<rect x="284.11" y="468.17" width="2.56" height="8.61" fill="#dc2c20"/>
<rect x="286.52" y="468.17" width="2.56" height="8.61" fill="#ee5f38"/>
<rect x="288.93" y="468.17" width="2.56" height="8.61" fill="#dc2c20"/>
<rect x="291.34" y="468.17" width="2.56" height="8.61" fill="#f78a56"/>
<rect x="293.75" y="468.17" width="2.56" height="8.61" fill="#fbab78"/>
<rect x="296.16" y="468.17" width="2.56" height="8.61" fill="#fcc89a"/>
<rect x="298.57" y="468.17" width="2.56" height="8.61" fill="#f78a56"/>
<rect x="300.98" y="468.17" width="2.56" height="8.61" fill="#fcc89a"/>
<rect x="303.39" y="468.17" width="2.56" height="8.61" fill="#fbab78"/>
<rect x="281.70" y="476.62" width="2.56" height="8.61" fill="#c1121a"/>
<rect x="284.11" y="476.62" width="2.56" height="8.61" fill="#f78a56"/>
<rect x="286.52" y="476.62" width="2.56" height="8.61" fill="#ee5f38"/>
<rect x="288.93" y="476.62" width="2.56" height="8.61" fill="#fbab78"/>
<rect x="291.34" y="476.62" width="2.56" height="8.61" fill="#fcc89a"/>
<rect x="293.75" y="476.62" width="2.56" height="8.61" fill="#fbab78"/>
<rect x="296.16" y="476.62" width="2.56" height="8.61" fill="#f78a56"/>
<rect x="298.57" y="476.62" width="2.56" height="8.61" fill="#fcc89a"/>
<rect x="300.98" y="476.62" width="2.56" height="8.61" fill="#ee5f38"/>
<rect x="303.39" y="476.62" width="2.56" height="8.61" fill="#fbab78"/>
<rect x="281.70" y="485.08" width="2.56" height="8.61" fill="#f78a56"/>
<rect x="284.11" y="485.08" width="2.56" height="8.61" fill="#c1121a"/>
<rect x="286.52" y="485.08" width="2.56" height="8.61" fill="#f78a56"/>
<rect x="288.93" y="485.08" width="2.56" height="8.61" fill="#fbab78"/>
<rect x="291.34" y="485.08" width="2.56" height="8.61" fill="#fbab78"/>
<rect x="293.75" y="485.08" width="2.56" height="8.61" fill="#fcc89a"/>
<rect x="296.16" y="485.08" width="2.56" height="8.61" fill="#fbab78"/>
<rect x="298.57" y="485.08" width="2.56" height="8.61" fill="#fbab78"/>
<rect x="300.98" y="485.08" width="2.56" height="8.61" fill="#fcc89a"/>
<rect x="303.39" y="485.08" width="2.56" height="8.61" fill="#fbab78"/>
<rect x="281.70" y="493.53" width="2.56" height="8.61" fill="#fbab78"/>
<rect x="284.11" y="493.53" width="2.56" height="8.61" fill="#f78a56"/>
<rect x="286.52" y="493.53" width="2.56" height="8.61" fill="#fbab78"/>
<rect x="288.93" y="493.53" width="2.56" height="8.61" fill="#fcc89a"/>
<rect x="291.34" y="493.53" width="2.56" height="8.61" fill="#fbab78"/>
<rect x="293.75" y="493.53" width="2.56" height="8.61" fill="#fcc89a"/>
<rect x="296.16" y="493.53" width="2.56" height="8.61" fill="#f78a56"/>
<rect x="298.57" y="493.53" width="2.56" height="8.61" fill="#ee5f38"/>
<rect x="300.98" y="493.53" width="2.56" height="8.61" fill="#dc2c20"/>
<rect x="303.39" y="493.53" width="2.56" height="8.61" fill="#fbab78"/>
<rect x="281.70" y="501.99" width="2.56" height="8.61" fill="#fbab78"/>
<rect x="284.11" y="501.99" width="2.56" height="8.61" fill="#ee5f38"/>
<rect x="286.52" y="501.99" width="2.56" height="8.61" fill="#dc2c20"/>
<rect x="288.93" y="501.99" width="2.56" height="8.61" fill="#fbab78"/>
<rect x="291.34" y="501.99" width="2.56" height="8.61" fill="#fcc89a"/>
<rect x="293.75" y="501.99" width="2.56" height="8.61" fill="#fcc89a"/>
<rect x="296.16" y="501.99" width="2.56" height="8.61" fill="#fbab78"/>
<rect x="298.57" y="501.99" width="2.56" height="8.61" fill="#dc2c20"/>
<rect x="300.98" y="501.99" width="2.56" height="8.61" fill="#c1121a"/>
<rect x="303.39" y="501.99" width="2.56" height="8.61" fill="#f78a56"/>
<rect x="281.70" y="510.44" width="2.56" height="8.61" fill="#f78a56"/>
<rect x="284.11" y="510.44" width="2.56" height="8.61" fill="#fbab78"/>
<rect x="286.52" y="510.44" width="2.56" height="8.61" fill="#ee5f38"/>
<rect x="288.93" y="510.44" width="2.56" height="8.61" fill="#dc2c20"/>
<rect x="291.34" y="510.44" width="2.56" height="8.61" fill="#fbab78"/>
<rect x="293.75" y="510.44" width="2.56" height="8.61" fill="#fcc89a"/>
<rect x="296.16" y="510.44" width="2.56" height="8.61" fill="#fbab78"/>
<rect x="298.57" y="510.44" width="2.56" height="8.61" fill="#f78a56"/>
<rect x="300.98" y="510.44" width="2.56" height="8.61" fill="#dc2c20"/>
<rect x="303.39" y="510.44" width="2.56" height="8.61" fill="#ee5f38"/>
<rect x="281.70" y="442.80" width="24.10" height="76.10" fill="none" stroke="#3a2a20" stroke-width="0.7"/>
<text x="255.30" y="421.80" font-size="6.45" text-anchor="end" fill="#34343c" stroke="#34343c" stroke-width="0.14">Naive CD4<tspan dy="-2.3" font-size="4.6">+</tspan></text>
<circle cx="216.60" cy="419.50" r="1.45" fill="#2a86a0" stroke="#1a3a4a" stroke-width="0.6"/>
<text x="255.30" y="429.90" font-size="6.45" text-anchor="end" fill="#34343c" stroke="#34343c" stroke-width="0.14">Effector CD8<tspan dy="-2.3" font-size="4.6">+</tspan><tspan dy="2.3"> (2)</tspan></text>
<circle cx="201.00" cy="427.60" r="1.45" fill="#ffffff" stroke="#6a6a72" stroke-width="0.6"/>
<text x="255.30" y="438.50" font-size="6.45" text-anchor="end" fill="#34343c" stroke="#34343c" stroke-width="0.14">Memory CD4<tspan dy="-2.3" font-size="4.6">+</tspan></text>
<circle cx="208.70" cy="436.20" r="1.45" fill="#2f62a4" stroke="#1a2a5a" stroke-width="0.6"/>
<text x="255.30" y="449.20" font-size="6.45" text-anchor="end" fill="#34343c" stroke="#34343c" stroke-width="0.14">Memory CD8<tspan dy="-2.3" font-size="4.6">+</tspan><tspan dy="2.3"> (2)</tspan></text>
<circle cx="199.60" cy="446.90" r="1.45" fill="#5c5c8e" stroke="#2a2a4a" stroke-width="0.6"/>
<text x="255.30" y="457.80" font-size="6.45" text-anchor="end" fill="#34343c" stroke="#34343c" stroke-width="0.14">CD56<tspan dy="-2.3" font-size="4.6">bright</tspan><tspan dy="2.3"> NK</tspan></text>
<circle cx="209.60" cy="455.50" r="1.45" fill="#1b1b4e" stroke="#0a0a2a" stroke-width="0.6"/>
<text x="255.30" y="465.90" font-size="6.45" text-anchor="end" fill="#34343c" stroke="#34343c" stroke-width="0.14">NK</text>
<circle cx="241.50" cy="463.60" r="1.45" fill="#16162e" stroke="#000" stroke-width="0.6"/>
<text x="255.30" y="474.30" font-size="6.45" text-anchor="end" fill="#34343c" stroke="#34343c" stroke-width="0.14">γδ T cells</text>
<circle cx="225.00" cy="472.00" r="1.45" fill="#eef4f4" stroke="#5a8a8a" stroke-width="0.6"/>
<text x="255.30" y="482.80" font-size="6.45" text-anchor="end" fill="#34343c" stroke="#34343c" stroke-width="0.14">Effector CD8<tspan dy="-2.3" font-size="4.6">+</tspan><tspan dy="2.3"> (1)</tspan></text>
<circle cx="201.00" cy="480.50" r="1.45" fill="#ffffff" stroke="#6a6a72" stroke-width="0.6"/>
<text x="255.30" y="491.30" font-size="6.45" text-anchor="end" fill="#34343c" stroke="#34343c" stroke-width="0.14">MAIT</text>
<circle cx="234.70" cy="489.00" r="1.45" fill="#9cc4e0" stroke="#3a5a7a" stroke-width="0.6"/>
<text x="255.30" y="499.50" font-size="6.45" text-anchor="end" fill="#34343c" stroke="#34343c" stroke-width="0.14">Treg</text>
<circle cx="237.90" cy="497.20" r="1.45" fill="#1b1b4e" stroke="#0a0a2a" stroke-width="0.6"/>
<text x="255.30" y="507.80" font-size="6.45" text-anchor="end" fill="#34343c" stroke="#34343c" stroke-width="0.14">Memory CD8<tspan dy="-2.3" font-size="4.6">+</tspan><tspan dy="2.3"> (1)</tspan></text>
<circle cx="199.60" cy="505.50" r="1.45" fill="#5c5c8e" stroke="#2a2a4a" stroke-width="0.6"/>
<text x="255.30" y="516.40" font-size="6.45" text-anchor="end" fill="#34343c" stroke="#34343c" stroke-width="0.14">Naive CD8<tspan dy="-2.3" font-size="4.6">+</tspan></text>
<circle cx="216.00" cy="514.10" r="1.45" fill="#ffffff" stroke="#8a8a92" stroke-width="0.6"/>
<rect x="307.80" y="417.50" width="22.40" height="4.00" fill="#44546a"/>
<rect x="307.80" y="425.60" width="20.60" height="4.00" fill="#44546a"/>
<rect x="307.80" y="434.20" width="16.80" height="4.00" fill="#44546a"/>
<rect x="307.80" y="444.90" width="14.20" height="4.00" fill="#c9c9cf"/>
<rect x="307.80" y="453.50" width="12.90" height="4.00" fill="#c9c9cf"/>
<rect x="307.80" y="461.60" width="12.10" height="4.00" fill="#c9c9cf"/>
<rect x="307.80" y="470.00" width="8.50" height="4.00" fill="#c9c9cf"/>
<rect x="307.80" y="478.50" width="6.50" height="4.00" fill="#c9c9cf"/>
<rect x="307.80" y="487.00" width="6.00" height="4.00" fill="#c9c9cf"/>
<rect x="307.80" y="495.20" width="5.20" height="4.00" fill="#c9c9cf"/>
<rect x="307.80" y="503.50" width="4.70" height="4.00" fill="#c9c9cf"/>
<rect x="307.80" y="512.10" width="2.60" height="4.00" fill="#c9c9cf"/>
<line x1="307.60" y1="519.00" x2="332.80" y2="519.00" stroke="#111" stroke-width="0.8"/>
<line x1="308.20" y1="519.00" x2="308.20" y2="521.00" stroke="#111" stroke-width="0.6"/>
<line x1="313.80" y1="519.00" x2="313.80" y2="521.00" stroke="#111" stroke-width="0.6"/>
<line x1="319.40" y1="519.00" x2="319.40" y2="521.00" stroke="#111" stroke-width="0.6"/>
<line x1="325.00" y1="519.00" x2="325.00" y2="521.00" stroke="#111" stroke-width="0.6"/>
<line x1="330.60" y1="519.00" x2="330.60" y2="521.00" stroke="#111" stroke-width="0.6"/>
<text x="309.20" y="528.90" font-size="6.3" text-anchor="middle" fill="#34343c" stroke="#34343c" stroke-width="0.14">0</text>
<text x="320.60" y="528.90" font-size="6.3" text-anchor="middle" fill="#34343c" stroke="#34343c" stroke-width="0.14">–1</text>
<text x="0.00" y="0.00" font-size="9.2" text-anchor="middle" fill="#34343c" stroke="#34343c" stroke-width="0.14" transform="translate(321.00 541.30) scale(0.76 1)">-log<tspan dy="2.2" font-size="6.8">10</tspan></text>
<text x="0.00" y="0.00" font-size="9.0" text-anchor="middle" fill="#34343c" stroke="#34343c" stroke-width="0.14" transform="translate(321.00 550.70) scale(0.76 1)">(<tspan font-style="italic">P</tspan> value)</text>
<rect x="323.00" y="399.60" width="7.70" height="3.80" fill="#44546a"/>
<rect x="323.00" y="407.20" width="7.70" height="3.80" fill="#c9c9cf"/>
<text x="332.60" y="403.60" font-size="5.9" fill="#34343c" stroke="#34343c" stroke-width="0.14"><tspan font-style="italic">P</tspan> &lt; .05</text>
<text x="332.60" y="411.20" font-size="5.9" fill="#34343c" stroke="#34343c" stroke-width="0.14"><tspan font-style="italic">P</tspan> &gt; .05</text>
<text x="272.00" y="528.00" font-size="6.2" text-anchor="middle" fill="#34343c" stroke="#34343c" stroke-width="0.14">Abundance</text>
<text x="272.00" y="535.90" font-size="6.2" text-anchor="middle" fill="#34343c" stroke="#34343c" stroke-width="0.14">Z score</text>
<defs><linearGradient id="zg256" x1="0" x2="1" y1="0" y2="0"><stop offset="0" stop-color="#fff7ec"/><stop offset="0.3" stop-color="#fdd9ae"/><stop offset="0.55" stop-color="#fc9a62"/><stop offset="0.78" stop-color="#e23523"/><stop offset="1" stop-color="#8f0510"/></linearGradient></defs>
<rect x="256.20" y="539.40" width="31.90" height="5.10" fill="url(#zg256)" stroke="#3a2a20" stroke-width="0.6"/>
<line x1="259.39" y1="543.30" x2="259.39" y2="544.50" stroke="#3a2a20" stroke-width="0.5"/>
<line x1="265.77" y1="543.30" x2="265.77" y2="544.50" stroke="#3a2a20" stroke-width="0.5"/>
<line x1="272.15" y1="543.30" x2="272.15" y2="544.50" stroke="#3a2a20" stroke-width="0.5"/>
<line x1="278.53" y1="543.30" x2="278.53" y2="544.50" stroke="#3a2a20" stroke-width="0.5"/>
<line x1="284.91" y1="543.30" x2="284.91" y2="544.50" stroke="#3a2a20" stroke-width="0.5"/>
<text x="258.40" y="554.80" font-size="6.4" text-anchor="middle" fill="#34343c" stroke="#34343c" stroke-width="0.14">–2</text>
<text x="272.00" y="554.80" font-size="6.4" text-anchor="middle" fill="#34343c" stroke="#34343c" stroke-width="0.14">0</text>
<text x="286.40" y="554.80" font-size="6.4" text-anchor="middle" fill="#34343c" stroke="#34343c" stroke-width="0.14">2</text>
<line x1="392.00" y1="403.20" x2="392.00" y2="458.50" stroke="#111" stroke-width="1.0"/>
<line x1="391.50" y1="458.00" x2="474.40" y2="458.00" stroke="#111" stroke-width="1.0"/>
<line x1="388.60" y1="455.90" x2="392.00" y2="455.90" stroke="#111" stroke-width="0.7"/>
<text x="0.00" y="0.00" font-size="7.8" text-anchor="end" fill="#34343c" stroke="#34343c" stroke-width="0.14" transform="translate(387.60 458.50) scale(0.8 1)">0</text>
<line x1="388.60" y1="443.50" x2="392.00" y2="443.50" stroke="#111" stroke-width="0.7"/>
<text x="0.00" y="0.00" font-size="7.8" text-anchor="end" fill="#34343c" stroke="#34343c" stroke-width="0.14" transform="translate(387.60 446.10) scale(0.8 1)">10</text>
<line x1="388.60" y1="431.10" x2="392.00" y2="431.10" stroke="#111" stroke-width="0.7"/>
<text x="0.00" y="0.00" font-size="7.8" text-anchor="end" fill="#34343c" stroke="#34343c" stroke-width="0.14" transform="translate(387.60 433.70) scale(0.8 1)">20</text>
<line x1="388.60" y1="418.70" x2="392.00" y2="418.70" stroke="#111" stroke-width="0.7"/>
<text x="0.00" y="0.00" font-size="7.8" text-anchor="end" fill="#34343c" stroke="#34343c" stroke-width="0.14" transform="translate(387.60 421.30) scale(0.8 1)">30</text>
<line x1="388.60" y1="406.30" x2="392.00" y2="406.30" stroke="#111" stroke-width="0.7"/>
<text x="0.00" y="0.00" font-size="7.8" text-anchor="end" fill="#34343c" stroke="#34343c" stroke-width="0.14" transform="translate(387.60 408.90) scale(0.8 1)">40</text>
<text x="0.00" y="0.00" font-size="8.4" text-anchor="middle" fill="#4a4a52" stroke="#4a4a52" stroke-width="0.14" transform="translate(373.60 431.20) rotate(-90) scale(0.78 1)">% clonal T cell expansion</text>
<line x1="397.40" y1="458.00" x2="397.40" y2="460.00" stroke="#111" stroke-width="0.6"/>
<text x="0.00" y="0.00" font-size="6.3" text-anchor="end" fill="#34343c" stroke="#34343c" stroke-width="0.14" transform="translate(399.70 463.20) rotate(-90)">Naive CD8<tspan dy="-2.3" font-size="4.6">+</tspan></text>
<line x1="407.30" y1="458.00" x2="407.30" y2="460.00" stroke="#111" stroke-width="0.6"/>
<text x="0.00" y="0.00" font-size="6.3" text-anchor="end" fill="#34343c" stroke="#34343c" stroke-width="0.14" transform="translate(409.60 463.20) rotate(-90)">Naive CD4<tspan dy="-2.3" font-size="4.6">+</tspan></text>
<line x1="417.50" y1="458.00" x2="417.50" y2="460.00" stroke="#111" stroke-width="0.6"/>
<text x="0.00" y="0.00" font-size="6.3" text-anchor="end" fill="#34343c" stroke="#34343c" stroke-width="0.14" transform="translate(419.80 463.20) rotate(-90)">Treg</text>
<line x1="427.40" y1="458.00" x2="427.40" y2="460.00" stroke="#111" stroke-width="0.6"/>
<text x="0.00" y="0.00" font-size="6.3" text-anchor="end" fill="#34343c" stroke="#34343c" stroke-width="0.14" transform="translate(429.70 463.20) rotate(-90)">Memory CD4<tspan dy="-2.3" font-size="4.6">+</tspan></text>
<line x1="437.60" y1="458.00" x2="437.60" y2="460.00" stroke="#111" stroke-width="0.6"/>
<text x="0.00" y="0.00" font-size="6.3" text-anchor="end" fill="#34343c" stroke="#34343c" stroke-width="0.14" transform="translate(439.90 463.20) rotate(-90)">Memory CD8<tspan dy="-2.3" font-size="4.6">+</tspan><tspan dy="2.3"> (1)</tspan></text>
<line x1="447.70" y1="458.00" x2="447.70" y2="460.00" stroke="#111" stroke-width="0.6"/>
<text x="0.00" y="0.00" font-size="6.3" text-anchor="end" fill="#34343c" stroke="#34343c" stroke-width="0.14" transform="translate(450.00 463.20) rotate(-90)">Effector CD8<tspan dy="-2.3" font-size="4.6">+</tspan><tspan dy="2.3"> (2)</tspan></text>
<line x1="457.80" y1="458.00" x2="457.80" y2="460.00" stroke="#111" stroke-width="0.6"/>
<text x="0.00" y="0.00" font-size="6.3" text-anchor="end" fill="#34343c" stroke="#34343c" stroke-width="0.14" transform="translate(460.10 463.20) rotate(-90)">Memory CD8<tspan dy="-2.3" font-size="4.6">+</tspan><tspan dy="2.3"> (2)</tspan></text>
<line x1="467.60" y1="458.00" x2="467.60" y2="460.00" stroke="#111" stroke-width="0.6"/>
<text x="0.00" y="0.00" font-size="6.3" text-anchor="end" fill="#34343c" stroke="#34343c" stroke-width="0.14" transform="translate(469.90 463.20) rotate(-90)">Effector CD8<tspan dy="-2.3" font-size="4.6">+</tspan><tspan dy="2.3"> (1)</tspan></text>
<line x1="447.70" y1="455.90" x2="447.70" y2="406.30" stroke="#3a3a3e" stroke-width="0.55"/>
<line x1="443.60" y1="406.30" x2="451.80" y2="406.30" stroke="#16161a" stroke-width="0.9"/>
<line x1="443.60" y1="409.28" x2="451.80" y2="409.28" stroke="#16161a" stroke-width="0.9"/>
<line x1="443.60" y1="424.90" x2="451.80" y2="424.90" stroke="#16161a" stroke-width="0.8"/>
<line x1="443.60" y1="428.37" x2="451.80" y2="428.37" stroke="#16161a" stroke-width="0.9"/>
<line x1="443.60" y1="436.56" x2="451.80" y2="436.56" stroke="#16161a" stroke-width="0.9"/>
<line x1="443.60" y1="439.28" x2="451.80" y2="439.28" stroke="#16161a" stroke-width="1.0"/>
<line x1="443.60" y1="440.52" x2="451.80" y2="440.52" stroke="#16161a" stroke-width="0.6"/>
<line x1="443.60" y1="447.22" x2="451.80" y2="447.22" stroke="#16161a" stroke-width="1.2"/>
<line x1="443.59999999999997" y1="424.9" x2="451.8" y2="424.9" stroke="#fff" stroke-width="1" stroke-dasharray="0.8 2.2"/>
<line x1="443.59999999999997" y1="428.37199999999996" x2="451.8" y2="428.37199999999996" stroke="#fff" stroke-width="1" stroke-dasharray="0.6 2.6"/>
<path d="M443.5 456.5 L443.5 448.584 L451.9 448.584 L451.9 456.5 Z" fill="#16161a"/>
<path d="M445.7 456.59999999999997 L447.7 450.69199999999995 L449.7 456.59999999999997 Z" fill="#f4f4f8"/>
<line x1="447.70" y1="450.94" x2="447.70" y2="456.50" stroke="#16161a" stroke-width="0.5"/>
<path d="M444.3 448.584 L445.09999999999997 449.7 L445.9 448.584 Z M451.09999999999997 448.584 L450.3 449.7 L449.5 448.584 Z" fill="#fff"/>
<line x1="457.80" y1="455.90" x2="457.80" y2="406.30" stroke="#3a3a3e" stroke-width="0.55"/>
<line x1="453.70" y1="406.30" x2="461.90" y2="406.30" stroke="#16161a" stroke-width="0.9"/>
<line x1="453.70" y1="409.28" x2="461.90" y2="409.28" stroke="#16161a" stroke-width="0.9"/>
<line x1="453.70" y1="424.90" x2="461.90" y2="424.90" stroke="#16161a" stroke-width="0.8"/>
<line x1="453.70" y1="428.37" x2="461.90" y2="428.37" stroke="#16161a" stroke-width="0.9"/>
<line x1="453.70" y1="436.56" x2="461.90" y2="436.56" stroke="#16161a" stroke-width="0.9"/>
<line x1="453.70" y1="439.28" x2="461.90" y2="439.28" stroke="#16161a" stroke-width="1.0"/>
<line x1="453.70" y1="440.52" x2="461.90" y2="440.52" stroke="#16161a" stroke-width="0.6"/>
<line x1="453.70" y1="447.22" x2="461.90" y2="447.22" stroke="#16161a" stroke-width="1.2"/>
<line x1="453.7" y1="424.9" x2="461.90000000000003" y2="424.9" stroke="#fff" stroke-width="1" stroke-dasharray="0.8 2.2"/>
<line x1="453.7" y1="428.37199999999996" x2="461.90000000000003" y2="428.37199999999996" stroke="#fff" stroke-width="1" stroke-dasharray="0.6 2.6"/>
<path d="M453.6 456.5 L453.6 448.584 L462.0 448.584 L462.0 456.5 Z" fill="#16161a"/>
<path d="M455.8 456.59999999999997 L457.8 450.69199999999995 L459.8 456.59999999999997 Z" fill="#f4f4f8"/>
<line x1="457.80" y1="450.94" x2="457.80" y2="456.50" stroke="#16161a" stroke-width="0.5"/>
<path d="M454.40000000000003 448.584 L455.2 449.7 L456.0 448.584 Z M461.2 448.584 L460.40000000000003 449.7 L459.6 448.584 Z" fill="#fff"/>
<line x1="467.60" y1="455.90" x2="467.60" y2="406.30" stroke="#3a3a3e" stroke-width="0.55"/>
<line x1="463.50" y1="406.30" x2="471.70" y2="406.30" stroke="#16161a" stroke-width="0.9"/>
<line x1="463.50" y1="424.90" x2="471.70" y2="424.90" stroke="#16161a" stroke-width="0.8"/>
<line x1="463.50" y1="428.37" x2="471.70" y2="428.37" stroke="#16161a" stroke-width="0.9"/>
<line x1="463.50" y1="436.56" x2="471.70" y2="436.56" stroke="#16161a" stroke-width="0.9"/>
<line x1="463.50" y1="439.28" x2="471.70" y2="439.28" stroke="#16161a" stroke-width="1.0"/>
<line x1="463.50" y1="440.52" x2="471.70" y2="440.52" stroke="#16161a" stroke-width="0.6"/>
<line x1="463.50" y1="447.22" x2="471.70" y2="447.22" stroke="#16161a" stroke-width="1.2"/>
<line x1="463.5" y1="424.9" x2="471.70000000000005" y2="424.9" stroke="#fff" stroke-width="1" stroke-dasharray="0.8 2.2"/>
<line x1="463.5" y1="428.37199999999996" x2="471.70000000000005" y2="428.37199999999996" stroke="#fff" stroke-width="1" stroke-dasharray="0.6 2.6"/>
<path d="M463.40000000000003 456.5 L463.40000000000003 448.584 L471.8 448.584 L471.8 456.5 Z" fill="#16161a"/>
<path d="M465.6 456.59999999999997 L467.6 450.69199999999995 L469.6 456.59999999999997 Z" fill="#f4f4f8"/>
<line x1="467.60" y1="450.94" x2="467.60" y2="456.50" stroke="#16161a" stroke-width="0.5"/>
<path d="M464.20000000000005 448.584 L465.0 449.7 L465.8 448.584 Z M471.0 448.584 L470.20000000000005 449.7 L469.40000000000003 448.584 Z" fill="#fff"/>
<line x1="427.4" y1="455.9" x2="427.4" y2="436.06" stroke="#3a3a3e" stroke-width="0.5" stroke-dasharray="1.6 1"/>
<line x1="424.40" y1="436.06" x2="430.40" y2="436.06" stroke="#16161a" stroke-width="0.6"/>
<line x1="424.40" y1="447.22" x2="430.40" y2="447.22" stroke="#16161a" stroke-width="0.6"/>
<line x1="424.4" y1="436.06" x2="430.4" y2="436.06" stroke="#fff" stroke-width="0.8" stroke-dasharray="0.8 1.4"/>
<line x1="424.4" y1="447.21999999999997" x2="430.4" y2="447.21999999999997" stroke="#fff" stroke-width="0.8" stroke-dasharray="0.8 1.4"/>
<line x1="437.6" y1="455.9" x2="437.6" y2="436.06" stroke="#3a3a3e" stroke-width="0.5" stroke-dasharray="1.6 1"/>
<line x1="434.60" y1="436.06" x2="440.60" y2="436.06" stroke="#16161a" stroke-width="0.6"/>
<line x1="434.60" y1="447.22" x2="440.60" y2="447.22" stroke="#16161a" stroke-width="0.6"/>
<line x1="434.6" y1="436.06" x2="440.6" y2="436.06" stroke="#fff" stroke-width="0.8" stroke-dasharray="0.8 1.4"/>
<line x1="434.6" y1="447.21999999999997" x2="440.6" y2="447.21999999999997" stroke="#fff" stroke-width="0.8" stroke-dasharray="0.8 1.4"/>
<line x1="424.40" y1="439.78" x2="430.40" y2="439.78" stroke="#16161a" stroke-width="0.6"/>
<path d="M423.4 456.5 L423.79999999999995 453.916 L426.4 452.924 L429.0 452.676 L431.4 454.412 L431.4 456.5 Z" fill="#16161a"/>
<path d="M433.6 456.5 L434.20000000000005 454.412 L437.6 453.41999999999996 L441.40000000000003 454.65999999999997 L441.6 456.5 Z" fill="#16161a"/>
<line x1="407.30" y1="455.90" x2="407.30" y2="447.47" stroke="#3a3a3e" stroke-width="0.5"/>
<path d="M403.3 456.5 L404.3 454.90799999999996 L407.3 453.66799999999995 L410.7 454.90799999999996 L411.3 456.5 Z" fill="#16161a"/>
<circle cx="416.70" cy="450.20" r="0.30" fill="#16161a"/>
<circle cx="418.10" cy="450.94" r="0.30" fill="#16161a"/>
<circle cx="415.90" cy="452.18" r="0.30" fill="#16161a"/>
<circle cx="418.70" cy="452.68" r="0.30" fill="#16161a"/>
<path d="M413.5 456.5 L414.5 455.15599999999995 L417.5 454.412 L420.9 455.15599999999995 L421.5 456.5 Z" fill="#16161a"/>
<path d="M393.4 456.59999999999997 L394.4 455.77599999999995 L400.79999999999995 455.714 L401.4 456.59999999999997 Z" fill="#16161a"/>
<circle cx="405.10" cy="447.72" r="0.30" fill="#16161a"/>
<text x="8.60" y="16.30" font-size="11.5" font-weight="bold" fill="#111">A</text>
<text x="215.80" y="16.40" font-size="11.5" font-weight="bold" fill="#111">B</text>
<text x="354.30" y="16.40" font-size="11.5" font-weight="bold" fill="#111">C</text>
<text x="98.20" y="190.70" font-size="11.5" font-weight="bold" fill="#111">D</text>
<text x="337.80" y="190.90" font-size="11.5" font-weight="bold" fill="#111">E</text>
<text x="7.80" y="374.80" font-size="11.5" font-weight="bold" fill="#111">F</text>
<text x="201.00" y="374.80" font-size="11.5" font-weight="bold" fill="#111">G</text>
<text x="366.60" y="374.80" font-size="11.5" font-weight="bold" fill="#111">H</text>
<rect x="0.50" y="0.50" width="519.00" height="563.00" fill="none" stroke="#444" stroke-width="1.1"/>
</svg>
</body></html>
